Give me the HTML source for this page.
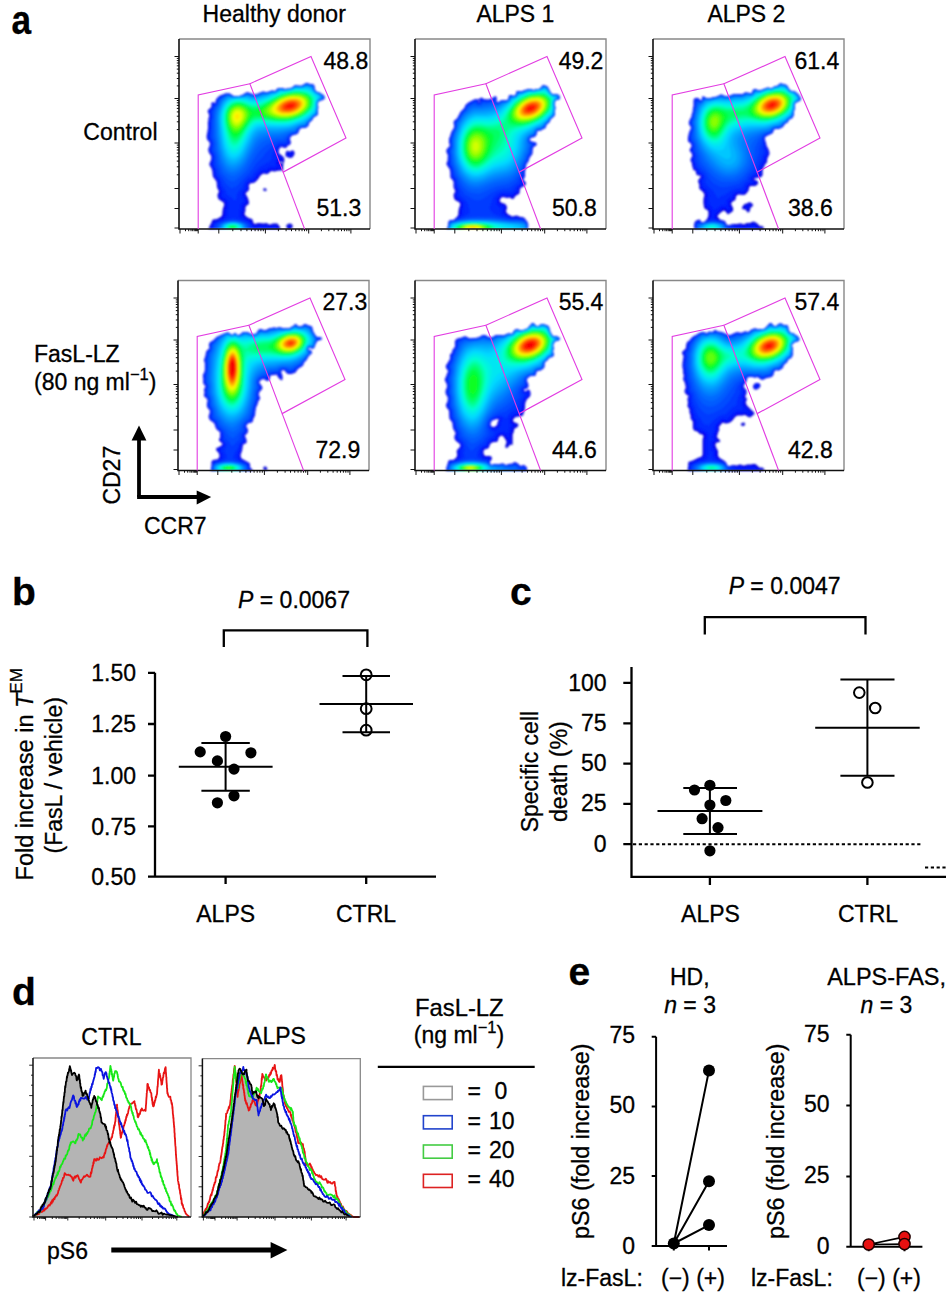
<!DOCTYPE html>
<html><head><meta charset="utf-8"><style>
html,body{margin:0;padding:0;background:#fff;width:946px;height:1292px;overflow:hidden}
svg{display:block}
text{font-family:"Liberation Sans", sans-serif;fill:#000;stroke:#000;stroke-width:0.3px}
</style></head><body>
<svg width="946" height="1292" viewBox="0 0 946 1292">
<rect width="946" height="1292" fill="#fff"/>
<text transform="translate(11.6 33.6) scale(0.86 1)" x="0" y="0" font-size="41" font-weight="bold">a</text>
<text x="274.2" y="22" font-size="23" text-anchor="middle">Healthy donor</text>
<text x="515.4" y="22" font-size="23" text-anchor="middle">ALPS 1</text>
<text x="746.4" y="22" font-size="23" text-anchor="middle">ALPS 2</text>
<text x="157.5" y="139.8" font-size="23" text-anchor="end">Control</text>
<text x="34" y="362.1" font-size="23">FasL-LZ</text>
<text x="34" y="390" font-size="23">(80 ng ml<tspan dy="-10" font-size="16.5">−1</tspan><tspan dy="10">)</tspan></text>
<path d="M139 497 V438" stroke="#000" stroke-width="3.8" fill="none"/>
<path d="M131.6 440.5 L139 425.6 L146.4 440.5 Z" fill="#000"/>
<path d="M137.1 497 H198" stroke="#000" stroke-width="4" fill="none"/>
<path d="M196.7 490.4 L211.2 497 L196.7 504.6 Z" fill="#000"/>
<text x="120" y="475.2" font-size="23" text-anchor="middle" transform="rotate(-90 120 475.2)">CD27</text>
<text x="144" y="533.5" font-size="23">CCR7</text>
<defs><filter id="sb" x="-5%" y="-5%" width="110%" height="110%"><feGaussianBlur stdDeviation="0.8"/></filter></defs>
<g filter="url(#sb)"><path d="M287.6 223.9 286.1 225.9 286.1 226.6 286.9 227.4 287.4 228.9 291.1 228.9 292.6 226.9 292.6 225.1 290.6 223.6ZM264.6 188.1 263.4 189.1 263.1 190.1 264.4 191.1 265.6 191.1 266.6 190.4 266.6 189.6 265.6 188.4ZM286.9 150.4 285.6 153.1 285.6 156.4 288.1 157.1 288.9 157.9 292.4 157.4 294.4 154.4 294.6 153.1 293.9 151.1 293.1 150.4 291.9 150.4 290.4 151.4 288.9 151.4ZM313.4 84.6 309.6 84.1 307.1 82.9 305.9 82.9 304.1 84.6 300.9 85.9 298.4 85.4 297.4 85.9 296.6 85.1 295.6 85.1 295.4 85.6 294.6 85.6 294.4 86.1 290.4 88.4 284.4 89.1 282.4 88.1 279.6 87.9 276.9 89.1 276.1 90.4 274.9 91.1 271.9 90.6 267.9 92.1 264.6 92.1 263.6 91.6 261.9 91.9 255.9 94.6 253.6 94.6 248.1 92.6 246.6 92.6 244.6 93.6 243.6 94.6 239.6 95.9 233.4 96.1 229.6 93.6 225.6 93.6 220.1 95.6 217.6 97.4 215.9 99.9 215.4 101.4 215.6 102.9 215.1 103.4 213.1 102.1 211.4 102.9 211.4 107.1 208.1 110.1 207.6 111.4 209.1 114.6 209.1 117.6 208.4 118.1 208.4 121.1 207.9 122.1 208.1 128.1 206.6 136.4 207.1 139.6 209.4 142.1 209.9 143.6 209.6 145.9 208.1 149.6 209.1 153.1 211.1 155.4 211.4 156.9 211.1 159.9 209.6 162.9 209.4 165.1 211.4 168.1 212.4 170.9 212.9 176.6 216.6 181.4 217.1 187.4 219.1 191.4 217.6 194.4 217.6 196.4 218.4 199.1 223.6 202.6 224.1 203.4 224.1 205.6 222.6 209.4 222.9 210.1 222.4 211.6 222.4 214.4 221.4 216.6 217.1 219.1 213.1 219.6 212.1 220.6 211.6 222.6 209.9 225.4 208.6 228.9 280.4 228.9 279.9 227.1 277.4 223.4 272.9 223.4 270.4 224.4 268.9 224.4 266.6 223.1 263.9 223.6 258.4 223.1 254.6 224.1 253.4 223.1 252.6 220.1 251.9 218.9 248.4 217.9 245.1 215.4 244.6 214.6 244.6 212.9 245.4 210.9 245.4 206.9 246.6 205.4 248.9 203.9 248.9 201.9 248.1 198.6 247.1 196.9 247.1 196.1 245.9 194.9 245.6 193.1 248.1 191.1 249.1 189.4 249.1 187.1 248.6 186.4 249.1 184.4 250.1 183.4 251.6 182.9 253.6 182.9 255.9 181.6 258.6 178.4 259.6 176.4 262.1 173.9 264.4 173.6 265.6 174.1 267.6 174.1 271.1 171.1 274.9 171.6 276.6 171.1 276.9 170.6 278.1 171.1 278.9 170.6 283.4 170.6 282.9 166.9 283.4 165.1 283.1 164.1 283.6 163.4 283.1 163.1 284.1 161.9 284.4 159.1 283.4 156.9 281.1 154.9 279.6 154.1 278.6 152.9 278.9 149.6 279.4 148.4 281.6 146.6 282.9 147.4 286.1 147.9 287.4 145.9 288.6 145.1 289.6 145.1 290.6 143.6 290.9 142.6 289.9 138.9 290.4 137.1 292.1 135.4 297.4 133.9 298.6 131.9 299.4 129.4 300.4 128.4 301.6 127.9 305.1 127.9 308.1 126.1 308.9 123.1 310.9 120.9 311.9 120.4 313.4 117.6 314.4 116.6 316.9 115.6 317.9 114.1 317.9 108.4 318.4 107.6 317.6 105.6 317.9 102.4 319.4 100.9 320.9 100.1 322.6 99.9 324.4 98.4 324.4 96.6 322.6 94.6 320.4 93.4 318.9 91.9 316.9 91.9 315.4 90.4 314.4 88.4 314.4 85.9ZM279.4 162.4 280.4 161.4 281.4 161.4 282.4 162.4 281.6 163.6 280.1 163.6Z" fill="rgb(0, 0, 215)" fill-rule="evenodd"/>
<path d="M288.6 225.1 287.9 226.1 288.6 227.4 288.9 228.9 289.6 228.9 289.6 228.1 291.1 225.9 290.1 225.1ZM293.1 151.9 292.1 151.4 290.6 152.4 288.6 152.4 287.4 151.6 286.4 155.4 289.4 156.6 291.6 156.4 293.4 153.9ZM313.4 84.6 309.6 84.1 307.1 82.9 305.9 82.9 304.1 84.6 300.9 85.9 298.4 85.4 297.4 85.9 296.6 85.1 295.6 85.1 295.4 85.6 294.6 85.6 294.4 86.1 290.4 88.4 284.4 89.1 282.4 88.1 279.6 87.9 276.9 89.1 276.1 90.4 274.9 91.1 271.9 90.6 267.9 92.1 264.6 92.1 263.6 91.6 261.9 91.9 255.9 94.6 253.6 94.6 248.1 92.6 246.6 92.6 244.6 93.6 243.6 94.6 239.6 95.9 233.4 96.1 229.6 93.6 225.6 93.6 223.6 94.4 222.9 95.1 220.1 95.9 217.9 97.6 216.1 100.1 215.9 103.1 215.4 103.6 214.4 103.6 213.6 102.9 211.9 103.1 211.9 107.4 208.6 110.6 208.4 111.4 209.6 114.4 209.6 117.9 208.9 118.4 208.9 121.4 208.4 122.4 208.6 128.4 207.4 136.6 207.9 139.4 209.1 140.6 210.4 143.4 210.1 146.1 209.1 148.6 209.4 152.1 211.6 155.1 211.9 159.9 210.1 164.6 212.1 167.6 213.1 170.4 213.4 175.1 213.9 176.6 217.4 180.9 218.1 186.9 220.1 190.9 219.6 193.4 218.9 194.4 218.9 196.1 219.6 198.6 223.4 200.6 225.4 202.9 225.4 206.4 224.4 208.4 223.9 214.4 222.6 217.4 220.4 219.1 217.6 220.4 213.9 220.9 210.9 226.1 210.1 228.9 278.9 228.9 276.4 224.9 273.4 224.9 270.9 225.9 268.4 225.9 266.1 224.6 264.1 225.1 260.9 225.1 258.4 224.6 256.4 225.4 254.4 225.4 252.4 223.6 250.6 219.9 247.6 219.1 243.9 216.1 243.1 214.9 243.1 212.9 243.9 210.9 243.9 206.9 244.6 205.4 247.6 203.1 246.9 199.1 245.9 197.4 245.9 196.6 244.6 195.1 244.4 193.4 244.6 192.6 247.6 189.9 248.1 188.9 247.6 185.9 248.4 183.6 249.9 182.4 251.1 181.9 253.1 181.9 255.4 180.6 259.4 174.9 261.4 172.9 262.6 172.4 267.1 172.9 270.6 169.9 274.6 170.1 276.1 169.4 281.6 169.4 281.4 167.9 281.9 164.9 279.1 164.6 278.1 163.4 278.1 161.9 280.1 160.1 281.6 160.1 282.9 160.9 283.1 159.4 282.4 157.4 278.1 154.1 277.6 152.9 278.1 149.4 278.9 147.9 281.4 146.1 285.4 147.1 287.1 145.4 289.4 144.4 290.4 142.6 289.6 139.9 290.1 137.1 292.1 135.1 297.6 133.6 299.4 129.4 300.4 128.4 301.6 127.9 305.1 127.9 307.6 126.6 308.6 125.1 308.9 123.1 310.9 120.9 311.9 120.4 313.4 117.6 314.4 116.6 316.1 116.1 317.4 115.1 317.9 114.1 317.9 108.4 318.4 107.6 317.6 105.6 317.9 102.4 319.4 100.9 323.6 99.4 324.4 98.4 324.4 96.6 322.6 94.6 320.4 93.4 318.9 91.9 316.9 91.9 315.4 90.4 314.4 88.4 314.4 85.9Z" fill="rgb(0, 12, 255)" fill-rule="evenodd"/>
<path d="M292.4 152.6 291.1 153.4 287.9 153.1 287.6 154.9 289.9 155.6 291.1 155.4 292.4 153.4ZM313.4 84.9 309.6 84.4 307.1 83.1 305.9 83.1 304.1 84.6 300.9 85.9 298.4 85.4 297.4 85.9 296.6 85.1 295.6 85.1 295.4 85.6 294.6 85.6 294.4 86.1 290.4 88.4 284.4 89.1 282.4 88.1 279.6 87.9 276.9 89.1 276.1 90.4 274.9 91.1 271.6 90.9 267.9 92.4 262.1 92.1 255.9 94.9 253.6 94.9 248.1 92.9 246.6 92.9 243.1 94.9 239.6 95.9 233.4 96.1 231.9 95.1 231.1 95.1 229.6 93.9 226.1 93.9 219.4 96.9 216.6 100.4 216.4 103.1 215.4 104.1 213.9 104.1 213.4 103.6 212.6 103.9 212.4 107.6 209.1 111.4 210.4 114.4 210.4 117.6 209.6 118.9 209.6 121.6 209.1 122.6 209.4 128.6 208.1 136.6 208.4 138.6 210.4 141.4 211.1 143.6 210.9 146.4 209.9 148.6 210.1 151.9 212.4 154.9 212.6 156.4 212.4 160.6 211.9 162.6 211.1 163.6 211.1 164.6 212.9 167.4 213.9 170.1 214.6 176.1 218.1 180.4 218.9 186.1 221.1 190.6 221.1 192.4 219.9 194.9 220.4 197.4 220.9 198.1 223.9 199.6 225.4 200.9 226.6 203.4 226.6 206.1 225.4 209.4 224.9 215.6 223.6 217.9 221.9 219.4 216.6 221.6 214.6 221.6 211.9 226.4 211.1 228.9 277.6 228.9 275.6 226.1 273.4 226.1 270.6 227.1 267.6 226.9 266.1 225.9 264.1 226.4 258.4 225.9 255.6 226.6 253.6 226.1 251.9 224.6 250.1 220.9 247.1 220.1 244.4 218.4 242.1 215.9 241.9 213.1 242.6 210.6 242.9 206.1 243.9 204.4 246.4 202.6 245.6 199.1 243.6 195.6 243.4 193.1 243.6 192.1 246.6 189.4 247.1 188.4 246.6 185.9 247.4 183.4 249.1 181.6 251.1 180.9 252.6 180.9 254.9 179.6 257.6 175.4 260.6 172.1 262.1 171.4 266.9 171.6 269.1 169.4 270.9 168.6 274.9 168.9 276.4 168.1 280.4 168.4 280.6 166.1 278.9 165.9 277.1 164.1 276.9 162.9 277.1 161.4 279.1 159.4 281.9 159.1 281.4 158.1 278.6 156.1 276.9 153.9 276.9 151.4 278.1 147.6 281.1 145.4 282.4 145.4 283.6 146.1 285.4 146.1 286.4 144.9 288.9 143.9 289.6 142.9 289.1 141.4 289.1 138.6 289.9 136.6 291.9 134.9 297.1 133.4 299.1 129.1 300.1 128.1 301.4 127.6 304.9 127.6 307.4 126.4 308.4 124.9 308.6 123.1 312.1 119.6 313.4 117.6 317.6 114.6 317.9 108.4 318.4 107.6 317.6 105.6 317.9 102.4 319.4 100.9 323.6 99.4 324.4 98.4 324.4 97.4 323.9 95.9 322.6 94.6 320.4 93.4 318.9 91.9 316.9 91.9 315.4 90.4 314.4 88.4 314.1 85.9Z" fill="rgb(0, 28, 255)" fill-rule="evenodd"/>
<path d="M313.1 85.1 309.6 84.6 306.9 83.4 305.9 83.4 304.4 84.9 301.1 86.1 297.1 86.1 295.9 85.4 295.6 85.9 294.9 85.9 291.1 88.4 286.1 89.4 284.4 89.4 282.1 88.4 279.9 88.1 277.1 89.4 276.4 90.6 275.1 91.4 271.1 91.1 267.4 92.6 262.1 92.4 256.1 95.1 253.4 95.1 247.9 93.1 246.9 93.1 241.9 95.6 239.6 96.1 233.1 96.4 230.4 94.6 228.1 93.9 225.1 94.6 219.6 97.4 217.1 100.6 216.6 103.6 215.1 104.9 213.4 104.6 213.4 106.6 212.9 108.1 210.1 111.1 210.1 112.1 210.9 113.6 210.9 118.4 210.4 119.1 210.4 121.1 209.9 122.4 210.1 128.4 208.9 136.9 209.1 138.4 211.1 141.1 211.6 142.9 211.6 146.1 210.6 148.9 210.6 150.9 212.9 154.4 213.4 156.6 213.1 160.9 211.9 164.4 213.9 167.6 214.9 170.6 215.4 175.4 218.1 178.6 219.1 180.6 219.9 186.1 221.4 188.4 222.6 191.4 222.6 193.1 221.9 195.9 222.6 196.9 225.9 198.6 228.4 201.4 229.1 204.1 229.1 207.1 228.1 210.6 228.1 214.4 227.1 217.4 225.1 219.1 223.1 220.1 215.1 222.9 212.9 226.4 212.6 228.9 255.1 228.9 252.6 226.9 248.9 221.9 242.9 219.6 239.4 216.9 238.9 212.9 239.6 210.6 240.1 206.1 240.9 204.1 243.4 201.4 243.4 200.1 241.6 196.1 241.6 193.6 242.1 191.9 245.4 188.6 245.4 186.4 246.6 182.9 248.6 180.9 253.1 179.1 254.4 177.9 257.1 173.6 260.4 170.4 263.1 169.4 266.1 169.4 268.1 167.4 269.6 166.6 272.6 166.1 274.1 166.4 275.4 165.9 274.9 165.1 274.9 161.9 275.4 160.4 277.9 158.1 275.9 155.1 275.9 151.4 277.4 147.1 280.4 144.9 282.6 144.6 283.9 145.4 285.1 145.4 286.1 144.1 288.6 143.1 288.9 142.6 288.4 138.9 289.4 136.6 291.4 134.6 296.9 133.1 298.9 128.9 300.1 127.9 301.4 127.4 304.4 127.4 307.1 126.1 308.1 124.9 308.4 122.9 312.1 119.4 313.1 117.4 314.1 116.4 315.9 115.9 317.1 114.9 317.6 113.9 317.6 108.4 318.1 107.6 317.6 106.1 317.9 102.4 319.4 100.6 323.4 99.1 324.1 98.1 324.1 96.9 322.4 94.9 320.1 93.6 318.6 92.1 316.9 92.1 315.1 90.4 314.1 88.6 314.1 86.4Z" fill="rgb(0, 44, 255)" fill-rule="evenodd"/>
<path d="M250.9 227.6 250.1 225.6 248.1 223.1 244.1 221.4 233.9 218.4 227.9 219.6 217.9 223.1 215.6 224.6 214.4 227.6 214.6 228.9 250.9 228.9ZM313.1 85.4 309.4 84.9 306.1 83.6 304.4 85.1 301.1 86.4 297.4 86.4 296.1 85.6 291.4 88.4 286.4 89.4 284.1 89.4 279.9 88.4 277.4 89.6 276.1 91.1 275.1 91.6 271.4 91.4 267.9 92.9 262.6 92.6 256.1 95.4 253.4 95.4 247.1 93.4 241.9 95.9 239.6 96.4 233.1 96.6 229.1 94.4 226.4 94.6 220.1 97.6 217.6 100.9 217.1 103.9 215.9 105.1 213.9 105.6 213.9 107.1 213.1 108.9 210.9 111.4 210.9 112.4 211.6 113.9 211.6 117.9 210.9 119.6 210.9 128.1 209.9 135.1 209.9 137.9 211.9 141.1 212.4 143.1 212.4 145.6 211.4 150.1 212.1 152.1 213.6 154.1 214.1 156.9 213.6 164.6 215.9 169.4 217.1 175.1 219.9 178.4 221.6 182.4 222.4 185.4 224.4 187.9 226.1 191.1 226.9 194.4 233.1 198.4 235.1 200.9 235.6 200.6 237.1 194.1 239.4 189.9 242.4 187.1 242.6 185.6 244.6 181.6 247.6 178.6 251.4 176.6 254.9 171.6 259.4 166.9 262.6 165.1 264.6 164.6 266.9 162.6 269.9 161.4 271.6 158.1 271.4 157.1 272.4 152.9 275.1 147.9 277.1 145.9 280.1 144.1 282.6 143.9 284.4 144.6 285.9 143.4 287.9 142.6 287.9 138.4 288.6 136.6 290.9 134.4 296.6 132.6 298.1 129.4 299.9 127.6 301.6 126.9 304.6 126.9 307.1 125.6 308.1 122.9 310.4 120.4 311.4 119.9 312.9 117.4 314.1 116.1 315.6 115.6 317.4 113.9 317.4 109.6 318.1 107.4 317.4 105.9 317.6 102.1 320.9 99.6 323.4 98.9 323.9 97.1 322.4 95.1 320.1 93.9 318.6 92.4 316.9 92.4 314.1 89.4 313.9 86.9Z" fill="rgb(0, 59, 255)" fill-rule="evenodd"/>
<path d="M216.1 226.6 216.1 228.1 216.6 228.9 248.6 228.9 249.1 227.9 248.9 226.1 247.1 223.9 241.1 221.4 234.4 220.1 229.6 220.4 221.1 222.6 217.4 224.6ZM312.9 85.6 309.1 85.1 306.4 83.9 304.6 85.4 302.1 86.4 297.4 86.6 296.1 85.9 291.4 88.6 286.4 89.6 284.1 89.6 282.4 88.9 280.1 88.6 277.4 89.9 276.4 91.1 274.9 91.9 271.4 91.6 267.9 93.1 262.4 93.1 256.4 95.6 253.1 95.6 247.9 93.9 246.6 93.9 244.1 95.4 241.6 96.1 233.4 96.9 229.4 94.9 227.4 94.9 221.1 97.6 219.4 99.1 217.9 101.6 217.6 104.1 215.9 105.9 214.6 106.4 213.9 109.1 212.4 111.9 212.6 115.6 211.9 121.4 211.6 137.4 212.9 140.4 213.4 142.9 213.1 150.1 214.6 153.4 215.4 156.9 215.9 164.4 219.6 174.4 222.1 177.4 226.1 184.1 229.6 186.9 232.1 188.1 232.9 188.1 237.6 185.4 241.6 180.4 249.9 172.6 256.4 163.1 263.1 156.4 265.4 153.1 271.9 146.6 274.9 144.4 279.4 142.4 284.6 142.1 285.9 141.6 288.9 135.4 291.1 133.6 296.4 132.1 298.1 128.6 299.9 127.1 301.1 126.6 304.1 126.6 306.9 125.4 307.9 122.6 310.1 120.1 311.6 119.1 312.6 117.1 313.9 115.9 316.6 114.6 317.1 113.6 317.4 108.1 317.9 107.4 317.1 105.9 317.4 102.4 319.1 100.4 323.1 98.6 323.4 96.9 322.1 95.4 318.6 92.6 316.4 92.4 313.9 89.4 313.4 86.4Z" fill="rgb(0, 75, 255)" fill-rule="evenodd"/>
<path d="M247.6 226.4 245.9 224.1 243.4 222.9 237.9 221.4 232.6 220.9 226.6 221.6 221.1 223.4 218.1 225.4 217.6 226.1 217.6 228.1 218.1 228.9 247.1 228.9 247.6 227.9ZM312.6 85.9 309.1 85.4 306.1 84.4 304.9 85.6 300.9 86.9 295.6 86.4 291.9 88.6 289.1 89.4 284.1 89.9 282.4 89.1 280.1 88.9 278.4 89.6 274.9 92.1 271.9 91.9 268.1 93.4 262.6 93.4 256.1 96.1 253.4 96.1 246.9 94.1 242.9 96.1 233.4 97.1 229.6 95.4 227.9 95.1 224.1 96.6 220.9 98.4 219.9 99.4 218.6 101.4 217.9 104.6 215.6 107.4 213.9 112.4 213.9 117.6 213.4 120.4 213.4 136.9 214.9 143.1 214.9 149.6 216.9 156.1 217.9 163.6 221.9 172.9 227.9 179.4 229.9 180.6 232.6 181.4 234.6 180.9 236.9 179.6 240.1 177.1 246.9 170.4 257.1 154.1 259.9 150.4 262.9 147.4 266.9 144.6 272.9 141.9 278.6 140.1 283.1 139.9 290.9 133.1 295.9 131.9 297.6 128.6 299.1 127.1 300.9 126.4 304.4 126.1 306.1 125.4 306.9 124.6 307.6 122.4 311.4 118.9 311.9 117.6 313.9 115.6 316.4 114.4 316.9 113.4 317.1 108.1 317.6 107.4 316.9 105.6 317.4 101.9 319.9 99.6 322.6 98.6 323.1 98.1 323.1 97.1 321.4 95.1 319.9 94.4 318.4 92.9 316.4 92.6 314.6 90.9 313.4 88.9 313.1 86.6Z" fill="rgb(0, 91, 255)" fill-rule="evenodd"/>
<path d="M218.6 226.9 219.4 228.9 245.6 228.9 246.6 227.1 246.1 225.6 244.4 224.1 240.9 222.6 235.9 221.6 229.9 221.6 224.9 222.6 220.4 224.6ZM322.1 96.1 320.4 95.1 318.4 93.1 316.4 92.9 313.9 90.4 312.4 86.1 309.6 85.9 306.4 84.6 305.4 85.6 303.1 86.6 300.9 87.1 295.9 86.6 291.6 88.9 285.9 90.1 284.1 90.1 280.4 89.1 278.1 90.1 276.6 91.6 274.9 92.4 271.1 92.4 269.9 93.1 266.9 93.9 262.6 93.9 256.6 96.4 252.9 96.4 247.4 94.4 243.9 96.1 241.9 96.6 233.9 97.4 231.6 96.9 229.1 95.6 227.6 95.6 225.9 96.1 222.9 97.9 220.9 99.9 219.6 101.9 218.9 104.6 216.9 107.9 215.9 110.6 215.1 114.9 214.6 123.9 215.1 136.6 216.4 143.1 216.6 149.4 217.6 152.1 220.1 163.4 224.4 171.4 227.4 174.1 231.4 176.1 234.1 176.1 236.6 175.1 239.9 172.9 245.4 167.1 256.4 148.1 261.4 142.6 264.9 140.6 267.9 139.6 273.4 138.4 281.4 137.4 289.9 132.9 295.1 131.6 296.1 130.6 296.9 128.9 298.9 126.9 301.1 125.9 304.9 125.6 306.1 124.9 307.1 122.4 310.9 118.9 312.1 116.9 313.6 115.4 315.6 114.6 316.4 113.9 317.1 107.6 316.9 102.6 318.6 100.1 322.9 97.9Z" fill="rgb(0, 107, 255)" fill-rule="evenodd"/>
<path d="M219.9 226.4 219.9 227.9 220.6 228.9 244.6 228.9 245.4 227.9 245.4 226.1 243.6 224.4 240.9 223.1 236.4 222.1 229.4 222.1 225.6 222.9 221.9 224.4ZM322.1 96.6 318.1 93.4 316.1 93.1 313.4 90.1 312.4 86.9 311.9 86.4 309.4 86.1 306.6 85.1 304.6 86.4 302.4 87.1 297.4 87.4 295.9 86.9 290.9 89.4 285.1 90.4 280.4 89.4 278.6 90.1 275.1 92.6 271.6 92.6 267.9 94.1 262.9 94.1 262.4 94.6 255.9 96.9 251.4 96.4 247.6 94.9 245.6 95.4 244.1 96.4 240.4 97.1 236.4 97.1 233.1 97.6 229.1 96.1 225.9 96.6 221.9 100.4 220.9 101.9 219.6 105.4 217.6 109.1 216.6 112.6 216.1 118.6 216.6 136.1 217.9 143.4 218.4 149.6 221.6 161.4 224.6 167.1 227.6 170.4 230.6 171.9 234.1 172.1 237.6 170.6 239.4 169.4 243.9 164.6 247.1 159.6 255.1 144.4 257.1 141.6 260.4 138.6 262.6 137.4 267.1 136.1 279.1 135.1 289.9 131.4 294.6 130.4 297.6 127.4 299.9 125.9 305.4 124.9 306.1 124.1 306.9 122.1 310.9 118.4 311.9 116.6 313.1 115.4 316.1 113.6 316.9 107.6 316.9 101.9 318.9 99.6 322.1 98.1 322.6 97.6Z" fill="rgb(0, 125, 255)" fill-rule="evenodd"/>
<path d="M220.9 226.4 220.9 227.9 221.9 228.9 243.4 228.9 244.6 227.4 244.1 225.6 242.9 224.6 240.1 223.4 234.9 222.4 230.6 222.4 225.4 223.4 222.1 224.9ZM321.9 96.9 317.9 93.6 316.6 93.6 315.1 92.6 312.9 89.9 311.9 86.9 306.4 85.6 304.9 86.6 300.9 87.6 297.4 87.6 295.9 87.1 292.4 89.1 284.4 90.6 281.9 89.9 279.9 89.9 278.4 90.6 276.9 92.1 275.1 92.9 271.9 92.9 268.1 94.4 262.9 94.6 256.6 97.1 252.9 97.1 247.6 95.4 243.4 96.9 240.4 97.4 232.6 97.9 228.6 96.4 226.9 97.1 222.6 101.1 220.9 104.4 218.4 110.4 217.4 116.9 217.9 134.1 219.6 147.9 222.4 157.9 225.6 164.4 228.4 167.1 231.6 168.6 235.1 168.4 239.6 165.6 242.6 162.4 245.6 157.9 254.6 140.4 256.1 138.4 259.9 135.1 262.9 133.9 265.4 133.4 277.6 132.9 283.4 131.9 288.1 130.4 293.4 129.4 299.6 125.6 303.6 124.9 305.4 124.1 306.6 121.9 310.9 117.9 310.9 117.4 313.4 114.9 315.6 113.6 316.6 107.6 316.6 101.9 319.1 99.1 322.1 97.6Z" fill="rgb(0, 143, 255)" fill-rule="evenodd"/>
<path d="M243.6 226.4 242.6 225.1 239.6 223.6 232.9 222.6 229.4 222.9 225.1 223.9 223.1 224.9 221.9 226.1 221.6 227.4 222.9 228.9 242.4 228.9 243.4 228.1ZM321.6 97.1 318.1 94.1 315.9 93.6 312.6 90.1 311.6 87.1 308.4 86.6 306.6 85.9 305.1 86.9 301.1 87.9 297.4 87.9 296.1 87.4 291.9 89.6 284.4 90.9 281.9 90.1 279.9 90.1 278.1 91.1 277.4 92.1 275.1 93.1 271.9 93.1 268.4 94.6 264.9 94.9 255.9 97.6 253.6 97.6 250.1 96.9 247.9 95.9 246.4 95.9 244.6 96.9 240.6 97.6 232.4 98.1 229.4 97.1 227.1 98.1 223.1 102.1 220.9 106.9 218.9 112.9 218.4 118.6 219.1 133.4 220.9 146.6 223.4 155.6 226.6 161.9 228.6 163.9 231.6 165.4 235.4 165.1 239.6 162.4 243.1 158.1 245.1 154.9 253.1 138.6 254.6 136.4 257.9 133.1 259.6 132.1 265.1 130.9 276.9 130.9 287.1 129.4 292.6 128.1 298.6 125.1 303.9 123.6 305.1 122.9 310.6 117.6 313.1 114.6 315.4 113.4 316.4 107.6 316.4 101.9 318.9 98.9 321.4 97.6Z" fill="rgb(0, 162, 255)" fill-rule="evenodd"/>
<path d="M222.4 226.9 222.9 228.1 223.9 228.9 241.6 228.9 242.9 227.4 242.6 226.1 241.4 224.9 239.1 223.9 235.6 223.1 230.1 223.1 226.4 223.9 223.6 225.1ZM321.1 97.1 317.9 94.4 315.4 93.6 312.6 90.6 311.4 87.9 306.1 86.6 303.9 87.6 301.1 88.1 295.6 87.9 292.4 89.6 286.6 90.9 282.6 90.9 281.6 90.4 280.1 90.4 277.1 92.6 275.4 93.4 271.4 93.6 267.1 95.4 256.1 98.6 251.9 98.4 247.6 96.9 245.1 96.9 242.6 97.6 236.9 97.9 235.1 98.4 232.1 98.4 230.1 97.9 227.4 99.1 223.6 103.1 221.9 106.9 219.9 112.9 219.4 118.6 220.4 133.6 222.4 147.1 223.9 152.4 226.1 157.4 228.6 160.6 231.6 162.4 234.9 162.4 238.1 160.6 240.9 157.9 243.4 154.4 252.9 135.4 256.1 131.6 259.1 129.9 264.1 128.9 277.4 129.1 286.4 128.1 291.4 127.1 298.4 124.1 303.9 122.4 309.4 118.4 312.6 114.6 315.1 113.4 316.1 107.6 315.9 102.9 316.4 101.4 318.4 98.9Z" fill="rgb(0, 180, 255)" fill-rule="evenodd"/>
<path d="M223.4 226.4 223.4 227.6 224.6 228.9 240.6 228.9 242.1 227.4 241.9 226.1 240.9 225.1 238.6 224.1 234.9 223.4 230.6 223.4 227.6 223.9 224.1 225.4ZM319.1 96.1 317.6 94.6 315.6 94.1 310.1 88.4 307.4 87.6 304.4 87.6 301.4 88.4 295.9 88.1 291.6 90.1 286.6 91.1 282.6 91.1 280.4 90.6 276.1 93.4 272.4 93.9 267.6 96.1 256.4 99.6 251.6 99.4 247.4 97.9 245.1 97.6 241.1 97.9 239.6 98.4 237.4 98.1 235.4 98.6 231.6 98.4 228.9 99.4 225.4 102.4 223.4 105.6 221.1 111.6 220.4 116.9 220.6 125.6 222.9 142.6 224.4 149.1 227.1 155.4 229.1 157.9 232.4 159.6 235.4 159.4 238.9 157.1 241.6 153.9 243.6 150.6 252.1 133.4 254.6 130.4 258.1 128.1 260.9 127.4 264.1 127.1 278.4 127.6 286.1 126.9 291.4 125.9 303.1 121.6 309.6 117.1 314.6 112.9 315.9 107.4 315.6 102.9 316.4 100.9 317.6 99.1 319.6 97.6Z" fill="rgb(0, 199, 255)" fill-rule="evenodd"/>
<path d="M224.1 226.4 224.1 227.6 225.6 228.9 239.6 228.9 241.4 227.1 241.1 226.1 240.4 225.4 237.4 224.1 234.4 223.6 231.1 223.6 227.1 224.4 225.4 225.1ZM317.6 95.9 309.4 89.1 305.9 88.4 295.9 88.4 292.4 90.1 286.4 91.4 280.6 91.1 275.6 93.9 271.9 94.9 268.6 96.6 258.1 100.4 252.6 100.6 246.9 98.9 241.6 98.1 239.6 98.6 232.9 98.9 228.6 100.6 226.1 102.9 223.9 106.6 222.1 111.4 221.4 115.4 221.4 123.1 223.4 138.4 225.1 146.6 227.6 152.6 230.4 155.9 232.6 156.9 234.6 156.9 237.6 155.4 240.1 152.9 242.4 149.6 249.6 134.6 251.6 131.4 254.6 128.1 257.1 126.6 262.4 125.6 270.1 126.1 282.6 126.1 288.6 125.4 301.9 121.1 308.9 116.6 312.9 113.1 314.9 110.6 315.6 107.4 315.4 102.9 316.1 100.6 318.1 98.4 318.1 96.6Z" fill="rgb(0, 217, 255)" fill-rule="evenodd"/>
<path d="M224.9 226.4 224.9 227.6 226.6 228.9 238.6 228.9 239.6 228.4 240.6 227.1 240.4 226.1 239.1 225.1 233.9 223.9 228.4 224.4 225.9 225.4ZM316.9 96.6 312.4 92.4 308.6 89.9 304.4 89.1 295.6 88.9 291.6 90.6 286.4 91.6 280.6 91.9 267.9 97.9 260.9 100.6 256.9 101.6 252.1 101.6 247.6 100.1 241.4 98.9 234.9 99.1 229.6 101.1 226.6 103.6 224.9 106.4 223.1 110.9 222.1 116.4 222.4 124.1 224.4 137.4 226.4 145.9 228.4 150.4 230.4 152.9 232.6 154.1 234.9 154.1 237.4 152.9 239.9 150.4 242.6 146.1 248.4 134.1 250.6 130.4 254.4 126.4 256.6 125.1 259.6 124.4 266.4 124.4 274.6 125.1 281.4 125.1 288.4 124.4 292.6 123.4 300.6 120.6 305.6 117.9 311.6 113.1 314.1 110.1 315.1 108.1 315.1 102.9 315.6 101.1 316.9 99.4Z" fill="rgb(0, 230, 242)" fill-rule="evenodd"/>
<path d="M225.6 226.4 225.9 227.9 227.6 228.9 237.6 228.9 239.1 228.1 239.9 227.1 239.4 225.9 238.1 225.1 232.9 224.1 228.6 224.6ZM315.6 96.9 311.9 93.1 308.1 90.6 304.1 89.9 295.1 89.6 291.6 90.9 280.6 92.6 267.1 99.1 257.4 102.6 251.6 102.6 245.6 100.6 240.6 99.6 236.4 99.6 230.9 101.4 227.1 104.4 224.9 108.4 223.4 113.1 222.9 118.4 223.4 125.1 225.1 135.4 226.6 141.9 229.1 148.1 231.4 150.6 232.9 151.4 234.9 151.4 237.4 150.1 239.4 148.1 241.6 144.9 247.6 132.9 250.1 128.9 253.6 125.1 255.1 124.1 258.4 123.1 265.6 123.1 276.6 124.1 287.1 123.6 292.9 122.4 299.6 120.1 303.6 118.1 308.4 114.9 313.1 110.1 314.9 106.1 314.9 102.9 315.9 100.1Z" fill="rgb(0, 242, 227)" fill-rule="evenodd"/>
<path d="M226.4 226.4 226.4 227.4 228.9 228.9 236.4 228.9 237.9 228.4 239.1 227.1 238.1 225.6 235.1 224.6 230.4 224.6 227.6 225.4ZM314.6 97.4 311.4 93.9 307.6 91.4 303.9 90.6 296.4 90.1 287.6 91.6 280.6 93.4 265.9 100.6 261.1 102.6 256.4 103.9 251.1 103.6 244.9 101.4 239.9 100.4 235.4 100.6 230.4 102.6 226.9 106.1 225.4 109.1 223.9 114.9 223.9 122.1 224.6 127.4 226.9 137.9 229.4 144.9 232.1 148.1 233.4 148.6 234.9 148.6 237.4 147.4 240.9 143.1 247.1 131.4 249.9 127.1 252.4 124.4 255.6 122.4 257.4 121.9 264.4 121.9 276.4 123.1 285.9 122.9 293.4 121.4 298.6 119.6 302.9 117.6 308.6 113.6 312.9 108.9 314.6 103.4Z" fill="rgb(0, 253, 212)" fill-rule="evenodd"/>
<path d="M227.1 226.6 227.1 227.4 227.6 227.9 230.4 228.9 234.9 228.9 237.4 228.1 238.1 227.4 238.1 226.4 237.6 225.9 234.6 224.9 229.6 225.1 228.1 225.6ZM313.4 97.4 310.6 94.4 307.1 92.1 302.1 91.1 295.6 90.9 288.1 92.1 281.1 93.9 260.6 103.9 255.9 105.1 251.6 104.9 243.4 101.9 239.1 101.1 235.6 101.4 231.1 103.1 227.4 106.9 225.6 110.6 224.6 115.1 224.6 121.6 225.6 127.9 228.1 137.6 230.4 142.9 232.4 145.1 233.4 145.6 235.4 145.6 237.9 144.1 241.6 139.1 246.1 130.9 249.4 125.9 252.1 122.9 254.9 121.1 260.4 120.4 275.4 122.1 284.9 122.1 288.9 121.6 294.9 120.1 299.1 118.6 303.1 116.6 308.9 112.4 311.9 108.9 313.1 106.1 313.9 102.6 313.9 99.4Z" fill="rgb(0, 255, 177)" fill-rule="evenodd"/>
<path d="M227.9 226.9 228.6 227.9 231.1 228.6 234.4 228.6 236.1 228.1 237.4 227.1 236.6 225.9 233.9 225.1 230.1 225.4 228.4 226.1ZM312.4 97.6 310.1 95.1 306.6 92.9 300.1 91.6 294.6 91.6 288.4 92.6 280.9 94.6 262.6 104.1 255.9 106.4 252.6 106.4 250.6 105.9 244.4 103.1 240.6 102.1 235.9 102.1 232.9 103.1 229.9 105.1 227.9 107.6 226.6 110.1 225.4 115.1 225.4 121.1 225.9 124.6 227.6 131.9 229.6 137.6 230.6 139.6 232.6 142.1 233.6 142.6 235.9 142.6 237.1 141.9 240.4 138.4 246.4 128.4 250.1 123.1 252.9 120.6 255.6 119.4 260.6 119.1 274.1 121.1 284.4 121.4 291.1 120.4 299.6 117.6 305.9 113.9 310.9 108.9 311.9 107.1 312.9 103.6 312.9 99.6Z" fill="rgb(0, 255, 139)" fill-rule="evenodd"/>
<path d="M228.9 226.6 228.9 227.1 229.9 227.9 232.6 228.4 234.6 228.1 236.4 227.1 235.9 226.1 234.6 225.6 230.9 225.6ZM311.6 98.6 309.9 96.1 306.1 93.6 300.9 92.4 295.9 92.1 287.6 93.4 281.4 95.1 272.9 99.4 261.4 105.9 255.6 107.9 251.9 107.6 244.4 104.1 241.1 103.1 236.4 102.9 234.4 103.4 231.1 105.1 228.6 107.9 227.1 110.9 226.1 115.1 226.1 120.9 227.9 129.1 230.9 136.6 232.9 139.1 234.6 139.9 237.1 139.1 241.1 134.9 249.9 121.6 252.1 119.4 254.9 117.9 259.4 117.6 275.4 120.4 284.4 120.6 290.1 119.9 298.4 117.4 305.4 113.4 309.4 109.6 311.1 106.6 311.9 104.1 312.1 101.1Z" fill="rgb(0, 255, 101)" fill-rule="evenodd"/>
<path d="M235.1 226.6 232.6 225.9 230.1 226.6 230.1 227.1 230.9 227.6 233.4 227.9 234.9 227.4ZM310.6 98.9 307.9 95.6 305.9 94.4 299.6 92.9 294.4 92.9 289.1 93.6 281.1 95.9 272.6 100.4 260.6 107.6 255.1 109.9 253.6 109.9 251.4 109.1 247.6 106.9 241.6 104.1 237.1 103.6 234.1 104.4 231.9 105.6 229.6 107.9 228.4 109.9 227.1 113.6 226.9 120.6 229.1 129.6 231.1 133.9 232.6 135.9 234.1 136.9 236.4 136.9 237.4 136.4 241.1 132.6 250.4 119.1 253.4 116.4 255.4 115.6 258.9 115.9 269.6 118.6 279.1 119.9 287.4 119.6 293.4 118.4 297.9 116.9 304.1 113.4 309.1 108.6 310.1 106.9 311.1 103.4 311.1 100.9Z" fill="rgb(0, 255, 63)" fill-rule="evenodd"/>
<path d="M239.6 104.6 235.4 104.9 231.6 106.9 229.1 110.1 227.9 113.9 227.6 120.1 228.9 125.9 230.1 129.1 231.9 132.1 234.6 134.4 236.4 134.4 237.6 133.9 241.1 130.6 246.4 123.1 251.9 114.1 251.9 112.4 248.4 108.9 243.6 105.9ZM309.9 99.6 309.1 98.1 307.1 96.1 304.9 94.9 301.6 93.9 295.6 93.4 290.9 93.9 285.4 95.1 281.6 96.4 276.1 99.1 260.9 109.1 258.6 111.6 258.6 112.6 260.4 114.4 263.6 115.9 274.9 118.6 279.4 119.1 285.6 119.1 291.9 118.1 296.6 116.6 301.4 114.4 304.6 112.1 308.1 108.6 309.4 106.4 310.1 103.9Z" fill="rgb(16, 255, 36)" fill-rule="evenodd"/>
<path d="M240.1 105.6 235.9 105.6 232.4 107.4 230.4 109.6 228.6 114.1 228.4 119.6 229.6 125.1 231.9 129.6 232.9 130.9 234.9 132.1 236.6 132.1 238.6 131.1 241.6 128.1 247.1 119.9 249.4 114.6 249.1 112.4 246.6 109.1 243.9 107.1ZM309.1 100.6 308.1 98.4 306.4 96.6 304.1 95.4 299.1 94.1 293.6 94.1 285.6 95.6 281.9 96.9 277.9 98.9 270.1 103.9 263.1 109.6 262.4 111.1 262.4 112.4 263.6 113.9 267.6 115.9 277.1 118.1 286.4 118.4 293.1 117.1 296.9 115.9 301.4 113.6 303.9 111.9 307.1 108.6 308.9 105.4 309.4 102.6Z" fill="rgb(56, 255, 25)" fill-rule="evenodd"/>
<path d="M238.6 106.4 235.1 106.9 231.6 109.4 230.1 111.9 229.1 116.1 229.4 120.6 230.6 124.9 232.1 127.6 234.1 129.6 235.6 130.1 238.4 129.4 241.6 126.4 245.9 119.9 247.6 114.9 246.9 111.6 244.1 108.6 241.6 107.1ZM308.1 100.6 307.1 98.6 305.6 97.1 302.6 95.6 299.6 94.9 294.9 94.6 286.9 95.9 281.6 97.6 272.9 102.9 269.4 105.6 265.9 109.1 265.1 110.6 265.1 111.9 265.9 113.1 269.1 115.1 277.4 117.4 287.4 117.6 292.6 116.6 299.6 113.9 303.4 111.4 306.4 108.4 308.1 104.9Z" fill="rgb(96, 255, 14)" fill-rule="evenodd"/>
<path d="M239.9 107.6 237.1 107.4 233.9 108.6 231.4 111.4 230.1 114.9 230.1 119.9 231.1 123.4 232.9 126.4 235.6 128.1 238.6 127.4 241.4 124.9 244.1 120.9 245.9 116.6 246.1 114.4 245.1 111.4 242.9 109.1ZM307.1 100.6 305.1 97.9 302.4 96.4 299.9 95.6 292.4 95.4 287.1 96.4 282.6 97.9 279.1 99.6 272.9 103.9 268.4 108.4 267.6 109.9 267.6 111.6 268.4 112.9 270.1 114.1 272.9 115.4 277.6 116.6 285.9 117.1 292.1 116.1 296.6 114.6 299.6 113.1 302.6 111.1 305.4 108.4 306.6 106.4 307.4 104.1Z" fill="rgb(137, 255, 4)" fill-rule="evenodd"/>
<path d="M239.1 108.6 236.4 108.6 233.9 109.9 232.4 111.6 231.1 114.6 230.9 118.1 231.6 121.6 232.9 124.1 235.4 126.1 237.4 126.1 239.6 124.9 242.4 121.6 244.4 117.4 244.6 113.9 243.6 111.6 241.9 109.9ZM306.4 101.6 305.6 99.9 304.4 98.4 300.9 96.6 297.1 95.9 293.4 95.9 287.4 96.9 280.4 99.6 273.9 104.1 270.1 108.4 269.6 111.1 270.1 112.1 271.9 113.6 276.9 115.6 281.4 116.4 287.1 116.4 291.6 115.6 297.4 113.6 302.1 110.6 304.6 108.1 306.1 105.4Z" fill="rgb(174, 255, 0)" fill-rule="evenodd"/>
<path d="M238.9 109.9 236.6 109.9 234.9 110.6 232.9 112.9 232.1 114.9 231.9 117.4 232.6 120.9 233.4 122.4 234.9 123.9 236.4 124.4 238.4 123.9 240.9 121.6 242.6 118.6 243.1 116.9 243.1 113.9 242.6 112.6 241.4 111.1ZM305.4 101.9 304.6 100.1 303.1 98.6 299.1 96.9 291.6 96.6 286.9 97.6 281.6 99.6 275.1 104.1 272.1 107.6 271.4 109.6 271.6 111.1 273.1 112.9 275.4 114.1 281.1 115.6 288.1 115.6 292.9 114.6 296.4 113.4 299.6 111.6 303.6 108.1 305.4 104.6Z" fill="rgb(209, 255, 0)" fill-rule="evenodd"/>
<path d="M238.6 111.4 236.6 111.4 234.9 112.4 233.4 115.1 233.1 117.4 234.1 120.6 235.9 122.1 237.6 122.1 238.6 121.6 240.4 119.9 241.4 117.9 241.4 113.9 240.1 112.1ZM304.4 101.9 303.6 100.4 302.4 99.1 298.1 97.4 292.4 97.1 287.1 98.1 281.1 100.6 276.6 103.9 274.1 106.6 273.1 108.9 273.1 110.1 273.6 111.4 274.6 112.4 277.4 113.9 279.9 114.6 286.9 115.1 292.4 114.1 298.4 111.6 302.6 108.1 304.4 104.9Z" fill="rgb(244, 255, 0)" fill-rule="evenodd"/>
<path d="M238.4 113.6 236.1 113.9 235.1 115.4 235.1 118.1 236.1 119.4 236.9 119.6 237.9 119.4 239.1 118.1 239.6 116.9 239.6 115.1ZM303.4 102.1 302.1 100.1 298.1 98.1 291.1 97.9 287.6 98.6 281.1 101.4 278.4 103.4 275.6 106.4 274.9 107.9 274.6 109.6 275.1 110.9 276.6 112.4 280.1 113.9 282.9 114.4 287.9 114.4 292.9 113.4 296.6 111.9 301.4 108.4 303.4 104.9Z" fill="rgb(255, 234, 0)" fill-rule="evenodd"/>
<path d="M302.1 101.9 300.6 100.1 296.9 98.6 292.4 98.4 287.1 99.4 282.9 101.1 279.9 103.1 276.9 106.4 276.1 109.4 277.6 111.6 281.6 113.4 288.6 113.6 293.1 112.6 297.9 110.4 301.1 107.4 302.4 104.9Z" fill="rgb(255, 203, 0)" fill-rule="evenodd"/>
<path d="M301.1 102.4 299.6 100.6 297.6 99.6 295.4 99.1 291.4 99.1 287.6 99.9 284.4 101.1 281.1 103.1 278.6 105.6 277.6 107.9 277.6 109.1 278.6 110.9 282.1 112.6 289.1 112.9 291.6 112.4 295.6 110.9 299.9 107.6 301.4 104.6Z" fill="rgb(255, 172, 0)" fill-rule="evenodd"/>
<path d="M300.1 103.1 298.1 100.9 295.1 99.9 290.9 99.9 286.1 101.1 282.1 103.4 279.6 106.1 279.1 108.9 280.6 110.9 282.9 111.9 289.4 112.1 293.9 110.9 297.4 108.9 299.9 105.9Z" fill="rgb(255, 141, 0)" fill-rule="evenodd"/>
<path d="M298.9 103.6 297.6 101.9 295.6 100.9 290.9 100.6 288.4 101.1 284.4 102.9 282.6 104.1 280.9 106.4 280.6 108.6 282.1 110.4 284.9 111.4 289.4 111.4 291.6 110.9 296.6 108.4 298.6 105.9Z" fill="rgb(255, 109, 0)" fill-rule="evenodd"/>
<path d="M297.4 103.9 296.1 102.4 294.4 101.6 291.9 101.4 288.9 101.9 286.1 102.9 283.9 104.4 282.6 105.9 282.1 107.9 283.4 109.6 285.1 110.4 288.4 110.6 291.1 110.1 295.4 108.1 297.4 105.6Z" fill="rgb(255, 77, 0)" fill-rule="evenodd"/>
<path d="M295.6 104.1 294.6 103.1 293.4 102.6 288.9 102.9 284.9 105.1 284.1 106.4 284.1 107.9 285.1 108.9 286.4 109.4 291.1 109.1 293.9 107.9 295.4 106.4Z" fill="rgb(255, 44, 0)" fill-rule="evenodd"/>
<path d="M293.4 104.9 291.4 103.9 289.4 104.1 286.9 105.6 286.6 107.1 288.6 108.1 290.6 107.9 292.9 106.6Z" fill="rgb(253, 17, 0)" fill-rule="evenodd"/></g>
<g filter="url(#sb)"><path d="M547.4 86.4 544.6 85.6 542.6 85.6 540.1 88.4 538.9 88.9 537.1 88.9 535.9 89.6 533.6 90.1 529.1 89.1 523.6 90.6 521.9 91.6 519.9 91.6 517.4 90.9 516.6 91.4 516.1 94.1 515.1 95.4 513.4 95.9 511.1 94.9 510.1 95.4 509.6 95.1 508.9 95.9 508.6 98.4 507.6 99.9 505.9 100.6 500.9 100.4 498.6 102.1 497.6 102.4 496.4 101.4 496.6 97.4 495.9 96.4 494.6 96.4 491.9 98.4 488.1 99.6 486.1 99.6 483.4 98.9 481.9 97.6 479.6 98.4 479.4 99.4 474.4 99.4 468.6 102.4 465.6 104.9 464.4 108.1 460.9 111.4 457.1 118.4 453.9 121.1 453.6 122.9 454.4 126.6 453.4 129.1 451.9 131.1 450.4 135.1 450.4 136.1 449.1 138.6 448.9 141.4 449.9 145.6 449.1 147.1 447.9 147.9 446.4 149.9 446.4 151.9 447.9 154.9 447.6 161.1 446.6 163.1 446.6 164.6 449.9 169.4 450.4 172.6 450.4 177.4 453.1 180.4 453.6 181.9 453.6 187.4 455.1 190.4 455.1 191.9 453.6 194.4 453.9 197.6 454.4 199.1 455.1 199.9 459.6 202.6 460.1 203.4 460.1 205.6 458.6 209.4 458.9 210.1 458.4 211.6 458.4 214.4 457.4 216.6 453.6 220.1 450.4 219.9 448.9 220.9 447.4 228.9 528.1 228.9 528.1 224.1 527.4 222.9 527.1 221.4 525.4 219.4 525.1 218.4 522.6 216.9 520.1 217.1 516.9 215.6 511.9 216.6 509.6 214.9 508.1 214.4 506.1 211.9 506.1 210.4 506.9 208.4 506.9 207.1 506.1 205.1 504.4 203.4 502.9 203.4 502.6 202.9 500.9 202.6 499.9 201.6 499.9 199.9 500.4 198.6 501.6 197.4 502.6 197.1 505.4 197.4 506.6 198.1 509.9 197.6 512.1 198.9 513.6 199.1 513.9 198.1 515.9 195.6 518.9 194.1 519.6 192.9 519.9 188.9 521.1 187.6 524.4 185.9 525.9 184.1 525.9 182.6 523.4 180.1 523.4 179.1 524.1 178.4 525.1 175.9 525.1 171.6 526.4 164.1 528.6 161.1 529.6 157.6 532.4 153.9 532.6 149.1 533.1 147.4 534.1 146.4 536.1 145.4 536.6 144.6 536.6 143.6 535.4 142.4 532.1 141.9 530.4 141.1 529.6 140.1 529.6 139.1 531.4 137.4 534.4 136.9 535.6 135.9 536.6 134.1 537.1 131.4 537.9 130.4 540.6 130.6 543.1 128.9 544.6 128.4 545.9 126.9 546.1 125.4 547.1 123.9 549.6 121.9 550.6 119.1 553.9 116.6 555.1 113.6 554.9 110.4 555.4 107.9 555.1 106.4 554.4 105.1 554.4 102.6 556.1 100.1 558.9 99.4 559.9 98.4 559.6 96.1 557.9 94.6 553.1 94.6 551.9 93.9 550.6 92.4ZM478.9 100.4 479.6 100.6 479.6 101.9 479.1 102.4 478.4 101.9 478.4 100.9Z" fill="rgb(0, 0, 215)" fill-rule="evenodd"/>
<path d="M547.4 86.4 544.6 85.6 542.6 85.6 540.1 88.4 538.9 88.9 537.1 88.9 535.9 89.6 533.6 90.1 529.1 89.1 523.6 90.6 521.9 91.6 519.9 91.6 517.4 90.9 516.6 91.4 516.1 94.1 515.1 95.4 513.4 95.9 511.1 94.9 510.1 95.4 509.6 95.1 508.9 95.9 508.6 98.4 507.6 99.9 505.9 100.6 500.9 100.4 498.6 102.1 497.6 102.4 496.4 101.4 496.4 97.4 495.9 96.6 494.9 96.6 492.4 98.4 488.4 99.9 484.9 99.6 483.1 99.1 482.1 98.1 479.9 98.6 479.6 99.6 474.6 99.6 468.9 102.6 465.9 105.1 464.1 108.9 460.6 112.1 457.4 118.4 454.4 120.9 453.9 122.9 454.6 126.4 453.9 128.6 451.4 132.9 450.6 136.1 449.4 138.9 449.1 141.1 450.1 145.6 449.4 147.4 447.6 148.6 446.9 150.1 446.9 151.6 448.1 154.4 448.1 161.4 447.4 162.6 447.1 164.4 450.1 168.4 450.9 172.4 450.9 176.9 453.6 180.1 454.1 181.6 454.4 187.1 455.9 190.1 455.9 192.4 454.6 194.9 455.4 198.6 459.4 200.9 461.1 202.9 461.4 205.6 460.4 207.9 459.9 213.4 458.9 216.1 457.9 217.4 454.6 219.4 453.9 220.4 450.6 220.1 449.1 220.9 448.4 222.4 448.4 224.9 447.4 228.9 528.1 228.9 527.9 227.6 528.4 225.4 527.4 221.9 524.6 218.9 522.9 217.9 519.9 217.9 517.1 216.9 511.4 217.4 510.1 216.9 509.1 215.9 507.4 215.4 505.9 214.1 504.6 211.9 504.6 210.4 505.4 208.4 505.4 206.9 503.9 204.6 502.4 204.6 501.9 204.1 500.4 203.9 498.9 202.4 498.6 201.1 499.4 198.1 500.9 196.6 502.4 196.1 505.9 196.4 506.6 196.9 510.4 196.6 512.9 197.6 515.4 194.6 518.1 193.1 518.6 192.4 518.6 189.6 519.1 188.4 520.6 186.9 523.1 185.6 524.9 184.1 524.9 182.4 522.9 180.6 522.9 178.9 523.6 178.1 524.6 175.6 525.1 169.4 526.1 164.1 528.4 161.1 529.1 158.1 532.1 153.6 532.4 149.1 532.9 147.4 536.4 144.4 536.4 143.6 535.4 142.6 530.4 141.1 529.6 140.1 529.6 139.1 531.4 137.4 534.4 136.9 535.6 135.9 536.6 134.1 537.1 131.4 537.9 130.4 540.6 130.6 543.1 128.9 544.6 128.4 545.9 126.9 546.1 125.4 547.1 123.9 549.6 121.9 550.6 119.1 553.9 116.6 554.9 114.6 554.9 110.4 555.4 107.4 554.4 105.1 554.4 102.6 556.1 100.1 558.9 99.4 559.9 98.4 559.9 96.6 557.9 94.6 553.1 94.6 551.9 93.9 550.6 92.4ZM478.6 100.1 479.9 100.4 479.9 101.9 479.1 102.6 478.1 101.9 478.1 100.6Z" fill="rgb(0, 12, 255)" fill-rule="evenodd"/>
<path d="M547.4 86.4 544.6 85.6 542.6 85.6 540.1 88.4 538.9 88.9 537.1 88.9 535.9 89.6 533.6 90.1 529.1 89.1 523.6 90.6 521.9 91.6 519.1 91.6 517.4 91.1 516.9 91.4 516.9 92.6 515.1 95.4 513.4 95.9 511.1 95.1 509.1 95.9 508.6 98.9 506.6 100.6 501.1 100.6 498.9 102.4 497.9 102.6 496.9 102.4 495.9 101.4 495.6 97.1 493.9 97.6 492.1 99.1 488.4 100.4 485.9 100.4 482.9 99.6 481.9 98.6 480.6 98.9 480.1 99.9 480.4 101.9 479.6 102.9 478.4 102.9 477.9 102.4 477.9 100.1 474.9 100.1 468.9 103.1 466.4 105.1 464.9 108.6 461.4 111.9 457.6 118.6 454.6 121.4 454.4 123.6 454.9 126.9 451.6 133.4 451.1 136.1 449.9 138.9 449.6 141.1 450.6 144.6 450.4 146.4 447.4 150.4 447.6 152.1 448.4 152.9 448.9 154.6 448.6 161.6 447.9 164.1 450.9 168.9 451.1 171.6 451.6 172.6 451.6 176.9 454.1 179.6 454.9 181.4 455.1 186.6 456.9 190.4 456.9 192.4 455.6 194.6 456.1 197.6 461.4 201.4 462.1 202.6 462.4 205.9 461.4 208.4 460.9 211.6 461.1 212.9 460.1 215.9 458.4 217.9 455.1 219.6 454.1 220.6 450.6 220.6 449.4 221.4 448.6 222.6 448.6 224.4 448.1 225.1 447.4 228.9 527.9 228.9 527.9 224.1 526.6 221.6 523.9 219.1 522.6 218.6 518.9 218.4 517.1 217.6 511.4 218.1 506.1 215.6 503.6 212.6 503.6 209.6 504.1 208.4 503.9 206.4 503.4 205.9 500.4 205.1 498.4 203.6 497.6 202.1 497.6 199.9 498.9 197.1 500.6 195.6 502.4 195.1 505.9 195.4 506.9 195.9 510.9 195.6 512.4 196.4 514.9 193.6 517.4 192.4 518.1 188.1 520.1 186.1 524.1 183.6 524.1 183.1 522.1 180.9 522.1 178.6 523.1 177.6 524.1 175.4 524.1 171.6 524.6 170.9 525.6 164.1 528.1 160.6 528.6 158.1 531.6 153.6 531.9 149.1 532.6 146.9 535.9 144.4 535.9 143.9 534.9 142.9 531.9 142.1 531.4 142.4 529.4 140.4 529.4 138.9 531.1 137.1 534.1 136.6 535.4 135.6 536.4 133.9 536.9 131.4 537.9 130.1 540.4 130.4 542.9 128.6 544.4 128.1 545.6 126.6 545.9 125.4 546.9 123.9 549.4 121.9 550.6 119.1 553.9 116.6 554.9 114.6 554.9 110.4 555.4 107.4 554.4 105.1 554.4 102.6 556.1 100.1 558.9 99.4 559.9 98.4 559.9 96.6 557.9 94.6 553.1 94.6 551.9 93.9 550.6 92.4Z" fill="rgb(0, 28, 255)" fill-rule="evenodd"/>
<path d="M547.1 86.6 545.9 86.1 542.9 85.9 540.1 88.6 538.9 89.1 537.1 89.1 535.6 89.9 532.1 90.1 530.4 89.4 529.1 89.4 523.9 90.9 522.1 91.9 519.6 91.9 517.6 91.4 517.1 91.6 516.4 94.4 515.4 95.6 513.9 96.1 510.6 95.6 509.4 96.1 509.1 98.1 507.9 100.1 505.6 101.1 501.4 100.9 499.1 102.6 497.6 103.1 496.4 102.6 495.4 101.4 495.1 97.6 492.4 99.6 488.6 100.9 485.6 100.9 481.1 99.4 480.9 102.1 479.6 103.4 478.1 103.4 477.4 102.6 476.9 100.9 477.1 100.6 475.4 100.6 471.4 102.4 470.4 103.4 468.1 104.4 466.6 105.9 464.9 109.4 461.9 111.9 457.9 119.1 454.9 122.1 455.4 126.6 454.1 129.9 452.1 133.4 451.6 136.1 450.4 139.1 450.1 140.9 450.9 143.9 450.9 146.4 450.1 148.1 448.6 149.4 448.1 151.6 449.4 154.4 449.4 161.6 448.6 164.1 451.1 167.6 451.6 169.1 452.4 176.6 454.9 179.4 455.6 181.6 455.9 186.4 457.6 190.1 457.6 193.1 456.9 194.6 456.9 196.1 457.9 197.6 460.6 199.1 462.9 201.4 463.9 203.9 464.1 206.6 463.4 209.4 463.4 212.9 462.1 215.4 458.9 218.4 454.1 221.1 450.1 221.1 448.9 222.9 447.6 228.9 527.6 228.9 528.1 225.9 527.4 223.6 526.9 223.4 526.6 222.4 523.6 219.6 522.4 219.1 519.4 219.1 516.1 218.1 513.9 218.6 510.9 218.6 508.4 217.4 505.6 216.6 501.9 214.4 500.6 211.1 501.1 208.4 498.4 207.1 496.4 204.9 495.9 203.9 495.9 200.6 497.4 197.1 500.4 194.6 502.6 194.1 507.1 194.6 509.4 194.1 512.1 194.4 513.4 193.1 516.4 191.4 517.4 187.6 519.6 185.4 522.9 183.4 521.4 181.4 521.4 178.6 523.4 175.1 523.6 171.4 525.1 164.1 526.1 162.1 527.6 160.4 528.6 156.9 531.1 153.4 531.4 149.1 532.1 146.9 533.4 145.4 535.4 144.1 534.1 143.1 530.9 142.6 529.1 140.6 529.1 138.9 531.1 136.9 533.4 136.1 533.6 136.4 535.1 135.4 536.4 133.1 536.6 131.1 537.4 130.1 540.4 130.1 542.9 128.4 544.4 127.9 546.6 123.9 549.4 121.6 550.4 118.9 553.6 116.4 554.6 114.4 555.1 106.4 554.4 105.1 554.4 102.6 556.1 100.1 559.1 98.9 559.6 98.1 559.6 96.9 557.6 94.9 554.4 94.9 551.9 93.9 549.6 91.1Z" fill="rgb(0, 44, 255)" fill-rule="evenodd"/>
<path d="M547.1 86.9 545.9 86.4 542.9 86.1 540.4 88.6 539.1 89.1 537.4 89.1 535.1 90.1 533.1 90.4 530.9 89.6 529.1 89.6 523.9 91.1 522.1 92.1 519.4 92.1 517.6 91.6 516.4 94.9 515.4 95.9 513.9 96.4 510.6 95.9 509.6 96.4 509.4 98.4 507.6 100.6 505.9 101.4 501.4 101.4 499.1 103.1 496.9 103.4 495.1 102.1 494.6 98.6 492.6 100.1 488.9 101.4 484.9 101.4 482.6 100.9 481.6 100.1 481.4 102.6 480.4 103.6 479.1 104.1 477.9 103.9 476.6 102.6 476.4 101.4 475.1 101.4 473.1 102.1 470.6 103.9 469.6 104.1 467.1 106.1 465.4 109.6 462.4 112.1 457.9 119.9 455.4 122.1 455.9 125.6 455.6 127.1 452.6 133.6 450.9 139.4 451.4 146.4 450.4 148.6 448.6 150.6 449.9 153.9 449.9 162.4 449.4 163.9 451.9 167.9 452.9 172.4 453.1 176.4 455.4 178.9 456.1 180.6 456.9 185.4 459.6 191.1 460.1 195.6 462.9 197.4 466.6 201.4 468.6 205.4 469.9 211.1 469.4 213.4 466.6 215.6 457.6 219.4 454.4 221.4 450.1 221.6 449.1 223.4 447.9 228.9 527.4 228.9 527.4 224.6 526.1 222.4 523.4 220.1 522.1 219.6 519.1 219.6 517.1 218.9 510.6 219.1 498.1 215.9 491.6 212.6 490.4 211.4 489.6 206.9 492.1 199.4 493.9 196.6 496.4 194.1 499.4 192.4 502.6 191.6 510.9 191.4 513.1 190.1 515.1 187.1 517.4 184.9 520.1 183.1 520.6 178.6 522.6 175.1 522.9 171.6 524.9 163.4 527.1 160.1 528.1 156.6 530.6 153.1 530.9 148.9 531.9 146.1 533.1 144.9 534.6 144.1 530.9 143.1 528.6 140.6 528.6 139.1 529.1 138.1 530.9 136.6 534.6 135.4 535.6 133.9 536.6 130.6 537.6 129.6 540.1 129.9 542.6 128.1 544.1 127.6 545.1 126.4 545.6 124.6 549.1 121.4 550.1 118.9 553.4 116.4 554.4 114.4 555.1 107.6 554.1 105.1 554.1 102.6 555.9 99.9 558.9 98.9 559.4 98.1 559.4 96.9 558.4 95.6 556.4 94.6 552.4 94.6 550.4 92.6Z" fill="rgb(0, 59, 255)" fill-rule="evenodd"/>
<path d="M448.1 228.9 527.1 228.9 526.9 227.4 527.4 225.9 525.9 222.9 522.6 220.4 517.6 219.9 510.9 219.9 492.4 217.1 477.6 216.6 467.1 217.6 458.4 219.6 454.6 221.6 450.6 221.9 449.4 223.6ZM558.4 95.9 556.4 94.9 552.6 94.9 549.9 92.1 546.9 87.1 543.1 86.4 540.4 88.9 539.1 89.4 537.4 89.4 535.1 90.4 533.1 90.6 529.6 89.6 527.1 90.6 525.1 90.9 522.1 92.4 517.6 92.1 516.6 94.9 515.4 96.1 513.9 96.6 511.4 96.1 510.1 96.4 509.6 98.4 508.1 100.6 506.1 101.6 501.6 101.6 498.1 103.9 496.9 103.9 495.1 102.9 494.4 101.9 493.9 99.9 492.9 100.6 488.1 102.1 485.6 102.1 482.4 101.4 481.9 102.9 480.6 104.1 479.4 104.6 476.9 103.9 475.6 101.9 469.9 104.6 467.6 106.4 465.6 110.1 462.9 112.4 458.9 119.4 455.9 122.4 456.1 127.1 455.1 129.9 453.6 132.1 452.4 137.1 451.4 139.4 451.9 146.6 450.9 148.9 449.4 150.6 450.6 154.9 450.6 163.9 452.4 167.1 454.4 175.6 456.6 178.6 458.9 184.9 464.4 194.1 473.1 199.4 475.9 200.1 479.9 200.1 485.9 197.1 490.6 193.4 496.9 189.9 502.9 188.4 507.9 188.1 509.9 187.6 517.1 181.9 518.9 178.1 521.6 174.4 524.4 163.1 526.6 159.9 527.6 156.4 530.1 152.9 530.9 146.9 531.4 145.9 533.1 144.4 530.6 143.6 528.9 141.9 528.4 140.9 528.4 138.6 530.9 136.1 534.4 135.1 535.6 132.9 536.4 130.4 537.4 129.4 540.4 129.4 544.1 127.1 545.4 124.4 548.9 121.1 549.6 119.1 553.1 116.1 554.4 113.4 554.4 110.1 554.9 107.6 554.1 105.4 554.1 102.4 555.9 99.6 558.4 98.9 559.1 98.1 559.1 96.9Z" fill="rgb(0, 75, 255)" fill-rule="evenodd"/>
<path d="M448.6 228.9 526.6 228.9 526.6 227.1 527.1 226.1 525.4 222.9 522.4 221.1 517.4 220.6 511.1 220.6 499.9 219.1 489.1 218.4 470.9 218.4 457.9 220.4 454.1 222.1 450.9 222.1 449.9 223.4 448.6 227.1ZM557.9 95.9 556.4 95.1 553.9 95.4 552.4 94.9 550.1 92.9 546.9 87.4 543.1 86.6 540.9 88.9 539.1 89.6 537.1 89.6 535.9 90.4 531.9 90.6 529.6 89.9 525.1 91.1 521.9 92.6 517.9 92.4 516.9 95.1 515.9 96.1 514.1 96.9 512.1 96.9 511.1 96.4 510.6 96.6 509.4 99.6 507.9 101.1 504.9 102.1 501.6 102.1 499.4 103.9 497.9 104.4 496.6 104.4 495.1 103.6 493.1 101.1 488.6 102.9 483.1 102.9 480.6 104.9 479.6 105.1 477.4 104.9 474.6 103.6 468.9 106.4 467.6 107.6 466.1 110.4 463.1 112.9 459.1 119.9 456.4 122.6 456.6 126.9 455.6 129.9 453.4 134.4 451.9 139.6 452.4 146.4 450.9 150.4 452.1 163.6 453.6 166.6 455.9 174.6 458.9 179.4 461.6 184.9 463.9 187.6 467.4 190.9 470.6 192.6 475.9 193.6 479.4 193.4 483.1 192.1 495.6 186.4 507.4 184.1 513.1 181.1 519.4 174.4 522.9 166.9 523.9 162.9 526.1 159.6 527.1 156.1 529.4 152.6 530.1 147.4 531.9 144.6 530.4 144.1 528.6 142.4 527.9 140.9 527.9 138.9 528.6 137.4 530.9 135.6 533.9 134.9 535.4 132.4 535.6 130.9 537.1 129.1 540.4 128.9 542.4 127.4 543.9 126.9 545.4 123.9 548.4 121.4 549.6 118.6 552.9 116.1 554.4 112.1 554.1 110.1 554.6 106.9 553.9 105.4 553.9 102.4 555.6 99.6 558.1 98.6 558.9 97.9 558.9 97.1Z" fill="rgb(0, 91, 255)" fill-rule="evenodd"/>
<path d="M448.9 227.4 448.9 228.9 526.1 228.9 526.6 225.9 524.9 222.9 524.1 222.4 520.4 221.6 511.9 221.4 494.6 219.6 472.9 219.1 462.4 220.1 456.9 221.1 454.4 222.4 451.1 222.4 450.1 223.6ZM558.1 96.4 556.4 95.4 554.1 95.6 552.4 95.1 549.9 92.9 546.6 87.6 543.1 87.1 540.9 89.1 538.9 89.9 537.1 89.9 534.1 90.9 532.1 90.9 529.6 90.1 524.6 91.6 522.1 92.9 518.1 92.6 517.1 95.1 515.9 96.4 514.1 97.1 510.9 96.9 509.9 99.4 508.4 101.1 505.6 102.4 501.4 102.6 499.9 104.1 497.1 104.9 494.1 103.9 491.6 103.6 488.6 104.6 484.1 104.9 480.1 106.4 476.6 106.4 473.9 105.9 469.6 107.9 463.4 113.9 457.4 122.9 456.9 127.6 456.1 129.9 454.6 132.4 452.9 139.6 452.9 148.1 452.1 151.9 453.6 163.4 457.6 174.4 463.9 183.6 466.6 186.1 470.6 188.4 473.4 189.1 478.6 189.1 483.6 187.6 494.4 183.1 504.4 181.1 508.4 179.9 512.1 177.9 517.4 173.1 519.4 170.1 525.1 158.4 526.6 154.1 527.9 152.1 528.4 148.9 529.6 145.6 529.4 143.9 528.1 142.6 527.4 140.9 527.4 139.1 528.1 137.4 530.4 135.4 533.4 134.6 534.6 133.1 535.6 130.1 536.9 128.9 540.1 128.6 542.1 127.1 543.1 126.9 544.1 125.9 544.6 124.4 545.6 123.1 548.1 121.1 549.6 118.1 552.6 115.9 553.9 113.1 553.9 110.1 554.4 106.9 553.6 105.4 553.6 102.6 555.6 99.4 558.6 97.9Z" fill="rgb(0, 107, 255)" fill-rule="evenodd"/>
<path d="M449.1 227.4 449.1 228.9 525.9 228.9 526.1 225.6 524.6 223.4 520.9 222.4 509.6 221.9 489.9 220.1 470.4 219.9 459.4 221.1 455.9 221.9 454.4 222.6 451.1 222.9ZM558.1 96.9 556.1 95.6 552.6 95.6 551.1 94.6 549.6 92.9 546.4 87.9 543.4 87.4 540.4 89.6 537.6 89.9 535.4 90.9 532.9 91.1 528.9 90.6 524.6 91.9 522.1 93.1 518.4 93.1 516.6 96.1 515.1 97.1 513.4 97.6 510.9 97.4 510.4 99.1 509.4 100.6 506.1 102.6 503.1 103.1 501.9 102.9 499.9 104.6 495.6 105.9 490.9 105.9 488.9 106.6 484.9 106.9 481.9 107.9 479.6 108.1 474.1 107.9 471.4 108.9 465.9 113.4 462.6 117.1 458.4 123.9 458.1 125.9 455.4 133.4 454.1 138.9 453.9 148.9 453.4 151.4 455.1 163.4 459.6 174.4 463.6 179.9 467.4 183.4 470.1 184.9 473.9 185.9 477.9 185.9 484.1 184.1 494.6 179.9 506.9 177.1 510.6 175.4 513.6 173.4 516.6 170.4 519.4 166.4 523.6 157.9 524.6 154.6 526.4 151.1 526.9 148.1 527.6 146.4 527.4 141.9 526.9 140.4 527.6 137.4 530.1 135.1 533.4 134.1 535.4 129.9 536.6 128.6 540.1 128.1 543.1 126.4 545.4 122.9 547.9 120.9 549.1 118.4 552.6 115.4 553.6 113.1 553.6 110.1 554.1 108.6 554.1 106.9 553.4 105.1 553.6 102.1 555.6 99.1 558.4 97.6Z" fill="rgb(0, 125, 255)" fill-rule="evenodd"/>
<path d="M449.4 228.6 525.4 228.9 525.9 226.1 525.4 224.9 524.1 224.1 518.4 222.9 511.1 222.6 487.6 220.6 470.9 220.4 464.4 220.9 457.9 221.9 454.6 222.9 451.1 223.4 449.9 225.9ZM557.9 97.1 556.6 96.1 554.4 96.1 551.9 95.4 549.4 92.9 546.1 88.1 543.6 87.6 541.1 89.6 537.9 90.1 535.4 91.1 532.9 91.4 528.9 90.9 525.4 91.9 522.1 93.4 518.6 93.4 517.6 95.4 516.1 96.9 513.6 97.9 511.1 97.6 510.4 99.9 507.6 102.4 505.4 103.1 502.6 103.4 497.6 106.9 493.1 108.1 489.6 108.4 483.4 109.6 473.6 110.1 471.1 111.4 466.6 114.6 464.6 116.6 459.6 123.9 458.4 128.6 456.4 133.6 454.9 140.9 455.1 144.6 454.6 152.6 456.1 161.9 458.9 169.4 460.6 172.9 463.4 176.6 466.9 180.1 470.9 182.4 473.9 183.1 477.9 183.1 483.4 181.6 490.6 178.4 495.1 176.9 506.9 174.1 510.1 172.6 513.4 170.4 517.4 165.9 522.1 156.9 525.4 147.6 525.6 141.4 526.9 137.6 529.6 134.9 532.6 133.4 534.1 131.9 534.6 130.4 536.4 128.4 537.6 127.9 539.9 127.9 541.9 126.4 542.9 126.1 545.4 122.4 547.6 120.6 548.9 118.1 552.1 115.6 553.1 113.9 553.4 110.1 553.9 108.9 553.9 106.9 553.4 105.9 553.4 102.1 554.9 99.4 557.9 97.6Z" fill="rgb(0, 143, 255)" fill-rule="evenodd"/>
<path d="M449.9 228.9 523.6 228.9 524.9 227.6 525.1 226.4 524.4 225.4 521.4 224.1 515.9 223.4 508.9 223.1 486.9 221.1 469.9 220.9 460.4 221.9 451.9 223.6 451.1 224.1 450.1 226.1ZM557.6 97.4 556.4 96.4 552.9 96.1 551.1 95.1 545.9 88.4 543.6 87.9 541.1 89.9 539.6 90.4 537.9 90.4 533.9 91.6 528.9 91.1 522.1 93.6 518.9 93.9 516.6 96.9 513.9 98.1 511.4 98.1 510.9 99.6 508.6 102.1 506.6 103.1 504.9 103.4 498.6 107.9 495.6 109.4 492.4 110.4 483.9 111.6 474.9 111.9 472.1 112.9 467.1 116.1 463.6 120.1 460.6 124.9 457.1 134.9 456.1 139.9 455.9 153.6 457.6 162.6 461.4 171.1 463.9 174.6 466.9 177.6 470.6 179.9 475.4 180.9 478.6 180.6 482.9 179.4 491.1 175.6 495.6 174.1 506.1 171.6 509.9 169.9 512.4 168.1 515.9 164.4 520.4 156.4 523.4 147.4 523.6 142.9 524.4 139.6 525.9 136.6 528.9 133.9 531.9 132.4 536.1 128.1 539.9 127.1 542.4 125.6 543.9 123.6 546.6 120.9 547.4 120.6 548.6 118.1 551.9 115.4 553.1 112.9 553.1 110.1 553.6 108.9 553.6 106.9 553.1 105.9 553.1 102.1 554.6 99.4Z" fill="rgb(0, 162, 255)" fill-rule="evenodd"/>
<path d="M450.1 228.9 520.6 228.9 522.4 227.9 522.9 226.4 520.4 224.9 502.1 222.9 483.1 221.4 467.9 221.4 458.4 222.6 452.1 224.1 451.1 224.9 450.4 226.4ZM556.9 97.1 556.1 96.6 552.9 96.4 551.1 95.4 549.1 93.4 545.9 88.6 543.6 88.4 541.6 89.9 539.6 90.6 537.9 90.6 533.6 91.9 529.1 91.4 524.9 92.6 522.4 93.9 518.9 94.1 518.4 95.4 516.4 97.4 513.9 98.4 511.6 98.6 510.4 100.9 508.9 102.4 506.6 103.4 498.6 109.6 495.4 111.4 491.6 112.6 486.4 113.4 474.6 113.9 470.6 115.6 467.4 117.9 463.4 122.6 461.9 124.9 457.9 136.1 456.9 143.1 456.9 152.9 458.4 160.9 462.1 169.6 464.6 173.1 467.9 176.1 471.1 177.9 473.9 178.6 477.6 178.6 482.4 177.4 493.4 172.4 506.4 168.9 511.1 166.1 514.9 162.1 518.9 154.9 520.9 149.1 522.4 140.1 524.4 136.1 526.9 133.6 531.4 131.1 534.9 128.1 542.1 124.6 546.4 120.6 547.1 120.4 548.4 117.9 551.9 114.9 552.9 112.6 552.9 110.1 553.4 108.9 552.9 102.4 554.6 98.9Z" fill="rgb(0, 180, 255)" fill-rule="evenodd"/>
<path d="M450.4 228.6 516.1 228.9 519.4 227.6 519.9 226.9 518.9 225.9 515.6 225.1 498.4 223.1 480.1 221.6 469.9 221.6 462.1 222.4 453.1 224.4 450.9 225.9ZM556.4 97.1 552.9 96.6 550.6 95.4 545.6 88.9 543.9 88.6 541.4 90.4 539.9 90.9 537.6 90.9 533.4 92.1 529.1 91.6 524.9 92.9 522.4 94.1 519.1 94.6 517.1 97.1 512.1 99.4 508.9 102.9 503.4 107.1 499.4 110.9 494.1 113.9 490.6 114.9 486.4 115.4 475.1 115.6 469.1 118.4 465.1 122.4 462.1 127.1 459.4 134.4 457.9 142.4 457.9 152.6 458.9 158.4 460.9 164.4 464.6 170.9 467.4 173.6 471.6 176.1 473.6 176.6 478.1 176.6 484.1 174.6 493.1 170.1 505.4 166.6 510.1 163.9 513.6 160.1 516.9 154.4 518.9 148.1 520.1 140.9 521.1 138.1 522.6 135.6 527.4 131.6 530.6 130.1 535.6 126.6 541.1 124.1 545.9 120.4 548.4 117.4 551.6 114.6 552.4 113.4 552.4 111.4 553.1 108.6 552.6 105.9 552.9 101.6 554.1 99.1Z" fill="rgb(0, 199, 255)" fill-rule="evenodd"/>
<path d="M451.1 228.1 451.6 228.9 508.9 228.9 514.1 227.6 514.6 226.9 513.1 226.1 497.4 223.6 482.4 222.1 472.1 221.9 461.1 222.9 454.9 224.4 452.4 225.4 451.1 226.9ZM555.6 97.4 552.6 96.9 550.9 95.9 546.6 90.6 545.1 89.6 542.9 89.6 541.4 90.6 534.6 92.1 529.1 91.9 519.4 95.4 516.6 97.9 512.9 99.9 499.6 112.6 494.6 115.6 488.1 117.1 476.6 117.1 472.9 118.1 468.6 120.6 465.1 124.4 462.6 128.6 460.1 135.4 458.9 141.9 458.9 152.4 459.6 156.9 462.1 164.4 465.4 169.6 467.6 171.9 471.4 174.1 473.9 174.9 477.6 174.9 482.6 173.4 493.6 167.6 504.9 164.1 509.4 161.4 512.1 158.4 515.1 152.9 516.6 148.1 518.1 140.1 520.1 135.9 522.4 133.4 524.4 131.9 535.6 125.6 540.6 123.4 545.9 119.4 551.4 113.9 552.1 112.6 552.9 108.6 552.4 105.6 552.6 101.6 554.1 98.6Z" fill="rgb(0, 217, 255)" fill-rule="evenodd"/>
<path d="M452.1 228.1 452.9 228.9 502.6 228.9 506.6 227.9 507.6 226.9 503.6 225.4 489.1 223.1 480.9 222.4 468.1 222.4 460.4 223.4 454.1 225.1 452.4 226.4ZM554.4 97.6 550.9 96.1 548.4 93.6 546.9 91.4 544.9 90.4 542.4 90.4 540.6 91.1 537.9 91.4 534.4 92.4 529.1 92.1 519.9 95.9 513.1 100.6 499.4 114.9 494.6 117.6 489.4 118.9 476.4 118.9 472.1 120.1 469.4 121.9 465.9 125.4 463.1 130.1 461.1 135.4 459.9 141.4 459.6 149.1 460.6 156.9 462.1 161.6 465.9 168.1 468.4 170.6 471.9 172.6 473.9 173.1 477.9 173.1 481.9 171.9 494.6 164.9 504.1 161.6 507.4 159.6 510.9 155.9 512.9 152.1 514.4 147.4 515.9 139.6 517.1 136.6 518.9 134.1 523.1 130.9 539.9 122.9 545.6 118.6 550.6 113.6 552.1 110.9 552.6 108.6 552.1 105.4 552.4 101.6Z" fill="rgb(0, 230, 242)" fill-rule="evenodd"/>
<path d="M453.1 228.1 453.9 228.9 498.6 228.9 501.9 227.6 502.4 226.9 501.4 226.1 496.9 224.9 487.6 223.4 479.6 222.6 468.9 222.6 462.1 223.4 455.6 225.1 453.1 226.9ZM553.4 97.9 550.1 95.9 547.1 92.4 544.4 91.1 541.1 91.1 534.4 92.6 529.4 92.6 520.4 96.4 513.4 101.4 506.4 108.9 502.6 113.9 497.9 118.1 492.9 120.1 490.1 120.6 475.9 120.6 473.1 121.4 469.6 123.4 465.9 127.4 463.1 132.6 461.4 138.1 460.6 143.1 460.6 150.6 461.4 155.6 462.9 160.6 465.9 166.1 467.9 168.4 471.1 170.6 474.9 171.6 478.4 171.4 483.9 169.1 493.6 162.9 501.1 159.9 505.6 157.4 508.4 154.6 510.9 150.1 513.9 137.9 515.4 134.9 517.1 132.9 521.4 130.1 527.4 127.9 539.1 122.4 544.4 118.6 549.6 113.6 552.4 108.6 551.9 105.4 552.1 101.6 553.4 99.1Z" fill="rgb(0, 242, 227)" fill-rule="evenodd"/>
<path d="M454.1 226.9 454.1 227.9 454.9 228.9 495.6 228.9 498.4 227.4 498.4 226.6 497.6 226.1 493.6 224.9 486.4 223.6 478.6 222.9 469.4 222.9 462.6 223.6 456.9 225.1ZM552.4 98.1 548.6 94.4 544.1 91.9 538.4 91.9 534.1 92.9 529.9 93.1 520.9 96.9 514.9 101.1 507.9 108.6 502.4 116.6 500.1 118.9 497.9 120.4 493.9 121.9 488.4 122.6 476.4 122.1 472.9 123.1 469.9 124.9 467.1 127.6 464.1 132.9 462.6 137.1 461.6 142.1 461.4 147.4 462.1 154.6 463.9 160.4 466.9 165.4 469.4 167.9 472.1 169.4 473.9 169.9 478.9 169.6 484.6 166.9 493.9 160.1 501.6 156.1 504.1 154.4 506.6 151.6 508.1 148.9 511.6 136.1 513.1 133.6 515.1 131.6 519.4 129.4 527.1 126.9 538.9 121.6 543.9 118.1 549.6 112.4 551.9 107.9 551.6 105.1 551.9 101.4 552.6 99.9Z" fill="rgb(0, 253, 212)" fill-rule="evenodd"/>
<path d="M455.1 227.9 455.9 228.9 493.1 228.9 494.9 228.1 495.6 226.9 491.9 225.1 485.6 223.9 477.9 223.1 469.9 223.1 459.6 224.6 455.4 226.6ZM548.4 95.1 543.9 92.6 537.1 92.6 531.9 93.4 527.1 94.6 520.9 97.6 515.4 101.6 508.9 108.9 502.6 119.4 499.4 122.1 496.4 123.4 491.4 124.4 485.9 124.4 480.6 123.6 475.4 123.9 473.1 124.6 470.1 126.4 467.1 129.6 464.9 133.6 463.1 138.9 462.4 143.9 462.4 149.9 462.9 153.6 464.4 158.9 467.4 164.1 470.4 166.9 474.1 168.4 477.4 168.4 479.4 167.9 482.1 166.6 485.9 164.1 493.6 157.4 500.9 152.1 503.1 149.9 505.9 144.9 508.9 134.9 510.4 132.4 511.9 130.9 515.1 129.1 524.6 126.6 535.1 122.6 542.4 118.4 547.6 113.6 549.4 111.4 551.4 106.6 551.9 100.1 551.6 98.6Z" fill="rgb(0, 255, 177)" fill-rule="evenodd"/>
<path d="M456.1 227.9 456.9 228.9 491.1 228.9 492.4 228.4 493.4 227.1 491.9 225.9 484.6 224.1 477.1 223.4 470.1 223.4 464.9 223.9 460.1 224.9 456.9 226.4ZM550.4 98.4 547.4 95.4 543.6 93.4 535.9 93.4 530.9 94.1 526.9 95.4 520.1 98.9 514.6 103.1 512.6 105.4 508.1 111.9 504.1 121.9 501.4 124.6 498.6 125.6 494.4 126.4 486.9 126.4 481.6 125.4 475.9 125.4 473.9 125.9 470.4 127.9 467.6 130.9 465.1 135.6 463.4 142.6 463.4 150.9 463.9 153.9 465.6 159.1 468.1 163.1 470.6 165.4 474.4 166.9 477.1 166.9 479.1 166.4 484.4 163.4 490.6 157.4 500.4 146.1 503.1 141.1 506.1 131.9 508.6 128.9 510.9 127.9 522.4 126.1 530.1 123.9 538.1 120.4 544.6 115.6 548.4 111.6 550.1 108.4 551.1 103.4 550.9 99.4Z" fill="rgb(0, 255, 139)" fill-rule="evenodd"/>
<path d="M457.1 227.6 458.1 228.9 489.6 228.9 491.4 227.6 491.4 226.9 489.9 225.9 484.1 224.4 476.6 223.6 470.4 223.6 465.1 224.1 460.6 225.1 457.6 226.6ZM498.9 130.4 496.9 129.6 490.6 129.1 481.9 127.1 476.4 126.9 474.1 127.4 471.6 128.6 469.1 130.9 467.4 133.4 465.1 138.6 464.1 144.6 464.1 149.1 464.9 153.9 466.1 157.6 468.1 161.1 469.9 163.1 472.1 164.6 474.6 165.4 478.9 164.9 482.9 162.6 487.1 158.6 492.1 151.6 499.4 138.4 500.4 134.9 500.4 132.6 499.9 131.4ZM549.9 99.1 547.1 96.1 543.4 94.1 536.6 93.9 531.4 94.6 527.1 95.9 522.4 98.1 515.4 103.4 510.4 109.9 508.4 114.1 507.6 116.9 507.4 121.4 508.1 123.4 509.6 124.6 512.4 125.4 520.1 125.4 527.6 123.9 537.6 119.9 543.6 115.6 546.9 112.4 548.9 109.4 549.9 106.6 550.4 103.4Z" fill="rgb(0, 255, 101)" fill-rule="evenodd"/>
<path d="M458.4 227.1 458.4 228.1 459.1 228.9 487.9 228.9 489.6 227.6 489.6 226.9 489.1 226.4 486.6 225.4 483.4 224.6 476.1 223.9 470.6 223.9 464.1 224.6 460.4 225.6ZM480.4 128.6 475.4 128.6 471.6 130.4 468.4 133.9 466.6 137.4 465.4 141.9 465.1 149.6 466.6 156.1 468.1 159.1 471.1 162.4 475.1 163.9 477.6 163.6 480.6 162.4 485.9 157.6 488.4 153.9 490.4 149.9 493.6 139.6 493.6 135.4 492.1 133.4 486.9 130.6ZM548.6 98.9 545.4 95.9 543.4 94.9 539.6 94.4 530.6 95.4 523.1 98.4 516.4 103.4 512.1 108.6 510.6 111.4 509.4 115.4 509.4 119.4 509.9 120.9 511.1 122.4 513.6 123.6 515.9 124.1 522.4 124.1 528.4 122.9 537.6 119.1 542.4 115.9 547.6 110.1 549.4 105.4 549.4 100.6Z" fill="rgb(0, 255, 63)" fill-rule="evenodd"/>
<path d="M459.4 227.1 459.4 228.1 460.1 228.9 486.6 228.9 488.1 227.6 487.9 226.6 484.9 225.4 475.6 224.1 470.9 224.1 464.4 224.9 461.6 225.6ZM478.6 130.1 476.4 130.1 473.6 130.9 469.9 133.9 467.4 138.4 466.1 143.6 466.1 149.9 467.6 155.6 469.1 158.4 470.9 160.4 474.4 162.1 477.1 162.1 478.6 161.6 481.9 159.6 483.9 157.6 487.4 151.9 488.9 147.6 489.6 143.9 489.6 137.9 487.9 134.6 483.1 131.4ZM548.1 99.6 545.1 96.6 543.1 95.6 540.6 95.1 535.6 95.1 530.9 95.9 523.9 98.6 517.6 103.1 515.4 105.4 512.6 109.4 511.4 112.1 510.6 115.4 510.9 118.1 511.6 119.9 512.6 121.1 515.6 122.6 517.9 123.1 523.1 123.1 528.4 122.1 534.1 120.1 537.6 118.4 543.4 114.1 547.1 109.6 548.6 105.4 548.6 101.1Z" fill="rgb(16, 255, 36)" fill-rule="evenodd"/>
<path d="M460.4 227.1 460.4 228.1 461.4 228.9 485.1 228.9 486.6 227.9 486.4 226.6 484.1 225.6 475.4 224.4 466.1 224.9 462.1 225.9ZM478.1 131.9 476.1 131.9 473.6 132.6 470.4 135.4 468.4 138.9 467.1 143.9 467.1 149.6 468.1 153.9 470.4 157.9 471.6 159.1 474.1 160.4 478.1 160.1 480.6 158.6 482.9 156.4 485.6 151.6 487.1 146.1 487.4 141.6 486.9 138.9 485.9 136.6 482.9 133.6ZM547.4 100.1 545.1 97.6 543.6 96.6 538.9 95.6 531.4 96.4 524.1 99.1 519.1 102.6 515.9 105.9 514.1 108.4 512.9 110.9 511.9 115.1 512.9 118.9 514.6 120.6 516.6 121.6 518.6 122.1 524.6 122.1 529.4 121.1 536.4 118.4 541.9 114.6 546.1 109.9 547.9 105.4 547.9 101.9Z" fill="rgb(56, 255, 25)" fill-rule="evenodd"/>
<path d="M461.4 227.1 461.4 228.1 462.4 228.9 483.6 228.9 485.4 227.6 484.9 226.6 483.4 225.9 480.1 225.1 474.6 224.6 466.4 225.1 463.4 225.9ZM478.4 133.9 475.4 133.9 472.1 135.6 470.1 138.1 468.4 142.9 468.1 148.6 469.1 153.1 470.6 155.9 472.6 157.9 474.4 158.6 477.6 158.4 479.9 157.1 481.6 155.4 483.6 152.1 485.1 146.9 485.1 141.4 484.1 138.4 481.9 135.6ZM546.4 100.1 543.4 97.4 539.9 96.4 534.9 96.4 531.6 96.9 524.4 99.6 518.4 104.1 514.9 108.6 513.9 110.6 513.1 113.6 513.1 115.6 513.9 117.9 514.9 119.1 517.4 120.6 520.6 121.4 524.4 121.4 529.6 120.4 536.9 117.4 540.6 114.9 545.6 109.4 547.1 105.1 547.1 102.4Z" fill="rgb(96, 255, 14)" fill-rule="evenodd"/>
<path d="M462.4 227.1 462.4 227.9 463.6 228.9 482.4 228.9 484.1 227.6 483.9 226.9 481.6 225.9 473.4 224.9 465.6 225.6ZM475.6 135.9 473.4 136.9 471.6 138.6 470.1 141.4 469.4 144.6 469.4 148.9 470.1 151.9 471.6 154.6 473.9 156.4 476.9 156.6 478.9 155.6 481.1 153.1 483.1 148.1 483.4 143.6 482.9 141.1 481.6 138.6 479.9 136.9 478.4 136.1ZM545.6 100.6 544.1 98.9 542.6 97.9 538.4 96.9 530.9 97.6 525.1 99.9 520.4 103.1 517.6 105.9 515.9 108.4 514.4 112.1 514.4 115.6 515.1 117.4 516.9 119.1 518.4 119.9 523.9 120.6 529.9 119.6 536.1 117.1 541.1 113.6 545.1 108.9 546.4 104.9 546.4 103.1Z" fill="rgb(137, 255, 4)" fill-rule="evenodd"/>
<path d="M463.4 227.4 463.4 227.9 464.9 228.9 480.9 228.9 482.6 227.9 482.6 227.1 480.9 226.1 476.9 225.4 467.4 225.6 464.6 226.4ZM477.1 138.4 475.4 138.4 473.9 139.1 472.4 140.6 470.9 144.6 470.9 148.6 471.4 150.6 472.6 152.9 475.1 154.4 477.9 153.6 479.6 151.9 480.6 149.9 481.4 146.9 480.9 142.1 480.1 140.6 478.4 138.9ZM544.9 101.1 542.4 98.6 539.1 97.6 532.4 97.9 529.4 98.6 525.4 100.4 521.6 102.9 516.9 108.1 515.4 111.9 515.4 114.9 516.1 116.6 517.9 118.4 520.1 119.4 526.6 119.6 532.4 118.1 536.6 116.1 539.9 113.9 543.9 109.6 545.4 106.1 545.4 102.4Z" fill="rgb(174, 255, 0)" fill-rule="evenodd"/>
<path d="M464.6 227.4 464.6 227.9 466.1 228.9 479.4 228.9 481.4 227.6 479.9 226.4 476.1 225.6 468.1 225.9 466.1 226.4ZM476.9 141.9 474.6 142.1 473.4 143.6 472.9 145.1 473.1 148.9 473.6 149.9 475.4 151.1 476.6 150.9 478.1 149.4 478.9 147.1 478.4 143.4ZM544.1 101.6 542.4 99.6 540.1 98.6 537.6 98.1 531.6 98.6 525.6 100.9 521.4 103.9 517.9 107.9 516.4 111.6 516.4 114.1 516.9 115.6 519.1 117.9 522.1 118.9 528.4 118.6 532.6 117.4 535.9 115.9 540.1 112.9 543.6 108.6 544.6 105.6 544.6 103.1Z" fill="rgb(209, 255, 0)" fill-rule="evenodd"/>
<path d="M465.9 227.4 466.1 228.1 467.9 228.9 477.6 228.9 479.1 228.4 479.9 227.6 478.9 226.6 474.6 225.9 468.9 226.1ZM542.9 101.4 541.6 100.1 538.1 98.9 532.1 99.1 526.9 100.9 522.6 103.6 518.6 108.1 517.4 111.4 517.4 113.6 517.9 115.1 519.1 116.6 521.6 117.9 527.4 118.1 532.9 116.6 536.4 114.9 538.9 113.1 541.6 110.4 543.4 107.4 543.9 104.1Z" fill="rgb(244, 255, 0)" fill-rule="evenodd"/>
<path d="M467.4 227.4 468.4 228.4 470.6 228.9 474.9 228.9 478.1 227.9 477.9 227.1 475.4 226.4 470.4 226.4ZM542.1 101.9 541.1 100.9 539.1 99.9 535.1 99.4 530.4 100.1 525.4 102.4 522.1 104.9 519.4 108.4 518.4 111.1 518.4 113.1 519.1 114.9 520.6 116.4 522.4 117.1 527.6 117.4 533.1 115.9 535.6 114.6 538.1 112.9 541.6 109.1 542.9 106.1 542.9 103.6Z" fill="rgb(255, 234, 0)" fill-rule="evenodd"/>
<path d="M469.4 227.6 471.1 228.4 474.1 228.4 475.9 227.9 475.9 227.4 474.4 226.9 471.1 226.9ZM541.4 102.6 539.4 100.9 536.6 100.1 530.9 100.6 526.1 102.6 523.4 104.6 520.6 107.9 519.4 110.9 519.4 112.6 520.1 114.4 521.1 115.4 523.1 116.4 527.9 116.6 532.6 115.4 535.6 113.9 538.6 111.6 540.9 108.9 541.9 106.6 541.9 103.6Z" fill="rgb(255, 203, 0)" fill-rule="evenodd"/>
<path d="M540.4 102.9 537.4 101.1 533.1 100.9 529.1 101.9 526.1 103.4 524.1 104.9 521.4 108.1 520.4 111.1 520.9 113.4 522.6 115.1 525.1 115.9 529.4 115.6 535.1 113.4 537.9 111.4 540.1 108.6 540.9 106.9 540.9 103.9Z" fill="rgb(255, 172, 0)" fill-rule="evenodd"/>
<path d="M539.6 103.9 538.1 102.4 535.9 101.6 531.4 101.9 526.6 103.9 523.6 106.4 522.1 108.6 521.6 110.1 521.6 111.9 522.1 113.1 524.1 114.6 527.4 115.1 531.4 114.4 536.1 111.9 539.1 108.6 539.9 106.9Z" fill="rgb(255, 141, 0)" fill-rule="evenodd"/>
<path d="M538.4 104.1 536.1 102.6 534.6 102.4 531.4 102.6 527.6 104.1 526.1 105.1 523.6 107.9 522.9 109.6 522.9 111.6 523.4 112.6 524.6 113.6 526.1 114.1 529.1 114.1 533.6 112.6 535.9 111.1 538.1 108.6 538.9 106.6 538.9 105.1Z" fill="rgb(255, 109, 0)" fill-rule="evenodd"/>
<path d="M537.1 104.6 534.6 103.4 532.1 103.4 528.4 104.6 526.9 105.6 524.6 108.1 524.1 109.4 524.4 111.6 525.4 112.6 526.6 113.1 529.6 113.1 533.6 111.6 535.1 110.6 536.9 108.6 537.6 107.1 537.6 105.6Z" fill="rgb(255, 77, 0)" fill-rule="evenodd"/>
<path d="M535.9 105.6 535.1 104.9 533.4 104.4 530.9 104.6 528.6 105.6 526.4 107.6 525.6 109.1 525.9 110.9 526.6 111.6 528.4 112.1 532.6 111.1 535.4 108.9 536.1 107.4Z" fill="rgb(255, 44, 0)" fill-rule="evenodd"/>
<path d="M533.4 106.1 531.6 105.9 529.1 106.9 527.9 108.4 527.9 109.9 528.6 110.4 530.9 110.4 532.1 109.9 533.6 108.6 534.1 107.4Z" fill="rgb(253, 17, 0)" fill-rule="evenodd"/></g>
<g filter="url(#sb)"><path d="M749.4 202.1 746.9 203.6 744.6 204.1 742.9 206.1 741.9 208.1 742.4 209.1 745.1 209.6 746.4 210.4 747.6 212.6 749.4 212.1 750.6 207.6 752.9 205.9 752.9 204.4 752.1 203.4ZM786.4 84.9 780.4 83.4 777.1 86.1 774.4 86.4 771.6 88.4 770.1 88.4 768.1 87.6 759.9 90.4 758.4 90.4 755.6 89.1 754.1 89.1 752.4 91.1 752.4 92.9 751.6 93.6 749.6 92.9 745.9 92.6 744.1 93.1 742.6 94.4 741.6 94.6 740.4 94.1 734.1 93.9 729.1 95.9 724.6 95.9 722.6 94.9 720.9 94.6 717.4 96.4 710.4 98.1 706.1 97.9 703.6 96.6 701.9 96.9 702.1 99.4 700.4 100.6 698.9 98.6 697.4 97.9 695.4 98.1 693.6 99.6 693.6 106.4 692.9 108.4 692.6 112.6 691.4 115.6 691.9 116.6 690.4 118.4 688.9 122.1 688.9 124.1 690.9 127.1 690.9 128.4 688.9 132.9 687.9 138.6 688.1 141.4 690.4 143.1 691.6 145.1 691.4 146.9 689.9 149.1 689.6 150.6 691.9 153.6 692.4 156.1 690.9 158.4 690.4 160.1 691.4 162.4 691.9 162.6 692.1 165.4 693.6 170.4 694.6 170.1 695.9 171.4 696.1 173.6 696.9 174.9 698.1 175.4 699.9 175.4 700.9 176.6 698.1 180.4 698.1 181.6 699.4 185.1 699.1 187.4 699.6 188.9 703.1 191.9 704.4 194.4 704.4 196.1 703.6 198.1 703.4 202.6 704.1 207.6 705.1 208.9 707.4 210.1 708.4 211.6 708.4 215.9 706.6 219.9 705.9 220.1 705.1 221.4 702.9 222.4 701.9 222.4 700.6 221.6 700.4 220.1 699.1 219.4 696.4 220.4 695.1 221.6 694.1 224.1 694.4 228.9 763.9 228.9 763.4 227.1 762.9 226.6 762.6 226.9 761.9 225.6 760.4 226.4 759.4 226.1 758.9 224.9 755.9 222.4 753.1 221.4 750.1 222.9 746.9 223.1 743.6 224.4 741.4 223.4 739.1 223.4 737.4 224.1 732.6 223.9 729.6 225.1 727.4 225.1 726.4 224.1 724.9 221.1 719.6 219.4 719.4 218.6 717.6 217.1 717.4 216.1 720.1 212.9 723.6 210.4 725.1 210.9 727.9 214.4 732.4 211.4 733.1 210.4 733.1 208.1 731.4 205.1 731.1 203.1 732.6 201.4 735.4 200.1 736.1 196.1 738.1 194.6 744.1 195.1 745.9 194.1 748.6 190.6 749.4 186.6 750.6 186.1 755.4 185.9 757.9 183.9 758.1 181.9 756.6 180.4 754.1 179.6 753.6 178.9 754.1 178.4 756.9 178.1 757.4 177.6 760.4 177.4 762.1 175.9 762.6 174.9 762.6 170.6 763.1 168.1 764.4 166.4 764.6 165.1 767.1 162.1 767.1 158.9 769.6 153.6 768.6 149.4 766.4 145.6 766.4 144.4 764.6 138.6 765.1 137.1 768.4 134.9 771.9 133.6 772.9 132.4 773.6 129.9 774.6 128.9 778.6 128.9 782.9 127.1 783.9 124.9 785.9 123.1 787.1 122.9 789.6 119.1 792.1 118.1 793.9 114.4 793.9 111.4 794.9 107.6 794.4 104.1 795.4 102.9 796.4 102.6 796.9 101.9 799.4 101.1 800.6 99.9 800.6 98.1 798.9 95.1 795.6 92.1 793.9 91.1 791.6 91.1 790.4 90.6 788.4 88.4 787.9 86.6Z" fill="rgb(0, 0, 215)" fill-rule="evenodd"/>
<path d="M750.1 203.9 748.9 203.9 747.1 205.1 745.1 205.6 743.6 207.9 745.4 208.1 747.9 209.9 748.1 210.9 748.4 209.1 749.4 206.9 751.4 205.1ZM786.4 84.9 780.4 83.4 777.1 86.1 774.4 86.4 771.6 88.4 770.1 88.4 768.1 87.6 759.9 90.4 758.4 90.4 755.6 89.1 754.1 89.1 752.4 91.1 752.4 92.9 751.6 93.6 749.6 92.9 745.9 92.6 744.1 93.1 742.6 94.4 741.6 94.6 740.4 94.1 734.1 93.9 729.1 95.9 724.6 95.9 722.6 94.9 720.9 94.6 717.4 96.4 710.4 98.1 706.1 97.9 703.6 96.6 701.9 96.9 702.1 99.4 700.4 100.6 698.1 98.4 697.1 98.1 695.1 98.6 693.9 99.9 693.9 106.4 693.1 108.4 692.9 112.6 691.6 115.6 692.1 116.6 690.9 118.1 689.1 122.4 689.6 124.9 690.6 125.9 691.1 127.1 691.1 128.4 689.1 133.1 688.4 139.4 688.6 141.1 690.6 142.9 691.9 144.9 691.9 146.9 690.1 150.4 692.4 153.4 692.9 155.1 692.9 156.4 691.1 159.9 692.6 162.4 692.9 165.1 694.1 169.1 695.1 169.4 696.4 170.6 697.4 174.1 700.1 174.6 701.6 176.4 701.4 177.9 699.4 180.1 699.4 181.9 700.4 184.6 700.4 187.4 700.9 188.4 704.1 191.1 705.6 193.9 705.6 196.6 704.9 198.9 705.1 205.4 705.9 207.6 708.1 208.9 709.9 211.4 709.9 216.1 707.9 219.6 705.9 221.4 703.1 222.6 700.4 222.1 699.4 220.6 696.6 221.4 695.1 222.9 694.4 224.9 694.6 228.9 762.1 228.9 761.1 227.6 759.9 227.9 758.4 227.4 757.6 226.1 754.9 223.6 753.4 223.1 750.6 224.4 747.1 224.6 743.6 225.9 740.6 224.6 737.4 225.4 734.6 225.1 733.6 224.6 730.6 225.4 727.4 225.4 725.9 223.9 725.1 222.4 723.9 221.4 718.9 220.1 716.4 217.9 715.9 215.9 716.6 214.4 722.6 209.1 724.1 208.9 725.9 209.6 728.4 212.4 731.6 209.9 731.6 208.9 730.1 205.9 729.6 203.1 730.1 201.9 731.9 200.1 733.6 199.6 734.4 198.9 734.4 196.9 735.1 195.4 736.4 194.1 738.1 193.4 740.4 193.4 741.6 193.9 743.6 193.9 745.6 192.6 747.6 189.6 748.1 186.4 748.9 185.6 750.1 185.1 755.1 184.6 756.9 183.1 756.9 182.4 756.1 181.4 753.6 180.6 752.9 179.9 752.6 178.9 754.1 177.4 759.6 176.4 761.1 175.1 762.1 167.6 763.4 165.9 763.6 164.6 766.1 161.6 766.1 158.4 768.6 153.4 767.6 149.1 765.9 146.1 765.9 144.6 765.4 143.9 765.1 141.1 764.4 138.9 764.9 137.1 766.1 135.9 771.9 133.6 772.9 132.4 773.6 129.9 774.6 128.9 778.6 128.9 782.9 127.1 783.9 124.9 785.9 123.1 787.1 122.9 788.9 119.9 789.6 119.1 791.9 118.4 792.9 117.1 793.9 114.4 793.9 111.4 794.9 107.6 794.4 104.1 796.9 101.9 799.4 101.1 800.6 99.9 800.6 98.1 798.9 95.1 795.6 92.1 793.9 91.1 791.6 91.1 790.4 90.6 788.4 88.4 787.9 86.6Z" fill="rgb(0, 12, 255)" fill-rule="evenodd"/>
<path d="M748.6 205.6 748.1 206.1 746.1 206.6 745.9 207.1 747.6 207.9ZM786.4 84.9 783.4 84.4 781.9 83.6 779.9 83.6 777.1 86.1 774.4 86.4 771.6 88.4 770.1 88.4 768.1 87.6 759.9 90.4 754.1 89.4 752.6 91.1 752.9 91.9 751.6 93.6 745.9 92.9 741.6 94.9 737.4 94.1 734.4 94.1 729.1 96.1 724.6 96.1 721.1 94.9 717.4 96.6 710.1 98.4 705.9 98.1 703.9 97.1 702.4 97.1 702.4 99.6 700.6 100.9 699.6 100.6 698.4 99.1 697.1 98.6 695.9 98.9 694.6 99.9 694.4 106.4 693.4 109.6 693.1 113.1 692.1 114.9 692.4 117.1 691.1 118.6 689.6 122.6 690.1 124.9 691.1 125.9 691.6 128.4 690.1 131.9 688.9 139.1 689.4 141.1 691.1 142.4 692.6 145.1 692.4 147.4 691.1 149.6 691.1 150.6 692.9 152.9 693.6 155.1 693.6 156.6 692.1 159.4 692.1 160.1 693.4 162.1 693.6 164.6 694.9 168.4 695.9 168.9 697.4 170.6 697.9 173.1 698.4 173.6 700.6 173.9 702.4 175.9 702.6 176.6 702.1 178.4 700.4 180.4 700.4 181.6 701.6 185.1 701.4 186.9 701.6 187.6 702.4 187.9 705.1 190.6 706.6 193.4 706.9 196.4 706.1 198.6 706.6 206.4 710.4 209.4 711.1 211.6 711.1 215.9 709.6 218.9 707.4 221.1 703.4 222.9 701.9 223.1 700.1 222.6 698.9 221.4 696.9 222.1 695.6 223.4 694.9 225.1 695.1 228.9 759.9 228.9 757.4 228.1 756.6 226.9 753.6 224.4 751.4 225.4 748.4 225.6 744.9 226.9 742.6 226.9 740.6 225.9 738.1 226.4 735.1 226.1 733.9 225.6 731.6 225.6 730.1 226.1 727.6 225.9 726.6 225.4 723.9 222.1 718.9 220.9 715.9 218.9 714.9 217.4 714.6 216.1 715.4 213.9 721.6 208.1 723.6 207.6 725.9 208.1 728.6 210.6 730.1 209.6 730.4 209.1 728.6 205.4 728.6 202.4 731.4 199.1 733.1 198.6 733.4 196.4 734.1 194.9 735.6 193.4 737.9 192.4 740.6 192.4 742.1 192.9 744.1 192.4 744.9 191.9 746.9 188.9 747.1 186.1 747.9 185.1 749.9 184.1 753.9 183.9 755.6 182.9 755.1 182.1 753.4 181.6 751.9 180.1 751.9 178.4 753.6 176.6 759.9 175.1 760.4 174.4 761.1 167.6 763.6 162.6 765.1 161.1 765.1 158.1 767.6 153.4 767.4 151.4 765.1 146.4 764.6 143.6 764.9 143.1 763.9 138.9 764.6 136.6 768.1 134.4 771.6 133.1 772.9 131.4 773.4 129.6 774.4 128.6 778.4 128.6 782.6 126.9 783.6 124.9 785.9 122.9 787.1 122.6 788.6 119.9 789.6 118.9 791.9 118.1 793.4 115.9 793.9 114.4 793.9 111.4 794.9 107.6 794.4 104.1 796.9 101.9 799.4 101.1 800.6 99.9 800.6 98.1 798.9 95.1 795.6 92.1 793.9 91.1 791.6 91.1 790.4 90.6 788.4 88.4 787.9 86.6Z" fill="rgb(0, 28, 255)" fill-rule="evenodd"/>
<path d="M753.9 228.9 753.1 228.1 750.6 228.9 748.9 228.9ZM695.4 227.1 695.9 228.9 740.4 228.9 737.4 228.4 733.4 226.4 728.9 226.6 726.9 226.1 723.4 222.4 718.6 221.4 716.6 220.1 714.1 219.4 712.9 218.4 709.4 220.1 708.4 221.1 703.1 223.4 699.9 223.1 698.1 222.1 696.1 223.6 695.6 224.6ZM786.1 85.1 783.1 84.6 780.6 83.6 777.1 86.4 774.4 86.6 771.6 88.4 769.6 88.4 768.1 87.9 759.9 90.6 758.1 90.6 756.6 89.9 754.4 89.6 752.9 91.1 753.1 91.4 752.6 93.1 751.9 93.9 746.1 93.1 744.4 93.6 742.9 94.9 741.9 95.1 734.9 94.4 729.4 96.4 724.4 96.4 721.1 95.1 717.4 96.9 708.9 98.6 705.9 98.4 702.9 97.4 702.6 99.9 700.6 101.4 699.9 101.4 697.6 99.4 696.4 99.4 694.9 100.6 694.9 106.4 693.9 109.1 693.6 113.1 692.6 114.9 692.9 117.1 691.4 119.1 690.4 121.9 690.4 123.6 691.9 126.4 691.9 129.1 690.4 133.1 689.6 139.1 689.9 140.6 691.9 142.4 693.1 144.6 692.9 147.9 691.9 150.4 693.9 153.4 694.4 156.6 692.9 159.9 694.1 161.6 695.6 167.9 698.1 170.1 698.6 172.6 701.1 173.1 703.1 175.4 703.4 177.9 701.6 180.9 701.6 181.6 703.1 184.9 703.1 186.4 707.1 190.1 708.6 192.6 709.4 195.9 708.9 198.9 709.4 204.6 711.6 206.1 713.1 207.9 713.9 210.6 720.6 205.4 722.6 204.9 725.6 205.1 725.6 202.9 726.4 200.6 729.4 197.6 731.1 196.9 731.9 194.6 733.9 192.6 735.4 191.6 737.9 190.9 743.1 190.9 745.1 188.6 745.9 186.1 747.1 184.4 749.4 183.1 752.1 182.6 750.9 180.1 751.1 177.9 752.9 175.9 755.4 175.4 759.1 173.6 759.4 170.1 760.4 166.4 763.6 160.6 764.4 156.6 766.6 153.1 766.1 150.6 764.1 145.6 764.4 145.4 763.4 140.6 763.4 137.9 763.9 136.9 765.6 135.1 771.4 132.9 772.9 129.9 774.4 128.4 779.1 128.1 782.4 126.6 783.4 124.6 784.9 123.1 786.9 122.4 789.4 118.9 791.1 118.4 792.6 116.9 793.6 114.1 793.6 111.4 794.9 106.4 794.4 104.1 795.4 102.9 796.4 102.6 796.9 101.6 799.4 100.9 800.4 99.6 800.4 98.4 798.4 94.9 795.6 92.4 793.9 91.4 792.1 91.4 790.4 90.6 788.1 88.4 787.6 86.6Z" fill="rgb(0, 44, 255)" fill-rule="evenodd"/>
<path d="M695.9 227.1 696.4 228.9 731.6 228.9 731.4 227.6 726.9 226.6 723.1 222.9 713.9 220.4 709.6 220.9 706.4 222.6 703.4 223.6 700.1 223.6 697.9 222.9 696.6 223.9 696.1 224.9ZM786.1 85.4 783.1 84.9 781.6 84.1 780.1 84.1 777.4 86.4 774.6 86.6 771.9 88.6 769.9 88.6 768.4 87.9 759.9 90.9 758.1 90.9 757.4 90.4 754.4 89.9 753.4 91.1 752.9 93.1 751.9 94.1 746.4 93.4 744.6 93.9 743.1 95.1 742.1 95.4 734.6 94.9 729.6 96.6 724.1 96.6 722.1 95.6 720.6 95.6 717.4 97.1 709.4 98.9 705.6 98.6 703.4 97.9 703.1 99.9 700.4 101.9 699.4 101.6 697.1 99.9 695.6 100.6 695.4 106.4 694.4 109.1 694.1 113.1 693.1 115.1 693.4 117.1 691.9 119.4 690.9 122.1 691.1 124.1 692.4 126.4 692.4 129.1 690.9 133.9 690.4 137.4 690.6 140.4 692.1 141.6 693.6 144.1 693.6 147.9 692.6 150.1 694.6 153.4 695.1 155.4 694.4 159.9 695.1 160.9 696.9 166.4 699.1 168.9 700.1 171.1 701.9 171.9 703.9 173.9 704.9 175.6 705.6 178.6 705.4 182.1 706.6 184.6 712.9 190.6 716.1 195.4 717.4 198.1 718.6 198.1 721.4 196.1 726.9 193.6 728.6 191.9 734.1 188.9 738.1 187.9 741.6 187.6 743.9 184.1 745.4 182.6 748.4 180.9 748.6 179.1 750.4 175.9 751.9 174.4 756.6 171.6 757.9 165.9 760.9 159.6 762.1 154.9 763.6 152.9 762.9 147.6 763.4 145.4 762.6 138.4 763.4 136.6 765.1 134.9 768.6 133.1 770.9 132.6 771.9 131.4 772.4 129.9 774.1 128.1 776.4 127.6 778.4 127.9 782.1 126.4 783.6 123.9 785.6 122.4 787.1 121.9 787.4 120.9 789.1 118.6 791.4 117.9 792.4 116.6 793.4 114.1 793.4 111.9 794.4 108.6 794.1 104.1 796.6 101.6 798.9 100.9 800.1 99.6 800.1 98.4 798.4 95.4 795.4 92.4 793.6 91.4 791.4 91.4 790.1 90.9 788.1 88.6 787.4 86.6Z" fill="rgb(0, 59, 255)" fill-rule="evenodd"/>
<path d="M696.4 226.6 696.9 228.9 728.6 228.6 728.6 227.9 726.4 226.9 722.9 223.1 713.4 221.1 709.4 221.6 706.6 222.9 702.1 224.1 697.9 223.6 696.9 224.4ZM795.4 92.6 793.6 91.6 791.4 91.6 789.4 90.4 786.1 85.6 780.4 84.4 777.9 86.4 774.6 86.9 771.6 88.9 769.9 88.9 768.4 88.1 759.6 91.1 758.1 91.1 754.6 90.1 753.6 91.4 753.1 93.4 751.9 94.4 745.9 93.9 741.4 95.9 734.9 95.1 729.1 97.1 723.9 96.9 721.1 95.9 717.6 97.4 712.1 98.4 710.1 99.1 705.6 99.1 703.6 98.6 703.4 100.1 700.9 102.1 699.1 102.1 697.1 100.6 696.1 101.1 695.9 106.4 694.9 109.4 694.6 112.9 693.6 115.4 693.9 116.9 692.1 120.1 691.4 122.6 692.9 126.1 692.9 129.4 691.9 132.1 691.1 136.1 691.4 139.6 694.1 143.9 694.4 150.4 695.4 151.9 696.6 155.4 697.1 160.1 698.6 164.1 702.1 169.1 704.1 170.6 706.4 173.1 709.6 179.1 712.9 183.1 720.4 186.9 726.1 186.9 738.6 184.1 745.4 179.1 749.1 173.6 753.9 169.1 759.1 152.6 759.4 148.4 761.9 140.4 761.9 138.6 762.9 136.4 764.6 134.6 767.4 133.1 770.4 132.4 771.6 130.9 772.4 129.1 774.9 127.4 778.9 127.4 781.4 126.4 783.1 123.9 785.4 122.1 786.9 121.6 787.4 120.4 789.1 118.4 791.1 117.6 791.9 116.9 793.1 114.1 793.1 112.4 793.9 110.1 794.4 106.4 794.1 103.9 796.6 101.4 798.9 100.6 799.9 99.6 799.9 98.4 798.9 96.4Z" fill="rgb(0, 75, 255)" fill-rule="evenodd"/>
<path d="M696.9 226.1 697.1 228.4 697.6 228.9 726.4 228.9 726.9 228.1 722.9 223.6 714.4 221.9 708.1 222.4 706.9 223.1 702.6 224.4 699.1 224.1 697.6 224.6ZM798.1 95.6 793.6 91.9 791.9 91.9 789.9 91.1 785.9 85.9 780.4 84.6 777.6 86.9 774.6 87.1 772.1 88.9 769.4 88.9 768.4 88.4 759.4 91.4 754.4 90.6 753.4 93.4 752.1 94.6 746.4 94.1 741.9 96.1 734.6 95.6 729.6 97.4 724.4 97.4 721.9 96.4 720.6 96.4 717.9 97.6 710.4 99.4 705.1 99.4 703.9 98.9 703.6 100.4 701.4 102.4 698.9 102.6 697.6 101.9 697.1 102.1 695.4 109.4 695.4 111.6 694.1 115.4 694.1 117.9 692.6 120.4 692.1 123.4 693.4 126.1 693.4 129.6 692.6 131.9 692.6 137.4 692.9 138.9 695.6 144.9 696.4 150.1 698.6 154.9 700.1 160.4 702.1 164.1 710.1 173.4 714.9 178.1 717.1 179.6 721.1 181.4 726.4 182.1 732.6 181.6 736.1 180.9 742.4 177.4 747.6 171.4 751.1 166.6 753.9 156.4 755.1 147.6 757.1 142.9 759.6 138.9 764.4 134.1 768.6 132.1 770.1 131.9 772.1 128.9 773.9 127.4 779.1 126.9 781.1 126.1 782.9 123.6 785.1 121.9 786.6 121.4 787.1 120.1 788.9 118.1 790.9 117.4 791.6 116.6 792.9 113.9 793.1 110.9 794.1 107.6 793.9 103.9 796.6 101.1 798.9 100.4 799.6 99.4 799.6 98.6Z" fill="rgb(0, 91, 255)" fill-rule="evenodd"/>
<path d="M697.6 226.1 697.6 227.6 698.6 228.9 724.9 228.9 725.6 227.6 723.9 225.1 722.6 224.1 714.4 222.4 707.6 222.9 702.9 224.6 698.9 224.9ZM797.9 95.9 793.9 92.4 789.9 91.4 787.4 88.6 786.1 86.4 780.6 84.9 777.6 87.1 774.9 87.4 772.1 89.1 769.6 89.1 768.4 88.6 759.4 91.6 754.6 90.9 753.6 93.6 752.1 94.9 750.9 95.1 746.9 94.4 742.4 96.4 734.1 96.1 730.1 97.6 723.9 97.6 721.1 96.6 718.1 97.9 710.9 99.6 704.4 99.6 704.1 100.4 701.4 102.9 699.1 103.1 697.9 103.9 696.1 109.4 694.9 114.6 694.6 117.9 693.4 121.9 694.1 126.6 694.1 137.1 696.6 143.1 698.4 149.6 704.1 161.6 709.1 167.6 714.6 173.1 720.6 176.9 724.9 178.1 729.9 178.4 734.6 177.6 739.9 175.1 745.1 169.9 748.6 163.9 749.9 158.1 750.6 146.1 752.6 141.9 755.4 138.9 760.4 135.1 764.4 133.1 769.6 131.6 770.9 130.4 771.4 129.1 773.6 127.1 775.1 126.6 778.6 126.6 781.1 125.6 782.6 123.4 784.9 121.6 786.4 121.1 787.9 118.6 791.4 116.4 792.6 113.9 792.9 110.9 793.9 107.9 793.6 103.9 796.6 100.9 798.6 100.1 799.4 99.1Z" fill="rgb(0, 107, 255)" fill-rule="evenodd"/>
<path d="M698.6 226.1 698.6 227.6 699.9 228.9 723.4 228.9 724.4 227.9 724.1 226.1 722.4 224.6 714.9 222.9 708.4 223.1 703.9 224.6 700.4 225.1ZM797.6 95.9 793.4 92.4 789.9 91.6 787.4 89.1 785.6 86.4 780.6 85.4 777.6 87.4 774.9 87.6 771.9 89.4 769.6 89.4 768.4 88.9 759.4 91.9 754.9 91.4 753.9 93.6 752.4 95.1 751.4 95.4 746.4 94.9 741.9 96.9 734.9 96.4 729.6 98.1 724.4 98.1 720.9 97.1 717.6 98.4 711.1 99.9 704.6 100.1 703.6 101.6 698.6 105.4 695.9 114.9 695.6 117.9 694.6 121.6 694.6 123.6 695.1 125.9 695.6 137.1 700.1 148.9 706.9 160.4 711.1 165.4 716.4 170.4 722.4 173.9 725.9 174.9 730.1 175.1 735.6 173.9 738.6 172.1 743.1 167.6 745.1 164.1 745.9 161.9 746.6 157.6 746.1 144.6 746.6 142.4 747.9 140.1 750.6 137.6 758.1 133.9 770.1 130.1 772.9 127.1 773.9 126.6 778.9 126.1 781.1 125.1 782.1 123.4 784.6 121.4 786.1 120.9 786.6 119.6 788.6 117.6 790.6 116.9 792.1 114.4 792.6 110.9 793.6 108.4 793.6 103.6 794.6 102.1 796.6 100.6 798.1 100.1 799.1 99.1Z" fill="rgb(0, 125, 255)" fill-rule="evenodd"/>
<path d="M723.4 226.6 721.6 224.9 719.4 224.1 712.1 223.1 706.6 223.9 701.4 225.4 699.6 226.6 699.6 227.4 701.1 228.9 722.1 228.9 723.1 228.1ZM797.4 96.1 793.4 92.6 791.1 92.4 789.6 91.6 787.1 89.1 785.4 86.6 780.6 85.6 777.6 87.6 774.9 87.9 771.6 89.6 769.6 89.6 768.4 89.1 759.6 92.1 755.1 91.6 754.1 93.9 752.9 95.1 751.6 95.6 746.1 95.4 742.4 97.1 735.4 96.9 730.4 98.4 723.9 98.4 721.9 97.9 721.4 97.4 718.4 98.6 710.4 100.4 704.9 100.6 699.4 106.6 697.4 112.9 695.6 122.4 697.1 137.1 702.1 148.6 709.9 159.6 716.4 166.4 720.4 169.4 723.4 170.9 727.1 171.9 731.1 171.9 736.1 170.1 737.6 169.1 740.9 165.6 743.1 160.1 743.4 154.1 741.6 144.9 741.6 141.9 743.1 138.4 745.6 136.1 749.9 134.1 759.4 131.4 767.9 129.6 771.9 127.6 773.4 126.4 775.1 125.9 778.1 125.9 780.6 124.9 781.4 123.6 783.6 121.6 785.9 120.6 788.4 117.4 790.9 116.1 792.1 113.4 792.1 111.9 793.4 108.1 793.4 103.6 794.6 101.9 798.6 99.1Z" fill="rgb(0, 143, 255)" fill-rule="evenodd"/>
<path d="M700.9 226.9 701.1 227.9 702.6 228.9 720.9 228.9 722.4 227.4 722.1 226.1 720.9 225.1 714.6 223.6 710.4 223.6 707.1 224.1 702.9 225.4ZM797.1 96.4 793.6 93.1 789.6 91.9 786.6 88.9 785.4 86.9 780.9 85.9 777.6 87.9 774.9 88.1 771.6 89.9 769.6 89.9 768.4 89.4 759.6 92.4 755.1 92.1 754.4 94.1 751.9 95.9 747.4 95.6 742.4 97.6 734.1 98.1 731.4 98.9 724.1 98.9 721.1 98.1 710.6 100.6 706.4 101.1 705.1 101.9 700.1 107.6 697.6 116.4 696.9 121.1 696.9 124.9 697.9 134.4 699.1 138.6 702.4 145.4 705.6 150.4 711.9 157.6 718.1 163.9 722.4 166.9 726.1 168.4 730.6 168.6 733.9 167.6 735.9 166.4 738.1 163.9 739.1 162.1 740.1 158.1 739.9 153.4 737.1 143.1 737.4 139.6 738.9 136.6 741.9 134.1 745.9 132.4 751.9 130.9 767.4 128.4 772.4 126.1 779.4 124.4 783.4 121.4 785.6 120.4 785.6 119.9 787.9 117.4 790.6 115.9 791.6 113.9 791.9 111.6 793.1 108.1 793.1 103.6 794.6 101.6 798.4 98.9Z" fill="rgb(0, 162, 255)" fill-rule="evenodd"/>
<path d="M721.4 226.6 720.9 225.9 717.9 224.6 711.9 223.9 704.9 225.1 702.4 226.6 702.4 227.6 704.1 228.9 719.4 228.9 721.4 227.4ZM797.1 96.9 793.6 93.4 791.1 92.9 789.1 91.9 786.6 89.4 785.1 87.1 780.6 86.4 778.4 87.9 775.1 88.4 772.4 89.9 769.9 90.1 768.1 89.6 766.9 90.4 763.6 91.1 759.9 92.6 755.9 92.4 755.4 92.6 754.9 93.9 752.1 96.1 748.4 96.4 742.6 98.6 735.1 99.1 729.1 100.1 723.9 99.9 722.1 99.4 717.6 99.4 709.9 100.9 705.9 102.6 701.1 108.1 698.6 116.1 697.9 121.4 697.9 124.9 698.4 130.1 699.9 137.1 702.4 142.4 706.9 148.9 721.4 162.1 724.9 164.1 727.6 164.9 731.6 164.4 734.6 162.1 735.9 159.9 736.4 157.9 736.1 153.6 733.1 143.9 733.4 139.6 735.1 135.6 738.9 132.4 743.9 130.4 751.4 128.9 766.1 127.4 773.1 124.9 778.6 123.6 785.1 119.9 787.4 117.4 790.4 115.6 791.4 113.6 791.9 110.6 792.9 108.1 792.9 103.6 795.9 100.1 798.1 98.9Z" fill="rgb(0, 180, 255)" fill-rule="evenodd"/>
<path d="M703.6 226.6 703.6 227.6 705.9 228.9 717.9 228.9 719.6 228.1 720.4 227.1 720.1 226.4 718.6 225.4 714.4 224.4 710.1 224.4 705.6 225.4ZM797.4 97.9 794.1 94.1 789.4 92.4 784.9 87.4 780.9 86.6 778.4 88.1 775.1 88.6 772.4 90.1 770.1 90.4 768.1 89.9 766.9 90.6 763.6 91.4 759.9 92.9 756.1 93.1 752.9 96.1 741.9 99.9 736.6 100.1 730.1 101.1 717.9 100.4 713.4 100.9 708.6 102.4 706.4 103.6 703.1 107.1 701.4 110.1 699.9 114.9 698.9 121.1 698.9 125.4 699.6 131.4 701.1 136.9 704.9 143.6 709.4 148.6 712.6 151.1 722.9 157.6 726.4 159.1 728.4 159.1 730.4 157.6 730.9 156.4 730.9 153.4 729.4 146.4 729.9 140.6 731.6 135.9 734.4 132.4 738.4 129.9 745.1 127.9 750.4 127.1 764.6 126.4 777.1 123.1 784.4 119.4 790.6 114.4 792.6 107.9 792.9 103.1 795.6 99.9 797.6 98.9Z" fill="rgb(0, 199, 255)" fill-rule="evenodd"/>
<path d="M704.9 226.6 704.9 227.4 705.6 228.1 707.9 228.9 716.1 228.9 719.1 227.4 719.1 226.6 717.1 225.4 713.4 224.6 708.1 225.1 706.4 225.6ZM796.4 97.1 793.4 93.9 789.9 92.9 788.1 91.6 784.9 87.9 780.1 87.4 778.4 88.4 774.4 89.1 772.1 90.4 768.1 90.1 760.9 92.9 757.9 93.4 756.1 94.1 753.1 96.6 750.6 97.9 742.6 100.9 731.6 102.1 714.9 101.6 710.1 102.9 706.9 104.6 703.1 108.9 700.6 115.6 699.9 120.6 699.9 126.1 700.9 132.4 702.4 136.9 705.1 141.6 710.4 146.9 716.4 149.9 718.9 150.4 721.9 150.1 724.1 148.4 725.9 144.6 728.1 137.9 730.9 132.9 735.1 129.1 739.4 127.4 746.1 125.9 752.6 125.4 763.1 125.4 767.9 124.6 777.4 122.1 784.6 118.1 788.4 115.4 790.9 112.6 792.4 107.9 792.6 103.1 793.4 101.9 795.9 99.4 796.6 99.1Z" fill="rgb(0, 217, 255)" fill-rule="evenodd"/>
<path d="M706.1 226.9 706.4 227.6 707.4 228.1 711.9 228.9 715.9 228.4 717.9 227.1 717.1 226.1 713.9 225.1 709.1 225.4 707.4 225.9ZM795.6 97.9 794.6 95.9 793.1 94.1 789.4 92.9 785.4 89.1 783.9 88.4 779.6 88.1 778.6 88.6 774.9 89.1 772.1 90.6 768.4 90.4 762.9 92.1 756.9 94.6 750.6 98.9 742.4 102.1 730.6 103.4 725.9 103.4 721.6 102.6 715.1 102.6 710.4 103.9 706.6 106.1 705.1 107.9 702.9 111.6 701.6 115.4 700.9 119.4 700.6 124.1 701.4 130.1 702.9 135.1 705.9 140.4 709.6 144.1 712.6 145.9 714.9 146.6 719.4 146.4 720.9 145.6 722.9 143.6 728.1 133.6 729.9 131.1 732.4 128.6 735.4 126.9 739.9 125.4 746.9 124.1 766.6 123.9 776.9 121.4 782.9 118.4 788.4 114.4 791.1 110.9 792.1 107.9 792.4 103.1 793.4 101.4 795.4 99.4Z" fill="rgb(0, 230, 242)" fill-rule="evenodd"/>
<path d="M707.6 226.9 708.6 227.9 711.4 228.4 714.6 228.1 716.4 227.1 715.9 226.4 713.9 225.6 710.6 225.6 708.6 226.1ZM794.4 97.4 793.6 95.9 791.6 93.9 788.9 92.9 786.6 90.6 784.9 89.6 782.6 88.9 775.6 89.1 772.9 90.6 768.1 90.6 763.4 92.4 757.1 95.4 751.1 99.6 745.6 102.4 742.4 103.4 730.4 104.6 715.9 103.6 710.6 104.9 707.4 106.9 704.9 109.9 703.4 112.9 702.1 117.1 701.6 120.6 701.6 125.6 702.4 130.1 703.6 134.1 705.6 137.9 709.6 142.1 713.9 144.1 717.1 144.1 719.6 143.1 721.6 141.4 728.9 129.6 732.1 126.6 735.6 124.9 741.1 123.4 745.9 122.6 765.1 123.1 776.6 120.6 782.6 117.6 788.1 113.6 791.6 108.6 791.9 104.1 792.4 102.6 794.4 99.9Z" fill="rgb(0, 242, 227)" fill-rule="evenodd"/>
<path d="M709.9 226.9 710.1 227.4 713.4 227.6 714.4 227.1 713.6 226.4 710.6 226.4ZM793.4 97.4 792.1 95.4 790.6 94.1 784.1 90.1 782.6 89.6 774.9 89.9 771.6 91.1 768.6 91.1 763.6 92.9 757.6 95.9 748.6 102.1 742.9 104.6 731.1 105.9 726.4 105.9 720.4 104.9 714.4 104.9 711.6 105.6 708.1 107.6 706.9 108.9 705.1 111.4 703.6 114.9 702.9 117.9 702.4 123.6 702.9 127.9 704.1 132.6 706.4 136.9 709.1 139.9 712.1 141.6 715.9 142.1 718.6 141.1 721.6 138.4 727.9 128.4 730.6 125.6 734.1 123.6 739.1 122.1 744.9 121.1 751.4 121.1 758.4 122.1 766.1 122.1 776.4 119.9 782.9 116.6 788.6 111.9 791.6 106.9 791.9 103.1 793.4 100.4Z" fill="rgb(0, 253, 212)" fill-rule="evenodd"/>
<path d="M792.4 97.4 789.4 94.1 784.6 91.1 782.6 90.4 775.4 90.4 768.1 91.9 763.4 93.6 758.1 96.4 751.4 101.6 747.1 104.4 742.9 106.1 728.1 107.4 720.6 106.1 715.4 105.9 710.9 107.1 708.6 108.6 706.6 110.9 705.4 112.9 703.9 117.4 703.4 120.6 703.4 125.1 703.9 128.4 705.1 132.4 707.1 135.9 709.9 138.6 712.4 139.9 715.9 140.1 718.6 138.9 721.4 136.1 727.4 126.6 730.1 123.9 734.4 121.6 740.1 120.1 745.4 119.4 750.4 119.6 758.6 121.1 764.9 121.4 770.6 120.6 776.4 119.1 780.6 117.1 786.1 113.4 788.9 110.4 791.4 105.4 791.6 103.1 792.4 101.4Z" fill="rgb(0, 255, 177)" fill-rule="evenodd"/>
<path d="M791.4 97.4 788.1 94.1 783.9 91.6 781.6 90.9 776.1 90.9 768.4 92.4 760.4 95.9 756.9 98.1 747.6 105.6 743.1 107.9 733.6 108.9 727.1 108.9 718.6 107.1 714.9 107.1 712.6 107.6 710.1 108.9 707.9 110.9 706.6 112.6 705.1 116.1 704.4 119.6 704.4 125.9 705.6 130.9 707.9 134.9 709.9 136.9 712.4 138.1 715.1 138.4 717.4 137.6 719.6 135.9 722.6 131.9 726.1 125.9 730.1 121.6 732.9 120.1 735.9 119.1 742.9 117.6 747.4 117.6 760.1 120.4 767.4 120.4 775.6 118.6 782.6 115.1 785.6 112.9 788.4 109.9 790.1 106.9 791.6 100.9Z" fill="rgb(0, 255, 139)" fill-rule="evenodd"/>
<path d="M790.6 98.1 787.9 94.9 783.9 92.4 781.9 91.6 775.1 91.6 767.1 93.4 759.9 96.9 754.1 101.4 746.1 108.9 742.6 110.9 728.9 111.1 718.4 108.4 714.6 108.4 712.6 108.9 710.6 109.9 708.6 111.6 707.4 113.4 705.9 116.9 705.1 120.9 705.1 124.4 706.4 129.9 708.1 133.1 710.6 135.6 713.1 136.6 715.9 136.4 718.1 135.1 720.1 133.1 725.9 123.6 729.6 119.4 732.4 117.6 740.9 114.9 745.4 114.9 754.4 118.1 761.4 119.6 767.6 119.6 776.4 117.6 782.9 114.1 784.9 112.6 787.9 109.4 789.4 106.9 790.4 103.6Z" fill="rgb(0, 255, 101)" fill-rule="evenodd"/>
<path d="M719.9 110.1 714.9 109.6 711.4 110.9 708.6 113.4 706.6 117.9 706.1 120.4 706.1 124.9 706.6 127.4 708.9 132.1 712.1 134.6 714.9 134.9 716.4 134.4 719.4 131.9 722.6 126.9 728.1 116.4 728.1 115.1 727.1 113.6 723.9 111.6ZM789.6 98.1 786.4 94.6 781.9 92.4 775.6 92.1 767.4 93.9 762.4 96.1 756.4 100.4 749.9 107.4 748.4 109.9 748.1 112.1 748.6 113.1 751.4 115.4 755.6 117.4 760.4 118.6 767.9 118.9 775.9 117.1 782.1 113.9 784.1 112.4 787.4 108.9 788.9 106.1 789.6 103.6Z" fill="rgb(0, 255, 63)" fill-rule="evenodd"/>
<path d="M717.6 111.1 714.1 111.1 711.4 112.4 708.9 115.1 707.4 119.1 707.1 124.6 708.4 128.9 710.9 132.1 713.1 133.1 716.1 132.6 719.4 129.6 722.6 123.9 724.4 119.4 724.6 116.4 723.9 114.6 721.6 112.6ZM788.9 98.6 788.1 97.4 785.1 94.6 780.9 92.9 776.4 92.6 771.4 93.4 766.9 94.6 759.9 98.4 755.1 102.6 752.9 105.4 750.9 108.9 750.9 112.1 752.1 113.9 754.1 115.4 756.6 116.6 761.1 117.9 768.6 118.1 775.4 116.6 782.1 113.1 786.4 109.1 788.1 106.1 788.9 103.6Z" fill="rgb(16, 255, 36)" fill-rule="evenodd"/>
<path d="M716.9 112.6 714.4 112.6 711.6 113.9 709.9 115.9 708.4 119.6 708.1 123.4 708.9 126.9 710.1 129.1 711.4 130.4 712.9 131.1 715.6 130.9 718.1 128.9 721.1 123.6 722.1 120.6 722.4 117.9 721.6 115.6 719.1 113.4ZM788.1 99.1 786.9 97.1 784.9 95.4 782.6 94.1 779.9 93.4 774.9 93.4 767.1 95.1 762.1 97.6 757.1 101.6 754.6 104.6 752.9 107.6 752.4 109.9 752.6 111.4 753.4 112.9 755.6 114.9 761.4 117.1 769.4 117.4 775.6 115.9 781.4 112.9 783.4 111.4 785.9 108.6 787.4 106.1 788.1 103.6Z" fill="rgb(56, 255, 25)" fill-rule="evenodd"/>
<path d="M715.9 114.4 713.9 114.6 712.4 115.4 710.9 116.9 709.6 120.1 709.4 122.6 710.4 126.6 712.1 128.6 713.4 129.1 716.1 128.4 717.6 126.9 719.1 124.4 720.1 121.4 720.1 118.1 719.4 116.4 717.6 114.9ZM787.1 98.9 784.6 96.1 782.6 94.9 780.4 94.1 775.4 93.9 767.4 95.6 762.9 97.9 757.9 101.9 755.9 104.4 754.4 107.1 753.9 109.1 754.1 111.1 755.4 113.1 756.9 114.4 759.4 115.6 762.9 116.6 770.1 116.6 775.9 115.1 781.4 112.1 785.6 107.9 787.4 103.6Z" fill="rgb(96, 255, 14)" fill-rule="evenodd"/>
<path d="M715.6 116.9 713.1 117.4 712.1 118.4 711.1 121.1 711.4 124.1 711.9 125.1 713.4 126.4 715.6 125.9 716.9 124.4 717.9 122.1 717.9 119.1 717.4 118.1ZM786.1 98.9 783.4 96.1 779.4 94.6 772.1 94.9 766.4 96.6 760.1 100.6 756.9 104.4 755.4 107.6 755.6 111.1 756.4 112.4 758.4 114.1 761.1 115.4 764.6 116.1 770.9 115.9 776.1 114.4 781.4 111.4 785.1 107.4 786.6 103.6 786.6 100.4Z" fill="rgb(137, 255, 4)" fill-rule="evenodd"/>
<path d="M785.6 99.9 783.1 96.9 781.4 95.9 778.6 95.1 774.4 95.1 767.9 96.6 762.4 99.6 759.1 102.6 756.6 107.1 756.6 110.4 757.6 112.1 759.4 113.6 763.1 115.1 770.1 115.4 775.1 114.1 779.6 111.9 781.6 110.4 784.1 107.6 785.9 103.4Z" fill="rgb(174, 255, 0)" fill-rule="evenodd"/>
<path d="M784.9 100.4 782.9 97.6 778.9 95.9 772.9 95.9 768.1 97.1 763.1 99.9 759.9 102.9 757.9 106.4 757.9 110.4 758.6 111.6 760.4 113.1 764.4 114.6 770.9 114.6 775.4 113.4 779.6 111.1 783.1 107.9 784.9 104.4Z" fill="rgb(209, 255, 0)" fill-rule="evenodd"/>
<path d="M783.4 99.4 781.1 97.4 777.9 96.4 773.4 96.4 768.4 97.6 763.1 100.6 760.6 103.1 758.9 106.4 758.6 108.9 759.1 110.4 761.4 112.6 763.6 113.6 766.1 114.1 771.6 113.9 775.6 112.6 779.9 110.1 783.4 106.1 784.1 104.1 784.1 100.9Z" fill="rgb(244, 255, 0)" fill-rule="evenodd"/>
<path d="M782.6 99.9 779.9 97.6 776.1 96.9 772.4 97.1 768.1 98.4 763.9 100.9 761.4 103.4 759.9 106.4 760.1 109.9 761.9 111.9 765.9 113.4 770.6 113.4 776.4 111.6 780.1 109.1 782.4 106.4 783.4 103.6 783.4 101.6Z" fill="rgb(255, 234, 0)" fill-rule="evenodd"/>
<path d="M781.9 100.4 779.6 98.4 776.9 97.6 773.1 97.6 767.9 99.1 764.6 101.1 761.9 104.1 760.9 106.4 761.1 109.4 762.9 111.4 766.1 112.6 771.4 112.6 775.4 111.4 779.4 108.9 781.6 106.1 782.4 104.1 782.4 101.6Z" fill="rgb(255, 203, 0)" fill-rule="evenodd"/>
<path d="M780.9 100.6 779.6 99.4 776.9 98.4 772.6 98.4 768.9 99.4 766.1 100.9 763.4 103.4 761.9 106.4 762.1 108.9 763.9 110.9 766.4 111.9 769.9 112.1 774.9 110.9 778.9 108.4 780.9 105.9 781.6 103.4Z" fill="rgb(255, 172, 0)" fill-rule="evenodd"/>
<path d="M780.1 101.4 778.6 99.9 776.6 99.1 772.1 99.1 768.9 100.1 766.4 101.6 763.9 104.1 763.1 105.6 763.1 108.1 764.6 110.1 766.9 111.1 770.1 111.4 773.6 110.6 777.4 108.6 779.4 106.6 780.6 103.6Z" fill="rgb(255, 141, 0)" fill-rule="evenodd"/>
<path d="M779.4 102.4 777.9 100.6 775.9 99.9 772.1 99.9 769.6 100.6 766.6 102.4 765.4 103.6 764.1 106.4 764.4 107.9 765.1 109.1 767.6 110.4 771.6 110.4 774.1 109.6 778.1 106.9 779.4 104.6Z" fill="rgb(255, 109, 0)" fill-rule="evenodd"/>
<path d="M777.9 102.4 776.9 101.4 774.6 100.6 772.9 100.6 769.4 101.6 766.1 104.4 765.6 105.4 765.6 107.4 766.9 108.9 769.1 109.6 770.9 109.6 774.4 108.6 777.6 105.9 778.1 104.9Z" fill="rgb(255, 77, 0)" fill-rule="evenodd"/>
<path d="M776.4 102.9 774.9 101.9 773.6 101.6 770.1 102.4 767.6 104.4 767.1 105.4 767.1 106.9 767.6 107.6 769.1 108.4 772.1 108.4 774.9 107.1 776.6 105.1Z" fill="rgb(255, 44, 0)" fill-rule="evenodd"/>
<path d="M774.6 104.1 773.9 103.4 771.4 103.4 769.4 104.9 769.4 106.4 770.1 106.9 772.9 106.6 774.4 105.4Z" fill="rgb(253, 17, 0)" fill-rule="evenodd"/></g>
<g filter="url(#sb)"><path d="M264.4 466.4 263.1 467.9 263.4 468.9 264.4 470.4 266.1 470.4 267.4 469.4 267.1 467.9 265.6 466.4ZM311.9 326.4 308.4 325.6 305.1 324.1 304.1 324.4 301.4 326.4 298.9 326.6 297.1 325.6 295.9 324.1 295.1 324.1 293.6 325.9 292.9 325.9 289.4 328.6 283.1 328.6 280.9 327.6 278.6 327.4 276.1 327.9 273.6 327.6 272.4 328.1 270.4 327.9 266.1 330.1 264.9 330.4 260.4 329.1 258.4 330.1 257.1 332.4 254.9 334.4 250.9 333.9 246.9 332.1 242.4 332.4 241.6 333.6 238.9 335.1 237.4 334.9 235.9 333.4 234.6 332.9 232.6 334.9 231.6 334.9 230.6 333.9 227.6 332.6 225.6 332.9 216.9 336.9 212.6 341.1 211.1 341.6 209.4 343.1 208.9 345.4 209.6 347.9 209.1 348.9 207.4 350.1 205.9 352.4 205.6 355.6 204.1 359.9 204.9 362.9 204.9 370.1 204.4 372.4 202.9 375.1 202.9 376.6 203.4 378.4 203.4 383.6 205.4 385.9 205.6 386.9 204.1 388.9 204.6 392.9 203.9 395.6 204.4 396.6 207.4 399.1 207.6 401.4 206.9 403.4 206.9 406.1 207.4 407.4 209.9 410.4 209.6 414.1 208.6 416.1 208.9 418.1 209.6 419.6 211.1 421.1 212.9 421.9 214.4 423.4 215.9 428.1 216.9 429.6 219.9 431.9 220.4 433.1 219.9 435.6 220.4 436.6 219.9 438.1 219.1 438.9 218.9 440.4 220.4 441.4 220.4 442.1 222.4 443.6 222.4 444.4 220.9 446.1 215.9 448.6 216.4 450.6 218.4 452.6 219.4 454.6 219.4 456.9 218.1 458.9 216.4 459.6 213.1 460.1 211.9 461.1 211.4 462.6 211.6 466.1 210.6 470.4 253.4 470.4 250.6 468.1 250.1 467.1 249.9 463.9 249.4 463.1 241.4 458.4 240.6 456.6 240.6 454.4 242.1 450.6 242.9 444.9 243.6 444.1 245.6 443.6 246.6 442.6 246.6 440.4 245.9 437.9 244.9 436.4 244.9 435.4 247.4 432.9 247.9 431.6 247.9 429.4 245.9 426.1 248.4 423.1 251.4 422.6 252.6 421.6 253.4 418.4 255.1 415.1 255.4 410.6 256.1 407.1 257.4 404.6 257.9 401.9 260.1 398.6 259.9 396.9 258.9 395.9 258.6 393.9 259.6 391.6 262.1 388.9 262.4 387.4 261.4 385.4 259.6 383.4 259.1 381.9 260.6 380.1 262.9 378.9 264.6 379.4 266.9 381.1 268.1 381.1 269.6 379.4 269.9 376.6 270.6 375.6 272.4 374.9 275.1 374.9 275.9 374.4 276.6 374.4 277.1 374.9 277.4 376.1 278.4 377.6 281.4 380.6 282.1 379.6 282.6 379.6 282.4 375.4 281.1 372.4 281.4 370.9 282.9 369.9 284.6 370.4 286.1 372.6 287.9 374.1 291.4 373.9 295.6 372.4 296.6 370.4 298.4 368.4 303.1 365.6 303.6 363.1 306.4 360.1 308.6 356.1 311.4 353.6 311.9 352.4 311.1 350.6 309.4 350.4 308.4 349.6 308.1 348.1 308.9 347.4 310.1 347.4 311.9 348.6 313.4 348.4 314.6 347.1 315.6 343.6 317.6 340.4 320.4 340.1 321.9 338.9 321.1 337.4 320.1 336.9 317.1 337.1 315.4 335.6 312.9 330.9Z" fill="rgb(0, 0, 215)" fill-rule="evenodd"/>
<path d="M264.9 467.9 264.6 468.1 265.4 468.9 265.6 468.4ZM311.9 326.4 308.4 325.6 305.1 324.1 304.1 324.4 301.4 326.4 298.9 326.6 297.1 325.6 295.9 324.1 295.1 324.1 293.6 325.9 292.9 325.9 289.4 328.6 283.1 328.6 280.9 327.6 278.6 327.4 276.1 327.9 273.6 327.6 272.4 328.1 270.4 327.9 266.1 330.1 264.9 330.4 260.4 329.1 258.4 330.1 257.1 332.4 254.9 334.4 250.9 333.9 246.9 332.1 242.4 332.4 241.6 333.6 238.9 335.1 237.4 334.9 235.9 333.4 234.6 332.9 232.6 334.9 231.6 334.9 230.6 333.9 227.6 332.6 225.6 332.9 216.9 336.9 212.6 341.1 212.1 341.1 209.6 343.1 209.1 345.4 209.9 347.9 209.4 348.9 207.1 350.9 206.1 352.6 205.9 355.9 204.6 359.1 204.6 361.6 205.1 362.6 205.1 370.4 204.6 372.6 203.4 374.6 203.1 376.4 203.6 378.1 203.6 383.4 205.6 385.6 205.9 387.1 204.6 388.9 204.9 393.1 204.4 395.9 207.6 398.9 207.9 401.6 207.4 402.9 207.1 405.9 207.6 407.1 210.1 410.1 210.1 413.1 209.1 416.1 209.4 418.1 211.1 420.6 213.1 421.6 214.6 423.1 216.1 427.9 217.1 429.4 220.1 431.6 220.9 434.1 220.4 435.6 220.9 436.9 220.4 438.4 219.6 439.1 219.6 440.1 222.9 443.1 223.1 444.4 222.4 445.6 219.9 447.9 216.9 448.9 217.1 449.9 219.1 451.9 220.4 454.4 220.4 457.4 218.9 459.6 212.6 461.6 211.9 464.1 211.9 465.9 211.1 467.1 210.9 470.4 252.1 470.4 250.1 468.4 249.4 464.6 248.6 463.4 244.1 460.9 241.9 460.1 240.4 458.9 239.6 456.9 239.6 454.4 241.4 450.1 241.9 445.6 242.4 444.4 243.1 443.6 245.9 442.4 245.9 439.9 245.4 438.1 244.4 436.6 244.4 435.1 246.9 432.6 247.6 429.6 245.6 425.9 248.1 422.9 251.1 422.4 252.4 421.4 253.1 418.1 254.9 414.9 255.1 410.4 255.9 406.9 257.1 404.4 257.6 401.6 259.9 398.1 259.6 397.1 258.6 396.1 258.4 393.6 259.4 391.4 261.9 388.6 262.1 387.6 259.4 383.4 258.9 381.9 260.6 379.9 262.9 378.6 264.9 379.1 266.6 380.6 267.9 380.6 269.1 379.4 269.6 376.4 270.4 375.4 272.1 374.6 274.9 374.6 275.6 374.1 276.9 374.1 278.9 377.4 281.4 379.4 282.1 378.6 282.1 377.1 280.9 371.6 281.9 370.1 282.9 369.6 284.6 370.1 287.6 373.6 291.4 373.4 295.1 372.1 297.9 368.4 302.9 365.6 303.6 363.1 306.4 360.1 308.6 356.1 311.4 353.6 311.9 352.4 311.1 350.6 309.4 350.4 308.4 349.6 308.1 348.1 308.9 347.4 310.1 347.4 311.9 348.6 313.4 348.4 314.6 347.1 315.6 343.6 317.6 340.4 320.4 340.1 321.9 338.9 321.1 337.4 320.1 336.9 317.1 337.1 315.4 335.6 312.9 330.9Z" fill="rgb(0, 12, 255)" fill-rule="evenodd"/>
<path d="M311.6 326.6 307.4 325.6 305.9 324.6 304.4 324.6 303.4 325.6 301.4 326.6 298.9 326.9 295.4 324.4 293.6 326.1 292.9 326.1 289.4 328.6 282.1 328.6 280.9 327.9 275.1 327.9 272.6 328.4 270.6 328.1 266.4 330.4 264.9 330.6 260.6 329.4 258.6 330.4 257.4 332.4 254.9 334.4 252.9 334.4 248.1 332.6 243.9 332.1 242.4 332.4 241.6 333.6 238.9 335.1 237.4 334.9 235.9 333.4 234.6 332.9 233.4 334.4 231.6 334.9 229.1 333.1 227.6 332.6 225.6 332.9 217.1 337.1 213.9 340.1 212.9 341.6 211.4 342.1 209.9 343.6 209.6 345.6 210.1 348.1 206.6 352.6 206.4 355.9 205.1 359.4 205.1 361.4 205.6 362.6 205.6 370.4 204.9 373.4 203.9 374.9 204.4 383.6 206.1 385.6 206.4 387.1 205.1 389.1 205.4 394.1 204.9 395.4 205.4 396.4 206.1 396.6 208.1 398.9 208.4 401.6 207.6 405.1 208.1 406.9 210.6 410.1 210.6 414.1 209.6 416.6 210.6 419.1 215.1 422.9 216.1 426.6 217.6 428.9 220.6 431.4 221.4 432.9 221.4 437.4 221.1 438.6 220.4 439.6 221.9 440.9 223.9 443.6 223.6 445.4 222.4 447.1 220.4 448.6 218.1 449.6 220.1 451.6 221.1 453.6 221.4 457.6 219.4 460.4 216.6 461.4 214.1 461.6 213.1 462.4 211.6 467.1 211.4 470.4 250.6 470.4 249.4 468.1 248.1 463.9 241.1 460.6 239.6 459.4 238.6 457.1 238.6 454.4 239.1 452.4 240.4 450.1 241.1 445.1 241.6 444.1 242.9 442.9 245.1 441.9 244.6 438.4 243.6 436.1 243.9 434.9 246.4 432.4 246.9 431.1 246.9 429.9 245.1 425.9 248.1 422.4 249.9 422.1 251.9 420.9 252.4 418.4 254.4 413.9 255.4 406.6 256.6 404.1 257.1 401.4 259.1 398.4 258.9 397.1 258.1 396.4 257.9 393.6 258.9 391.1 261.1 388.6 261.4 387.4 258.9 383.4 258.6 381.6 260.9 379.1 262.9 378.1 264.6 378.4 267.6 380.1 268.6 378.9 269.1 376.1 270.1 374.9 272.1 374.1 274.6 374.1 275.4 373.6 277.1 373.6 279.4 376.9 281.1 378.4 281.4 375.9 280.4 372.9 280.4 371.6 281.6 369.9 283.9 369.4 285.1 369.9 287.6 372.9 290.9 372.9 294.9 371.6 295.6 370.9 295.9 369.9 298.1 367.6 302.6 365.1 303.1 362.9 306.1 359.9 308.4 355.9 311.1 353.4 311.6 352.4 310.6 350.4 309.4 350.4 308.4 349.6 308.1 348.1 308.9 347.4 310.1 347.4 311.9 348.6 313.4 348.1 314.9 346.1 315.4 343.6 316.9 340.9 317.6 340.1 320.1 339.9 321.4 338.9 320.9 337.6 319.9 337.1 317.1 337.4 315.1 335.6 312.6 330.9Z" fill="rgb(0, 28, 255)" fill-rule="evenodd"/>
<path d="M311.1 326.9 308.4 326.4 305.1 324.9 301.4 326.9 298.6 326.9 296.9 326.1 295.4 324.6 294.4 325.9 292.9 326.4 289.4 328.9 282.9 328.9 280.6 328.1 276.6 328.1 270.4 328.6 265.1 330.9 260.1 329.9 258.9 330.6 255.1 334.6 252.6 334.6 250.6 334.1 246.6 332.4 242.6 332.6 241.9 333.9 238.9 335.4 237.4 335.1 235.9 333.6 234.6 333.1 232.6 335.1 231.6 335.1 229.1 333.4 225.9 333.1 217.4 337.4 213.1 341.9 210.4 343.6 210.1 345.6 210.6 348.4 207.1 352.9 206.9 356.1 205.6 359.6 206.1 362.4 206.1 370.6 205.4 373.6 204.4 375.4 204.9 378.1 204.9 383.1 206.6 385.4 206.9 387.4 205.9 388.6 206.1 393.1 205.6 395.4 208.6 398.9 208.9 401.9 208.4 403.4 208.4 405.9 211.1 409.9 211.4 412.9 211.1 414.9 210.4 416.4 211.1 418.6 212.4 419.9 213.9 420.6 215.6 422.6 216.6 425.9 217.9 428.1 221.4 431.1 222.1 433.4 222.1 437.6 221.6 439.6 224.6 443.1 224.6 445.4 223.6 447.1 220.9 449.6 219.9 449.9 222.4 453.6 222.9 455.9 222.6 458.1 219.9 460.9 218.1 461.6 214.9 462.1 213.6 462.9 211.9 467.6 211.9 470.4 249.6 470.4 247.9 464.6 243.9 462.4 239.6 460.6 237.9 458.6 237.4 456.1 238.1 452.4 239.4 450.1 240.4 444.6 242.4 442.1 244.4 441.4 242.9 436.4 243.1 434.6 246.1 431.1 246.1 429.6 244.6 426.9 244.6 425.6 247.4 422.1 251.1 420.9 251.9 417.9 253.6 414.4 253.9 410.6 254.9 406.4 255.6 405.1 256.6 401.1 258.4 398.4 258.4 397.6 257.6 396.6 257.4 393.4 258.4 390.9 260.6 388.1 260.1 386.1 258.4 383.4 258.4 380.9 260.1 379.1 262.6 377.6 265.6 378.1 267.4 379.4 267.9 378.9 268.1 376.9 268.9 375.4 269.9 374.4 271.6 373.6 277.4 373.1 278.6 374.1 278.9 375.1 280.4 376.6 279.9 371.4 281.4 369.4 282.6 368.9 284.6 369.1 288.6 372.6 291.6 372.1 294.4 371.1 297.6 367.4 302.1 365.1 302.9 362.6 305.6 359.9 308.1 355.9 311.1 352.9 311.1 351.4 310.4 350.6 308.6 350.4 307.9 349.1 307.9 348.1 308.9 347.1 310.4 347.1 312.1 348.4 313.4 347.9 314.6 346.1 315.1 343.6 316.6 340.6 317.4 339.9 320.9 338.9 320.9 338.1 318.6 337.4 316.9 337.6 314.9 335.9 312.4 331.1 312.1 329.1Z" fill="rgb(0, 44, 255)" fill-rule="evenodd"/>
<path d="M310.9 327.1 307.9 326.6 305.6 325.4 304.6 325.4 302.9 326.6 300.6 327.4 298.4 327.1 295.1 325.1 294.1 326.4 292.1 327.1 289.4 329.1 282.6 329.1 280.6 328.4 277.1 328.4 276.1 328.9 270.9 328.9 265.4 331.1 260.6 330.1 259.1 330.9 257.6 332.9 255.1 334.9 252.6 334.9 250.6 334.4 246.4 332.6 242.6 332.9 241.9 334.1 239.6 335.4 237.1 335.1 235.9 333.9 234.6 333.4 232.9 335.1 231.4 335.1 230.4 334.1 228.1 333.4 226.1 333.4 217.9 337.6 214.4 340.9 213.4 342.4 210.9 343.9 210.6 345.4 211.1 348.1 210.4 349.9 207.6 353.1 207.4 356.4 206.4 359.1 206.6 370.9 206.1 373.4 205.1 375.1 205.4 382.6 206.9 384.6 207.4 386.1 207.4 387.6 206.4 388.9 206.4 395.4 207.4 396.1 209.1 398.6 209.4 402.4 208.9 405.4 211.6 409.6 211.9 413.9 211.1 417.1 212.4 419.1 213.9 419.9 216.1 422.1 218.1 427.4 221.9 430.9 222.6 432.4 222.6 435.6 223.1 436.6 222.6 439.4 225.6 442.4 226.4 444.6 226.1 447.9 224.6 451.1 226.9 456.1 226.9 457.6 226.4 458.6 224.9 459.9 220.1 461.6 214.4 462.9 212.4 467.1 212.4 470.4 248.6 470.4 248.1 467.1 246.9 464.6 243.6 462.9 238.4 461.4 235.6 460.1 233.9 458.6 233.4 457.6 233.4 456.1 235.6 450.9 237.1 449.1 239.4 443.4 241.6 441.1 242.9 440.6 242.9 439.1 242.1 436.9 242.4 434.6 245.4 430.9 245.4 429.9 244.1 427.4 244.1 425.4 247.4 421.4 250.6 420.4 251.4 417.4 253.1 413.9 253.4 410.1 254.1 406.9 255.4 404.1 256.4 400.1 257.9 398.1 256.9 396.1 256.9 393.1 257.9 390.6 260.1 387.9 258.1 384.4 257.6 381.6 258.4 380.1 259.9 378.6 262.4 377.1 265.6 377.4 267.1 378.4 268.1 375.4 270.6 373.4 276.9 372.4 277.9 372.6 279.1 373.9 279.1 371.9 279.9 370.1 280.9 369.1 283.9 368.4 285.4 368.9 288.6 371.9 290.9 371.6 293.9 370.6 297.4 366.9 301.9 364.4 302.6 362.1 305.4 359.6 307.9 355.6 310.9 352.6 310.9 351.6 310.1 350.9 309.1 350.9 308.1 350.1 307.9 347.9 308.6 347.1 310.4 346.9 311.6 347.9 312.9 347.9 314.4 345.9 314.9 343.4 316.4 340.4 317.6 339.4 319.9 339.1 320.6 338.6 319.6 337.9 317.4 338.1 315.9 337.4 314.1 335.1 313.4 333.1 312.1 331.4Z" fill="rgb(0, 59, 255)" fill-rule="evenodd"/>
<path d="M212.6 467.6 212.9 470.4 247.1 470.4 247.9 469.1 247.4 466.4 246.1 464.9 241.1 462.9 230.6 460.4 226.1 460.9 215.1 463.4 214.1 464.1ZM310.6 327.6 306.9 326.6 305.6 325.9 304.6 325.9 301.9 327.4 299.4 327.6 296.6 326.6 295.4 325.4 294.4 326.6 293.1 326.9 289.9 329.1 282.1 329.4 280.4 328.6 278.6 328.6 276.4 329.1 270.4 329.4 266.9 331.1 264.9 331.6 260.1 330.6 255.1 335.1 252.6 335.1 248.9 334.1 246.9 333.1 242.9 333.1 241.9 334.4 239.4 335.6 237.1 335.4 234.6 333.6 232.9 335.4 231.4 335.4 229.1 333.9 226.1 333.6 218.1 337.9 213.4 342.9 211.4 344.1 211.1 345.1 211.6 348.1 210.6 350.4 208.1 353.4 208.1 355.6 206.9 359.4 206.9 361.4 207.4 362.9 207.1 371.1 206.6 373.6 205.6 375.6 206.1 382.6 207.9 385.9 207.9 387.9 206.9 389.4 206.9 394.9 209.6 398.4 209.6 405.6 211.6 408.4 212.4 410.4 212.1 417.1 213.1 418.6 214.4 419.4 216.9 422.1 218.6 426.9 222.9 431.1 224.1 433.6 225.6 438.6 228.4 441.1 232.1 446.6 234.4 444.6 236.4 441.9 239.4 439.4 239.9 436.6 241.4 433.4 244.1 430.6 243.4 425.6 244.4 423.6 247.1 420.9 249.6 420.1 250.4 419.4 250.9 416.9 252.4 414.1 252.9 409.6 253.6 406.4 254.9 403.6 255.1 401.6 257.1 398.1 256.4 396.9 256.4 392.9 257.6 389.9 259.1 387.9 257.1 382.6 257.9 379.9 259.6 378.1 262.9 376.4 264.4 376.4 266.6 377.1 267.6 374.9 268.9 373.6 271.9 372.4 274.4 372.4 275.4 371.9 277.6 371.9 278.4 372.4 279.4 369.9 281.9 368.1 283.6 367.9 285.6 368.4 288.6 371.1 290.1 371.1 293.6 370.1 296.1 367.1 299.1 365.1 301.1 364.4 301.9 362.4 305.1 359.1 307.4 355.6 310.6 352.4 310.1 351.4 308.9 351.1 307.9 350.1 307.6 347.9 308.6 346.9 309.9 346.6 312.6 347.6 314.1 345.6 314.6 343.1 316.1 340.1 317.1 339.1 319.6 338.6 316.9 338.4 315.9 337.9 314.4 336.1 311.6 330.9Z" fill="rgb(0, 75, 255)" fill-rule="evenodd"/>
<path d="M213.1 467.4 213.4 470.4 245.9 470.4 246.9 468.6 246.4 466.4 245.4 465.4 242.9 464.1 232.4 461.6 226.9 461.6 216.4 463.6 214.4 464.6ZM310.4 327.9 307.6 327.4 305.1 326.1 302.1 327.6 298.9 327.9 295.4 326.1 289.9 329.4 281.9 329.6 280.9 329.1 277.1 329.1 272.6 329.9 271.1 329.6 265.4 331.9 262.6 331.6 260.6 330.9 255.1 335.4 251.4 335.1 246.6 333.4 243.1 333.6 242.1 334.6 239.4 335.9 237.1 335.6 235.4 334.1 234.6 334.1 232.9 335.6 231.4 335.6 229.1 334.1 226.9 333.9 224.4 334.6 221.1 336.9 219.6 337.4 213.6 343.4 211.9 344.6 211.9 349.1 208.9 353.4 208.6 356.6 207.6 360.6 207.9 367.1 206.9 378.1 207.1 382.4 208.4 385.6 208.4 388.4 207.9 389.6 208.4 394.6 210.1 398.1 210.6 401.1 210.6 405.1 212.9 409.4 214.1 416.9 217.4 420.6 220.4 426.1 224.4 429.6 228.1 435.1 230.1 437.1 233.4 438.1 236.4 435.6 238.9 432.4 241.1 430.4 241.9 426.6 243.4 423.6 249.1 417.9 251.4 412.4 252.9 405.6 255.4 398.4 255.4 394.6 256.1 391.4 257.9 387.6 256.6 382.6 256.9 380.6 257.9 379.1 260.9 376.6 263.4 375.4 265.6 375.1 267.6 373.1 269.6 372.1 275.9 370.9 277.9 370.9 279.9 368.6 281.9 367.6 284.9 367.6 289.4 369.6 292.6 368.9 297.6 365.4 300.9 363.9 301.6 361.9 304.6 359.1 307.1 355.4 309.9 352.9 310.1 351.9 308.6 351.4 307.6 350.4 307.4 347.9 308.6 346.6 310.6 346.4 312.4 347.4 313.9 345.4 314.4 342.9 315.9 339.9 317.1 338.9 315.9 338.4 313.6 335.6 311.4 331.4Z" fill="rgb(0, 91, 255)" fill-rule="evenodd"/>
<path d="M213.4 467.6 213.4 469.4 214.1 470.4 244.4 470.4 245.9 468.4 245.4 466.4 241.9 464.4 236.4 462.9 230.9 462.1 225.1 462.4 217.4 463.9 214.6 465.1ZM310.1 328.4 305.4 326.6 301.4 328.1 298.6 328.1 295.4 326.6 289.9 329.6 281.4 329.9 280.6 329.4 278.1 329.4 276.4 329.9 270.6 330.1 267.1 331.9 263.4 332.1 260.6 331.4 259.6 331.9 256.4 335.1 255.1 335.6 252.4 335.6 246.1 333.6 243.1 333.9 242.4 334.9 239.4 336.1 236.9 335.9 235.4 334.4 234.6 334.4 233.4 335.6 231.4 335.9 230.1 334.9 227.6 334.1 224.6 334.9 222.4 336.6 218.6 338.6 212.9 345.1 212.6 348.9 210.1 354.6 210.1 356.4 209.4 359.1 209.1 370.4 208.4 375.4 208.6 382.1 209.6 385.9 209.4 390.6 209.9 394.4 211.1 397.1 211.9 400.6 212.1 404.6 214.1 408.6 215.9 415.9 219.6 420.6 221.4 423.9 229.4 430.6 232.9 432.1 236.6 430.1 238.1 428.6 242.4 422.1 247.4 417.1 249.4 412.9 253.9 397.9 254.4 392.4 256.1 387.4 256.1 380.9 257.9 377.6 260.6 374.9 263.4 373.4 264.9 373.1 268.1 370.9 270.6 370.1 276.6 369.4 279.4 367.9 281.9 367.1 286.9 367.1 290.1 367.9 291.4 367.6 299.9 363.4 304.9 358.1 306.6 355.4 309.9 352.1 308.6 351.9 307.4 350.6 307.4 347.4 308.1 346.6 309.6 346.1 310.9 346.1 312.4 346.9 313.6 345.1 314.1 342.6 316.1 338.9 313.4 335.9 311.1 331.6Z" fill="rgb(0, 107, 255)" fill-rule="evenodd"/>
<path d="M213.9 467.4 213.9 469.1 215.1 470.4 243.1 470.4 244.4 469.4 244.9 468.4 244.6 466.9 241.6 464.9 237.6 463.6 231.1 462.6 224.9 462.9 217.4 464.4 214.9 465.6ZM309.6 328.6 307.4 328.1 305.4 327.1 301.6 328.4 298.4 328.4 295.4 327.1 293.6 327.6 289.9 329.9 281.1 330.1 279.6 329.6 272.6 330.6 271.4 330.4 268.1 331.9 265.1 332.6 260.4 331.9 258.1 334.1 255.4 335.9 252.1 335.9 246.6 334.1 243.6 334.1 242.6 335.1 239.6 336.4 236.9 336.1 235.1 334.6 232.6 336.1 231.4 336.1 228.4 334.6 226.4 334.6 220.1 338.1 218.1 339.9 214.4 345.9 213.9 349.6 211.6 355.4 210.9 359.9 209.9 379.1 210.9 385.1 211.1 393.1 212.4 396.4 213.6 404.1 215.4 407.6 217.6 414.9 224.6 423.6 230.4 426.9 232.4 427.4 233.6 427.1 236.9 425.1 245.9 415.6 247.6 412.4 252.4 397.4 253.1 391.1 254.4 387.6 254.4 382.6 254.9 380.1 256.6 376.6 260.1 372.9 266.4 369.6 269.4 368.6 275.6 367.9 278.6 366.6 281.9 365.9 291.1 365.9 298.9 362.4 303.9 358.6 306.1 355.4 309.1 352.6 307.1 350.9 307.1 347.4 308.4 346.1 311.1 345.9 312.4 346.4 313.1 345.4 313.6 342.9 315.4 339.4 311.6 333.4Z" fill="rgb(0, 125, 255)" fill-rule="evenodd"/>
<path d="M214.4 467.4 214.6 469.1 216.1 470.4 241.9 470.4 243.9 468.4 243.6 466.9 240.9 465.1 236.9 463.9 232.1 463.1 226.1 463.1 219.9 464.1 216.6 465.1ZM308.9 329.1 305.1 327.6 302.4 328.6 298.1 328.6 295.6 327.4 293.9 327.9 289.9 330.1 283.1 330.6 277.6 330.1 276.1 330.6 270.4 331.1 267.9 332.4 265.6 332.9 263.6 332.9 260.9 332.1 255.6 336.1 250.6 335.9 246.1 334.4 244.1 334.4 242.9 335.4 239.9 336.6 236.9 336.4 235.1 334.9 232.6 336.4 230.6 336.1 229.1 335.1 226.9 334.9 224.4 335.9 220.4 338.9 215.9 346.6 215.1 350.6 213.1 356.1 212.4 360.6 211.4 379.1 212.4 386.4 212.6 392.9 213.9 396.9 215.4 404.4 219.6 414.4 222.4 417.9 225.9 421.4 231.1 423.6 234.1 423.1 239.1 419.9 242.6 416.4 245.1 413.1 247.4 408.1 250.6 397.9 251.1 393.9 252.6 387.9 253.1 381.4 254.1 377.9 255.9 374.6 259.4 370.9 264.1 368.4 267.9 367.1 274.6 366.4 281.6 364.6 291.1 364.1 297.4 361.6 304.1 357.1 308.1 352.9 306.6 350.4 306.6 347.9 308.4 345.9 312.6 345.6 313.6 341.9 314.9 339.4 310.4 331.9 309.9 330.1Z" fill="rgb(0, 143, 255)" fill-rule="evenodd"/>
<path d="M215.1 467.4 215.1 468.6 217.1 470.4 240.6 470.4 242.9 468.6 242.6 466.9 240.4 465.4 237.4 464.4 230.9 463.4 224.6 463.6 219.4 464.6 216.4 465.9ZM308.4 330.1 304.9 328.6 300.4 329.1 298.1 328.9 295.1 327.9 289.9 330.4 283.4 330.9 278.6 330.4 266.9 333.1 260.4 333.1 255.9 336.4 250.1 336.1 245.9 334.6 243.9 334.9 243.1 335.6 240.1 336.9 237.4 336.9 235.1 335.4 232.6 336.6 231.1 336.6 228.6 335.4 226.4 335.4 224.4 336.4 222.4 338.4 219.9 341.9 217.9 345.9 214.6 356.9 213.4 367.9 212.9 380.1 213.6 385.6 213.9 391.9 216.4 402.6 219.1 409.4 221.4 413.6 224.9 417.4 228.6 419.9 230.1 420.4 233.1 420.4 238.1 417.9 241.6 414.6 243.4 412.4 246.6 405.6 249.4 396.9 251.1 387.6 251.6 381.6 252.6 377.4 254.9 372.6 258.4 368.9 261.6 367.1 267.1 365.4 273.1 364.9 280.9 363.4 290.9 362.6 298.4 359.6 302.1 357.4 307.4 352.9 306.4 350.9 306.4 347.9 306.9 346.9 307.9 345.9 309.1 345.4 312.4 345.4 313.9 340.6 313.9 338.6 310.9 333.1Z" fill="rgb(0, 162, 255)" fill-rule="evenodd"/>
<path d="M215.9 467.4 215.9 468.6 218.1 470.4 239.6 470.4 241.4 469.4 242.1 468.1 241.4 466.6 239.1 465.4 232.6 463.9 225.4 463.9 220.9 464.6 216.9 466.1ZM307.6 330.9 304.9 329.6 301.9 329.1 297.9 329.1 295.4 328.1 289.9 330.6 286.4 330.6 283.6 331.1 279.9 330.9 268.1 333.9 260.6 334.1 258.9 334.6 256.6 336.4 254.1 336.9 249.6 336.4 247.1 335.4 243.9 335.4 240.6 337.1 239.1 337.4 236.6 336.9 235.1 335.6 232.9 336.9 230.9 336.9 228.4 335.6 226.6 335.6 225.6 336.4 221.6 341.4 218.4 348.6 215.6 360.1 214.4 373.6 214.9 388.6 216.1 396.1 218.6 404.6 220.9 409.4 223.4 413.1 226.4 415.9 229.1 417.4 233.4 417.6 237.6 415.6 241.9 411.4 244.9 405.9 247.4 398.9 249.6 388.1 250.6 379.1 252.1 373.9 254.6 369.4 257.6 366.6 262.4 364.6 266.9 363.6 291.4 361.1 297.9 358.6 301.4 356.6 304.6 354.1 306.4 352.1 305.9 349.9 306.6 346.9 308.9 345.1 311.4 344.9 311.9 344.4 312.9 339.9 311.4 335.6Z" fill="rgb(0, 180, 255)" fill-rule="evenodd"/>
<path d="M216.6 467.4 216.9 468.9 219.1 470.4 238.4 470.4 240.4 469.4 241.1 468.4 240.9 467.1 238.6 465.6 232.1 464.1 225.6 464.1 222.4 464.6 218.9 465.6 217.1 466.6ZM308.6 333.4 306.6 331.4 304.1 330.4 296.1 328.9 294.1 328.9 289.6 330.9 281.1 331.4 268.1 334.9 260.9 335.1 254.9 337.1 244.9 336.4 241.6 336.9 239.9 337.6 238.1 337.6 236.4 337.1 235.1 336.1 232.9 337.1 230.6 337.1 228.9 336.1 227.9 336.1 226.6 336.9 222.4 342.4 219.6 348.9 216.9 360.9 215.6 374.4 215.6 382.1 216.9 393.9 219.9 404.1 223.6 410.6 227.1 413.9 229.9 415.1 232.6 415.4 236.6 413.9 238.6 412.4 240.9 409.9 243.9 404.6 246.6 396.6 248.4 387.6 249.4 378.1 250.6 372.9 252.4 368.9 254.9 365.9 258.4 363.9 265.1 362.1 290.4 360.1 295.9 358.4 301.1 355.6 304.4 353.1 305.6 351.4 305.9 347.9 307.1 345.9 308.6 344.9 310.1 344.6 311.1 343.4 311.6 339.1 310.4 335.9Z" fill="rgb(0, 199, 255)" fill-rule="evenodd"/>
<path d="M217.4 467.4 217.9 469.1 220.4 470.4 237.1 470.4 239.4 469.4 240.4 468.1 239.1 466.4 237.6 465.6 231.6 464.4 226.1 464.4 222.6 464.9 219.9 465.6ZM307.4 333.4 305.6 331.9 302.9 330.9 296.6 329.6 293.4 329.6 290.6 330.9 284.1 331.4 269.4 335.6 261.1 336.1 254.9 337.6 245.4 337.6 243.4 338.1 236.9 337.6 235.1 336.6 233.1 337.4 230.4 337.4 229.1 336.9 227.4 337.6 225.6 339.4 223.6 342.4 220.4 350.4 218.1 360.6 216.9 373.1 216.9 384.1 217.4 390.1 218.4 395.4 220.6 402.6 222.9 406.9 225.4 410.1 227.1 411.6 229.6 412.9 232.9 413.1 234.6 412.6 237.6 410.9 241.4 406.4 243.9 401.1 245.9 394.4 247.4 385.9 248.1 377.4 249.4 371.1 251.4 366.4 253.1 364.4 257.1 362.1 262.4 360.9 269.4 360.1 288.4 359.4 295.1 357.6 299.4 355.6 302.4 353.6 304.4 351.6 305.4 350.1 305.9 347.1 307.6 345.1 309.4 344.1 310.4 342.4 310.4 338.4 309.1 335.6Z" fill="rgb(0, 217, 255)" fill-rule="evenodd"/>
<path d="M218.1 467.4 218.1 468.4 219.1 469.4 221.6 470.4 235.9 470.4 238.4 469.4 239.4 468.4 239.1 467.1 237.1 465.9 231.4 464.6 226.4 464.6 222.9 465.1 220.4 465.9ZM306.9 334.1 305.1 332.6 301.1 331.1 294.1 330.1 289.4 331.4 284.4 331.9 270.6 336.4 265.4 337.1 261.4 337.1 254.4 338.6 241.1 339.4 235.1 337.1 233.4 337.6 230.4 337.6 227.9 338.6 225.4 341.4 223.6 344.4 221.1 351.4 219.1 361.1 217.9 374.4 217.9 383.4 219.1 393.6 221.9 402.4 224.6 406.9 228.6 410.4 231.1 411.1 232.6 411.1 235.1 410.4 237.4 408.9 240.6 404.9 243.1 399.6 245.1 392.6 246.1 386.9 247.1 375.4 248.4 368.4 249.6 365.1 251.6 362.6 256.1 360.4 263.1 359.1 269.9 358.6 286.1 358.6 290.1 358.1 295.9 356.4 299.9 354.4 304.1 350.6 305.4 348.6 305.9 346.6 308.1 344.4 309.6 341.1 309.4 338.4 308.4 336.1Z" fill="rgb(0, 230, 242)" fill-rule="evenodd"/>
<path d="M218.9 467.6 219.6 469.1 222.9 470.4 234.6 470.4 237.9 469.1 238.6 468.1 238.6 467.6 237.6 466.6 236.1 465.9 231.1 464.9 226.6 464.9 223.1 465.4 220.1 466.4ZM305.1 333.6 300.4 331.6 296.9 330.9 292.6 330.9 285.6 332.1 279.1 334.1 273.1 336.6 268.1 337.9 261.9 338.1 254.6 339.6 245.1 340.9 241.9 340.9 234.9 338.1 230.4 338.6 227.4 340.4 224.1 345.4 221.9 351.9 220.1 360.4 218.9 373.4 218.9 383.6 220.1 393.4 222.6 401.1 225.9 406.1 227.9 407.9 229.9 408.9 233.9 408.9 236.4 407.6 238.6 405.4 240.9 401.9 243.4 395.4 244.6 389.6 247.1 366.9 248.6 362.6 250.6 360.4 254.1 358.9 262.6 357.6 287.1 357.6 290.6 357.1 296.1 355.4 301.4 352.4 304.1 349.4 307.1 344.6 308.4 341.9 308.6 339.1 307.6 336.6Z" fill="rgb(0, 242, 227)" fill-rule="evenodd"/>
<path d="M219.6 467.6 220.1 468.9 222.1 469.9 224.4 470.4 232.9 470.4 235.9 469.6 237.6 468.4 237.6 467.4 235.6 466.1 230.9 465.1 226.9 465.1 223.6 465.6 221.1 466.4ZM306.1 335.9 304.4 334.1 301.4 332.6 296.4 331.4 293.1 331.4 284.9 332.9 280.4 334.4 272.4 337.9 268.9 338.9 261.4 339.4 245.4 342.6 241.9 342.4 234.6 339.1 231.4 339.4 228.4 340.9 225.9 343.9 222.9 351.1 221.1 359.1 219.9 370.9 219.6 379.9 220.6 391.1 222.9 398.9 225.4 403.4 228.1 406.1 230.1 407.1 232.4 407.4 234.4 406.9 236.4 405.6 239.6 401.6 241.6 397.4 243.6 389.9 246.4 363.1 247.6 360.1 248.9 358.6 250.6 357.6 253.6 356.9 262.4 356.1 272.4 355.9 278.6 356.6 285.9 356.9 290.4 356.4 294.1 355.4 298.6 353.4 301.1 351.6 303.9 348.6 305.6 345.9 307.6 341.4 307.6 338.9Z" fill="rgb(0, 253, 212)" fill-rule="evenodd"/>
<path d="M220.4 467.9 221.9 469.4 226.6 470.4 230.6 470.4 233.9 469.9 235.9 469.1 236.9 468.1 236.1 466.9 234.6 466.1 230.6 465.4 223.9 465.9 221.6 466.6ZM305.1 335.9 303.4 334.4 300.9 333.1 297.4 332.1 293.4 331.9 288.1 332.6 281.4 334.6 273.1 338.6 269.6 339.9 263.1 340.4 255.6 341.6 245.1 344.9 243.1 344.6 237.1 341.1 234.6 340.1 231.4 340.4 228.9 341.6 226.6 344.1 223.6 351.1 221.9 358.9 220.6 370.9 220.6 383.6 221.4 390.1 223.6 397.9 224.9 400.4 227.1 403.4 230.4 405.4 232.1 405.6 234.1 405.1 237.6 402.4 240.4 397.6 242.1 392.4 243.4 385.9 245.4 360.6 246.4 357.6 248.1 355.6 250.4 354.9 269.9 354.4 280.6 355.9 288.6 355.9 294.1 354.6 298.1 352.9 300.6 351.1 302.9 348.9 304.9 345.9 306.6 341.9 306.6 338.6Z" fill="rgb(0, 255, 177)" fill-rule="evenodd"/>
<path d="M221.4 467.6 221.4 468.1 223.1 469.4 227.1 470.1 232.4 469.9 234.9 469.1 235.9 468.4 235.9 467.4 234.1 466.4 230.1 465.6 224.1 466.1 222.1 466.9ZM304.1 335.9 301.6 334.1 297.1 332.6 293.6 332.4 288.1 333.1 281.1 335.4 269.6 341.1 260.9 342.1 254.4 343.6 250.4 345.6 246.9 348.9 245.1 348.6 238.4 343.1 235.4 341.4 232.1 341.1 229.4 342.4 226.6 345.6 224.4 350.9 222.4 359.9 221.4 369.6 221.4 383.1 222.1 389.4 224.1 396.4 226.9 401.1 228.1 402.4 230.4 403.6 232.4 403.9 234.1 403.4 237.4 400.6 240.1 395.6 241.9 389.6 242.9 383.1 244.4 357.9 245.6 352.6 246.9 350.9 247.6 350.6 250.9 351.9 255.9 352.9 269.9 352.9 281.6 355.1 289.1 355.1 292.6 354.4 296.1 353.1 299.6 351.1 303.9 346.4 305.9 341.6 305.9 339.1Z" fill="rgb(0, 255, 139)" fill-rule="evenodd"/>
<path d="M222.4 467.6 222.4 468.1 223.6 469.1 227.9 469.9 232.9 469.4 234.6 468.6 235.1 467.9 234.6 467.1 231.6 466.1 225.9 466.1 223.9 466.6ZM234.4 342.1 232.1 342.1 229.9 343.1 227.9 345.1 225.9 348.6 223.9 355.1 222.1 367.4 221.9 379.4 222.4 385.6 223.6 392.1 224.9 395.6 226.9 399.1 228.9 401.1 231.1 402.1 232.9 402.1 235.4 400.9 237.4 398.6 239.4 394.9 241.6 386.6 242.9 374.6 243.4 356.9 242.9 350.9 241.6 348.1 239.9 345.9 237.4 343.6ZM305.1 339.6 304.1 337.1 302.4 335.4 300.1 334.1 295.1 332.9 289.4 333.4 286.1 334.1 280.9 336.1 271.9 341.6 269.1 342.9 257.4 344.9 254.6 346.6 254.1 348.4 255.6 349.9 257.9 350.6 269.6 351.1 278.1 353.6 282.1 354.4 287.1 354.6 291.1 354.1 296.9 352.1 299.9 350.1 301.9 348.1 304.4 344.1 305.1 341.6Z" fill="rgb(0, 255, 101)" fill-rule="evenodd"/>
<path d="M223.4 467.6 223.9 468.6 226.1 469.4 231.1 469.4 232.4 469.1 234.1 467.9 233.4 467.1 231.1 466.4 226.6 466.4 223.9 467.1ZM234.1 343.1 232.1 343.1 229.6 344.4 227.9 346.4 226.1 349.6 223.6 359.1 222.6 368.4 222.6 380.9 223.6 388.6 224.9 393.1 226.4 396.4 229.1 399.6 230.6 400.4 233.1 400.4 234.4 399.9 236.1 398.4 238.4 394.9 240.6 387.9 242.1 376.1 242.4 357.6 241.6 351.6 240.1 348.1 238.6 346.1 236.4 344.1ZM304.4 339.9 303.4 337.4 301.9 335.9 299.1 334.4 294.6 333.4 289.1 333.9 284.6 335.1 279.4 337.6 268.4 345.9 267.9 347.4 271.1 349.6 278.9 352.9 284.1 353.9 288.6 353.9 291.6 353.4 297.4 351.1 300.9 348.4 302.6 346.1 303.9 343.6Z" fill="rgb(0, 255, 63)" fill-rule="evenodd"/>
<path d="M224.6 467.6 224.9 468.4 227.4 469.1 230.1 469.1 232.9 468.1 232.1 467.1 230.1 466.6 226.1 466.9ZM234.1 344.1 232.1 344.1 230.4 344.9 228.4 346.9 226.4 350.6 224.1 359.1 223.1 368.6 223.4 382.1 224.9 390.4 227.1 395.6 229.1 397.9 231.1 398.9 232.9 398.9 235.1 397.6 237.1 395.1 238.4 392.6 240.6 384.1 241.6 374.4 241.6 358.6 240.9 352.9 239.9 349.9 238.4 347.4 236.1 345.1ZM303.6 339.9 302.9 337.9 301.1 336.1 298.9 334.9 294.4 333.9 287.9 334.6 284.1 335.9 277.6 339.6 273.4 343.9 272.4 345.9 272.4 347.1 272.9 348.1 275.1 350.1 280.1 352.4 283.6 353.1 291.1 352.9 294.6 351.9 297.1 350.6 301.4 346.9 303.4 343.1Z" fill="rgb(16, 255, 36)" fill-rule="evenodd"/>
<path d="M226.1 468.1 227.4 468.6 230.1 468.6 231.4 467.9 229.9 467.1 226.6 467.4ZM233.9 345.1 232.1 345.1 230.1 346.1 228.9 347.4 226.9 350.9 224.6 359.1 223.6 368.6 223.9 380.9 225.4 389.4 226.4 392.1 228.1 395.1 230.1 396.9 231.6 397.4 233.4 397.1 234.6 396.4 236.9 393.6 238.1 390.9 239.9 384.6 241.1 373.4 241.1 361.1 240.1 353.4 238.9 349.9 237.6 347.9 235.6 345.9ZM302.9 339.9 302.1 338.1 300.4 336.4 296.4 334.6 292.9 334.4 286.9 335.4 282.6 337.1 277.6 340.6 274.9 344.1 274.6 347.1 276.6 349.6 278.6 350.9 282.1 352.1 284.9 352.6 289.1 352.6 292.9 351.9 296.9 350.1 300.9 346.6 302.6 343.4Z" fill="rgb(56, 255, 25)" fill-rule="evenodd"/>
<path d="M233.9 346.1 232.1 346.1 230.1 347.1 227.4 351.1 226.1 354.6 224.9 360.4 224.1 367.9 224.1 376.9 225.4 386.4 227.1 391.6 228.4 393.6 230.9 395.6 233.1 395.6 234.1 395.1 235.6 393.6 237.4 390.6 239.4 383.9 240.6 372.9 240.6 362.6 239.6 354.4 238.9 351.9 237.1 348.6 235.4 346.9ZM302.1 339.9 300.6 337.4 298.4 335.9 296.1 335.1 292.4 334.9 286.9 335.9 282.4 337.9 277.6 341.9 276.1 344.6 276.1 346.9 278.4 349.6 282.1 351.4 286.1 352.1 288.6 352.1 292.6 351.4 296.6 349.6 300.1 346.6 301.9 343.6Z" fill="rgb(96, 255, 14)" fill-rule="evenodd"/>
<path d="M233.9 347.1 232.1 347.1 230.9 347.6 229.1 349.4 227.4 352.6 225.4 360.1 224.6 366.9 224.6 376.6 225.9 385.6 228.1 391.4 230.1 393.6 231.1 394.1 232.9 394.1 233.9 393.6 235.6 391.9 237.1 389.1 239.1 381.9 240.1 372.9 240.1 363.1 239.1 355.1 236.9 349.6ZM301.4 339.9 299.6 337.4 296.9 335.9 291.9 335.4 287.6 336.1 282.6 338.4 280.9 339.6 277.9 343.1 277.4 344.4 277.4 346.4 278.1 347.9 279.6 349.4 282.1 350.6 285.1 351.4 291.6 351.1 295.6 349.6 299.6 346.4 301.4 342.9Z" fill="rgb(137, 255, 4)" fill-rule="evenodd"/>
<path d="M233.6 348.1 230.9 348.6 229.4 350.1 227.6 353.4 226.1 358.6 225.1 365.9 225.1 376.6 226.4 384.9 228.6 390.4 229.9 391.9 231.4 392.6 232.9 392.6 234.1 391.9 235.6 390.1 236.9 387.6 238.6 381.4 239.6 373.1 239.6 362.9 238.9 356.9 238.1 353.9 236.6 350.6 235.1 348.9ZM300.6 339.9 298.6 337.4 296.6 336.4 291.4 335.9 287.6 336.6 282.9 338.9 279.9 341.6 278.6 343.9 278.6 346.4 280.1 348.6 284.4 350.6 289.9 350.9 292.4 350.4 295.9 348.9 298.9 346.4 300.6 343.4Z" fill="rgb(174, 255, 0)" fill-rule="evenodd"/>
<path d="M233.6 349.1 231.4 349.4 229.1 351.6 227.1 356.4 225.6 364.9 225.4 371.9 226.4 382.1 228.6 388.6 230.4 390.6 231.4 391.1 233.6 390.6 235.1 389.1 236.6 386.4 238.1 381.1 239.1 373.6 239.1 362.6 238.4 357.1 236.4 351.6 234.6 349.6ZM299.9 339.9 297.9 337.6 295.4 336.6 291.1 336.4 287.6 337.1 283.9 338.9 280.6 341.9 279.6 343.9 279.6 346.1 281.6 348.6 284.1 349.9 286.6 350.4 292.1 349.9 295.6 348.4 298.4 346.1 300.1 342.6Z" fill="rgb(209, 255, 0)" fill-rule="evenodd"/>
<path d="M233.4 350.1 231.4 350.4 229.6 352.1 228.4 354.4 226.6 360.6 225.9 367.4 226.1 376.9 227.1 382.6 229.1 387.6 231.6 389.6 233.6 389.1 234.9 387.9 236.6 384.4 238.1 378.1 238.9 369.4 238.6 362.4 237.6 356.4 235.6 351.9ZM298.6 339.1 296.6 337.6 293.6 336.9 291.1 336.9 287.6 337.6 284.1 339.4 282.1 341.1 280.6 343.6 280.6 345.9 282.6 348.4 285.9 349.6 288.9 349.9 293.4 348.9 296.1 347.4 298.4 345.1 299.4 342.9 299.4 340.6Z" fill="rgb(244, 255, 0)" fill-rule="evenodd"/>
<path d="M233.1 351.1 231.1 351.6 229.9 352.9 228.6 355.1 227.1 360.1 226.4 365.9 226.4 374.4 227.4 381.1 229.1 385.9 230.6 387.6 231.6 388.1 233.6 387.6 235.4 385.4 237.4 379.4 238.4 371.1 238.1 361.9 237.1 356.6 235.6 353.1ZM298.4 340.1 296.6 338.4 293.4 337.4 291.1 337.4 287.1 338.4 284.1 340.1 282.1 342.4 281.6 343.4 281.9 346.4 283.4 347.9 286.6 349.1 290.6 349.1 293.1 348.4 295.9 346.9 297.6 345.1 298.6 342.9Z" fill="rgb(255, 234, 0)" fill-rule="evenodd"/>
<path d="M232.9 352.1 230.9 352.9 228.9 355.9 227.6 359.9 226.9 364.9 226.9 374.9 227.6 379.6 229.6 384.9 231.6 386.6 233.1 386.4 235.4 383.6 237.1 377.9 237.9 372.1 237.9 364.1 237.1 358.9 235.4 354.1 234.4 352.9ZM297.6 340.4 296.9 339.4 294.4 338.1 291.4 337.9 287.4 338.9 285.1 340.1 283.4 341.9 282.6 343.4 282.6 345.6 284.9 347.9 287.4 348.6 290.1 348.6 292.9 347.9 295.9 346.1 297.1 344.6 297.9 343.1Z" fill="rgb(255, 203, 0)" fill-rule="evenodd"/>
<path d="M233.4 353.4 231.4 353.6 229.4 356.1 227.9 360.9 227.1 367.1 227.4 374.9 228.4 380.1 230.1 383.9 231.9 385.1 233.1 384.9 234.4 383.6 235.6 381.1 237.4 372.6 237.4 363.4 236.6 358.9 235.1 355.1ZM296.9 340.6 295.6 339.4 293.6 338.6 290.1 338.6 287.6 339.4 285.9 340.4 284.1 342.1 283.4 344.1 283.6 345.4 284.9 346.9 287.1 347.9 290.9 347.9 292.6 347.4 294.9 346.1 296.4 344.6 297.1 342.9Z" fill="rgb(255, 172, 0)" fill-rule="evenodd"/>
<path d="M232.9 354.4 230.9 355.1 229.4 357.6 228.4 360.9 227.6 365.9 227.6 372.6 228.6 378.6 229.9 381.9 230.6 382.9 232.1 383.6 233.9 382.6 235.4 379.9 236.6 374.9 237.1 369.4 236.9 363.1 236.1 359.1 234.4 355.4ZM296.1 341.1 293.9 339.4 290.6 339.1 288.6 339.6 286.4 340.9 285.1 342.1 284.6 343.1 284.6 345.1 285.6 346.4 287.4 347.1 289.9 347.4 292.1 346.9 294.1 345.9 295.6 344.4 296.1 343.4Z" fill="rgb(255, 141, 0)" fill-rule="evenodd"/>
<path d="M231.9 355.6 230.4 357.1 228.6 361.9 228.1 365.1 228.1 372.9 229.1 378.1 230.4 380.9 231.6 381.9 232.9 381.9 234.1 380.6 235.9 375.9 236.6 370.4 236.6 365.6 236.1 361.6 235.1 358.1 233.9 356.1 233.1 355.6ZM295.1 341.4 292.6 339.9 289.4 340.1 287.4 341.1 286.1 342.4 285.6 344.4 287.1 346.1 288.9 346.6 291.4 346.4 293.1 345.6 294.6 344.4 295.4 342.6Z" fill="rgb(255, 109, 0)" fill-rule="evenodd"/>
<path d="M231.9 356.9 230.6 358.1 229.1 361.9 228.6 364.9 228.6 372.9 230.1 378.6 231.4 380.1 232.6 380.4 234.1 378.9 235.6 374.4 236.1 370.6 236.1 365.4 235.4 360.6 234.6 358.6 233.4 357.1ZM294.1 342.4 292.6 340.9 289.9 340.9 287.9 341.9 286.9 343.9 288.1 345.4 290.9 345.6 292.6 344.9 293.9 343.6Z" fill="rgb(255, 77, 0)" fill-rule="evenodd"/>
<path d="M232.6 358.1 231.6 358.4 230.6 359.6 229.1 364.9 229.4 373.9 230.4 377.1 231.6 378.6 233.1 378.4 234.4 376.4 235.6 370.4 235.6 365.4 235.1 362.1 234.4 359.9ZM288.9 343.6 290.4 344.4 292.1 343.4 292.1 342.6 291.6 342.1 290.1 342.1 289.1 342.9Z" fill="rgb(255, 44, 0)" fill-rule="evenodd"/>
<path d="M232.4 359.6 231.1 360.6 230.4 362.1 229.6 365.4 229.9 372.9 230.9 375.9 232.1 376.9 233.4 376.1 234.1 374.6 235.1 369.4 234.6 362.9 233.4 360.1Z" fill="rgb(253, 17, 0)" fill-rule="evenodd"/>
<path d="M231.9 361.6 230.6 363.9 230.1 369.4 231.1 373.9 231.9 374.6 232.6 374.6 234.1 371.6 234.4 365.6 233.6 362.6 232.9 361.6Z" fill="rgb(244, 5, 0)" fill-rule="evenodd"/></g>
<g filter="url(#sb)"><path d="M548.4 326.1 542.9 323.9 541.6 323.9 538.6 325.9 536.6 325.9 535.6 325.4 533.6 322.9 532.6 322.9 531.6 323.6 530.4 325.6 529.9 325.6 527.4 328.4 525.6 329.4 521.6 330.4 520.1 330.4 518.4 329.6 515.6 329.6 513.4 331.4 512.6 333.4 511.1 333.9 509.6 333.6 506.4 334.1 504.1 335.6 502.6 335.6 501.9 335.1 497.1 335.1 495.1 335.6 492.1 337.6 490.4 337.6 488.4 337.1 484.9 335.1 482.9 334.9 478.6 337.4 472.1 338.6 468.9 338.4 466.1 336.6 464.4 336.4 460.4 338.1 457.9 338.4 455.9 339.6 454.9 341.6 455.1 345.9 454.6 347.4 452.4 350.1 452.4 352.6 450.1 354.4 449.9 359.4 448.4 361.4 448.4 362.1 445.9 365.4 445.9 367.6 448.1 370.9 447.1 374.4 446.6 374.6 446.4 376.1 444.9 378.9 444.9 380.6 446.6 383.4 447.1 387.1 445.6 390.6 445.6 393.4 447.9 397.4 447.6 401.4 445.9 405.1 446.6 407.4 449.1 410.4 449.4 418.6 452.4 422.4 452.9 428.1 455.6 432.9 455.4 434.4 454.4 435.9 454.4 438.1 454.9 439.6 456.1 441.1 459.9 443.9 460.4 445.4 459.6 447.4 457.1 449.9 456.6 451.6 457.1 453.4 457.1 455.9 456.4 457.4 453.4 459.9 449.6 460.1 448.4 461.1 445.9 470.4 527.4 470.4 526.6 467.1 524.9 465.9 524.4 464.9 520.4 466.1 517.9 463.6 514.9 462.1 514.4 462.1 512.6 463.6 508.6 464.1 506.6 464.9 505.4 464.9 503.6 463.6 501.1 463.6 499.4 464.4 493.6 464.1 492.1 464.9 491.1 464.9 490.1 463.6 490.1 461.1 491.9 459.4 491.4 459.1 491.9 458.6 491.9 457.4 490.4 456.1 484.9 456.1 483.6 454.1 483.4 450.9 484.4 449.4 487.9 448.6 488.9 447.4 490.1 444.1 491.9 442.4 493.9 441.9 496.4 442.1 497.4 441.6 498.4 439.6 498.1 439.4 498.6 437.4 500.1 435.9 501.4 435.6 503.1 436.1 506.1 440.4 506.6 442.4 505.4 445.6 505.4 447.4 505.9 448.1 507.9 447.6 509.6 445.1 510.6 444.6 512.1 444.9 512.6 444.4 512.6 434.6 513.9 431.4 514.1 428.9 515.4 427.9 516.9 427.4 518.4 425.6 518.4 424.6 517.4 423.4 513.6 422.1 512.9 420.1 513.4 419.1 515.6 417.1 522.1 416.1 523.1 415.1 524.9 409.1 525.1 404.1 525.9 401.1 526.6 400.4 526.6 399.4 529.9 396.4 530.6 394.6 530.4 392.1 529.4 390.1 528.6 389.6 527.4 390.1 527.1 389.9 527.1 387.9 528.4 386.9 528.4 384.6 526.9 381.1 526.9 379.1 528.1 377.6 530.4 376.1 534.6 376.1 535.6 374.9 536.6 371.4 537.6 370.4 540.1 370.4 541.9 369.6 543.9 367.9 544.4 366.6 544.4 363.1 544.9 362.1 547.6 359.9 549.1 357.6 551.9 357.1 553.4 355.9 553.6 354.1 553.1 352.4 553.1 349.9 553.6 349.1 553.6 347.6 553.1 346.4 553.1 344.6 554.1 342.4 555.6 341.1 558.4 340.6 559.6 339.6 559.6 338.1 558.4 336.9 556.9 336.4 554.1 336.6 552.9 336.1 551.9 335.1 549.9 331.1 549.4 328.4ZM498.6 419.1 498.6 420.6 497.4 422.6 497.4 424.6 496.1 426.1 494.1 427.1 492.6 427.1 490.4 425.4 490.6 422.6 492.1 420.6 496.6 418.9ZM524.1 389.4 524.9 388.6 527.1 388.9 526.9 390.4 525.6 391.4 524.1 390.6Z" fill="rgb(0, 0, 215)" fill-rule="evenodd"/>
<path d="M548.4 326.1 542.9 323.9 541.6 323.9 538.6 325.9 536.6 325.9 535.6 325.4 533.6 322.9 532.6 322.9 531.6 323.6 530.4 325.6 529.9 325.6 527.4 328.4 525.6 329.4 521.6 330.4 520.1 330.4 518.4 329.6 515.6 329.6 513.4 331.4 512.6 333.4 511.1 333.9 509.6 333.6 506.4 334.1 504.1 335.6 502.6 335.6 501.9 335.1 497.1 335.1 495.1 335.6 492.1 337.6 490.4 337.6 488.4 337.1 484.9 335.1 482.9 334.9 478.6 337.4 476.1 338.1 469.9 338.6 466.1 336.9 464.4 336.6 460.6 338.4 458.1 338.6 456.4 339.6 455.4 341.6 455.4 346.1 454.9 347.6 452.6 350.4 452.6 352.9 450.6 354.4 450.1 359.6 448.9 361.4 448.1 363.4 446.4 365.6 446.4 367.4 447.9 369.4 448.4 371.6 447.6 372.9 446.9 376.1 445.4 379.1 445.4 380.4 447.1 383.4 447.4 386.9 447.1 388.6 446.1 390.9 446.1 393.1 448.1 397.1 448.1 401.4 447.6 403.1 446.6 404.6 446.6 406.1 449.6 410.4 449.9 418.4 452.9 422.4 453.4 427.9 456.1 432.6 455.9 434.6 455.1 435.9 455.1 437.9 455.6 439.4 456.4 440.4 460.4 443.4 461.1 445.6 460.4 447.9 458.9 449.1 457.9 451.1 458.1 456.4 457.4 457.9 454.4 460.4 450.1 460.9 448.9 461.6 446.6 467.1 446.1 470.4 527.1 470.4 526.4 467.4 524.6 466.1 524.1 465.1 520.4 466.4 517.6 463.9 514.6 462.6 512.9 463.9 505.4 464.9 503.6 463.9 500.6 463.9 499.4 464.4 493.6 464.1 492.1 464.9 491.1 464.9 490.1 463.6 489.6 461.1 490.9 457.9 489.9 457.1 484.4 457.1 482.9 455.4 482.4 451.4 482.9 449.6 483.9 448.6 486.4 448.1 487.6 447.4 489.4 443.6 491.1 441.6 493.4 440.9 496.1 440.9 496.9 439.9 497.9 436.4 500.1 434.6 501.6 434.4 504.1 435.1 506.6 438.1 508.1 442.4 507.1 444.6 507.1 446.4 507.6 445.1 508.9 443.9 510.4 443.1 511.1 443.4 511.1 434.6 512.9 429.6 512.9 428.1 516.9 425.4 516.4 424.6 513.4 423.6 512.1 422.4 511.6 421.1 511.9 419.4 512.4 418.4 514.9 416.1 520.6 415.1 522.1 414.1 524.1 406.6 524.1 403.6 524.9 400.9 525.6 400.1 525.9 398.9 529.1 395.9 529.9 394.4 529.6 391.9 528.9 390.4 528.4 390.1 525.9 391.9 524.4 391.6 523.6 390.6 523.9 389.1 524.6 388.4 526.1 388.4 528.1 386.6 528.1 384.9 526.6 381.1 526.9 379.1 528.1 377.6 530.4 376.1 534.6 376.1 535.6 374.9 536.6 371.4 537.6 370.4 540.1 370.4 541.9 369.6 543.9 367.9 544.4 366.6 544.4 363.1 544.9 362.1 547.6 359.9 549.1 357.6 551.9 357.1 553.4 355.9 553.6 354.1 553.1 352.4 553.1 349.9 553.6 349.1 553.6 347.6 553.1 346.4 553.1 344.6 554.1 342.4 555.6 341.1 558.4 340.6 559.6 339.6 559.6 338.1 558.4 336.9 556.9 336.4 554.1 336.6 552.9 336.1 551.9 335.1 549.9 331.1 549.4 328.4ZM499.1 418.6 499.6 419.9 498.1 422.9 497.9 425.6 495.1 427.6 494.1 427.9 491.6 427.4 490.1 425.6 490.4 422.4 491.9 420.4 496.4 418.4Z" fill="rgb(0, 12, 255)" fill-rule="evenodd"/>
<path d="M548.4 326.1 542.9 323.9 541.6 323.9 538.6 325.9 536.6 325.9 535.6 325.4 533.6 322.9 532.6 322.9 531.6 323.6 530.4 325.6 529.9 325.6 527.4 328.4 525.6 329.4 521.6 330.4 520.1 330.4 518.4 329.6 515.6 329.6 513.4 331.4 512.6 333.4 511.1 333.9 509.6 333.6 506.4 334.1 504.1 335.6 502.6 335.9 501.9 335.4 497.4 335.4 495.4 335.9 492.4 337.9 490.1 337.9 488.1 337.4 484.9 335.6 483.1 335.4 478.1 337.9 472.4 338.9 468.9 338.9 464.9 336.9 456.9 340.1 455.9 342.1 456.1 344.9 455.4 347.9 453.4 350.1 453.1 353.1 451.1 354.9 450.9 359.4 449.4 361.9 449.4 362.6 447.1 365.6 447.1 367.4 448.4 368.9 448.9 371.9 447.4 376.6 446.1 379.1 446.1 380.4 447.6 383.1 448.1 387.1 446.6 391.1 446.9 393.6 447.6 394.4 447.6 395.1 448.9 397.4 448.6 401.9 447.4 404.9 447.4 405.9 450.1 409.9 450.6 418.4 453.4 421.9 454.1 427.9 456.9 432.9 456.6 434.9 455.9 436.1 455.9 437.6 456.6 439.4 461.1 443.1 461.9 446.1 461.1 448.4 458.9 451.4 459.4 454.9 458.9 457.4 455.9 460.4 453.4 461.4 449.9 461.6 449.1 462.4 447.6 465.1 446.6 470.4 526.4 470.4 526.4 468.6 525.9 467.4 523.9 465.9 521.6 466.6 520.1 466.6 517.4 464.4 515.1 463.4 514.1 463.4 512.9 464.4 508.9 464.6 506.6 465.4 504.9 465.1 503.4 464.1 501.4 464.1 500.4 464.6 493.9 464.4 491.1 465.1 489.9 463.9 488.9 460.6 489.6 458.1 485.4 458.4 483.9 457.9 482.4 456.4 481.6 454.6 481.6 450.4 482.1 449.1 483.4 447.9 486.9 446.9 488.4 443.4 490.6 440.9 493.4 439.9 495.6 439.9 496.9 435.9 498.6 434.1 499.9 433.6 502.4 433.4 504.4 433.9 507.9 437.9 508.9 440.1 509.1 442.1 510.1 442.1 510.1 433.9 511.4 430.6 511.6 428.4 513.4 426.1 514.9 425.4 513.1 424.9 511.4 423.4 510.6 421.6 510.9 419.1 511.4 418.1 514.6 415.1 521.1 413.6 522.6 408.6 523.1 403.6 523.9 400.9 524.9 399.4 524.9 398.6 528.9 394.6 528.9 392.4 528.4 391.4 526.4 392.6 524.6 392.6 523.1 391.4 523.4 388.6 524.9 387.6 526.1 387.6 527.6 385.6 526.4 381.4 526.4 379.1 527.9 377.4 530.1 375.9 534.1 375.9 535.4 374.6 535.9 372.1 537.1 370.4 539.9 370.1 541.6 369.4 543.6 367.6 544.1 366.6 544.1 363.9 544.9 362.1 547.6 359.9 549.1 357.6 551.9 357.1 553.4 355.9 553.6 354.1 553.1 352.4 553.1 349.9 553.6 349.1 553.6 347.6 553.1 346.4 553.1 344.6 554.1 342.4 555.6 341.1 558.4 340.6 559.6 339.6 559.6 338.1 558.4 336.9 556.9 336.4 554.1 336.6 552.9 336.1 551.9 335.1 549.9 331.1 549.4 328.4ZM499.4 417.9 500.4 418.9 500.4 420.6 499.1 423.1 498.9 425.9 495.9 428.4 492.9 428.6 491.1 427.9 489.4 425.4 489.9 422.1 490.6 420.9 493.4 418.9 496.6 417.6Z" fill="rgb(0, 28, 255)" fill-rule="evenodd"/>
<path d="M548.4 326.4 542.9 324.1 541.6 324.1 538.6 326.1 536.6 326.1 535.6 325.6 533.4 323.1 532.9 323.1 530.9 324.9 530.4 325.9 529.9 325.9 527.4 328.4 525.6 329.4 521.6 330.4 515.9 329.9 514.1 330.9 512.6 333.6 511.1 334.1 509.6 333.9 506.6 334.4 504.4 335.9 497.4 335.6 494.6 336.6 492.6 338.1 490.4 338.4 488.1 337.9 483.4 335.6 478.9 338.1 476.1 338.9 469.6 339.4 465.6 337.6 464.4 337.6 461.1 339.4 458.6 339.9 457.4 340.6 456.6 341.9 456.6 345.9 455.9 348.1 454.1 350.1 453.6 353.4 451.6 355.4 451.6 358.9 451.1 360.4 447.9 365.9 447.9 367.4 448.9 368.6 449.6 371.4 448.6 375.1 446.6 379.9 448.1 382.6 448.6 386.6 448.4 388.9 447.4 391.1 447.4 392.9 449.4 396.9 449.1 402.1 448.1 405.9 450.6 409.6 451.1 412.1 451.1 417.6 453.9 421.6 454.4 423.1 454.6 427.4 457.4 432.1 457.4 435.4 456.6 436.4 456.6 437.4 457.1 438.6 460.1 440.9 461.9 442.9 462.6 444.6 462.6 446.9 462.1 448.6 460.6 450.1 460.1 451.9 460.9 455.1 460.4 457.4 458.1 459.6 455.1 461.4 450.4 462.1 448.1 465.4 447.1 468.6 447.1 470.4 525.9 470.4 525.6 468.1 523.6 466.4 521.9 467.1 519.9 467.1 516.9 464.6 515.1 463.9 512.4 464.9 508.4 465.1 506.9 465.6 505.1 465.6 503.1 464.4 501.6 464.4 499.4 465.1 493.9 464.6 492.4 465.4 491.1 465.4 489.4 463.6 487.9 459.9 488.1 459.1 485.1 459.1 483.4 458.6 480.9 456.4 480.6 450.6 481.4 448.6 482.9 447.1 486.4 445.9 487.6 442.9 490.4 439.9 494.9 438.1 495.6 435.4 498.6 432.4 501.4 431.4 505.4 431.6 507.6 433.4 509.6 426.6 510.4 425.9 508.9 422.9 508.9 420.1 509.6 418.1 510.6 416.6 513.4 414.1 516.4 412.9 519.1 412.4 519.6 411.9 523.4 399.6 524.1 398.1 527.9 394.6 527.9 392.9 526.6 393.6 524.9 393.6 523.6 393.1 522.4 391.6 522.6 388.6 524.1 387.1 525.6 387.1 526.9 385.9 525.9 381.6 526.1 378.6 530.1 375.4 534.1 375.4 534.9 374.6 535.6 371.9 537.4 369.9 539.9 369.9 542.4 368.6 543.6 367.1 544.1 362.9 544.6 361.9 547.4 359.6 548.9 357.4 551.6 356.9 553.1 355.6 553.4 354.4 552.9 352.4 552.9 349.9 553.6 348.1 553.1 346.4 553.4 343.9 554.1 342.4 556.1 340.6 558.9 340.1 559.4 338.4 558.4 337.1 555.4 336.4 554.1 336.6 552.9 336.1 551.9 335.1 549.9 331.1 549.6 329.4ZM500.4 417.4 501.4 418.6 501.6 420.1 501.1 422.1 500.1 423.6 500.4 425.1 499.9 426.9 497.9 428.6 495.4 429.6 493.1 429.6 491.1 428.9 488.9 426.1 488.9 423.9 490.1 420.6 492.9 418.4 496.6 416.9 499.1 416.9Z" fill="rgb(0, 44, 255)" fill-rule="evenodd"/>
<path d="M548.4 326.6 542.9 324.4 541.6 324.4 538.9 326.1 536.4 326.1 535.4 325.6 533.4 323.4 532.9 323.4 528.1 328.1 525.6 329.6 521.6 330.6 519.9 330.6 518.1 329.9 515.6 330.1 514.4 330.9 512.9 333.6 510.4 334.4 509.6 334.1 506.6 334.6 504.4 336.1 497.1 336.1 494.1 337.4 492.4 338.6 488.6 338.4 483.4 336.1 478.4 338.6 470.6 339.9 468.4 339.6 466.6 338.6 464.6 338.1 457.6 341.4 457.1 342.4 457.1 346.4 456.4 348.4 454.6 350.6 454.6 352.1 453.9 354.1 452.1 355.6 452.4 356.9 451.9 360.1 450.4 362.6 450.4 363.4 448.4 366.4 450.1 370.1 450.1 371.9 449.4 374.6 447.4 379.6 448.6 382.4 449.1 388.4 448.1 391.1 448.1 392.9 449.9 396.6 449.9 401.9 448.9 405.9 451.1 409.1 451.6 411.1 451.9 417.6 454.4 421.1 455.4 427.4 458.1 432.4 458.1 438.1 462.1 441.6 464.1 445.4 464.6 449.9 463.9 453.1 464.6 456.1 464.1 457.4 462.9 458.6 460.6 459.9 454.6 462.1 450.6 462.6 448.4 465.9 447.6 468.4 447.6 470.4 525.1 470.4 524.9 468.1 523.1 467.1 521.1 467.9 519.6 467.6 518.1 466.1 514.9 464.4 512.6 465.4 509.1 465.4 507.9 465.9 504.9 465.9 503.1 464.9 499.9 465.4 493.4 465.1 491.1 465.6 489.1 463.9 488.4 462.1 486.6 460.1 482.9 459.9 478.6 458.1 477.1 456.4 477.1 453.9 477.9 450.9 480.4 446.9 482.1 445.4 484.4 444.4 487.6 439.6 489.6 437.6 492.6 435.9 493.9 433.4 489.6 428.6 488.4 426.6 488.4 423.4 489.6 420.4 492.1 418.1 495.9 416.4 498.4 415.9 501.9 415.9 503.6 416.6 505.9 418.6 507.1 416.1 509.9 413.1 512.4 411.1 516.9 408.9 520.6 399.9 522.4 397.1 523.9 395.6 521.6 391.9 521.6 389.6 522.1 388.1 523.4 386.9 525.4 386.4 526.1 385.6 525.4 382.1 525.4 379.6 526.1 377.9 529.9 375.1 533.6 375.1 534.6 374.1 535.4 371.6 537.1 369.6 540.1 369.4 542.1 368.4 543.4 366.9 543.6 364.1 544.4 361.9 547.1 359.6 548.9 357.1 551.6 356.6 552.9 355.6 553.1 354.4 552.6 352.4 552.9 349.6 553.4 348.9 552.9 346.6 553.1 343.9 553.9 342.4 555.4 340.9 558.4 340.1 559.1 339.4 559.1 338.4 557.4 336.9 554.1 336.9 552.9 336.4 551.6 335.1 549.6 331.1Z" fill="rgb(0, 59, 255)" fill-rule="evenodd"/>
<path d="M448.1 467.9 448.1 470.4 524.1 470.4 524.4 469.9 523.9 468.1 519.4 468.1 517.6 466.4 515.1 465.1 512.4 465.9 508.9 465.9 507.4 466.4 505.1 466.4 502.6 465.1 500.6 465.6 493.4 465.4 492.6 465.9 491.1 465.9 488.9 464.1 487.1 461.6 485.9 461.1 482.6 460.9 471.4 458.6 468.6 458.9 454.6 462.6 450.9 463.1 449.4 464.9ZM547.9 326.6 542.9 324.6 541.6 324.6 538.9 326.4 536.4 326.4 534.4 325.1 533.4 323.6 532.9 323.6 530.6 326.1 530.1 326.1 528.9 327.6 525.9 329.6 522.9 330.1 521.1 330.9 519.9 330.9 518.1 330.1 515.6 330.4 513.9 331.9 512.9 333.9 509.9 334.6 507.6 334.6 503.6 336.6 497.6 336.4 495.9 336.9 492.1 339.1 487.6 338.6 484.1 336.9 483.1 336.9 478.6 339.1 472.6 340.1 468.4 340.1 464.9 338.6 458.4 341.6 457.9 342.9 457.9 345.4 457.4 347.4 455.1 350.9 455.1 352.6 454.4 354.4 452.9 356.1 452.9 358.6 452.4 360.6 449.6 366.1 449.9 368.1 450.6 369.6 450.6 372.1 448.4 379.6 449.6 384.9 449.6 388.6 448.9 390.6 448.9 392.6 450.4 396.1 450.1 405.9 452.1 410.6 452.9 417.4 455.1 421.4 456.6 427.6 459.4 432.4 460.1 436.6 465.1 441.9 469.4 448.9 471.4 450.6 472.9 449.9 479.1 444.1 482.6 441.9 484.9 438.6 488.6 434.6 487.6 427.9 487.6 424.4 488.4 421.4 489.9 419.1 494.9 415.4 498.6 413.4 505.9 411.6 513.6 405.1 517.1 399.4 519.1 396.9 519.4 393.1 521.1 388.4 523.4 386.1 525.4 385.4 524.9 383.1 524.9 379.4 526.1 377.1 529.9 374.6 533.4 374.6 534.1 374.1 534.9 371.6 536.9 369.4 539.6 369.1 542.4 367.6 543.4 365.9 543.4 363.4 543.9 362.1 546.9 359.6 548.6 357.1 549.4 356.6 551.4 356.4 552.6 355.4 553.1 343.6 553.9 342.1 555.4 340.6 558.4 339.9 558.9 339.4 558.9 338.4 557.9 337.4 556.6 336.9 554.1 337.1 551.6 335.4 549.1 330.4 548.9 328.6Z" fill="rgb(0, 75, 255)" fill-rule="evenodd"/>
<path d="M448.6 467.9 448.6 470.4 518.9 470.4 519.6 469.9 519.6 468.9 515.1 465.6 513.9 466.1 508.9 466.4 506.9 466.9 504.6 466.6 502.9 465.6 499.9 466.1 497.6 466.1 495.9 465.6 490.9 466.1 489.6 465.4 487.4 462.6 486.4 462.1 474.4 460.4 468.1 460.4 464.4 460.9 451.9 463.6 450.1 464.6ZM547.9 326.9 542.9 324.9 541.6 324.9 538.6 326.6 536.6 326.6 534.6 325.6 533.1 323.9 528.6 328.1 525.9 329.9 521.9 330.9 516.4 330.4 514.6 331.4 512.9 334.1 506.9 335.1 504.1 336.9 497.4 336.9 494.9 337.9 492.9 339.4 490.4 339.6 487.6 339.1 483.9 337.4 478.4 339.6 472.4 340.6 468.4 340.6 464.6 339.4 459.6 342.9 458.1 347.9 456.1 351.4 455.9 353.1 454.1 356.4 453.1 361.4 451.1 366.4 451.6 369.1 451.4 372.6 449.9 379.6 450.6 385.1 450.6 389.1 450.1 392.1 451.4 396.9 451.6 405.6 452.9 408.4 454.4 416.9 456.4 420.6 457.9 426.1 461.6 432.9 462.6 435.9 469.4 441.9 472.9 443.4 477.1 441.4 481.6 437.9 484.4 434.6 485.4 431.1 486.1 425.4 487.6 421.1 489.9 417.6 496.1 411.9 505.6 406.1 511.4 400.9 513.9 397.9 519.4 387.6 521.9 385.1 523.4 384.4 524.1 382.4 524.6 378.4 526.9 375.9 530.1 374.1 533.4 374.1 534.4 371.6 536.9 368.9 539.6 368.6 541.6 367.6 542.6 366.6 543.1 363.1 543.9 361.6 546.4 359.6 548.6 356.9 549.4 356.4 551.4 356.1 552.4 355.4 552.9 343.6 553.6 342.1 555.1 340.6 558.4 339.6 558.6 338.6 557.9 337.6 556.6 337.1 553.1 336.9 551.4 335.4 549.4 331.4Z" fill="rgb(0, 91, 255)" fill-rule="evenodd"/>
<path d="M449.1 467.9 449.1 469.9 449.6 470.4 514.6 470.4 516.4 468.9 516.4 468.1 515.1 466.9 504.6 467.1 502.9 466.1 496.6 466.4 494.4 465.9 493.1 466.4 490.9 466.4 489.9 465.9 487.1 463.1 485.6 462.6 474.4 461.1 468.1 461.1 463.6 461.6 452.4 464.1 449.9 465.6ZM547.4 326.9 542.9 325.1 541.6 325.1 539.1 326.6 536.1 326.6 534.9 326.1 532.9 324.4 528.6 328.4 525.6 330.1 521.9 331.1 516.6 330.6 515.4 331.1 514.4 332.1 513.4 334.1 511.6 334.9 507.9 335.1 504.4 337.1 498.1 337.1 496.4 337.6 492.6 339.9 488.9 339.9 483.6 337.9 479.9 339.6 476.1 340.6 472.1 341.1 464.9 341.1 461.1 344.1 455.4 357.1 454.9 360.1 452.9 365.9 452.9 370.6 451.4 379.1 451.9 385.1 451.6 392.4 452.6 396.9 453.1 405.4 454.1 407.9 455.9 416.4 457.9 420.4 460.1 426.6 465.1 434.4 466.9 435.9 469.4 437.4 471.6 438.1 474.6 438.1 476.9 437.1 479.6 435.1 481.4 432.9 482.6 430.4 486.4 420.4 491.1 413.6 496.4 408.1 504.6 401.9 509.4 397.4 517.1 386.9 521.1 383.4 524.9 377.1 526.4 375.6 529.4 373.9 532.9 373.9 534.6 370.4 535.9 369.1 537.4 368.4 539.4 368.4 541.4 367.4 542.4 366.1 542.9 362.9 543.6 361.4 545.9 359.6 548.4 356.6 551.9 355.4 552.1 349.9 552.9 348.4 552.4 346.6 552.4 344.6 552.9 343.1 555.1 340.4 558.1 339.4 558.4 338.6 556.4 337.4 553.1 337.1 551.4 335.6 549.1 331.4 548.6 329.1Z" fill="rgb(0, 107, 255)" fill-rule="evenodd"/>
<path d="M449.6 467.6 449.9 469.1 451.1 470.4 504.6 470.4 509.1 469.1 509.6 468.6 507.9 467.9 504.9 467.6 502.6 466.4 500.1 466.9 495.9 466.4 490.6 466.6 487.4 463.9 485.4 463.1 473.1 461.6 463.6 462.1 456.4 463.6 451.4 465.4ZM547.4 327.1 543.9 326.1 542.9 325.4 541.9 325.4 539.1 326.9 536.1 326.9 532.9 324.9 528.6 328.6 526.1 330.1 524.1 330.4 521.6 331.4 517.9 330.9 515.9 331.1 515.1 331.6 513.4 334.4 511.6 335.1 507.4 335.6 504.6 337.4 497.9 337.6 492.4 340.4 487.6 340.4 482.9 339.6 477.4 340.9 473.6 341.1 465.4 343.1 462.4 345.6 458.9 352.4 458.4 354.4 456.9 357.4 454.4 365.9 454.1 370.9 452.9 378.1 452.9 391.9 453.9 397.1 454.4 404.4 457.4 415.9 461.6 425.4 466.9 431.9 468.6 433.1 471.4 434.1 474.1 434.1 477.4 432.4 481.1 427.9 485.6 418.6 488.1 414.6 496.1 404.4 503.9 397.9 509.6 392.1 515.4 385.1 518.9 382.1 523.6 376.6 529.4 373.4 532.6 372.9 534.4 370.1 535.9 368.6 536.9 368.1 539.4 367.9 541.9 366.4 542.4 363.4 543.1 361.6 546.1 359.1 548.4 356.4 551.6 355.1 551.9 349.9 552.6 348.6 552.1 346.6 552.6 343.4 553.4 341.9 555.1 340.1 558.1 338.9 556.4 337.6 553.9 337.6 552.4 336.9 551.1 335.6Z" fill="rgb(0, 125, 255)" fill-rule="evenodd"/>
<path d="M450.6 467.6 451.1 469.4 452.4 470.4 497.1 470.4 501.9 469.4 502.6 468.6 502.1 467.6 499.1 467.1 496.6 467.1 495.1 466.6 493.1 467.1 490.4 466.9 487.4 464.4 483.1 463.1 474.1 462.1 468.1 462.1 459.1 463.4 453.1 465.1 451.9 465.9ZM547.1 327.4 542.6 325.6 540.9 326.1 539.4 327.1 536.1 327.1 534.4 326.4 532.9 325.1 531.6 326.6 526.1 330.4 523.1 330.9 521.4 331.6 516.9 331.1 515.6 331.6 514.1 333.9 512.4 335.1 508.4 335.6 504.1 337.9 498.6 338.1 492.4 341.6 490.1 342.1 482.6 341.6 474.1 342.6 468.1 344.1 464.1 346.4 460.6 352.4 458.1 358.1 455.6 366.6 455.4 370.9 454.1 378.6 454.4 393.1 455.6 403.6 458.6 414.9 463.4 424.4 467.4 428.6 469.4 429.9 472.4 430.6 474.6 430.1 477.1 428.6 480.4 424.9 485.9 415.1 492.6 404.6 495.1 401.4 499.4 397.1 503.1 394.1 514.1 382.9 521.4 376.1 527.1 372.9 532.1 371.4 536.4 367.9 538.9 367.6 541.4 366.4 542.1 362.9 543.1 361.1 545.6 359.1 548.1 356.1 551.4 354.9 551.6 349.9 552.4 348.4 551.9 346.4 552.4 343.4 553.1 341.6 554.9 339.9 557.6 338.6 556.1 337.9 553.9 337.9 552.4 337.1 550.9 335.6Z" fill="rgb(0, 143, 255)" fill-rule="evenodd"/>
<path d="M451.6 467.9 451.9 468.9 453.6 470.4 491.6 470.4 495.4 469.4 496.4 468.6 496.1 467.9 494.4 467.1 490.1 467.1 487.9 465.1 483.4 463.6 475.6 462.6 466.4 462.6 459.9 463.6 453.1 465.9 452.4 466.4ZM547.1 327.6 543.6 326.6 542.6 325.9 540.9 326.4 539.4 327.4 535.9 327.4 532.9 325.6 531.4 327.1 530.9 327.1 526.6 330.4 520.9 331.9 517.9 331.4 516.1 331.6 513.9 334.6 511.6 335.6 507.9 336.1 504.4 338.1 501.4 338.4 497.6 340.1 494.4 342.6 490.1 344.1 480.1 343.9 474.1 344.4 468.9 345.9 464.9 348.6 462.1 352.9 460.1 357.1 457.1 366.1 455.4 378.6 455.4 391.4 457.1 404.4 460.1 414.4 463.6 421.1 467.1 425.1 470.1 426.9 473.4 427.1 477.4 424.9 481.4 419.9 491.6 402.1 494.6 397.9 497.4 394.9 505.1 388.1 514.1 379.4 519.1 375.4 524.6 372.4 528.4 370.9 530.9 370.4 534.1 368.1 540.4 365.6 541.4 364.6 541.9 362.6 542.9 360.9 544.9 359.4 547.6 356.1 551.1 354.6 551.4 349.9 552.1 348.4 552.1 343.4 552.9 341.6 554.9 339.6 556.9 338.6 556.1 338.1 553.9 338.1 552.4 337.4 550.9 335.9 548.1 330.6Z" fill="rgb(0, 162, 255)" fill-rule="evenodd"/>
<path d="M452.6 467.6 453.1 469.1 454.9 470.4 488.9 470.4 491.6 469.1 492.1 468.4 491.4 467.6 489.9 467.4 487.9 465.6 485.4 464.6 481.1 463.6 474.4 462.9 467.6 462.9 460.4 463.9 455.4 465.4 453.9 466.1ZM546.9 327.9 542.4 326.1 539.4 327.6 536.1 327.6 534.1 326.9 532.9 325.9 531.9 327.1 526.4 330.6 520.4 332.1 517.6 331.6 516.1 331.9 513.6 335.1 510.9 336.1 508.1 336.4 506.4 337.6 504.1 338.4 499.1 341.1 496.1 343.6 491.6 346.1 489.4 346.6 485.1 346.6 481.9 346.1 473.6 346.4 467.9 348.6 465.9 350.4 463.1 354.4 461.1 358.4 458.1 367.6 456.6 378.1 456.6 391.9 458.4 404.1 461.1 412.9 464.4 418.9 467.9 422.6 470.1 423.9 472.9 424.1 476.6 422.4 479.1 419.9 483.6 413.1 490.1 400.6 494.1 394.4 499.9 388.4 510.9 378.6 518.9 373.1 526.1 370.1 529.4 369.4 535.6 366.1 539.4 364.9 541.6 362.6 542.1 361.4 547.9 355.6 550.9 354.4 551.1 349.9 551.9 348.4 551.9 343.4 552.6 341.6 555.1 339.1 556.4 338.6 554.6 338.6 552.6 337.9 550.6 335.9 548.4 331.9Z" fill="rgb(0, 180, 255)" fill-rule="evenodd"/>
<path d="M453.6 467.6 454.1 469.1 456.1 470.4 486.9 470.4 488.6 469.6 489.9 468.4 489.4 467.4 487.6 466.1 483.9 464.6 473.1 463.1 465.4 463.4 459.6 464.4 454.6 466.4ZM546.4 327.9 543.4 327.1 542.4 326.4 539.4 327.9 536.1 327.9 532.9 326.4 528.4 329.9 526.4 330.9 520.1 332.4 517.4 331.9 516.4 332.1 513.6 335.4 511.1 336.4 507.9 336.9 499.1 343.1 495.1 346.9 491.1 349.1 487.4 349.6 479.9 348.4 474.4 348.4 469.4 350.1 466.4 352.6 464.4 355.4 462.1 359.6 459.4 367.9 457.6 379.9 457.6 389.9 458.9 400.1 461.6 410.1 463.9 414.9 465.6 417.4 468.1 419.9 471.6 421.4 473.6 421.1 476.4 419.6 478.9 417.1 483.1 410.9 491.1 394.6 493.9 390.4 498.9 384.9 508.1 377.1 512.9 373.9 517.4 371.6 529.4 367.9 538.6 363.9 545.1 358.4 547.4 355.6 550.6 354.1 550.6 351.4 551.4 348.6 551.4 344.4 552.6 341.1 555.1 338.9 552.6 338.1 550.9 336.6Z" fill="rgb(0, 199, 255)" fill-rule="evenodd"/>
<path d="M454.6 467.4 454.9 468.9 457.1 470.4 485.1 470.4 488.1 468.6 488.1 467.6 485.4 465.6 479.9 464.1 472.4 463.4 465.6 463.6 461.1 464.4 457.6 465.4 455.6 466.4ZM546.1 328.1 542.6 326.9 539.1 328.1 536.1 328.1 532.9 326.9 526.4 331.1 524.4 331.4 521.9 332.4 516.4 332.4 514.1 335.4 511.1 336.6 510.1 336.6 507.4 338.4 501.6 343.1 494.1 350.9 491.1 352.6 487.1 352.9 479.9 350.9 474.4 350.6 469.6 352.4 466.6 355.1 463.1 360.9 460.9 367.1 458.9 378.4 458.6 386.1 459.1 394.1 460.9 403.6 462.9 409.4 464.6 412.9 467.6 416.6 470.6 418.4 473.6 418.4 475.6 417.4 478.6 414.6 482.6 408.6 489.1 394.1 493.1 386.6 496.1 382.6 500.6 378.4 507.1 373.9 512.1 371.4 518.1 369.4 527.6 367.1 537.6 363.1 544.4 358.1 550.1 353.1 551.1 348.6 551.1 344.4 552.4 341.1 554.1 339.1 551.9 337.9 550.4 336.4Z" fill="rgb(0, 217, 255)" fill-rule="evenodd"/>
<path d="M455.4 467.9 456.4 469.4 458.4 470.4 483.6 470.4 485.6 469.6 486.9 468.6 486.4 466.9 481.9 464.9 471.6 463.6 465.9 463.9 460.4 464.9 456.6 466.4ZM546.1 328.6 542.4 327.4 541.4 327.4 540.4 328.1 536.4 328.4 532.6 327.4 526.9 331.1 521.6 332.6 516.6 332.9 513.9 335.9 512.1 336.4 508.9 338.4 503.4 343.4 500.1 347.1 494.9 354.9 491.9 357.1 488.4 357.1 481.6 354.1 478.1 353.1 473.6 353.1 470.4 354.4 466.9 357.6 463.4 363.9 461.1 371.4 459.9 379.9 459.9 390.6 461.1 399.4 462.9 405.6 465.4 410.9 468.6 414.6 471.4 415.9 474.4 415.4 476.4 414.1 479.9 410.1 484.1 402.1 489.6 388.1 493.4 380.1 495.9 376.4 498.1 374.1 500.9 372.4 507.1 370.1 527.4 365.9 536.4 362.6 544.1 357.4 549.4 352.6 550.4 350.9 550.9 348.6 551.1 343.6 552.4 340.6 553.6 339.1 552.4 338.6 550.1 336.4Z" fill="rgb(0, 230, 242)" fill-rule="evenodd"/>
<path d="M456.4 467.6 456.4 468.4 457.4 469.4 459.6 470.4 482.4 470.4 484.4 469.6 485.9 468.1 484.9 466.6 481.4 465.1 471.4 463.9 466.1 464.1 461.6 464.9 457.6 466.4ZM475.9 355.4 472.4 355.9 470.4 356.9 468.4 358.6 466.1 361.6 462.9 369.4 461.6 374.9 460.9 381.4 461.1 392.1 462.9 401.4 464.4 405.6 466.4 409.4 468.6 411.9 471.1 413.1 473.4 413.1 476.1 411.6 478.1 409.6 480.6 405.9 485.9 393.6 489.9 381.1 491.9 372.4 491.6 366.9 489.4 363.4 485.9 360.1 482.4 357.6 479.9 356.4ZM553.4 339.4 551.6 338.4 549.9 336.4 546.9 330.4 544.9 328.9 542.1 328.1 536.4 328.6 533.1 327.9 531.4 328.4 528.9 330.4 526.9 331.4 521.6 332.9 518.6 332.9 517.1 333.4 514.6 335.6 509.6 338.9 504.6 343.9 501.4 348.4 499.4 352.6 498.1 356.6 497.6 359.9 497.9 362.6 499.6 365.1 502.4 366.4 504.9 366.9 512.6 366.9 526.9 364.9 535.1 362.1 542.4 357.6 548.6 352.1 550.6 348.6 550.6 344.6 552.1 340.6Z" fill="rgb(0, 242, 227)" fill-rule="evenodd"/>
<path d="M457.4 467.4 457.6 468.9 460.6 470.4 480.9 470.4 483.6 469.4 484.6 468.4 484.6 467.4 484.1 466.9 480.9 465.4 477.4 464.6 471.4 464.1 462.9 464.9 460.1 465.6ZM476.6 358.1 473.4 358.1 471.9 358.6 469.6 360.1 467.6 362.4 465.4 366.4 464.1 369.6 462.1 379.6 462.1 390.9 463.6 399.4 464.9 403.1 467.4 407.6 469.4 409.6 471.6 410.6 473.6 410.4 475.9 409.1 477.6 407.4 480.4 403.1 484.9 391.6 486.9 384.1 487.9 378.1 487.9 371.4 486.9 367.6 485.6 365.1 481.4 360.4 478.4 358.6ZM552.4 339.4 550.1 337.1 547.1 331.6 545.1 329.9 543.1 329.1 532.9 328.6 530.4 329.4 527.4 331.4 521.4 333.1 519.1 333.4 517.4 334.1 510.1 339.6 507.4 342.4 504.4 346.4 502.9 349.1 501.6 352.9 501.4 357.4 501.9 359.4 502.6 360.9 504.6 362.9 508.1 364.4 511.1 364.9 522.1 364.6 527.6 363.6 533.9 361.6 536.6 360.4 542.1 356.9 547.6 352.1 550.1 347.9 550.6 343.6Z" fill="rgb(0, 253, 212)" fill-rule="evenodd"/>
<path d="M458.1 467.6 458.9 469.1 461.9 470.4 479.6 470.4 481.4 469.9 483.6 468.4 483.6 467.4 481.9 466.1 477.1 464.9 471.9 464.4 463.1 465.1 459.9 466.1ZM475.4 360.6 472.9 360.9 470.9 361.9 467.4 365.9 464.6 372.6 463.1 381.6 463.4 391.6 464.9 398.9 467.6 404.9 469.9 407.1 471.6 407.9 472.9 407.9 475.1 406.9 477.6 404.4 480.4 399.6 484.1 388.4 485.6 378.4 485.1 371.9 482.9 366.1 481.6 364.4 479.1 362.1 477.4 361.1ZM550.6 337.9 549.6 336.9 547.9 333.4 544.4 330.4 541.4 329.6 532.6 329.4 529.9 330.1 527.4 331.6 523.1 332.6 518.4 334.4 511.4 339.6 508.6 342.4 506.1 345.9 504.6 348.9 503.6 352.6 503.6 355.4 504.4 358.1 505.1 359.4 508.1 361.9 511.6 363.1 515.1 363.6 521.1 363.6 525.4 363.1 534.1 360.6 541.9 356.1 547.4 351.1 549.1 348.4 551.1 341.9 551.4 339.4Z" fill="rgb(0, 255, 177)" fill-rule="evenodd"/>
<path d="M458.9 467.9 460.1 469.4 463.1 470.4 478.1 470.4 481.4 469.4 482.6 468.4 482.6 467.4 480.1 465.9 472.1 464.6 464.4 465.1 459.9 466.6ZM475.9 363.6 473.1 363.6 471.9 364.1 469.9 365.6 467.9 368.4 465.6 374.1 464.4 381.1 464.4 389.4 465.6 396.4 466.6 399.4 468.6 402.9 469.9 404.1 471.4 404.9 473.4 404.9 474.6 404.4 476.1 403.1 478.1 400.4 481.4 392.6 483.4 382.9 483.4 375.4 482.1 370.4 479.6 366.1 478.6 365.1ZM549.4 336.9 547.4 333.9 545.1 331.9 542.9 330.6 539.4 330.1 532.1 330.1 524.1 332.6 519.4 334.6 513.1 339.1 509.4 342.9 507.4 345.9 506.1 348.6 505.4 351.9 505.9 356.1 507.1 358.4 509.9 360.6 513.1 361.9 515.9 362.4 523.9 362.4 528.1 361.6 533.9 359.9 540.6 356.1 546.6 350.9 548.6 347.6 550.4 341.6 550.4 339.4Z" fill="rgb(0, 255, 139)" fill-rule="evenodd"/>
<path d="M459.9 467.4 459.9 468.4 460.6 469.1 464.4 470.4 476.9 470.4 479.6 469.6 481.6 468.4 481.6 467.4 479.6 466.1 472.4 464.9 464.6 465.4 461.9 466.1ZM475.1 366.6 473.4 366.6 471.6 367.4 468.9 370.4 466.9 375.1 465.6 381.9 465.6 388.4 466.6 394.4 468.4 398.9 470.6 401.4 471.6 401.9 473.4 401.9 475.4 400.6 478.1 396.6 480.4 390.4 481.6 382.9 481.6 378.1 480.4 372.4 478.6 369.1 477.1 367.6ZM548.4 336.6 547.4 335.1 544.1 332.1 541.6 331.1 537.6 330.6 532.6 330.6 524.4 333.1 518.4 335.9 515.1 338.4 511.4 341.9 509.6 344.1 507.9 347.4 507.1 349.9 506.9 352.9 507.4 355.1 508.6 357.4 511.4 359.6 517.1 361.4 524.9 361.4 533.6 359.1 538.1 356.9 541.9 354.4 545.9 350.6 547.1 348.9 548.6 345.6 549.6 341.4 549.6 339.6Z" fill="rgb(0, 255, 101)" fill-rule="evenodd"/>
<path d="M460.6 468.4 462.6 469.6 465.9 470.4 475.1 470.4 479.1 469.4 480.9 467.9 480.1 466.9 477.6 465.9 472.6 465.1 468.6 465.1 462.1 466.4 460.6 467.6ZM474.6 370.1 473.1 370.1 471.6 370.9 469.9 372.9 467.9 377.6 467.1 381.9 467.1 388.4 468.1 393.4 469.9 396.9 471.9 398.4 473.1 398.4 474.6 397.6 476.6 395.1 478.4 390.9 479.6 384.6 479.6 378.9 478.6 374.6 477.1 371.9ZM547.1 336.1 545.1 333.9 543.4 332.6 538.9 331.4 532.1 331.4 523.4 334.1 517.4 337.4 513.9 340.4 510.9 343.9 509.1 347.1 508.4 349.9 508.4 353.1 509.9 356.4 511.6 358.1 514.6 359.6 517.6 360.4 525.9 360.4 530.6 359.4 534.1 358.1 541.4 353.9 545.4 350.1 546.9 347.9 548.4 343.9 548.9 340.6Z" fill="rgb(0, 255, 63)" fill-rule="evenodd"/>
<path d="M461.4 467.6 461.4 468.1 463.1 469.4 468.4 470.4 476.4 469.9 478.1 469.4 479.9 468.1 479.9 467.6 478.6 466.6 472.6 465.4 466.1 465.6 463.1 466.4ZM474.4 374.6 472.9 374.6 470.9 376.4 469.6 379.1 468.9 383.1 468.9 386.6 469.9 391.4 470.9 393.1 472.6 394.1 473.6 393.9 475.1 392.4 476.4 389.9 477.4 385.6 477.4 380.1 476.9 377.9 475.9 375.9ZM546.4 336.4 545.1 334.9 542.4 332.9 537.6 331.9 532.6 331.9 523.6 334.6 518.4 337.4 514.6 340.6 511.9 343.9 510.4 346.6 509.6 349.4 509.6 352.4 510.1 354.1 510.9 355.4 513.6 357.9 516.6 359.1 519.1 359.6 525.9 359.6 530.6 358.6 534.1 357.4 540.6 353.6 544.6 349.9 545.9 348.1 547.9 342.6 547.9 339.6Z" fill="rgb(16, 255, 36)" fill-rule="evenodd"/>
<path d="M462.4 467.6 462.4 468.4 464.1 469.4 468.4 470.1 474.6 469.9 477.6 469.1 478.9 468.1 478.1 466.9 472.6 465.6 466.4 465.9 463.6 466.6ZM545.9 337.1 543.6 334.6 542.1 333.6 536.1 332.4 531.9 332.6 524.4 334.9 519.1 337.6 513.4 343.1 511.6 346.1 510.9 348.4 511.1 353.1 512.1 354.9 513.9 356.6 516.1 357.9 518.6 358.6 525.9 358.9 533.6 356.9 539.9 353.4 544.9 348.4 546.4 345.4 547.1 342.4 547.1 340.1Z" fill="rgb(56, 255, 25)" fill-rule="evenodd"/>
<path d="M463.1 467.9 464.6 469.1 468.6 469.9 474.4 469.6 476.4 469.1 477.9 468.1 477.9 467.6 476.4 466.6 472.4 465.9 466.6 466.1 464.6 466.6ZM545.4 337.9 544.1 336.1 541.9 334.4 537.4 333.1 532.4 333.1 524.6 335.4 519.1 338.4 514.4 343.1 512.1 347.4 512.1 352.4 514.1 355.4 516.4 356.9 519.4 357.9 526.1 358.1 533.1 356.4 540.1 352.4 544.4 347.9 545.4 345.9 546.4 342.1 546.4 340.6Z" fill="rgb(96, 255, 14)" fill-rule="evenodd"/>
<path d="M464.1 467.6 464.1 468.1 465.1 468.9 469.1 469.6 473.9 469.4 475.6 468.9 476.9 467.9 475.6 466.9 471.9 466.1 467.1 466.4ZM544.6 338.1 541.6 335.1 539.1 334.1 536.1 333.6 531.6 333.9 524.9 335.9 519.1 339.1 515.1 343.4 513.6 345.9 512.9 348.6 513.4 352.4 513.9 353.4 516.6 355.9 521.4 357.4 528.1 357.1 533.9 355.4 539.1 352.4 542.6 349.1 543.9 347.4 545.4 343.6 545.4 339.9Z" fill="rgb(137, 255, 4)" fill-rule="evenodd"/>
<path d="M465.4 467.6 465.9 468.6 467.6 469.1 473.1 469.1 475.6 468.1 475.4 467.4 473.1 466.6 467.6 466.6ZM543.6 338.1 541.4 335.9 537.1 334.4 531.9 334.4 525.6 336.1 520.9 338.6 516.4 342.9 514.1 347.1 513.9 350.1 514.4 351.9 516.9 354.9 518.9 355.9 521.9 356.6 526.9 356.6 532.9 355.1 538.4 352.1 542.9 347.6 544.6 343.4 544.6 340.4Z" fill="rgb(174, 255, 0)" fill-rule="evenodd"/>
<path d="M466.6 467.6 466.9 468.4 468.6 468.9 472.1 468.9 474.4 467.9 472.1 466.9 468.9 466.9ZM543.1 338.9 540.4 336.1 536.1 334.9 531.1 335.1 525.9 336.6 520.9 339.4 516.9 343.4 515.1 346.9 515.1 350.9 516.6 353.4 517.9 354.4 522.1 355.9 527.6 355.9 533.6 354.1 538.4 351.4 542.4 347.1 543.9 343.1 543.9 340.9Z" fill="rgb(209, 255, 0)" fill-rule="evenodd"/>
<path d="M468.4 467.9 469.4 468.4 471.4 468.4 472.4 467.9 471.4 467.4 469.4 467.4ZM542.1 338.9 539.1 336.4 534.6 335.4 530.4 335.9 526.1 337.1 520.9 340.1 518.1 342.9 516.1 346.6 516.1 350.6 518.1 353.4 522.4 355.1 528.1 355.1 534.4 353.1 538.9 350.1 541.4 347.4 542.6 344.9 543.1 342.6 542.9 340.4Z" fill="rgb(244, 255, 0)" fill-rule="evenodd"/>
<path d="M541.4 339.4 539.4 337.4 535.6 336.1 532.1 336.1 526.4 337.6 522.6 339.6 518.9 343.1 517.4 345.6 516.9 347.4 517.1 350.4 519.1 352.9 522.6 354.4 526.9 354.6 532.9 353.1 537.9 350.1 541.1 346.4 542.1 343.9 542.1 341.1Z" fill="rgb(255, 234, 0)" fill-rule="evenodd"/>
<path d="M540.6 339.9 538.6 337.9 535.9 336.9 531.4 336.9 526.1 338.4 522.6 340.4 519.4 343.6 517.9 347.1 518.1 349.9 520.1 352.4 522.9 353.6 527.4 353.9 532.4 352.6 536.9 350.1 540.1 346.6 541.4 343.4 541.4 341.9Z" fill="rgb(255, 203, 0)" fill-rule="evenodd"/>
<path d="M539.9 340.4 538.6 338.9 536.6 337.9 534.4 337.4 530.6 337.6 527.1 338.6 523.4 340.6 520.1 343.9 518.9 346.9 519.1 349.6 519.9 350.9 521.9 352.4 524.6 353.1 529.4 352.9 533.1 351.6 536.1 349.9 539.4 346.4 540.4 343.9 540.4 341.6Z" fill="rgb(255, 172, 0)" fill-rule="evenodd"/>
<path d="M538.9 340.6 537.4 339.1 534.4 338.1 530.1 338.4 526.4 339.6 522.9 341.9 520.6 344.6 519.9 346.9 520.1 349.1 521.4 350.9 524.9 352.4 528.1 352.4 532.6 351.1 535.6 349.4 538.6 346.1 539.4 344.4 539.4 341.6Z" fill="rgb(255, 141, 0)" fill-rule="evenodd"/>
<path d="M537.9 340.9 536.4 339.6 534.1 338.9 529.9 339.1 526.9 340.1 524.4 341.6 522.1 343.9 521.1 345.9 521.1 348.6 522.1 350.1 525.6 351.6 528.1 351.6 531.4 350.9 535.4 348.6 537.6 346.1 538.4 344.4 538.4 341.9Z" fill="rgb(255, 109, 0)" fill-rule="evenodd"/>
<path d="M537.1 341.9 535.6 340.4 533.1 339.6 529.9 339.9 527.6 340.6 524.4 342.6 522.9 344.4 522.1 346.1 522.4 348.4 523.6 349.9 525.4 350.6 529.4 350.6 531.9 349.9 534.1 348.6 536.9 345.6 537.4 344.4Z" fill="rgb(255, 77, 0)" fill-rule="evenodd"/>
<path d="M535.6 341.9 533.1 340.6 530.4 340.6 526.9 341.9 524.1 344.4 523.6 345.4 523.4 347.1 523.9 348.4 525.1 349.4 526.9 349.9 529.9 349.6 532.9 348.4 535.4 346.1 536.1 344.6 536.1 342.9Z" fill="rgb(255, 44, 0)" fill-rule="evenodd"/>
<path d="M534.4 342.9 533.6 342.1 532.1 341.6 528.6 342.1 525.4 344.6 524.9 345.9 525.1 347.4 526.9 348.6 530.6 348.4 532.6 347.4 534.1 345.9 534.6 344.9Z" fill="rgb(253, 17, 0)" fill-rule="evenodd"/>
<path d="M532.6 344.1 531.1 343.1 528.6 343.6 527.1 345.1 527.1 346.4 528.1 347.1 530.6 346.9 532.4 345.4Z" fill="rgb(244, 5, 0)" fill-rule="evenodd"/></g>
<g filter="url(#sb)"><path d="M745.1 423.4 743.9 422.6 741.9 423.1 740.9 424.1 740.9 425.1 742.4 425.9 743.6 425.9 744.9 424.9ZM755.6 382.9 753.4 385.1 753.1 387.6 754.4 389.4 757.1 389.6 759.6 387.6 760.6 385.4 759.4 383.6 757.9 382.9ZM787.9 325.6 783.6 325.1 781.1 323.6 779.9 323.4 777.9 324.4 776.4 325.9 774.4 325.9 772.6 324.9 771.4 322.9 770.1 322.9 764.9 328.4 763.9 328.9 757.6 329.4 755.9 328.6 754.4 328.6 750.6 330.1 749.4 331.6 748.4 332.1 744.6 331.6 743.4 332.6 740.6 333.1 738.1 332.4 736.1 332.4 730.6 334.9 728.4 334.9 721.4 331.9 717.1 331.4 715.6 330.1 714.4 330.1 714.1 331.6 710.9 331.9 709.1 331.4 708.9 331.9 707.6 332.4 707.1 333.6 706.4 333.6 705.1 332.4 704.6 332.6 702.4 331.9 699.1 332.9 696.4 334.9 693.9 335.9 691.4 337.9 689.1 340.9 688.1 341.6 687.4 341.6 687.1 342.6 686.6 342.9 686.9 343.6 686.4 343.6 686.6 344.4 686.1 344.6 686.1 348.1 684.4 350.1 682.9 351.1 682.1 352.4 682.1 353.6 683.6 356.1 682.4 364.1 682.4 367.1 683.1 369.6 683.1 372.9 683.9 375.4 683.1 379.4 684.6 381.9 685.9 387.4 684.6 390.4 684.6 391.9 685.1 393.1 686.9 394.9 688.4 395.6 688.4 397.1 687.4 398.6 687.9 402.1 687.9 404.4 687.4 405.4 687.6 406.4 689.4 408.9 689.6 412.9 690.6 415.1 690.6 418.6 692.9 421.4 692.9 428.6 693.9 430.1 694.9 430.9 695.9 430.9 697.4 431.6 700.4 434.6 701.1 434.1 702.4 434.4 703.6 436.1 702.6 439.6 702.6 454.9 701.1 456.9 698.9 457.4 692.9 460.6 688.4 462.1 688.1 467.1 687.4 470.4 764.4 470.4 764.4 469.6 763.1 467.9 762.4 467.9 761.9 467.1 760.4 467.9 759.4 467.6 755.4 464.1 752.6 463.9 751.6 464.6 747.4 464.6 744.6 465.6 742.9 465.6 740.6 464.4 739.6 464.4 737.1 465.4 732.6 465.1 729.9 466.1 727.9 465.9 727.1 465.1 726.4 462.9 724.6 460.9 719.6 457.9 718.4 456.6 717.9 455.1 718.1 451.6 717.4 449.4 716.1 448.1 716.4 447.9 715.4 445.4 715.4 443.9 716.6 442.6 719.6 442.1 720.1 441.4 720.1 440.4 717.1 437.6 716.9 436.4 718.4 431.6 719.4 429.9 718.9 427.9 719.1 426.6 722.6 422.4 725.6 423.4 728.9 423.1 731.4 421.6 732.1 420.6 732.6 420.6 733.9 418.4 735.6 416.6 737.6 415.6 742.6 415.6 743.9 414.9 745.4 414.9 747.4 416.6 750.1 417.4 754.4 413.9 754.4 413.1 752.9 411.6 752.9 410.9 751.9 410.6 746.9 405.6 745.9 403.4 745.9 401.6 747.1 399.1 745.6 397.6 745.1 396.4 746.6 392.9 746.4 389.9 744.1 388.1 743.6 385.4 746.4 381.4 747.1 378.1 748.4 377.1 752.9 377.1 754.6 377.6 757.9 377.1 761.1 379.6 763.4 379.6 766.4 377.9 771.6 376.9 773.4 375.1 773.6 372.6 774.9 370.6 776.1 370.1 778.6 370.4 782.1 368.6 782.9 367.6 783.6 364.9 787.1 361.9 788.1 359.4 790.9 358.1 791.9 357.1 792.6 354.9 792.4 350.9 792.9 349.1 791.9 345.9 792.1 344.4 793.9 342.6 798.4 341.1 799.4 339.9 799.4 338.9 798.6 337.4 797.4 336.1 794.4 334.4 793.6 333.1 790.9 332.9 789.4 331.6 788.4 329.4Z" fill="rgb(0, 0, 215)" fill-rule="evenodd"/>
<path d="M755.9 383.1 753.9 385.4 753.6 387.1 754.6 388.6 756.9 388.9 759.1 387.1 759.9 385.4 759.6 384.6 757.6 383.1ZM787.9 325.6 783.6 325.1 781.1 323.6 779.9 323.4 777.9 324.4 776.4 325.9 774.4 325.9 772.6 324.9 771.4 322.9 770.1 322.9 764.9 328.4 763.9 328.9 757.6 329.4 755.9 328.6 754.4 328.6 750.6 330.1 749.4 331.6 748.4 332.1 744.6 331.6 743.4 332.6 740.6 333.1 739.4 332.6 736.1 332.6 730.6 335.1 728.9 335.1 726.6 334.4 721.4 331.9 717.1 331.4 715.6 330.1 714.4 330.1 714.1 331.6 710.9 331.9 709.1 331.4 708.9 331.9 707.6 332.4 707.1 333.6 706.4 333.6 705.1 332.4 704.6 332.6 702.4 331.9 698.6 333.4 696.4 335.1 692.6 337.1 689.9 340.6 687.6 342.4 686.9 344.9 686.6 348.4 682.9 352.6 682.9 353.4 684.1 355.6 683.6 362.6 683.1 364.1 683.1 366.9 683.9 369.6 683.9 372.9 684.6 375.4 683.9 379.1 685.4 381.6 686.6 387.1 685.4 391.4 685.9 392.6 689.1 395.4 689.1 397.6 688.4 398.6 688.9 402.1 688.6 405.9 690.4 408.4 690.6 412.4 691.9 415.1 691.9 418.4 694.1 421.1 694.1 427.9 694.6 428.9 695.6 429.6 696.6 429.6 698.1 430.4 700.6 432.9 703.1 433.1 704.6 434.6 705.1 436.4 704.1 439.6 704.1 455.1 701.9 458.1 699.6 458.6 691.4 462.6 689.6 462.9 689.1 463.9 688.4 470.4 762.9 470.4 761.6 469.1 759.9 469.4 758.4 468.9 754.6 465.6 752.9 465.6 752.1 466.1 747.6 466.1 744.9 467.1 742.9 467.1 740.1 465.6 737.9 466.4 734.9 466.4 734.1 465.9 731.9 465.9 731.1 466.4 727.9 466.1 725.1 462.4 718.9 459.1 717.1 457.4 716.4 455.4 716.6 451.9 715.9 449.9 714.6 448.4 713.9 445.6 713.9 443.6 715.9 441.4 718.4 440.9 715.9 438.4 715.4 436.4 717.9 429.9 717.9 426.4 718.6 424.9 721.9 421.4 724.1 421.4 726.1 422.1 728.4 421.9 730.4 420.6 734.6 415.6 736.9 414.4 742.6 414.1 743.9 413.4 745.4 413.4 748.1 415.4 749.6 415.9 752.6 413.4 745.6 406.4 744.6 403.9 744.6 401.4 745.6 399.4 744.1 397.4 744.1 395.9 745.9 392.4 745.9 390.9 743.4 388.1 743.1 385.1 745.9 381.6 746.9 378.1 748.4 376.9 752.9 376.9 754.6 377.4 757.9 376.9 761.1 379.4 763.1 379.4 767.1 377.4 770.4 377.1 771.6 376.6 773.1 375.1 773.9 371.9 774.9 370.6 776.1 370.1 778.6 370.4 782.1 368.6 782.9 367.6 783.6 364.9 787.1 361.9 788.1 359.4 790.9 358.1 791.9 357.1 792.6 354.9 792.4 350.9 792.9 349.1 791.9 345.9 792.1 344.4 793.9 342.6 798.4 341.1 799.4 339.9 799.4 338.9 798.6 337.4 797.4 336.1 794.4 334.4 793.6 333.1 790.9 332.9 789.4 331.6 788.4 329.4Z" fill="rgb(0, 12, 255)" fill-rule="evenodd"/>
<path d="M758.6 384.6 757.4 383.9 755.6 384.1 754.6 385.6 754.4 386.9 754.9 387.9 756.6 388.1 757.6 387.6 759.1 385.6ZM787.9 325.9 785.4 325.1 783.6 325.1 780.1 323.6 777.9 324.4 776.4 325.9 774.4 325.9 772.6 324.9 771.4 323.1 770.1 323.1 764.9 328.4 763.9 328.9 759.9 329.4 754.4 328.9 750.9 330.4 748.4 332.4 745.9 331.9 740.6 333.6 736.6 332.9 735.6 333.6 730.9 335.4 728.1 335.4 721.9 332.6 716.9 331.6 715.6 330.6 714.6 330.6 714.4 331.9 710.6 332.1 709.4 331.6 709.1 332.1 708.1 332.4 707.1 333.9 706.4 333.9 705.1 332.9 702.4 332.4 698.9 333.6 696.4 335.6 694.1 336.6 692.6 337.9 690.1 341.4 688.1 342.9 686.9 349.4 683.9 352.6 684.1 354.4 684.9 355.4 684.9 358.1 683.9 364.1 684.6 372.6 685.4 375.4 684.9 379.4 686.1 381.6 687.4 386.9 687.4 388.4 686.4 391.4 686.6 392.1 689.9 394.9 689.9 398.1 689.4 398.9 689.4 401.1 689.9 402.9 689.6 405.4 691.4 408.4 691.6 411.6 692.9 414.9 692.9 417.9 695.1 420.6 695.6 423.4 695.1 426.6 695.4 427.9 698.6 429.4 701.1 431.6 703.6 432.1 705.6 434.1 706.1 435.4 706.1 437.6 705.1 440.6 705.6 442.6 705.6 453.1 705.1 456.1 702.9 458.9 700.1 459.6 693.9 462.6 690.4 463.6 689.1 470.4 759.9 470.4 758.1 470.1 756.9 469.4 754.1 466.9 751.9 467.4 747.6 467.4 744.6 468.4 742.1 468.1 739.9 466.9 738.6 467.4 735.6 467.4 733.9 466.6 727.9 466.6 726.6 465.6 724.4 462.6 718.1 459.9 715.9 457.9 715.1 455.4 715.4 451.9 713.6 449.4 712.6 443.9 712.9 442.6 715.1 440.4 715.9 440.1 714.6 438.6 714.4 435.6 716.9 429.1 716.4 427.9 716.9 425.9 717.6 424.4 721.1 420.6 723.1 420.1 725.9 420.9 727.9 420.9 731.1 418.4 731.6 417.1 734.4 414.4 737.1 413.1 741.6 413.1 742.9 412.4 746.4 412.4 749.1 414.4 750.6 413.1 744.6 406.9 743.9 405.6 743.4 403.4 744.1 399.4 743.1 397.9 743.1 395.9 744.9 392.4 744.9 390.9 743.1 389.4 742.6 388.4 742.4 385.4 743.6 383.1 745.4 381.4 746.4 378.1 748.1 376.6 753.1 376.6 754.9 377.1 758.1 376.6 759.6 377.4 760.6 378.6 763.1 378.9 767.1 376.9 770.4 376.6 771.6 376.1 772.9 374.9 773.4 371.9 774.6 370.4 775.9 369.9 777.9 370.1 782.1 368.1 783.4 364.6 786.9 361.9 787.9 359.4 791.6 357.1 792.4 354.9 792.4 350.9 792.9 349.1 791.9 345.9 792.1 344.4 793.9 342.6 798.4 341.1 799.1 339.9 799.1 338.9 798.6 337.4 797.4 336.1 794.4 334.4 793.6 333.1 790.9 332.9 789.4 331.6 788.4 329.4 788.4 327.4Z" fill="rgb(0, 28, 255)" fill-rule="evenodd"/>
<path d="M757.4 384.9 756.4 384.9 755.4 386.1 755.4 386.9 755.9 387.4 756.4 387.4 758.1 385.9ZM787.6 325.9 783.4 325.4 781.9 324.4 779.9 323.9 778.1 324.6 776.6 326.1 774.1 326.1 772.4 325.1 771.1 323.4 770.4 323.4 768.4 325.4 767.9 325.4 765.9 327.9 763.9 329.1 760.1 329.6 754.6 329.1 751.4 330.4 748.6 332.6 745.6 332.4 743.6 333.4 741.1 333.9 736.6 333.4 735.6 334.1 730.9 335.9 728.4 335.9 720.9 332.6 716.9 332.1 715.1 330.9 715.1 331.6 714.6 332.1 710.4 332.4 709.6 331.9 709.4 332.4 708.1 332.6 707.4 334.1 706.1 334.1 704.9 333.1 702.1 332.9 699.4 333.9 696.9 335.9 694.4 337.1 688.6 343.6 687.6 349.1 684.6 352.9 685.6 355.6 684.6 364.1 684.6 367.1 686.1 375.4 685.6 379.4 686.6 380.6 688.1 386.9 687.4 391.6 690.6 394.6 690.9 397.6 690.4 398.9 690.9 405.4 692.6 408.6 693.1 411.9 694.6 415.6 694.6 417.1 696.9 419.9 697.6 422.6 697.6 426.4 699.6 427.1 702.4 429.4 704.6 429.9 706.1 430.9 708.1 433.1 709.1 436.1 708.4 440.1 708.9 453.1 707.9 457.6 706.6 458.9 703.9 460.4 700.6 460.9 690.9 464.4 690.1 468.1 690.1 470.4 740.6 470.4 739.9 469.6 737.4 469.4 733.9 467.6 729.6 467.6 727.9 467.1 724.1 463.1 720.1 461.4 715.6 460.1 713.1 458.6 712.1 456.6 711.9 452.4 710.6 450.9 709.6 446.4 709.6 443.4 710.1 441.4 711.9 439.4 711.4 437.4 711.9 434.4 714.4 428.9 714.1 427.9 715.1 424.9 715.9 423.6 720.1 419.4 722.4 418.4 726.9 418.9 729.1 417.1 732.4 413.1 734.9 411.4 737.1 410.6 741.1 410.4 743.1 409.6 741.6 406.9 741.4 402.1 742.1 400.1 741.6 398.6 741.6 396.6 743.9 391.6 741.9 389.1 741.6 385.4 742.6 383.4 744.9 380.9 745.9 377.9 747.1 376.6 748.1 376.1 753.1 376.1 754.9 376.6 758.1 376.1 759.1 376.4 761.4 378.4 762.9 378.4 767.1 376.4 770.9 375.9 772.4 374.6 772.9 372.1 774.4 370.1 776.1 369.4 778.4 369.6 781.9 367.9 783.1 364.6 786.6 361.6 787.6 359.4 791.6 356.6 792.4 354.6 792.1 350.9 792.6 349.1 791.9 345.9 792.1 344.4 793.9 342.4 798.1 340.9 798.9 340.1 799.1 339.1 798.4 337.6 794.4 334.6 793.4 333.4 790.9 333.1 789.1 331.6 788.1 329.4Z" fill="rgb(0, 44, 255)" fill-rule="evenodd"/>
<path d="M691.1 467.4 691.1 469.1 691.6 470.4 732.4 470.1 732.1 468.6 727.9 467.6 723.1 463.1 718.9 461.9 710.9 460.4 709.1 460.4 703.1 461.9 701.6 461.9 695.6 463.6 692.4 465.1ZM787.4 326.1 783.4 325.6 779.9 324.1 778.1 324.9 776.6 326.4 774.1 326.4 772.4 325.4 771.1 323.6 770.6 323.6 764.9 328.9 760.1 329.9 754.6 329.4 751.6 330.6 748.9 332.9 745.1 332.9 743.4 333.9 741.1 334.4 736.4 334.1 730.9 336.4 728.4 336.4 723.6 334.6 721.6 333.4 717.1 332.6 715.4 331.6 714.6 332.6 709.1 332.6 707.4 334.4 705.9 334.4 703.9 333.4 701.9 333.4 699.4 334.4 697.4 336.1 694.9 337.4 692.6 339.6 690.9 342.4 689.4 343.6 688.4 349.1 685.6 352.9 686.4 356.6 685.4 363.6 685.4 366.9 685.9 368.6 685.9 371.6 686.6 374.4 686.6 378.9 687.4 380.1 689.1 386.9 689.1 391.1 690.9 392.9 692.1 395.6 692.4 400.6 693.4 404.6 694.9 406.9 696.1 410.9 698.4 415.6 700.4 417.9 703.1 423.4 705.4 424.6 706.4 424.6 708.6 425.6 712.6 420.9 717.6 416.9 720.9 415.1 725.9 414.1 731.4 408.1 735.9 405.6 737.9 396.9 740.4 392.6 739.9 389.6 741.1 384.4 744.1 380.9 745.4 377.6 746.9 376.1 748.1 375.6 752.9 375.6 754.9 376.1 758.1 375.6 759.6 376.1 761.1 377.6 762.6 377.9 765.4 376.4 770.6 375.4 771.9 374.4 772.9 371.1 774.4 369.6 775.6 369.1 778.1 369.1 781.4 367.6 782.9 364.4 786.4 361.4 787.6 358.9 791.1 356.9 791.9 354.9 791.9 350.9 792.6 348.9 791.6 346.1 791.9 344.1 793.6 342.4 797.6 340.9 798.6 339.9 798.6 338.9 797.1 336.6 794.4 334.9 792.6 333.1 790.6 333.1 789.1 331.9 787.9 329.1Z" fill="rgb(0, 59, 255)" fill-rule="evenodd"/>
<path d="M692.6 467.1 692.6 469.1 693.6 470.4 728.9 470.4 729.4 469.6 729.4 468.9 727.6 468.1 723.1 463.6 712.1 461.6 706.6 461.9 699.1 463.4 694.1 465.4ZM797.9 337.9 796.4 336.4 793.9 334.9 793.1 333.6 790.6 333.4 788.9 331.9 787.6 328.9 787.1 326.4 783.1 325.9 780.9 324.6 779.1 324.6 776.4 326.6 774.4 326.6 772.1 325.6 770.9 323.9 767.1 326.9 765.4 328.9 764.1 329.4 762.6 329.4 760.1 330.1 756.9 330.1 754.9 329.6 751.9 330.9 750.6 332.1 748.4 333.4 745.9 333.1 743.4 334.4 740.9 334.9 736.6 334.6 736.1 335.1 730.9 336.9 728.4 336.9 723.6 335.1 720.9 333.6 716.4 332.9 715.6 332.4 714.9 332.9 712.1 333.1 709.6 332.9 708.6 333.4 707.6 334.6 705.6 334.6 704.4 333.9 702.4 333.6 699.9 334.6 696.4 337.4 695.1 337.9 693.1 339.9 689.9 344.4 688.9 349.6 687.1 353.4 687.4 357.9 686.9 361.4 686.9 366.9 688.4 375.4 688.4 378.4 690.6 385.1 691.4 390.1 693.4 392.9 696.4 402.6 699.6 407.9 704.4 412.9 707.6 414.4 709.9 414.1 713.6 412.9 722.9 407.9 729.6 400.9 732.1 396.4 733.9 394.1 737.9 385.6 740.9 382.1 743.6 380.4 744.6 377.6 745.6 376.4 748.1 375.1 752.9 375.1 754.9 375.6 757.9 375.1 759.9 375.6 762.1 377.4 766.9 375.4 770.6 374.9 771.4 374.1 771.9 372.1 773.4 369.9 775.9 368.6 777.9 368.9 780.6 367.6 781.4 366.9 782.4 364.4 784.4 362.4 786.1 361.4 787.1 359.1 788.4 357.9 790.9 356.6 791.6 354.9 791.6 350.9 792.4 348.9 791.4 345.9 791.6 344.4 793.6 342.1 795.4 341.6 798.4 339.9Z" fill="rgb(0, 75, 255)" fill-rule="evenodd"/>
<path d="M693.9 467.6 694.1 469.1 695.4 470.4 726.9 470.4 727.6 469.4 727.6 468.6 723.4 464.4 718.9 463.1 713.1 462.4 708.1 462.4 699.9 463.9 695.6 465.6 694.1 466.9ZM797.6 338.1 792.9 333.9 790.6 333.6 788.9 332.1 787.6 329.9 786.9 326.6 783.1 326.1 780.6 324.9 779.4 324.9 777.1 326.6 774.4 326.9 771.9 325.9 770.6 324.4 769.9 325.4 768.1 326.4 765.4 329.1 764.4 329.6 762.4 329.6 760.1 330.4 754.6 330.1 752.1 331.1 748.9 333.6 745.6 333.6 743.1 334.9 740.9 335.4 736.9 335.1 736.4 335.6 731.1 337.4 727.4 337.1 720.9 334.1 715.9 332.9 714.9 333.4 709.4 333.4 708.4 334.6 707.4 335.1 705.6 335.1 703.4 334.1 699.9 335.1 694.4 339.4 691.1 344.9 689.9 350.6 688.6 353.9 688.4 366.6 690.1 377.6 693.6 389.1 695.6 392.1 699.1 399.6 702.9 403.9 706.6 406.1 708.4 406.6 711.4 406.6 714.1 405.9 717.9 404.1 720.6 402.1 726.6 395.6 734.9 384.1 737.6 381.4 741.6 379.1 745.6 375.6 747.9 374.6 752.9 374.6 754.9 375.1 757.9 374.6 759.9 375.1 762.1 376.6 766.6 374.9 770.4 374.4 771.9 370.9 773.6 369.1 776.6 368.1 777.9 368.4 780.6 367.1 782.1 364.1 785.9 360.9 786.9 358.9 787.9 357.9 790.6 356.4 791.4 354.6 791.4 350.9 791.9 350.1 791.9 347.9 791.4 346.9 791.6 344.1 792.1 343.1 793.6 341.9 797.6 340.1 798.1 339.4Z" fill="rgb(0, 91, 255)" fill-rule="evenodd"/>
<path d="M695.1 467.9 695.4 468.9 696.9 470.4 725.1 470.4 726.4 469.1 726.4 468.1 725.4 466.9 722.6 464.6 718.9 463.6 712.9 462.9 708.6 462.9 701.1 464.1 696.9 465.9 695.6 466.9ZM797.4 338.4 792.4 333.9 790.9 333.9 788.6 332.1 787.6 330.6 786.6 326.9 783.6 326.6 780.4 325.1 779.1 325.4 776.4 327.1 773.1 326.9 770.6 325.1 764.4 329.9 762.4 329.9 761.4 330.4 757.6 330.9 754.9 330.4 752.4 331.4 749.1 333.9 745.4 334.1 744.4 334.9 740.9 335.9 738.1 335.9 732.6 337.9 727.4 337.6 720.9 334.6 715.9 333.4 714.4 333.9 709.9 333.6 707.9 335.4 705.4 335.4 703.9 334.6 702.4 334.6 700.4 335.4 695.6 339.6 692.1 345.9 691.1 350.9 690.1 353.6 689.9 366.6 691.9 377.1 696.1 388.6 700.6 395.4 704.1 398.9 707.6 400.6 711.9 400.9 715.1 399.9 719.1 397.4 723.9 392.6 729.9 384.6 734.1 380.1 742.4 375.4 748.1 373.9 753.9 374.4 759.1 374.1 762.9 374.9 765.9 373.9 769.4 373.4 770.9 372.1 771.4 370.9 773.6 368.6 775.6 367.9 777.6 367.9 780.1 366.9 781.9 363.9 785.6 360.6 786.6 358.6 790.6 355.9 791.1 350.9 791.6 350.1 791.6 347.6 791.1 346.4 791.4 344.1 791.9 343.1 793.6 341.6 797.1 340.1 797.6 339.6Z" fill="rgb(0, 107, 255)" fill-rule="evenodd"/>
<path d="M696.6 467.4 696.9 469.1 698.6 470.4 723.9 470.4 725.4 468.9 724.9 466.9 721.9 464.9 713.9 463.4 708.1 463.4 702.1 464.4 697.9 466.1ZM796.9 338.1 792.1 334.1 789.9 333.6 787.9 331.6 786.4 327.1 783.4 326.9 780.1 325.4 776.4 327.4 773.1 327.1 770.4 325.6 765.9 329.4 764.4 330.1 757.9 331.1 754.6 330.9 752.6 331.6 750.4 333.6 748.9 334.4 745.9 334.4 740.9 336.9 732.9 339.4 729.1 339.4 727.1 338.9 719.9 335.1 716.1 333.9 711.9 334.4 709.6 334.1 708.6 335.4 707.1 335.9 702.6 335.1 699.6 337.1 695.4 342.1 693.4 346.1 691.4 354.1 691.4 367.1 693.6 377.1 695.9 382.9 699.4 389.1 702.9 393.1 704.9 394.6 708.4 396.1 712.4 396.1 715.4 395.1 719.4 392.4 723.9 387.6 728.9 381.1 732.4 377.6 738.4 374.4 744.9 372.6 763.4 373.1 768.4 372.1 774.1 367.9 777.9 367.4 780.1 366.4 781.1 364.1 785.1 360.6 786.4 358.4 790.4 355.6 790.9 350.9 791.4 349.9 791.4 347.9 790.9 346.4 791.1 344.1 793.1 341.6 797.4 339.4Z" fill="rgb(0, 125, 255)" fill-rule="evenodd"/>
<path d="M697.9 467.4 697.9 468.6 700.1 470.4 722.4 470.4 723.4 469.9 724.4 468.6 724.1 467.1 722.4 465.6 718.4 464.4 715.1 463.9 707.4 463.9 703.1 464.6 699.6 465.9ZM796.6 338.4 793.4 335.9 792.1 334.4 790.1 334.1 788.1 332.4 786.9 330.1 786.1 327.4 783.1 327.1 780.4 325.9 779.6 325.9 776.4 327.6 772.9 327.4 770.4 326.1 766.6 329.1 764.4 330.4 762.6 330.4 758.4 331.4 754.9 331.1 752.6 332.1 750.6 333.9 748.4 334.9 746.4 335.1 740.4 338.6 733.4 340.9 729.4 340.9 725.9 339.9 721.1 337.1 715.9 334.9 709.9 334.6 708.9 335.6 707.6 336.1 703.1 336.1 701.4 337.1 696.4 342.6 694.4 346.9 692.6 353.9 692.4 364.6 693.6 371.6 695.6 377.9 699.4 385.1 703.6 389.9 705.9 391.4 708.9 392.4 712.1 392.4 713.9 391.9 716.9 390.4 719.1 388.6 730.6 375.6 735.1 372.9 738.1 371.9 744.1 370.9 748.6 370.9 755.1 371.6 763.1 371.6 767.1 370.9 773.1 367.6 779.1 365.6 784.9 360.4 786.6 357.6 789.9 355.6 790.6 350.9 791.1 349.9 791.1 347.9 790.6 346.4 791.1 343.6 793.4 341.1 796.9 339.4Z" fill="rgb(0, 143, 255)" fill-rule="evenodd"/>
<path d="M698.9 467.9 700.1 469.6 701.6 470.4 721.1 470.4 722.9 469.4 723.4 468.6 723.4 467.4 722.1 466.1 720.6 465.4 713.9 464.1 708.6 464.1 703.9 464.9 700.1 466.4ZM796.6 339.1 791.9 334.6 789.6 334.1 787.9 332.4 786.4 329.6 785.9 327.6 782.9 327.4 780.1 326.1 776.6 327.9 772.6 327.6 770.6 326.4 768.1 327.9 766.4 329.6 764.4 330.6 762.6 330.6 758.6 331.6 755.1 331.4 752.9 332.4 750.9 334.1 746.4 336.4 742.4 339.1 739.4 340.6 733.9 342.4 729.4 342.4 724.9 340.9 718.6 337.1 713.6 335.6 709.9 335.6 708.1 336.4 703.1 337.4 701.9 338.1 697.4 343.1 694.9 348.9 693.6 354.6 693.6 365.1 694.9 371.1 696.4 375.6 699.1 381.1 703.4 386.4 707.9 388.9 712.1 389.1 713.9 388.6 718.1 386.1 722.4 381.9 726.6 376.4 729.4 373.6 733.9 370.9 737.1 369.9 742.6 369.1 749.1 369.4 754.6 370.1 763.4 370.1 766.9 369.4 773.4 366.4 778.4 364.9 784.1 360.6 787.1 356.9 789.6 355.4 790.4 350.6 790.9 349.6 790.4 346.4 790.9 343.6 792.9 341.1Z" fill="rgb(0, 162, 255)" fill-rule="evenodd"/>
<path d="M700.1 467.6 700.6 469.1 703.1 470.4 719.6 470.4 722.1 469.1 722.6 468.1 722.1 466.9 720.6 465.9 716.9 464.9 712.4 464.4 707.4 464.6 703.6 465.4 700.9 466.6ZM796.1 338.9 791.6 334.9 789.6 334.4 787.1 331.9 785.6 327.9 785.1 328.1 782.6 327.6 780.6 326.6 779.6 326.6 776.6 328.1 773.9 328.1 770.4 326.9 766.1 330.1 764.4 330.9 755.1 332.1 740.4 341.9 734.4 343.9 729.6 343.9 726.1 342.9 719.4 338.9 715.4 337.1 710.6 336.6 705.4 337.9 702.4 339.1 699.9 341.6 697.6 344.9 695.9 349.1 694.6 355.1 694.6 363.9 695.9 370.1 697.4 374.4 699.4 378.4 701.6 381.6 703.9 383.9 705.6 385.1 708.1 386.1 712.9 386.1 715.4 385.1 717.6 383.6 722.1 379.1 725.4 374.9 728.6 371.6 732.9 369.1 737.1 367.9 741.4 367.4 747.4 367.6 753.6 368.6 764.4 368.6 777.9 363.9 783.6 359.9 786.9 356.6 789.4 354.9 790.6 349.4 790.1 346.1 790.6 343.6 793.1 340.6Z" fill="rgb(0, 180, 255)" fill-rule="evenodd"/>
<path d="M701.1 467.6 701.1 468.4 702.1 469.4 704.6 470.4 718.1 470.4 720.6 469.4 721.6 468.4 721.4 467.1 718.6 465.6 714.6 464.9 708.1 464.9 702.9 466.1ZM794.9 338.6 794.4 337.6 791.9 335.4 789.4 334.6 787.4 332.6 785.6 329.4 785.6 328.6 780.1 327.1 776.9 328.4 773.9 328.4 771.6 327.6 769.1 327.9 765.6 330.6 756.1 332.6 753.6 333.9 741.9 342.6 739.1 344.1 734.9 345.4 729.6 345.4 726.1 344.4 719.1 340.1 716.1 338.6 713.4 337.9 709.9 337.9 706.6 338.6 703.1 340.1 700.9 342.1 698.9 344.9 696.9 349.4 695.6 355.1 695.6 363.1 696.9 369.4 699.9 376.4 703.4 380.9 707.9 383.6 711.9 383.9 714.9 382.9 716.9 381.6 720.6 378.1 724.4 373.4 727.9 369.9 732.9 367.1 740.9 365.6 746.1 365.9 754.6 367.4 759.1 367.6 764.1 367.4 768.1 366.4 777.1 363.1 782.9 359.4 788.6 354.4 789.6 352.6 790.4 349.1 789.9 345.9 790.4 343.6 791.1 342.1 792.9 340.4 794.6 339.4Z" fill="rgb(0, 199, 255)" fill-rule="evenodd"/>
<path d="M702.1 467.9 702.4 468.6 703.4 469.4 706.6 470.4 716.4 470.4 718.4 469.9 720.6 468.4 720.4 467.1 718.6 466.1 713.6 465.1 708.9 465.1 705.9 465.6 703.1 466.6ZM793.6 338.4 791.6 335.6 789.4 334.9 786.9 332.4 785.6 329.9 784.6 329.1 780.9 328.1 778.1 328.1 776.9 328.6 770.1 328.4 768.1 329.1 765.1 331.1 759.6 332.1 756.4 333.4 753.6 334.9 740.6 345.1 735.6 346.9 729.9 346.9 726.9 346.1 723.6 344.6 718.1 340.9 714.6 339.4 712.4 338.9 707.9 339.4 705.6 340.1 702.6 341.9 699.6 345.6 697.9 349.4 696.9 353.6 696.4 358.4 696.6 362.9 697.6 367.9 699.9 373.6 702.4 377.4 704.6 379.6 707.9 381.4 711.9 381.6 713.6 381.1 717.1 379.1 727.4 368.1 731.4 365.9 733.6 365.1 741.1 363.9 744.9 364.1 753.1 365.9 757.6 366.4 763.1 366.4 768.6 365.1 777.4 361.9 782.1 358.9 787.9 353.9 789.6 350.9 790.1 349.1 789.6 345.9 790.1 343.4 793.4 339.6Z" fill="rgb(0, 217, 255)" fill-rule="evenodd"/>
<path d="M703.4 467.4 703.4 468.4 704.1 469.1 709.1 470.4 715.9 470.1 718.4 469.4 719.6 468.4 719.4 467.1 716.4 465.9 712.6 465.4 706.6 465.9ZM792.4 338.1 791.6 336.6 790.6 335.6 788.9 334.9 787.1 333.1 786.1 331.4 784.1 329.9 780.6 328.9 769.9 329.1 765.1 331.4 761.4 332.1 754.6 335.1 747.1 341.1 742.1 345.9 739.1 347.6 736.6 348.4 731.6 348.6 726.9 347.6 722.9 345.6 717.9 342.1 713.9 340.4 709.6 340.1 707.4 340.6 704.1 342.1 702.1 343.9 700.6 345.9 698.4 351.1 697.4 356.9 697.4 360.6 698.6 367.6 701.4 373.6 705.1 377.9 708.1 379.4 711.9 379.6 713.6 379.1 716.6 377.4 720.6 373.4 723.4 369.9 727.4 366.1 730.6 364.4 734.4 363.1 741.9 362.1 745.6 362.6 754.4 364.9 759.6 365.4 764.4 365.1 769.6 363.9 774.9 362.1 782.1 357.9 787.4 353.1 789.9 348.9 789.6 344.6 790.9 341.6 792.1 340.4Z" fill="rgb(0, 230, 242)" fill-rule="evenodd"/>
<path d="M704.4 467.6 704.4 468.1 706.1 469.4 710.4 470.1 716.1 469.6 717.6 469.1 718.6 468.1 717.9 466.9 714.1 465.9 708.6 465.9 706.4 466.4ZM791.4 338.1 790.6 336.9 785.9 332.1 783.4 330.4 780.6 329.6 769.9 329.9 761.1 332.9 754.9 335.9 749.4 340.4 742.4 347.6 739.1 349.6 736.1 350.4 732.1 350.4 726.6 349.1 723.6 347.6 716.9 342.9 713.1 341.4 707.9 341.6 703.4 344.1 701.4 346.6 699.9 349.6 698.4 356.1 698.4 361.4 699.1 365.6 700.1 368.6 703.1 373.9 706.6 376.9 710.4 377.9 713.1 377.4 715.9 375.9 719.9 372.1 722.4 368.9 726.1 365.1 730.9 362.4 738.1 360.4 743.1 360.4 753.9 363.6 760.1 364.4 764.4 364.1 769.1 363.1 775.1 361.1 782.1 356.9 786.4 353.1 789.1 348.6 789.4 344.6 789.9 342.9 791.1 341.1Z" fill="rgb(0, 242, 227)" fill-rule="evenodd"/>
<path d="M705.6 467.6 706.1 468.6 709.1 469.6 713.9 469.6 716.1 469.1 717.4 468.4 717.4 467.6 716.9 467.1 712.9 466.1 708.4 466.4ZM790.4 338.4 788.9 336.1 786.1 333.4 782.4 330.9 780.4 330.4 769.6 330.6 760.4 333.9 755.1 336.6 748.9 342.1 743.6 348.6 740.9 351.4 737.6 352.9 732.9 352.6 727.9 351.4 723.9 349.4 715.4 343.4 711.4 342.4 708.6 342.6 704.9 344.4 702.6 346.6 700.9 349.6 699.4 355.4 699.4 361.6 700.1 365.4 702.4 370.6 705.4 374.1 708.9 375.9 712.1 375.9 714.6 374.9 716.4 373.6 719.6 370.4 723.9 365.1 727.4 362.1 731.1 360.1 738.4 357.6 742.1 357.9 750.4 361.4 757.1 363.1 763.1 363.4 770.6 361.9 774.9 360.4 778.6 358.4 783.4 354.9 786.4 351.9 788.4 348.4 789.1 346.1 789.1 344.6 790.4 340.4Z" fill="rgb(0, 253, 212)" fill-rule="evenodd"/>
<path d="M707.1 467.6 707.6 468.6 709.1 469.1 713.9 469.1 716.1 468.1 715.4 467.1 713.4 466.6 709.4 466.6ZM709.6 343.6 707.6 344.1 705.4 345.4 702.4 348.9 700.6 353.6 700.1 359.6 700.6 363.4 701.6 366.6 703.9 370.6 707.4 373.6 708.9 374.1 712.1 374.1 715.6 372.4 719.4 368.6 724.4 362.4 729.9 357.1 730.1 355.9 729.1 354.6 725.1 352.1 716.1 345.1 713.1 343.9ZM789.4 338.4 786.4 334.6 783.9 332.6 781.4 331.4 777.4 330.9 772.4 330.9 764.6 332.9 755.6 337.1 749.6 342.6 744.9 349.4 743.4 352.9 743.4 354.6 744.9 356.6 748.1 358.9 751.1 360.4 755.6 361.9 758.6 362.4 764.6 362.4 772.1 360.6 778.9 357.4 783.1 354.1 785.6 351.6 787.1 349.4 788.4 346.1 789.4 341.6Z" fill="rgb(0, 255, 177)" fill-rule="evenodd"/>
<path d="M708.9 467.6 708.9 468.1 709.9 468.6 713.1 468.6 714.1 468.1 714.1 467.6 712.6 467.1 710.4 467.1ZM709.6 344.9 705.6 346.6 703.1 349.6 701.4 354.6 701.1 360.4 702.4 365.6 705.1 370.1 707.9 372.1 711.1 372.6 714.1 371.6 718.1 368.1 724.4 359.6 725.1 358.1 725.4 356.4 724.9 354.9 722.6 352.1 717.4 347.4 713.1 345.1ZM788.4 338.6 787.1 336.6 784.6 334.1 781.9 332.4 780.1 331.9 770.9 331.6 762.9 334.1 756.1 337.6 750.1 343.4 746.6 349.1 745.9 351.4 746.1 354.4 747.4 356.4 749.9 358.4 753.4 360.1 756.6 361.1 759.6 361.6 764.1 361.6 772.1 359.9 778.4 356.9 782.4 353.9 784.9 351.4 786.1 349.6 787.6 346.1 788.6 340.6Z" fill="rgb(0, 255, 139)" fill-rule="evenodd"/>
<path d="M709.9 346.1 706.6 347.4 703.6 350.9 702.1 356.1 702.1 360.4 702.9 363.9 705.1 368.1 707.9 370.4 709.4 370.9 711.6 370.9 715.1 369.1 719.4 364.4 722.1 359.6 722.6 356.1 720.9 352.6 716.6 348.4 713.6 346.6ZM787.1 338.1 783.6 334.4 781.6 333.1 778.9 332.4 770.4 332.4 762.6 334.9 755.6 338.9 750.6 344.1 748.4 348.1 747.6 350.4 747.6 353.1 748.1 354.6 750.6 357.4 754.1 359.4 758.6 360.6 766.1 360.6 774.1 358.4 780.4 354.6 784.4 350.9 786.6 346.9 787.6 342.9 787.6 339.4Z" fill="rgb(0, 255, 101)" fill-rule="evenodd"/>
<path d="M709.4 347.6 707.1 348.6 704.4 351.9 703.1 356.4 703.1 359.9 704.1 363.9 705.9 366.9 708.6 368.9 711.6 369.1 714.4 367.9 717.9 364.1 719.9 360.6 720.6 356.6 719.1 352.9 716.1 349.6 713.1 347.9ZM786.1 338.1 783.4 335.1 781.9 334.1 777.4 332.9 771.1 332.9 762.9 335.4 756.4 339.1 751.1 344.9 749.1 349.4 748.9 351.6 749.6 354.4 751.9 356.9 756.1 359.1 759.1 359.9 766.4 359.9 773.6 357.9 777.9 355.6 780.6 353.6 784.9 348.9 786.4 345.1 786.9 342.6 786.9 340.1Z" fill="rgb(0, 255, 63)" fill-rule="evenodd"/>
<path d="M709.4 349.1 707.1 350.4 705.1 353.1 704.4 355.6 704.4 360.6 705.6 364.1 707.9 366.6 709.6 367.4 711.6 367.4 714.1 366.1 717.1 362.6 718.6 359.1 718.6 355.9 717.9 353.9 715.1 350.6 712.1 349.1ZM785.1 338.1 781.6 334.9 780.1 334.1 776.1 333.4 771.6 333.4 763.1 335.9 757.1 339.4 752.6 344.1 750.4 348.9 750.1 351.4 750.6 353.4 751.9 355.4 753.6 356.9 756.6 358.4 759.4 359.1 766.6 359.1 773.1 357.4 776.6 355.6 779.9 353.4 782.4 351.1 783.9 349.1 785.1 346.6 786.1 342.4 785.9 339.6Z" fill="rgb(16, 255, 36)" fill-rule="evenodd"/>
<path d="M709.4 350.9 706.9 352.9 705.9 354.9 705.6 360.1 706.6 362.9 708.1 364.6 709.6 365.4 711.6 365.4 713.9 364.1 715.9 361.6 716.9 358.9 716.9 356.4 715.9 353.9 714.1 351.9 712.1 350.9ZM784.6 338.9 781.4 335.6 776.9 334.1 770.9 334.1 763.4 336.4 757.9 339.6 755.1 342.1 753.4 344.4 752.1 346.6 751.4 349.1 751.6 352.6 753.1 355.1 754.6 356.4 759.6 358.4 765.4 358.6 769.6 357.9 773.9 356.4 777.1 354.6 780.1 352.4 783.4 348.6 785.1 344.1 785.1 340.1Z" fill="rgb(56, 255, 25)" fill-rule="evenodd"/>
<path d="M710.1 352.9 709.1 353.4 707.6 355.1 707.1 356.6 707.1 359.1 708.1 361.6 709.1 362.6 710.9 363.1 712.4 362.6 713.9 361.1 714.9 358.9 714.9 356.6 713.4 353.9 711.4 352.9ZM783.6 338.9 780.4 335.9 775.9 334.6 769.9 334.9 763.1 337.1 757.6 340.6 754.1 344.6 752.4 349.1 752.9 352.9 753.9 354.4 756.4 356.4 761.1 357.9 767.9 357.6 772.9 356.1 777.9 353.4 781.9 349.6 782.9 348.1 784.4 344.1 784.4 340.9Z" fill="rgb(96, 255, 14)" fill-rule="evenodd"/>
<path d="M782.6 338.9 780.9 337.1 779.1 336.1 774.1 335.1 769.1 335.6 763.4 337.6 758.6 340.6 755.4 344.1 753.6 347.6 753.6 351.9 754.4 353.4 756.1 355.1 758.4 356.4 761.1 357.1 766.9 357.1 773.1 355.4 776.4 353.6 779.6 351.1 782.4 347.6 783.6 343.9 783.6 341.4Z" fill="rgb(137, 255, 4)" fill-rule="evenodd"/>
<path d="M782.4 340.1 779.9 337.4 775.4 335.9 770.9 335.9 765.4 337.4 760.6 339.9 756.6 343.6 754.6 347.4 754.6 351.6 756.6 354.4 761.1 356.4 765.6 356.6 772.1 355.1 777.1 352.4 780.4 349.4 782.6 344.9 782.9 341.9Z" fill="rgb(174, 255, 0)" fill-rule="evenodd"/>
<path d="M781.4 340.1 779.1 337.9 775.9 336.6 771.9 336.4 765.6 337.9 760.6 340.6 757.1 344.1 755.4 347.9 755.6 351.4 756.1 352.4 758.6 354.6 762.6 355.9 768.4 355.6 772.4 354.4 777.1 351.6 780.9 347.4 781.9 344.9 781.9 341.4Z" fill="rgb(209, 255, 0)" fill-rule="evenodd"/>
<path d="M780.4 340.1 778.9 338.6 774.9 337.1 770.6 337.1 765.4 338.6 761.4 340.9 758.4 343.6 756.4 347.6 756.6 351.1 758.4 353.4 760.6 354.6 762.6 355.1 767.4 355.1 772.6 353.6 777.6 350.4 779.9 347.6 781.1 344.6 781.1 342.1Z" fill="rgb(244, 255, 0)" fill-rule="evenodd"/>
<path d="M779.6 340.6 778.1 339.1 776.6 338.4 773.4 337.6 769.9 337.9 765.6 339.1 761.4 341.6 758.4 344.9 757.4 347.1 757.4 350.4 758.9 352.6 762.6 354.4 766.1 354.6 771.6 353.4 776.6 350.4 778.9 347.9 780.4 343.9Z" fill="rgb(255, 234, 0)" fill-rule="evenodd"/>
<path d="M778.6 340.9 777.4 339.6 773.9 338.4 769.4 338.6 764.9 340.1 762.1 341.9 758.9 345.6 758.1 348.1 758.4 350.1 758.9 351.1 760.9 352.9 764.4 353.9 768.6 353.6 772.9 352.1 775.9 350.1 778.6 346.9 779.4 344.6 779.4 342.6Z" fill="rgb(255, 203, 0)" fill-rule="evenodd"/>
<path d="M778.1 341.9 776.9 340.4 773.6 339.1 770.1 339.1 765.9 340.4 762.9 342.1 760.6 344.4 759.4 346.9 759.4 349.6 761.4 352.1 764.6 353.1 768.9 352.9 771.9 351.9 775.1 349.9 777.4 347.4 778.4 345.1Z" fill="rgb(255, 172, 0)" fill-rule="evenodd"/>
<path d="M776.9 341.9 775.9 340.9 773.4 339.9 769.9 339.9 766.4 340.9 763.1 342.9 761.1 345.1 760.4 346.9 760.6 349.9 762.1 351.4 765.1 352.4 767.4 352.4 770.6 351.6 774.9 349.1 776.9 346.6 777.4 345.4 777.4 342.9Z" fill="rgb(255, 141, 0)" fill-rule="evenodd"/>
<path d="M775.9 342.4 775.1 341.6 772.6 340.6 770.1 340.6 767.1 341.4 764.4 342.9 762.4 344.9 761.4 347.1 761.6 349.1 762.9 350.6 764.6 351.4 766.6 351.6 771.1 350.6 773.6 349.1 775.4 347.4 776.4 345.1Z" fill="rgb(255, 109, 0)" fill-rule="evenodd"/>
<path d="M774.9 343.1 772.6 341.6 769.1 341.6 766.9 342.4 764.9 343.6 763.1 345.6 762.6 347.1 762.9 348.6 763.6 349.6 765.9 350.6 770.1 350.1 772.9 348.6 774.1 347.4 775.1 345.4Z" fill="rgb(255, 77, 0)" fill-rule="evenodd"/>
<path d="M773.4 343.6 771.4 342.6 767.6 343.1 765.6 344.4 764.6 345.6 764.1 346.9 764.4 348.1 766.1 349.4 769.9 349.1 772.1 347.9 773.4 346.4Z" fill="rgb(255, 44, 0)" fill-rule="evenodd"/>
<path d="M771.4 344.6 770.4 344.1 768.4 344.4 766.6 345.6 766.4 347.1 767.4 347.9 769.9 347.6 771.4 346.4Z" fill="rgb(253, 17, 0)" fill-rule="evenodd"/></g>
<path d="M179 39 H370 V229" stroke="#888" stroke-width="1.4" fill="none"/>
<path d="M179 39 V229 H370" stroke="#111" stroke-width="1.6" fill="none"/>
<path d="M174.5 56.5 H179 M174.5 98.5 H179 M174.5 143.0 H179 M174.5 188.5 H179 M174.5 208.5 H179 M174.5 228.0 H179 M176.8 85.9 H179 M176.8 78.5 H179 M176.8 73.2 H179 M176.8 69.1 H179 M176.8 65.8 H179 M176.8 63.0 H179 M176.8 60.6 H179 M176.8 58.4 H179 M176.8 129.6 H179 M176.8 121.8 H179 M176.8 116.2 H179 M176.8 111.9 H179 M176.8 108.4 H179 M176.8 105.4 H179 M176.8 102.8 H179 M176.8 100.5 H179 M176.8 174.8 H179 M176.8 166.8 H179 M176.8 161.1 H179 M176.8 156.7 H179 M176.8 153.1 H179 M176.8 150.0 H179 M176.8 147.4 H179 M176.8 145.1 H179 " stroke="#111" stroke-width="1"/>
<path d="M180.0 229 V233.5 M198.2 229 V233.5 M218.8 229 V233.5 M265.4 229 V233.5 M308.7 229 V233.5 M350.9 229 V233.5 M232.8 229 V231.2 M241.0 229 V231.2 M246.9 229 V231.2 M251.4 229 V231.2 M255.1 229 V231.2 M258.2 229 V231.2 M260.9 229 V231.2 M263.3 229 V231.2 M278.4 229 V231.2 M286.1 229 V231.2 M291.5 229 V231.2 M295.7 229 V231.2 M299.1 229 V231.2 M302.0 229 V231.2 M304.5 229 V231.2 M306.7 229 V231.2 M321.4 229 V231.2 M328.8 229 V231.2 M334.1 229 V231.2 M338.2 229 V231.2 M341.5 229 V231.2 M344.4 229 V231.2 M346.8 229 V231.2 M349.0 229 V231.2 M185.5 229 V231.2 M188.7 229 V231.2 M191.0 229 V231.2 M192.7 229 V231.2 M194.2 229 V231.2 M195.4 229 V231.2 M196.4 229 V231.2 M197.4 229 V231.2 " stroke="#111" stroke-width="1"/>
<path d="M198.2 229 V95 L249.9 83.7" stroke="#e23de2" stroke-width="1.1" fill="none"/>
<polygon points="249.9,83.7 311.0,56.6 346.0,138.1 283.2,172.1" stroke="#e23de2" stroke-width="1.1" fill="none"/>
<path d="M283.2 172.1 L304.6 229" stroke="#e23de2" stroke-width="1.1" fill="none"/>
<text x="368.2" y="68.8" font-size="23" text-anchor="end">48.8</text>
<text x="361.3" y="216" font-size="23" text-anchor="end">51.3</text>
<path d="M415 39 H606 V229" stroke="#888" stroke-width="1.4" fill="none"/>
<path d="M415 39 V229 H606" stroke="#111" stroke-width="1.6" fill="none"/>
<path d="M410.5 56.5 H415 M410.5 98.5 H415 M410.5 143.0 H415 M410.5 188.5 H415 M410.5 208.5 H415 M410.5 228.0 H415 M412.8 85.9 H415 M412.8 78.5 H415 M412.8 73.2 H415 M412.8 69.1 H415 M412.8 65.8 H415 M412.8 63.0 H415 M412.8 60.6 H415 M412.8 58.4 H415 M412.8 129.6 H415 M412.8 121.8 H415 M412.8 116.2 H415 M412.8 111.9 H415 M412.8 108.4 H415 M412.8 105.4 H415 M412.8 102.8 H415 M412.8 100.5 H415 M412.8 174.8 H415 M412.8 166.8 H415 M412.8 161.1 H415 M412.8 156.7 H415 M412.8 153.1 H415 M412.8 150.0 H415 M412.8 147.4 H415 M412.8 145.1 H415 " stroke="#111" stroke-width="1"/>
<path d="M416.0 229 V233.5 M434.2 229 V233.5 M454.8 229 V233.5 M501.4 229 V233.5 M544.7 229 V233.5 M586.9 229 V233.5 M468.8 229 V231.2 M477.0 229 V231.2 M482.9 229 V231.2 M487.4 229 V231.2 M491.1 229 V231.2 M494.2 229 V231.2 M496.9 229 V231.2 M499.3 229 V231.2 M514.4 229 V231.2 M522.1 229 V231.2 M527.5 229 V231.2 M531.7 229 V231.2 M535.1 229 V231.2 M538.0 229 V231.2 M540.5 229 V231.2 M542.7 229 V231.2 M557.4 229 V231.2 M564.8 229 V231.2 M570.1 229 V231.2 M574.2 229 V231.2 M577.5 229 V231.2 M580.4 229 V231.2 M582.8 229 V231.2 M585.0 229 V231.2 M421.5 229 V231.2 M424.7 229 V231.2 M427.0 229 V231.2 M428.7 229 V231.2 M430.2 229 V231.2 M431.4 229 V231.2 M432.4 229 V231.2 M433.4 229 V231.2 " stroke="#111" stroke-width="1"/>
<path d="M434.2 229 V95 L485.9 83.7" stroke="#e23de2" stroke-width="1.1" fill="none"/>
<polygon points="485.9,83.7 547.0,56.6 582.0,138.1 519.2,172.1" stroke="#e23de2" stroke-width="1.1" fill="none"/>
<path d="M519.2 172.1 L540.6 229" stroke="#e23de2" stroke-width="1.1" fill="none"/>
<text x="603.4000000000001" y="68.8" font-size="23" text-anchor="end">49.2</text>
<text x="596.8" y="216" font-size="23" text-anchor="end">50.8</text>
<path d="M653 39 H844 V229" stroke="#888" stroke-width="1.4" fill="none"/>
<path d="M653 39 V229 H844" stroke="#111" stroke-width="1.6" fill="none"/>
<path d="M648.5 56.5 H653 M648.5 98.5 H653 M648.5 143.0 H653 M648.5 188.5 H653 M648.5 208.5 H653 M648.5 228.0 H653 M650.8 85.9 H653 M650.8 78.5 H653 M650.8 73.2 H653 M650.8 69.1 H653 M650.8 65.8 H653 M650.8 63.0 H653 M650.8 60.6 H653 M650.8 58.4 H653 M650.8 129.6 H653 M650.8 121.8 H653 M650.8 116.2 H653 M650.8 111.9 H653 M650.8 108.4 H653 M650.8 105.4 H653 M650.8 102.8 H653 M650.8 100.5 H653 M650.8 174.8 H653 M650.8 166.8 H653 M650.8 161.1 H653 M650.8 156.7 H653 M650.8 153.1 H653 M650.8 150.0 H653 M650.8 147.4 H653 M650.8 145.1 H653 " stroke="#111" stroke-width="1"/>
<path d="M654.0 229 V233.5 M672.2 229 V233.5 M692.8 229 V233.5 M739.4 229 V233.5 M782.7 229 V233.5 M824.9 229 V233.5 M706.8 229 V231.2 M715.0 229 V231.2 M720.9 229 V231.2 M725.4 229 V231.2 M729.1 229 V231.2 M732.2 229 V231.2 M734.9 229 V231.2 M737.3 229 V231.2 M752.4 229 V231.2 M760.1 229 V231.2 M765.5 229 V231.2 M769.7 229 V231.2 M773.1 229 V231.2 M776.0 229 V231.2 M778.5 229 V231.2 M780.7 229 V231.2 M795.4 229 V231.2 M802.8 229 V231.2 M808.1 229 V231.2 M812.2 229 V231.2 M815.5 229 V231.2 M818.4 229 V231.2 M820.8 229 V231.2 M823.0 229 V231.2 M659.5 229 V231.2 M662.7 229 V231.2 M665.0 229 V231.2 M666.7 229 V231.2 M668.2 229 V231.2 M669.4 229 V231.2 M670.4 229 V231.2 M671.4 229 V231.2 " stroke="#111" stroke-width="1"/>
<path d="M672.2 229 V95 L723.9 83.7" stroke="#e23de2" stroke-width="1.1" fill="none"/>
<polygon points="723.9,83.7 785.0,56.6 820.0,138.1 757.2,172.1" stroke="#e23de2" stroke-width="1.1" fill="none"/>
<path d="M757.2 172.1 L778.6 229" stroke="#e23de2" stroke-width="1.1" fill="none"/>
<text x="839.2" y="68.8" font-size="23" text-anchor="end">61.4</text>
<text x="832.8" y="216" font-size="23" text-anchor="end">38.6</text>
<path d="M178 280.5 H369 V470.5" stroke="#888" stroke-width="1.4" fill="none"/>
<path d="M178 280.5 V470.5 H369" stroke="#111" stroke-width="1.6" fill="none"/>
<path d="M173.5 298.0 H178 M173.5 340.0 H178 M173.5 384.5 H178 M173.5 430.0 H178 M173.5 450.0 H178 M173.5 469.5 H178 M175.8 327.4 H178 M175.8 320.0 H178 M175.8 314.7 H178 M175.8 310.6 H178 M175.8 307.3 H178 M175.8 304.5 H178 M175.8 302.1 H178 M175.8 299.9 H178 M175.8 371.1 H178 M175.8 363.3 H178 M175.8 357.7 H178 M175.8 353.4 H178 M175.8 349.9 H178 M175.8 346.9 H178 M175.8 344.3 H178 M175.8 342.0 H178 M175.8 416.3 H178 M175.8 408.3 H178 M175.8 402.6 H178 M175.8 398.2 H178 M175.8 394.6 H178 M175.8 391.5 H178 M175.8 388.9 H178 M175.8 386.6 H178 " stroke="#111" stroke-width="1"/>
<path d="M179.0 470.5 V475.0 M197.2 470.5 V475.0 M217.8 470.5 V475.0 M264.4 470.5 V475.0 M307.7 470.5 V475.0 M349.9 470.5 V475.0 M231.8 470.5 V472.7 M240.0 470.5 V472.7 M245.9 470.5 V472.7 M250.4 470.5 V472.7 M254.1 470.5 V472.7 M257.2 470.5 V472.7 M259.9 470.5 V472.7 M262.3 470.5 V472.7 M277.4 470.5 V472.7 M285.1 470.5 V472.7 M290.5 470.5 V472.7 M294.7 470.5 V472.7 M298.1 470.5 V472.7 M301.0 470.5 V472.7 M303.5 470.5 V472.7 M305.7 470.5 V472.7 M320.4 470.5 V472.7 M327.8 470.5 V472.7 M333.1 470.5 V472.7 M337.2 470.5 V472.7 M340.5 470.5 V472.7 M343.4 470.5 V472.7 M345.8 470.5 V472.7 M348.0 470.5 V472.7 M184.5 470.5 V472.7 M187.7 470.5 V472.7 M190.0 470.5 V472.7 M191.7 470.5 V472.7 M193.2 470.5 V472.7 M194.4 470.5 V472.7 M195.4 470.5 V472.7 M196.4 470.5 V472.7 " stroke="#111" stroke-width="1"/>
<path d="M197.2 470.5 V336.5 L248.9 325.2" stroke="#e23de2" stroke-width="1.1" fill="none"/>
<polygon points="248.9,325.2 310.0,298.1 345.0,379.6 282.2,413.6" stroke="#e23de2" stroke-width="1.1" fill="none"/>
<path d="M282.2 413.6 L303.6 470.5" stroke="#e23de2" stroke-width="1.1" fill="none"/>
<text x="367.2" y="309.5" font-size="23" text-anchor="end">27.3</text>
<text x="360.3" y="457.5" font-size="23" text-anchor="end">72.9</text>
<path d="M415 280.5 H606 V470.5" stroke="#888" stroke-width="1.4" fill="none"/>
<path d="M415 280.5 V470.5 H606" stroke="#111" stroke-width="1.6" fill="none"/>
<path d="M410.5 298.0 H415 M410.5 340.0 H415 M410.5 384.5 H415 M410.5 430.0 H415 M410.5 450.0 H415 M410.5 469.5 H415 M412.8 327.4 H415 M412.8 320.0 H415 M412.8 314.7 H415 M412.8 310.6 H415 M412.8 307.3 H415 M412.8 304.5 H415 M412.8 302.1 H415 M412.8 299.9 H415 M412.8 371.1 H415 M412.8 363.3 H415 M412.8 357.7 H415 M412.8 353.4 H415 M412.8 349.9 H415 M412.8 346.9 H415 M412.8 344.3 H415 M412.8 342.0 H415 M412.8 416.3 H415 M412.8 408.3 H415 M412.8 402.6 H415 M412.8 398.2 H415 M412.8 394.6 H415 M412.8 391.5 H415 M412.8 388.9 H415 M412.8 386.6 H415 " stroke="#111" stroke-width="1"/>
<path d="M416.0 470.5 V475.0 M434.2 470.5 V475.0 M454.8 470.5 V475.0 M501.4 470.5 V475.0 M544.7 470.5 V475.0 M586.9 470.5 V475.0 M468.8 470.5 V472.7 M477.0 470.5 V472.7 M482.9 470.5 V472.7 M487.4 470.5 V472.7 M491.1 470.5 V472.7 M494.2 470.5 V472.7 M496.9 470.5 V472.7 M499.3 470.5 V472.7 M514.4 470.5 V472.7 M522.1 470.5 V472.7 M527.5 470.5 V472.7 M531.7 470.5 V472.7 M535.1 470.5 V472.7 M538.0 470.5 V472.7 M540.5 470.5 V472.7 M542.7 470.5 V472.7 M557.4 470.5 V472.7 M564.8 470.5 V472.7 M570.1 470.5 V472.7 M574.2 470.5 V472.7 M577.5 470.5 V472.7 M580.4 470.5 V472.7 M582.8 470.5 V472.7 M585.0 470.5 V472.7 M421.5 470.5 V472.7 M424.7 470.5 V472.7 M427.0 470.5 V472.7 M428.7 470.5 V472.7 M430.2 470.5 V472.7 M431.4 470.5 V472.7 M432.4 470.5 V472.7 M433.4 470.5 V472.7 " stroke="#111" stroke-width="1"/>
<path d="M434.2 470.5 V336.5 L485.9 325.2" stroke="#e23de2" stroke-width="1.1" fill="none"/>
<polygon points="485.9,325.2 547.0,298.1 582.0,379.6 519.2,413.6" stroke="#e23de2" stroke-width="1.1" fill="none"/>
<path d="M519.2 413.6 L540.6 470.5" stroke="#e23de2" stroke-width="1.1" fill="none"/>
<text x="603.4000000000001" y="309.5" font-size="23" text-anchor="end">55.4</text>
<text x="596.8" y="457.5" font-size="23" text-anchor="end">44.6</text>
<path d="M653 280.5 H844 V470.5" stroke="#888" stroke-width="1.4" fill="none"/>
<path d="M653 280.5 V470.5 H844" stroke="#111" stroke-width="1.6" fill="none"/>
<path d="M648.5 298.0 H653 M648.5 340.0 H653 M648.5 384.5 H653 M648.5 430.0 H653 M648.5 450.0 H653 M648.5 469.5 H653 M650.8 327.4 H653 M650.8 320.0 H653 M650.8 314.7 H653 M650.8 310.6 H653 M650.8 307.3 H653 M650.8 304.5 H653 M650.8 302.1 H653 M650.8 299.9 H653 M650.8 371.1 H653 M650.8 363.3 H653 M650.8 357.7 H653 M650.8 353.4 H653 M650.8 349.9 H653 M650.8 346.9 H653 M650.8 344.3 H653 M650.8 342.0 H653 M650.8 416.3 H653 M650.8 408.3 H653 M650.8 402.6 H653 M650.8 398.2 H653 M650.8 394.6 H653 M650.8 391.5 H653 M650.8 388.9 H653 M650.8 386.6 H653 " stroke="#111" stroke-width="1"/>
<path d="M654.0 470.5 V475.0 M672.2 470.5 V475.0 M692.8 470.5 V475.0 M739.4 470.5 V475.0 M782.7 470.5 V475.0 M824.9 470.5 V475.0 M706.8 470.5 V472.7 M715.0 470.5 V472.7 M720.9 470.5 V472.7 M725.4 470.5 V472.7 M729.1 470.5 V472.7 M732.2 470.5 V472.7 M734.9 470.5 V472.7 M737.3 470.5 V472.7 M752.4 470.5 V472.7 M760.1 470.5 V472.7 M765.5 470.5 V472.7 M769.7 470.5 V472.7 M773.1 470.5 V472.7 M776.0 470.5 V472.7 M778.5 470.5 V472.7 M780.7 470.5 V472.7 M795.4 470.5 V472.7 M802.8 470.5 V472.7 M808.1 470.5 V472.7 M812.2 470.5 V472.7 M815.5 470.5 V472.7 M818.4 470.5 V472.7 M820.8 470.5 V472.7 M823.0 470.5 V472.7 M659.5 470.5 V472.7 M662.7 470.5 V472.7 M665.0 470.5 V472.7 M666.7 470.5 V472.7 M668.2 470.5 V472.7 M669.4 470.5 V472.7 M670.4 470.5 V472.7 M671.4 470.5 V472.7 " stroke="#111" stroke-width="1"/>
<path d="M672.2 470.5 V336.5 L723.9 325.2" stroke="#e23de2" stroke-width="1.1" fill="none"/>
<polygon points="723.9,325.2 785.0,298.1 820.0,379.6 757.2,413.6" stroke="#e23de2" stroke-width="1.1" fill="none"/>
<path d="M757.2 413.6 L778.6 470.5" stroke="#e23de2" stroke-width="1.1" fill="none"/>
<text x="839.2" y="309.5" font-size="23" text-anchor="end">57.4</text>
<text x="832.8" y="457.5" font-size="23" text-anchor="end">42.8</text>
<text x="12" y="604.9" font-size="39" font-weight="bold">b</text>
<text x="294" y="607.6" font-size="23" text-anchor="middle"><tspan font-style="italic">P</tspan> = 0.0067</text>
<path d="M223.8 647 V630.4 H367.4 V647" stroke="#000" stroke-width="2.3" fill="none"/>
<path d="M155 672.8 V876.7 H436 M148 672.8 H155 M148 724 H155 M148 775.6 H155 M148 826.3 H155 M148 876.7 H155 M225.6 876.7 V884 M366.2 876.7 V884" stroke="#000" stroke-width="2.3" fill="none"/>
<text x="136" y="681" font-size="23" text-anchor="end">1.50</text>
<text x="136" y="732.2" font-size="23" text-anchor="end">1.25</text>
<text x="136" y="783.8" font-size="23" text-anchor="end">1.00</text>
<text x="136" y="834.5" font-size="23" text-anchor="end">0.75</text>
<text x="136" y="885" font-size="23" text-anchor="end">0.50</text>
<text x="33" y="774.3" font-size="23.5" text-anchor="middle" transform="rotate(-90 33 774.3)">Fold increase in <tspan font-style="italic">T</tspan><tspan dy="-10.5" font-size="17">EM</tspan></text>
<text x="61.8" y="775.3" font-size="23" text-anchor="middle" transform="rotate(-90 61.8 775.3)">(FasL / vehicle)</text>
<path d="M178.8 766.7 H272.6 M201.4 743 H249.8 M201.4 790.7 H249.8 M225.6 743 V790.7" stroke="#000" stroke-width="2" fill="none"/>
<circle cx="225.6" cy="736.5" r="5.6" fill="#000"/>
<circle cx="200.2" cy="751.9" r="5.6" fill="#000"/>
<circle cx="250.9" cy="752.8" r="5.6" fill="#000"/>
<circle cx="217.4" cy="760.9" r="5.6" fill="#000"/>
<circle cx="234" cy="769.1" r="5.6" fill="#000"/>
<circle cx="234" cy="795.8" r="5.6" fill="#000"/>
<circle cx="217.4" cy="802.8" r="5.6" fill="#000"/>
<path d="M319.5 704.1 H413 M342.5 676 H390 M342.5 732.2 H390 M366.2 676 V732.2" stroke="#000" stroke-width="2" fill="none"/>
<circle cx="366.2" cy="674.8" r="5.4" fill="none" stroke="#000" stroke-width="2"/>
<circle cx="366.2" cy="708.7" r="5.4" fill="none" stroke="#000" stroke-width="2"/>
<circle cx="366.2" cy="730.2" r="5.4" fill="none" stroke="#000" stroke-width="2"/>
<text x="225.7" y="922.2" font-size="23" text-anchor="middle">ALPS</text>
<text x="366" y="922.2" font-size="23" text-anchor="middle">CTRL</text>
<text x="510" y="605.3" font-size="39" font-weight="bold">c</text>
<text x="784.6" y="593.8" font-size="23" text-anchor="middle"><tspan font-style="italic">P</tspan> = 0.0047</text>
<path d="M704.8 634.4 V617.1 H865.5 V634.4" stroke="#000" stroke-width="2.3" fill="none"/>
<path d="M631.5 667 V876.8 H946 M623.3 682.8 H631.5 M623.3 723.4 H631.5 M623.3 763.7 H631.5 M623.3 803.9 H631.5 M623.3 844.1 H631.5 M709.9 876.8 V885 M867.4 876.8 V885" stroke="#000" stroke-width="2.3" fill="none"/>
<text x="606.5" y="690.7" font-size="23" text-anchor="end">100</text>
<text x="606.5" y="730.7" font-size="23" text-anchor="end">75</text>
<text x="606.5" y="770.7" font-size="23" text-anchor="end">50</text>
<text x="606.5" y="811.3" font-size="23" text-anchor="end">25</text>
<text x="606.5" y="851.7" font-size="23" text-anchor="end">0</text>
<text x="538" y="771.6" font-size="23" text-anchor="middle" transform="rotate(-90 538 771.6)">Specific cell</text>
<text x="566.6" y="771.6" font-size="23.3" text-anchor="middle" transform="rotate(-90 566.6 771.6)">death (%)</text>
<path d="M633 844.2 H922" stroke="#000" stroke-width="2" stroke-dasharray="3.2 2.6" fill="none"/>
<path d="M925 867.6 H946" stroke="#000" stroke-width="2" stroke-dasharray="3.2 2.6" fill="none"/>
<path d="M657.5 811.1 H762.4 M683.3 788 H737 M683.3 834.1 H737 M709.9 788 V834.1" stroke="#000" stroke-width="2" fill="none"/>
<circle cx="694.5" cy="790" r="5.6" fill="#000"/>
<circle cx="709.9" cy="785.3" r="5.6" fill="#000"/>
<circle cx="725.8" cy="800.5" r="5.6" fill="#000"/>
<circle cx="709.9" cy="805" r="5.6" fill="#000"/>
<circle cx="702.1" cy="818.7" r="5.6" fill="#000"/>
<circle cx="718" cy="827.6" r="5.6" fill="#000"/>
<circle cx="709.9" cy="850.8" r="5.6" fill="#000"/>
<path d="M815.2 727.8 H919.7 M840.4 679.6 H894.5 M840.4 775.7 H894.5 M867.4 679.6 V775.7" stroke="#000" stroke-width="2" fill="none"/>
<circle cx="859.3" cy="692.6" r="5.3" fill="#fff" stroke="#000" stroke-width="2"/>
<circle cx="875.2" cy="708" r="5.3" fill="#fff" stroke="#000" stroke-width="2"/>
<circle cx="867.4" cy="782.5" r="5.3" fill="#fff" stroke="#000" stroke-width="2"/>
<text x="710.5" y="922" font-size="23" text-anchor="middle">ALPS</text>
<text x="868" y="922" font-size="23" text-anchor="middle">CTRL</text>
<text x="12" y="1004.9" font-size="39" font-weight="bold">d</text>
<text x="111.4" y="1044.5" font-size="23" text-anchor="middle">CTRL</text>
<text x="276.5" y="1044.3" font-size="23" text-anchor="middle">ALPS</text>
<path d="M32.9 1216.5 33.8 1215.8 34.7 1215.1 35.5 1214.4 36.4 1213.9 37.3 1213.7 38.2 1211.8 39.0 1211.8 39.5 1212.0 40.1 1211.1 40.6 1208.1 41.1 1207.4 41.6 1206.1 42.1 1206.4 42.7 1204.3 43.2 1204.7 43.7 1204.4 44.2 1202.5 44.7 1202.7 45.1 1201.5 45.4 1199.0 45.8 1199.5 46.2 1197.7 46.5 1197.2 46.9 1195.9 47.2 1196.1 47.6 1194.4 47.9 1192.7 48.3 1192.8 48.7 1192.5 49.0 1190.2 49.4 1189.1 49.7 1188.6 50.1 1189.2 50.4 1188.3 50.6 1186.5 50.9 1186.1 51.1 1185.0 51.3 1182.7 51.5 1180.9 51.7 1181.5 51.9 1180.2 52.1 1178.7 52.3 1177.3 52.5 1176.8 52.7 1176.0 52.9 1174.4 53.1 1173.5 53.3 1173.0 53.5 1173.1 53.8 1171.3 54.0 1169.5 54.2 1168.5 54.4 1168.0 54.6 1166.3 54.8 1165.3 55.0 1165.2 55.2 1163.0 55.3 1163.1 55.4 1161.8 55.6 1161.8 55.7 1160.9 55.8 1159.7 55.9 1158.7 56.1 1156.9 56.2 1156.7 56.3 1154.8 56.4 1154.4 56.6 1152.7 56.7 1152.1 56.8 1150.0 56.9 1149.5 57.1 1150.6 57.2 1147.5 57.3 1147.8 57.4 1146.7 57.6 1145.9 57.7 1144.2 57.8 1143.6 57.9 1141.1 58.1 1140.1 58.2 1139.5 58.4 1138.3 58.5 1137.2 58.7 1136.3 58.8 1136.5 59.0 1134.4 59.1 1135.6 59.3 1133.8 59.4 1132.4 59.6 1131.9 59.7 1129.6 59.9 1130.5 60.0 1129.3 60.2 1127.9 60.3 1126.2 60.5 1126.3 60.6 1125.0 60.8 1123.7 60.9 1123.5 61.0 1121.7 61.2 1119.9 61.3 1119.4 61.4 1117.4 61.5 1116.4 61.7 1116.8 61.8 1116.0 61.9 1115.5 62.0 1114.1 62.2 1112.3 62.3 1110.0 62.4 1110.1 62.6 1110.3 62.7 1108.9 62.8 1107.0 62.9 1106.0 63.1 1104.3 63.2 1103.2 63.3 1101.9 63.4 1103.2 63.6 1101.5 63.7 1099.1 63.8 1098.9 63.9 1096.9 64.0 1096.3 64.2 1096.8 64.3 1095.6 64.4 1094.1 64.5 1092.5 64.7 1092.6 64.8 1092.5 64.9 1090.0 65.0 1088.0 65.2 1087.0 65.3 1086.1 65.4 1087.5 65.5 1085.4 65.7 1085.2 65.9 1082.3 66.1 1081.5 66.3 1081.6 66.5 1081.1 66.7 1078.5 66.9 1076.7 67.1 1077.9 67.4 1075.2 67.6 1075.4 67.9 1072.7 68.2 1073.1 68.5 1072.4 68.9 1071.0 69.2 1068.9 69.5 1068.8 69.8 1066.1 70.2 1067.6 70.5 1068.8 70.8 1071.0 71.1 1070.0 71.4 1072.9 71.7 1073.7 72.0 1075.1 72.3 1074.4 73.3 1073.3 74.2 1072.7 75.2 1073.7 75.4 1075.2 75.7 1075.6 76.0 1076.0 76.3 1076.6 76.5 1079.2 76.8 1080.4 77.1 1079.3 77.4 1078.7 77.7 1079.5 78.0 1078.6 78.3 1076.1 78.7 1075.1 79.0 1074.5 79.1 1075.9 79.3 1075.7 79.4 1078.8 79.6 1078.9 79.7 1080.6 79.9 1080.1 80.0 1083.2 80.2 1083.6 80.3 1083.5 80.4 1086.2 80.6 1086.6 80.7 1088.0 80.9 1086.8 81.2 1087.9 81.4 1090.9 81.7 1090.8 82.0 1092.4 82.2 1092.5 82.5 1095.9 82.8 1095.7 83.5 1095.6 84.2 1092.6 84.9 1092.7 85.6 1090.6 86.0 1093.9 86.4 1093.6 86.7 1093.5 87.1 1094.5 87.4 1096.7 87.8 1096.4 88.1 1097.6 88.5 1099.3 88.8 1100.4 89.2 1101.6 89.6 1102.7 89.9 1102.9 90.3 1104.6 90.6 1104.2 91.0 1105.5 91.3 1107.9 91.6 1105.1 91.9 1104.2 92.1 1103.2 92.4 1102.9 92.6 1100.5 92.9 1099.5 93.2 1099.7 93.4 1097.8 93.7 1098.2 93.9 1097.5 94.2 1095.9 94.5 1097.2 94.8 1097.3 95.2 1097.2 95.5 1099.3 95.8 1100.1 96.1 1101.6 96.5 1101.3 96.8 1102.5 97.2 1105.1 97.5 1104.5 97.9 1105.9 98.2 1108.3 98.6 1107.4 99.0 1108.0 99.2 1110.6 99.4 1111.2 99.6 1112.4 99.8 1111.8 100.1 1113.9 100.3 1113.7 100.5 1115.4 100.7 1117.8 100.9 1117.0 101.2 1118.7 101.4 1121.6 101.6 1122.6 101.8 1122.2 102.8 1123.6 103.7 1123.9 104.7 1124.1 105.0 1126.2 105.4 1125.2 105.7 1128.0 106.1 1126.7 106.4 1130.0 106.8 1130.4 107.2 1130.7 107.5 1132.3 107.7 1132.8 107.9 1134.7 108.2 1133.9 108.4 1136.1 108.6 1138.1 108.8 1139.4 109.0 1138.4 109.2 1139.6 109.4 1142.5 109.8 1141.8 110.2 1142.0 110.6 1144.8 110.9 1144.9 111.3 1146.7 111.7 1147.0 112.1 1148.0 112.5 1148.7 112.8 1149.3 113.2 1152.0 113.5 1152.3 113.7 1153.7 113.9 1155.0 114.1 1154.2 114.3 1157.0 114.6 1157.9 114.8 1157.9 115.0 1159.1 115.2 1158.8 115.5 1161.6 115.7 1161.0 115.9 1163.0 116.1 1162.9 116.4 1163.7 116.6 1166.3 116.8 1166.9 117.0 1168.4 117.3 1169.7 117.7 1171.2 118.0 1169.6 118.3 1172.1 118.6 1172.9 118.9 1174.1 119.3 1174.7 119.6 1175.7 119.9 1177.6 120.2 1177.3 120.5 1178.5 120.8 1179.9 121.3 1179.2 121.8 1181.1 122.3 1181.1 122.7 1182.2 123.2 1182.7 123.7 1184.3 124.2 1185.2 124.6 1187.0 125.1 1188.1 125.6 1189.8 126.1 1189.8 126.5 1191.9 127.0 1191.4 127.5 1193.4 128.0 1193.8 128.4 1194.9 129.1 1194.9 129.7 1197.7 130.4 1198.2 131.0 1197.4 131.6 1199.5 132.3 1201.7 133.2 1199.7 134.2 1201.0 135.1 1202.9 136.1 1201.6 137.0 1204.2 138.0 1204.3 138.9 1205.2 139.9 1205.2 140.8 1206.8 141.8 1205.6 142.7 1206.7 143.7 1205.7 144.6 1207.6 145.6 1207.7 146.5 1209.6 147.5 1209.9 148.4 1208.0 149.4 1208.1 150.3 1208.6 151.3 1209.2 152.2 1211.0 153.2 1210.9 154.2 1211.2 155.3 1211.3 156.4 1210.3 157.4 1211.7 158.5 1213.8 159.5 1213.6 160.6 1213.2 161.6 1212.5 162.7 1214.8 163.8 1213.6 164.8 1214.0 165.9 1214.3 166.9 1214.5 168.0 1214.7 169.0 1214.9 170.1 1215.1 171.2 1215.3 172.2 1215.5 173.3 1215.8 174.5 1216.1 175.6 1216.3 176.8 1216.6 177.9 1216.9 L177.9 1217 L32.9 1217 Z" fill="#b4b4b4" stroke="none"/>
<path d="M32.9 1216.5 33.9 1216.0 34.9 1215.5 35.9 1215.0 36.9 1214.6 37.9 1214.1 38.9 1214.0 39.9 1212.3 40.9 1212.2 41.8 1211.8 42.8 1211.4 43.6 1209.6 44.4 1210.6 45.1 1208.5 45.9 1209.0 46.6 1208.2 47.4 1207.7 48.2 1205.8 48.9 1205.0 49.7 1205.6 50.4 1203.8 51.0 1202.3 51.6 1203.5 52.2 1200.1 52.8 1201.7 53.4 1199.1 54.0 1198.5 54.5 1199.3 55.1 1196.9 55.7 1196.8 56.3 1195.1 56.9 1195.6 57.5 1194.2 58.1 1192.6 58.4 1190.6 58.7 1190.4 59.0 1189.8 59.3 1188.3 59.6 1188.0 60.0 1186.2 60.3 1186.0 60.6 1185.2 60.9 1184.6 61.2 1183.9 61.5 1182.9 61.9 1181.1 62.2 1180.2 62.6 1180.4 62.9 1178.0 63.3 1178.1 63.6 1177.9 64.0 1176.8 64.4 1174.8 64.7 1173.1 65.7 1174.4 66.6 1174.9 67.6 1174.9 68.5 1174.7 69.5 1175.4 70.2 1175.2 71.0 1176.5 71.8 1176.9 72.5 1179.1 73.3 1180.7 74.0 1177.7 74.8 1176.5 75.6 1177.8 76.3 1175.9 77.1 1175.6 77.7 1175.3 78.3 1176.6 79.0 1179.0 79.6 1179.7 80.2 1181.3 80.9 1182.6 81.5 1179.9 82.2 1179.7 82.8 1178.3 83.4 1177.5 84.1 1176.2 84.7 1176.9 85.8 1175.9 87.0 1174.6 88.1 1176.1 89.3 1176.9 90.4 1176.7 90.6 1174.7 90.9 1172.2 91.2 1173.4 91.4 1172.7 91.7 1171.2 91.9 1169.3 92.2 1168.1 92.4 1168.1 92.7 1165.3 92.9 1166.2 93.2 1164.4 93.4 1162.2 93.7 1163.3 93.9 1161.1 94.2 1159.2 95.2 1159.1 96.1 1160.7 97.1 1158.5 98.0 1159.9 99.0 1159.6 99.9 1157.3 100.9 1157.8 101.8 1158.3 102.8 1157.0 103.7 1157.6 104.0 1155.3 104.3 1155.0 104.7 1152.9 105.0 1153.7 105.3 1152.7 105.6 1151.0 105.9 1149.4 106.3 1148.5 106.6 1148.2 106.9 1146.0 107.2 1146.1 107.5 1144.6 108.2 1143.7 108.8 1142.7 109.4 1143.2 110.1 1140.4 110.7 1139.6 111.3 1138.5 111.5 1137.1 111.8 1137.2 112.0 1137.4 112.2 1136.5 112.4 1134.3 112.7 1133.2 112.9 1133.4 113.1 1131.4 113.3 1130.5 113.6 1129.8 113.8 1127.2 114.0 1128.3 114.2 1125.2 114.5 1125.4 114.7 1125.5 114.9 1123.4 115.1 1121.9 115.2 1121.9 115.4 1121.4 115.5 1119.6 115.6 1117.0 115.7 1118.3 115.8 1114.9 115.9 1115.7 116.0 1115.4 116.1 1112.3 116.2 1112.3 116.4 1111.8 116.5 1109.3 116.6 1108.5 116.7 1107.0 116.8 1106.2 116.9 1105.1 117.0 1104.6 117.1 1106.9 117.3 1107.7 117.4 1108.9 117.5 1109.7 117.6 1111.0 117.7 1110.2 117.8 1112.4 117.9 1111.9 118.0 1114.2 118.2 1116.2 118.3 1116.2 118.4 1116.7 118.5 1117.6 118.6 1119.0 118.7 1121.4 118.8 1122.6 118.9 1123.0 119.1 1124.7 119.2 1125.1 119.3 1124.7 119.4 1126.2 119.6 1128.0 119.7 1129.0 119.8 1129.9 119.9 1130.4 120.1 1130.4 120.2 1133.7 120.3 1132.7 120.5 1135.8 120.6 1134.4 120.7 1137.8 120.8 1137.2 121.1 1137.3 121.4 1134.0 121.7 1134.1 121.9 1132.5 122.2 1132.6 122.5 1131.5 122.7 1129.8 123.0 1129.5 123.3 1129.2 123.6 1125.7 123.9 1126.0 124.2 1125.3 124.5 1124.1 124.8 1122.1 125.1 1122.8 125.4 1120.0 125.7 1120.6 126.0 1118.6 126.3 1116.6 126.5 1117.5 126.9 1114.5 127.2 1115.5 127.5 1114.0 127.8 1113.8 128.1 1112.7 128.4 1110.6 128.8 1108.9 129.1 1108.3 129.4 1106.6 129.7 1107.5 130.0 1105.0 130.4 1104.3 131.1 1103.7 131.9 1103.4 132.6 1103.4 133.4 1102.0 134.2 1101.4 134.4 1101.2 134.7 1102.9 134.9 1103.6 135.2 1106.1 135.4 1105.1 135.7 1107.8 135.9 1109.0 136.2 1109.5 136.4 1109.2 136.7 1110.8 136.9 1111.8 137.2 1112.9 137.5 1113.9 137.7 1116.9 138.0 1117.4 138.4 1116.7 138.9 1115.3 139.4 1113.3 139.9 1114.0 140.3 1111.8 140.8 1110.0 141.3 1110.6 141.8 1108.3 142.7 1110.4 143.7 1110.6 144.6 1109.8 145.6 1110.8 145.6 1110.5 145.7 1109.3 145.8 1107.9 145.9 1106.0 145.9 1105.3 146.0 1105.3 146.1 1103.6 146.2 1103.3 146.2 1102.2 146.3 1100.2 146.4 1098.5 146.4 1099.1 146.5 1097.2 146.6 1096.7 146.7 1094.5 146.7 1093.5 146.8 1093.3 146.9 1092.9 147.0 1090.3 147.0 1091.2 147.1 1090.4 147.2 1088.8 147.3 1088.0 147.3 1085.6 147.4 1084.2 147.5 1083.8 147.9 1084.1 148.2 1085.9 148.6 1087.8 149.0 1087.4 149.4 1090.0 149.8 1089.8 150.1 1090.0 150.5 1092.3 150.9 1092.6 151.3 1093.3 151.4 1094.8 151.6 1097.2 151.7 1097.5 151.9 1097.3 152.0 1100.1 152.2 1099.0 152.3 1100.7 152.4 1101.6 152.6 1104.3 152.7 1102.6 152.9 1105.4 153.0 1106.1 153.2 1106.1 153.5 1106.4 153.8 1105.9 154.1 1104.8 154.4 1101.8 154.6 1102.8 154.9 1100.5 155.2 1100.9 155.5 1099.1 155.8 1096.7 156.1 1097.5 156.4 1096.0 156.7 1094.6 157.0 1094.1 157.1 1092.6 157.2 1090.4 157.2 1091.8 157.3 1089.0 157.4 1088.0 157.5 1086.3 157.6 1087.1 157.7 1086.6 157.8 1084.3 157.9 1084.3 157.9 1081.9 158.0 1081.0 158.1 1079.7 158.2 1078.7 158.3 1078.4 158.4 1076.7 158.5 1074.9 158.5 1075.6 158.6 1073.5 158.7 1072.7 158.8 1071.1 158.9 1069.7 159.1 1072.4 159.3 1072.8 159.5 1075.2 159.8 1073.7 160.0 1077.0 160.2 1075.7 160.4 1077.2 160.6 1077.8 160.9 1080.2 161.1 1080.8 161.3 1081.7 161.5 1084.6 161.7 1084.5 162.0 1084.4 162.2 1083.2 162.4 1080.6 162.6 1080.4 162.8 1078.1 163.0 1077.5 163.2 1077.4 163.4 1076.0 163.6 1073.6 163.9 1072.5 164.2 1073.3 164.5 1072.0 164.7 1070.8 165.0 1068.5 165.3 1069.0 165.5 1067.3 165.6 1067.2 165.7 1068.2 165.8 1070.5 165.8 1072.6 165.9 1072.5 166.0 1072.7 166.1 1074.9 166.1 1074.5 166.2 1076.7 166.3 1077.1 166.4 1077.1 166.4 1079.5 166.5 1080.5 166.6 1082.6 166.6 1083.1 166.7 1083.0 166.8 1084.9 166.9 1084.9 166.9 1087.0 167.0 1087.9 167.1 1089.0 167.2 1088.7 167.2 1091.3 167.3 1091.8 167.4 1093.4 167.5 1092.5 168.2 1095.4 168.9 1096.9 169.6 1096.9 170.3 1096.6 170.6 1099.8 170.8 1099.9 171.1 1100.2 171.4 1102.3 171.7 1104.0 171.9 1103.0 172.2 1105.3 172.3 1106.5 172.4 1108.4 172.5 1106.9 172.6 1109.2 172.7 1110.8 172.8 1111.6 172.8 1113.2 172.9 1113.6 173.0 1114.5 173.1 1115.4 173.2 1115.2 173.3 1118.1 173.4 1118.2 173.5 1117.8 173.6 1121.0 173.7 1121.6 173.7 1122.6 173.8 1121.9 173.9 1124.7 174.0 1124.7 174.1 1127.0 174.2 1126.2 174.2 1127.7 174.3 1128.0 174.4 1128.8 174.4 1130.7 174.5 1132.8 174.6 1133.0 174.7 1133.7 174.7 1136.5 174.8 1136.9 174.9 1138.6 174.9 1137.8 175.0 1138.5 175.1 1141.7 175.1 1140.2 175.2 1143.2 175.3 1144.7 175.3 1145.1 175.4 1145.7 175.5 1146.1 175.5 1146.9 175.6 1147.3 175.7 1149.2 175.7 1150.6 175.8 1150.9 175.9 1153.9 175.9 1155.0 176.0 1154.1 176.1 1156.0 176.2 1157.8 176.2 1158.0 176.3 1158.3 176.4 1160.8 176.5 1160.9 176.6 1162.2 176.6 1163.6 176.7 1163.3 176.8 1165.5 176.9 1165.3 177.0 1167.4 177.0 1167.4 177.1 1169.9 177.2 1169.7 177.3 1172.4 177.4 1171.2 177.4 1173.8 177.5 1175.2 177.6 1176.3 177.7 1176.3 177.8 1177.5 177.8 1177.8 177.9 1180.4 178.1 1181.1 178.2 1181.4 178.4 1182.4 178.6 1184.5 178.7 1184.5 178.9 1184.2 179.1 1185.2 179.2 1188.1 179.4 1188.4 179.6 1189.5 179.7 1190.1 179.9 1190.0 180.1 1193.1 180.2 1192.9 180.4 1194.2 180.6 1195.1 180.7 1195.2 180.9 1198.5 181.1 1199.5 181.2 1197.9 181.4 1199.0 181.6 1200.9 181.7 1203.6 182.0 1203.1 182.4 1205.3 182.7 1204.6 183.0 1206.0 183.3 1207.9 183.6 1208.4 183.9 1208.3 184.3 1209.7 184.6 1211.1 184.9 1211.4 185.2 1211.8 185.5 1212.9 186.5 1214.4 187.4 1215.2 188.4 1216.0 189.3 1216.9" stroke="#e81414" stroke-width="1.8" fill="none" stroke-linejoin="round"/>
<path d="M32.9 1216.5 33.7 1215.8 34.5 1215.1 35.3 1214.5 36.1 1214.5 36.9 1212.3 37.7 1211.6 38.5 1211.2 39.3 1212.5 40.1 1211.9 40.9 1209.8 41.4 1208.1 41.8 1207.9 42.3 1208.2 42.7 1206.5 43.2 1206.5 43.6 1205.5 44.1 1204.4 44.5 1203.7 45.0 1201.8 45.4 1199.9 45.9 1200.8 46.3 1200.5 46.7 1198.6 47.2 1196.6 47.6 1197.6 48.1 1196.7 48.5 1195.8 49.0 1194.1 49.4 1193.9 49.8 1191.0 50.2 1191.0 50.6 1191.2 51.0 1190.3 51.5 1188.8 51.9 1187.2 52.3 1186.4 52.7 1184.8 53.1 1183.4 53.5 1184.3 53.9 1182.5 54.4 1180.9 54.8 1179.8 55.2 1178.5 55.6 1177.5 56.0 1177.9 56.4 1175.9 56.8 1175.1 57.2 1175.6 57.6 1172.5 58.0 1174.0 58.4 1171.5 58.8 1171.7 59.2 1170.8 59.6 1169.4 60.0 1166.7 60.4 1167.4 60.9 1165.9 61.4 1164.6 61.9 1164.2 62.3 1163.7 62.8 1161.9 63.3 1161.0 63.8 1159.6 64.2 1158.5 64.7 1158.8 65.2 1158.8 65.7 1155.4 66.1 1156.0 66.6 1154.9 67.1 1154.4 67.6 1152.2 67.9 1151.1 68.2 1150.2 68.5 1150.8 68.8 1149.9 69.2 1148.9 69.5 1146.4 69.8 1145.7 70.1 1144.5 70.4 1144.7 70.7 1142.5 71.1 1143.0 71.4 1142.1 72.3 1141.9 73.3 1141.4 74.2 1142.1 75.2 1143.4 75.6 1142.9 75.9 1140.5 76.3 1140.8 76.7 1140.6 77.1 1139.1 77.5 1138.6 77.8 1137.9 78.2 1135.0 78.6 1133.8 79.0 1134.8 79.6 1134.4 80.2 1134.5 80.9 1136.9 81.5 1137.5 82.2 1137.6 82.8 1140.6 83.4 1138.4 84.1 1138.9 84.7 1136.0 85.3 1134.4 86.0 1135.8 86.6 1133.1 87.2 1133.9 87.9 1131.8 88.5 1131.4 89.1 1128.8 89.8 1128.3 90.4 1128.5 90.7 1128.3 91.0 1127.0 91.3 1126.3 91.7 1125.0 92.0 1124.6 92.3 1121.6 92.6 1120.3 92.9 1119.7 93.2 1119.7 93.6 1118.1 93.9 1116.2 94.2 1115.5 94.5 1114.9 94.7 1114.0 95.0 1112.8 95.3 1112.4 95.6 1111.6 95.8 1111.0 96.1 1108.6 96.3 1109.2 96.4 1106.6 96.6 1105.7 96.8 1104.6 97.0 1104.5 97.1 1103.4 97.3 1101.5 97.5 1100.2 97.7 1098.5 97.8 1097.9 98.0 1096.4 99.0 1097.6 99.9 1097.6 100.9 1099.4 101.8 1100.2 102.1 1098.5 102.4 1097.5 102.8 1096.2 103.1 1096.9 103.4 1096.1 103.7 1094.2 104.2 1093.8 104.7 1091.5 105.1 1091.2 105.6 1089.6 106.1 1090.3 106.6 1088.4 106.8 1088.1 107.0 1086.3 107.2 1083.8 107.4 1083.4 107.7 1083.2 107.9 1083.1 108.1 1081.3 108.3 1079.4 108.5 1079.3 108.8 1078.2 109.0 1078.1 109.2 1076.1 109.4 1073.4 109.5 1075.0 109.7 1071.6 109.8 1071.1 109.9 1071.8 110.0 1069.9 110.1 1068.8 110.3 1067.1 110.4 1065.9 110.6 1066.6 110.8 1068.9 111.0 1068.8 111.2 1069.2 111.4 1070.4 111.6 1071.3 111.8 1074.4 112.0 1073.7 112.2 1074.6 112.4 1076.8 112.6 1076.8 112.8 1079.3 113.0 1079.9 113.2 1080.7 113.4 1079.3 113.6 1078.0 113.9 1077.1 114.1 1076.8 114.3 1073.9 114.5 1073.3 114.7 1073.6 114.9 1072.6 115.1 1071.1 116.1 1071.2 117.0 1072.1 117.3 1074.0 117.6 1074.3 117.8 1076.8 118.1 1077.9 118.4 1078.9 118.7 1079.7 118.9 1081.5 119.4 1081.5 119.9 1081.7 120.4 1082.6 120.8 1083.1 121.3 1085.5 121.8 1086.9 122.3 1087.4 122.7 1087.0 123.1 1089.6 123.5 1090.6 123.9 1090.5 124.3 1092.0 124.6 1091.6 125.0 1094.0 125.4 1093.4 125.8 1095.2 126.2 1097.5 126.5 1097.9 127.0 1098.2 127.5 1100.6 128.0 1100.8 128.4 1102.6 128.9 1102.3 129.4 1103.7 129.9 1104.6 130.4 1103.9 130.6 1105.2 130.9 1106.2 131.2 1107.4 131.5 1110.6 131.8 1110.8 132.1 1111.9 132.4 1113.5 132.7 1112.5 133.0 1115.1 133.3 1115.5 133.6 1116.1 133.9 1118.2 134.2 1119.3 134.5 1119.7 134.9 1120.9 135.3 1122.3 135.7 1121.9 136.1 1124.2 136.4 1124.1 136.8 1126.3 137.2 1126.7 137.6 1127.4 138.0 1129.3 138.4 1129.0 138.9 1129.1 139.4 1130.9 139.9 1131.5 140.3 1134.1 140.8 1132.8 141.3 1135.0 141.8 1135.8 142.4 1135.5 143.0 1138.1 143.7 1138.7 144.3 1139.2 144.9 1141.6 145.6 1140.2 146.0 1142.6 146.3 1142.6 146.7 1144.2 147.1 1144.8 147.5 1146.6 147.9 1148.1 148.2 1146.8 148.6 1148.9 149.0 1150.5 149.4 1150.2 149.6 1151.5 149.9 1154.3 150.2 1153.0 150.5 1155.4 150.7 1156.8 151.0 1157.8 151.3 1157.2 151.6 1160.7 151.9 1159.0 152.2 1160.0 152.5 1162.4 152.9 1162.0 153.2 1163.7 153.9 1164.2 154.7 1162.8 155.5 1162.1 156.2 1162.3 157.0 1159.2 157.2 1162.7 157.5 1162.8 157.7 1163.9 158.0 1163.1 158.3 1166.5 158.5 1166.1 158.8 1167.2 159.0 1168.8 159.3 1169.2 159.5 1171.7 159.8 1172.7 160.0 1172.2 160.3 1172.8 160.5 1174.3 160.8 1177.0 161.1 1176.0 161.4 1177.5 161.7 1177.6 162.1 1179.3 162.4 1181.6 162.7 1181.0 163.0 1180.9 163.3 1183.5 163.6 1184.9 164.0 1184.7 164.3 1184.9 164.6 1186.6 165.0 1188.7 165.4 1188.8 165.7 1188.5 166.1 1191.3 166.5 1191.1 166.9 1192.8 167.3 1193.4 167.6 1193.7 168.0 1195.3 168.4 1195.8 168.8 1197.6 169.2 1197.4 169.5 1200.7 169.9 1201.2 170.3 1201.9 170.7 1201.5 171.1 1204.4 171.4 1205.4 171.8 1204.0 172.2 1205.3 172.7 1205.8 173.2 1207.2 173.8 1209.4 174.3 1210.8 174.8 1210.4 175.3 1211.0 175.8 1212.7 176.4 1213.9 176.9 1213.8 177.4 1214.7 177.9 1215.5 178.9 1215.9 179.8 1216.2 180.8 1216.5 181.7 1216.9" stroke="#18e818" stroke-width="1.8" fill="none" stroke-linejoin="round"/>
<path d="M32.9 1216.5 33.7 1215.8 34.5 1215.2 35.2 1214.5 36.0 1213.8 36.7 1212.9 37.5 1212.4 38.3 1211.7 39.0 1210.1 39.8 1211.8 40.5 1209.9 41.3 1209.8 42.1 1208.4 42.8 1208.7 43.2 1206.2 43.5 1207.0 43.9 1206.3 44.2 1203.1 44.6 1203.0 44.9 1200.9 45.3 1202.0 45.6 1200.4 45.9 1198.0 46.3 1199.5 46.6 1198.6 47.0 1195.9 47.3 1196.2 47.7 1193.4 48.0 1194.1 48.4 1192.2 48.7 1190.4 49.1 1190.2 49.4 1189.9 49.7 1187.6 50.1 1189.0 50.4 1186.8 50.6 1186.0 50.8 1186.3 51.0 1185.2 51.1 1183.7 51.3 1182.7 51.5 1182.0 51.7 1180.5 51.9 1179.4 52.0 1179.1 52.2 1176.1 52.4 1177.5 52.6 1174.5 52.7 1173.4 52.9 1173.5 53.1 1172.3 53.3 1171.3 53.4 1171.3 53.6 1167.8 53.8 1167.3 54.0 1166.4 54.1 1166.4 54.3 1164.9 54.5 1164.7 54.7 1163.1 54.8 1161.0 55.0 1162.1 55.2 1160.4 55.4 1159.0 55.5 1157.7 55.7 1158.4 55.9 1156.7 56.0 1154.2 56.2 1154.0 56.4 1154.7 56.5 1151.6 56.7 1150.2 56.9 1149.1 57.0 1148.1 57.2 1147.0 57.4 1147.2 57.5 1147.4 57.7 1146.5 57.9 1145.4 58.1 1142.9 58.3 1142.7 58.6 1139.9 58.9 1140.9 59.2 1138.5 59.5 1138.5 59.8 1136.5 60.1 1136.0 60.4 1134.9 60.7 1134.3 61.0 1132.5 61.3 1131.1 61.6 1131.1 61.9 1130.7 62.1 1128.6 62.3 1129.2 62.5 1126.7 62.7 1125.6 62.9 1124.6 63.1 1125.2 63.3 1122.3 63.5 1122.2 63.7 1121.0 63.9 1121.2 64.1 1117.6 64.3 1119.2 64.5 1116.5 64.7 1116.7 64.9 1114.1 65.1 1114.5 65.3 1112.4 65.5 1111.0 65.7 1110.0 66.4 1109.2 67.2 1110.5 67.9 1108.5 68.7 1107.3 69.5 1108.0 69.8 1106.2 70.1 1105.7 70.4 1103.6 70.7 1102.4 71.1 1101.3 71.4 1100.9 71.7 1100.2 72.0 1099.9 72.3 1098.2 72.6 1097.2 73.0 1095.8 73.3 1095.4 73.6 1096.8 73.9 1096.5 74.2 1099.2 74.5 1100.6 74.9 1100.6 75.2 1100.8 75.5 1103.6 75.8 1102.2 76.1 1103.4 76.4 1105.9 76.8 1107.0 77.1 1106.7 77.5 1105.0 77.8 1105.6 78.2 1103.8 78.6 1104.3 79.0 1101.1 79.4 1101.5 79.7 1099.5 80.1 1100.7 80.5 1099.8 80.9 1097.8 82.2 1098.1 83.4 1098.6 84.7 1098.7 85.6 1097.0 86.6 1098.0 87.5 1099.8 88.5 1098.8 88.7 1098.2 88.9 1098.7 89.1 1096.2 89.3 1095.5 89.6 1093.4 89.8 1092.1 90.0 1093.2 90.2 1091.8 90.4 1088.9 90.7 1090.2 91.0 1089.2 91.3 1086.6 91.7 1087.2 92.0 1084.2 92.3 1083.5 92.6 1084.4 92.9 1082.4 93.2 1081.1 93.6 1079.9 93.9 1078.7 94.2 1077.6 94.4 1077.3 94.6 1076.4 94.8 1074.2 95.0 1075.0 95.3 1072.1 95.5 1071.2 95.7 1072.2 95.9 1069.7 96.1 1068.0 97.1 1068.2 98.0 1067.2 99.0 1067.5 99.9 1070.4 100.9 1068.8 101.8 1071.6 102.1 1071.9 102.4 1072.3 102.6 1075.3 102.9 1075.3 103.2 1075.1 103.4 1077.1 103.7 1078.9 104.0 1077.2 104.3 1075.8 104.5 1074.8 104.8 1073.6 105.1 1073.0 105.3 1073.4 105.6 1072.1 105.9 1072.1 106.2 1074.2 106.4 1073.2 106.7 1075.6 107.0 1077.2 107.2 1076.8 107.5 1078.7 107.8 1079.5 108.2 1079.3 108.5 1082.7 108.8 1082.0 109.1 1083.5 109.4 1082.9 109.7 1085.3 110.1 1086.0 110.4 1088.2 110.7 1086.8 111.0 1090.1 111.3 1089.1 111.5 1092.0 111.7 1092.8 112.0 1093.4 112.2 1093.8 112.4 1095.1 112.6 1096.8 112.8 1097.0 113.0 1097.2 113.2 1100.0 113.5 1101.1 113.8 1101.0 114.0 1101.9 114.3 1104.9 114.6 1104.5 114.9 1104.8 115.1 1108.1 115.4 1107.3 115.8 1108.7 116.1 1110.1 116.4 1110.8 116.7 1111.0 117.0 1112.1 117.3 1113.7 117.7 1113.6 118.0 1116.8 118.3 1115.9 118.6 1116.6 118.9 1117.6 119.3 1118.6 119.7 1121.6 120.1 1121.2 120.5 1123.0 120.8 1124.2 121.2 1123.1 121.6 1125.5 122.0 1127.0 122.4 1126.3 122.7 1129.2 123.1 1129.1 123.5 1130.0 123.9 1132.2 124.3 1130.9 124.6 1134.0 125.0 1133.0 125.4 1134.8 125.8 1134.4 126.2 1136.2 126.5 1136.8 126.8 1139.4 127.1 1141.1 127.4 1139.8 127.6 1140.6 127.9 1143.4 128.2 1145.4 128.4 1146.4 128.6 1147.2 128.8 1147.8 129.0 1148.5 129.1 1147.9 129.3 1151.5 129.5 1151.6 129.7 1152.3 129.8 1152.1 130.0 1153.6 130.2 1155.1 130.4 1157.8 130.7 1157.9 131.0 1159.0 131.3 1159.1 131.6 1161.0 131.9 1160.5 132.3 1161.6 132.6 1163.3 132.9 1163.2 133.2 1166.2 133.5 1165.4 133.8 1167.0 134.2 1169.2 134.6 1168.5 135.1 1170.1 135.6 1171.3 136.1 1171.6 136.5 1172.0 137.0 1173.7 137.5 1175.5 138.0 1175.3 138.4 1177.0 138.9 1176.8 139.4 1178.1 139.9 1180.6 140.3 1179.1 140.8 1182.4 141.3 1181.0 141.8 1184.1 142.2 1183.8 142.7 1185.6 143.2 1185.3 143.7 1186.1 144.1 1186.8 144.6 1187.5 145.1 1189.5 145.6 1189.5 146.5 1190.7 147.5 1192.8 148.4 1192.8 149.4 1192.5 150.1 1192.1 150.9 1193.0 151.7 1196.4 152.4 1195.6 153.2 1196.8 153.8 1198.0 154.4 1198.4 155.1 1199.6 155.7 1199.8 156.4 1200.4 157.0 1201.1 157.6 1203.1 158.3 1204.2 158.9 1203.3 159.5 1203.6 160.2 1206.4 160.8 1205.4 161.6 1207.4 162.3 1206.8 163.1 1208.6 163.8 1208.5 164.6 1208.5 165.4 1209.2 166.1 1210.8 166.9 1212.0 167.6 1212.7 168.4 1213.5 169.4 1214.0 170.3 1214.4 171.3 1214.8 172.2 1215.2 173.2 1215.6 174.1 1216.0 175.1 1216.5 176.0 1216.9" stroke="#0a14e0" stroke-width="1.8" fill="none" stroke-linejoin="round"/>
<path d="M32.9 1216.5 33.8 1215.8 34.7 1215.1 35.5 1214.4 36.4 1213.9 37.3 1213.7 38.2 1211.8 39.0 1211.8 39.5 1212.0 40.1 1211.1 40.6 1208.1 41.1 1207.4 41.6 1206.1 42.1 1206.4 42.7 1204.3 43.2 1204.7 43.7 1204.4 44.2 1202.5 44.7 1202.7 45.1 1201.5 45.4 1199.0 45.8 1199.5 46.2 1197.7 46.5 1197.2 46.9 1195.9 47.2 1196.1 47.6 1194.4 47.9 1192.7 48.3 1192.8 48.7 1192.5 49.0 1190.2 49.4 1189.1 49.7 1188.6 50.1 1189.2 50.4 1188.3 50.6 1186.5 50.9 1186.1 51.1 1185.0 51.3 1182.7 51.5 1180.9 51.7 1181.5 51.9 1180.2 52.1 1178.7 52.3 1177.3 52.5 1176.8 52.7 1176.0 52.9 1174.4 53.1 1173.5 53.3 1173.0 53.5 1173.1 53.8 1171.3 54.0 1169.5 54.2 1168.5 54.4 1168.0 54.6 1166.3 54.8 1165.3 55.0 1165.2 55.2 1163.0 55.3 1163.1 55.4 1161.8 55.6 1161.8 55.7 1160.9 55.8 1159.7 55.9 1158.7 56.1 1156.9 56.2 1156.7 56.3 1154.8 56.4 1154.4 56.6 1152.7 56.7 1152.1 56.8 1150.0 56.9 1149.5 57.1 1150.6 57.2 1147.5 57.3 1147.8 57.4 1146.7 57.6 1145.9 57.7 1144.2 57.8 1143.6 57.9 1141.1 58.1 1140.1 58.2 1139.5 58.4 1138.3 58.5 1137.2 58.7 1136.3 58.8 1136.5 59.0 1134.4 59.1 1135.6 59.3 1133.8 59.4 1132.4 59.6 1131.9 59.7 1129.6 59.9 1130.5 60.0 1129.3 60.2 1127.9 60.3 1126.2 60.5 1126.3 60.6 1125.0 60.8 1123.7 60.9 1123.5 61.0 1121.7 61.2 1119.9 61.3 1119.4 61.4 1117.4 61.5 1116.4 61.7 1116.8 61.8 1116.0 61.9 1115.5 62.0 1114.1 62.2 1112.3 62.3 1110.0 62.4 1110.1 62.6 1110.3 62.7 1108.9 62.8 1107.0 62.9 1106.0 63.1 1104.3 63.2 1103.2 63.3 1101.9 63.4 1103.2 63.6 1101.5 63.7 1099.1 63.8 1098.9 63.9 1096.9 64.0 1096.3 64.2 1096.8 64.3 1095.6 64.4 1094.1 64.5 1092.5 64.7 1092.6 64.8 1092.5 64.9 1090.0 65.0 1088.0 65.2 1087.0 65.3 1086.1 65.4 1087.5 65.5 1085.4 65.7 1085.2 65.9 1082.3 66.1 1081.5 66.3 1081.6 66.5 1081.1 66.7 1078.5 66.9 1076.7 67.1 1077.9 67.4 1075.2 67.6 1075.4 67.9 1072.7 68.2 1073.1 68.5 1072.4 68.9 1071.0 69.2 1068.9 69.5 1068.8 69.8 1066.1 70.2 1067.6 70.5 1068.8 70.8 1071.0 71.1 1070.0 71.4 1072.9 71.7 1073.7 72.0 1075.1 72.3 1074.4 73.3 1073.3 74.2 1072.7 75.2 1073.7 75.4 1075.2 75.7 1075.6 76.0 1076.0 76.3 1076.6 76.5 1079.2 76.8 1080.4 77.1 1079.3 77.4 1078.7 77.7 1079.5 78.0 1078.6 78.3 1076.1 78.7 1075.1 79.0 1074.5 79.1 1075.9 79.3 1075.7 79.4 1078.8 79.6 1078.9 79.7 1080.6 79.9 1080.1 80.0 1083.2 80.2 1083.6 80.3 1083.5 80.4 1086.2 80.6 1086.6 80.7 1088.0 80.9 1086.8 81.2 1087.9 81.4 1090.9 81.7 1090.8 82.0 1092.4 82.2 1092.5 82.5 1095.9 82.8 1095.7 83.5 1095.6 84.2 1092.6 84.9 1092.7 85.6 1090.6 86.0 1093.9 86.4 1093.6 86.7 1093.5 87.1 1094.5 87.4 1096.7 87.8 1096.4 88.1 1097.6 88.5 1099.3 88.8 1100.4 89.2 1101.6 89.6 1102.7 89.9 1102.9 90.3 1104.6 90.6 1104.2 91.0 1105.5 91.3 1107.9 91.6 1105.1 91.9 1104.2 92.1 1103.2 92.4 1102.9 92.6 1100.5 92.9 1099.5 93.2 1099.7 93.4 1097.8 93.7 1098.2 93.9 1097.5 94.2 1095.9 94.5 1097.2 94.8 1097.3 95.2 1097.2 95.5 1099.3 95.8 1100.1 96.1 1101.6 96.5 1101.3 96.8 1102.5 97.2 1105.1 97.5 1104.5 97.9 1105.9 98.2 1108.3 98.6 1107.4 99.0 1108.0 99.2 1110.6 99.4 1111.2 99.6 1112.4 99.8 1111.8 100.1 1113.9 100.3 1113.7 100.5 1115.4 100.7 1117.8 100.9 1117.0 101.2 1118.7 101.4 1121.6 101.6 1122.6 101.8 1122.2 102.8 1123.6 103.7 1123.9 104.7 1124.1 105.0 1126.2 105.4 1125.2 105.7 1128.0 106.1 1126.7 106.4 1130.0 106.8 1130.4 107.2 1130.7 107.5 1132.3 107.7 1132.8 107.9 1134.7 108.2 1133.9 108.4 1136.1 108.6 1138.1 108.8 1139.4 109.0 1138.4 109.2 1139.6 109.4 1142.5 109.8 1141.8 110.2 1142.0 110.6 1144.8 110.9 1144.9 111.3 1146.7 111.7 1147.0 112.1 1148.0 112.5 1148.7 112.8 1149.3 113.2 1152.0 113.5 1152.3 113.7 1153.7 113.9 1155.0 114.1 1154.2 114.3 1157.0 114.6 1157.9 114.8 1157.9 115.0 1159.1 115.2 1158.8 115.5 1161.6 115.7 1161.0 115.9 1163.0 116.1 1162.9 116.4 1163.7 116.6 1166.3 116.8 1166.9 117.0 1168.4 117.3 1169.7 117.7 1171.2 118.0 1169.6 118.3 1172.1 118.6 1172.9 118.9 1174.1 119.3 1174.7 119.6 1175.7 119.9 1177.6 120.2 1177.3 120.5 1178.5 120.8 1179.9 121.3 1179.2 121.8 1181.1 122.3 1181.1 122.7 1182.2 123.2 1182.7 123.7 1184.3 124.2 1185.2 124.6 1187.0 125.1 1188.1 125.6 1189.8 126.1 1189.8 126.5 1191.9 127.0 1191.4 127.5 1193.4 128.0 1193.8 128.4 1194.9 129.1 1194.9 129.7 1197.7 130.4 1198.2 131.0 1197.4 131.6 1199.5 132.3 1201.7 133.2 1199.7 134.2 1201.0 135.1 1202.9 136.1 1201.6 137.0 1204.2 138.0 1204.3 138.9 1205.2 139.9 1205.2 140.8 1206.8 141.8 1205.6 142.7 1206.7 143.7 1205.7 144.6 1207.6 145.6 1207.7 146.5 1209.6 147.5 1209.9 148.4 1208.0 149.4 1208.1 150.3 1208.6 151.3 1209.2 152.2 1211.0 153.2 1210.9 154.2 1211.2 155.3 1211.3 156.4 1210.3 157.4 1211.7 158.5 1213.8 159.5 1213.6 160.6 1213.2 161.6 1212.5 162.7 1214.8 163.8 1213.6 164.8 1214.0 165.9 1214.3 166.9 1214.5 168.0 1214.7 169.0 1214.9 170.1 1215.1 171.2 1215.3 172.2 1215.5 173.3 1215.8 174.5 1216.1 175.6 1216.3 176.8 1216.6 177.9 1216.9" stroke="#000" stroke-width="1.8" fill="none" stroke-linejoin="round"/>
<path d="M33 1058 H191 V1217" stroke="#888" stroke-width="1.3" fill="none"/>
<path d="M33 1058 V1217 H191" stroke="#111" stroke-width="1.5" fill="none"/>
<path d="M29.2 1065.2 H33 M29.2 1095.6 H33 M29.2 1125.9 H33 M29.2 1156.3 H33 M29.2 1186.6 H33 M29.2 1217.0 H33 M31 1075.2 H33 M31 1085.2 H33 M31 1105.6 H33 M31 1115.6 H33 M31 1135.9 H33 M31 1146.0 H33 M31 1166.3 H33 M31 1176.3 H33 M31 1196.7 H33 M31 1206.7 H33 M34.0 1217 V1220.5 M45.6 1217 V1220.5 M67.8 1217 V1220.5 M105.7 1217 V1220.5 M142.0 1217 V1220.5 M176.8 1217 V1220.5 M37.5 1217 V1219 M39.6 1217 V1219 M41.0 1217 V1219 M42.1 1217 V1219 M43.1 1217 V1219 M43.8 1217 V1219 M44.5 1217 V1219 M45.1 1217 V1219 M52.3 1217 V1219 M56.2 1217 V1219 M59.0 1217 V1219 M61.1 1217 V1219 M62.9 1217 V1219 M64.3 1217 V1219 M65.6 1217 V1219 M66.7 1217 V1219 M79.2 1217 V1219 M85.9 1217 V1219 M90.6 1217 V1219 M94.3 1217 V1219 M97.3 1217 V1219 M99.8 1217 V1219 M102.0 1217 V1219 M103.9 1217 V1219 M116.6 1217 V1219 M123.0 1217 V1219 M127.6 1217 V1219 M131.1 1217 V1219 M134.0 1217 V1219 M136.4 1217 V1219 M138.5 1217 V1219 M140.4 1217 V1219 M152.5 1217 V1219 M158.6 1217 V1219 M162.9 1217 V1219 M166.3 1217 V1219 M169.1 1217 V1219 M171.4 1217 V1219 M173.4 1217 V1219 M175.2 1217 V1219 " stroke="#111" stroke-width="0.9" fill="none"/>
<path d="M202.4 1217.0 203.1 1216.2 203.8 1215.4 204.6 1214.6 205.3 1213.8 206.1 1212.0 206.8 1212.6 207.5 1212.2 208.3 1210.5 209.0 1209.7 209.5 1207.9 209.9 1206.7 210.4 1206.4 210.8 1206.0 211.3 1204.3 211.7 1204.0 212.2 1203.5 212.6 1202.8 213.1 1202.4 213.5 1200.9 214.0 1199.1 214.4 1198.5 214.8 1198.0 215.3 1197.4 215.7 1196.2 216.2 1195.2 216.6 1195.7 216.9 1194.1 217.2 1193.8 217.5 1190.7 217.7 1191.1 218.0 1189.6 218.3 1188.1 218.5 1186.4 218.8 1187.7 219.1 1184.2 219.4 1185.5 219.6 1183.3 219.9 1183.6 220.2 1180.3 220.4 1179.4 220.7 1179.4 221.0 1179.0 221.3 1178.1 221.5 1176.1 221.8 1176.0 222.1 1174.4 222.3 1172.7 222.6 1171.6 222.8 1170.9 223.0 1171.7 223.2 1169.0 223.5 1168.8 223.7 1166.6 223.9 1168.0 224.1 1166.7 224.4 1163.7 224.6 1162.8 224.8 1163.7 225.0 1161.0 225.3 1159.5 225.5 1159.8 225.7 1157.6 225.9 1156.4 226.1 1156.9 226.3 1156.9 226.5 1153.7 226.6 1154.6 226.8 1153.0 226.9 1152.6 227.1 1150.1 227.2 1149.2 227.4 1148.8 227.5 1146.9 227.7 1146.1 227.8 1144.6 228.0 1145.6 228.1 1143.6 228.3 1141.7 228.4 1142.9 228.6 1139.9 228.7 1138.4 228.9 1138.7 229.0 1138.2 229.2 1136.9 229.3 1136.2 229.5 1134.6 229.6 1134.7 229.8 1133.1 230.0 1131.0 230.1 1131.9 230.3 1128.6 230.4 1128.4 230.6 1128.1 230.7 1128.1 230.9 1125.4 231.0 1124.0 231.2 1124.3 231.3 1123.7 231.5 1121.3 231.6 1120.8 231.8 1120.4 231.9 1119.0 232.1 1118.9 232.2 1115.9 232.4 1116.7 232.5 1113.6 232.7 1113.3 232.8 1113.8 232.9 1111.9 233.1 1112.0 233.2 1110.1 233.3 1109.5 233.4 1107.0 233.6 1106.7 233.7 1105.6 233.8 1104.1 233.9 1103.5 234.1 1103.1 234.2 1102.8 234.3 1100.7 234.5 1098.5 234.6 1098.3 234.7 1097.0 234.9 1095.9 235.0 1095.4 235.1 1094.0 235.3 1094.3 235.4 1092.3 235.6 1092.5 235.7 1089.8 235.9 1090.7 236.0 1087.3 236.2 1087.7 236.3 1085.2 236.5 1084.5 236.6 1085.1 236.8 1083.4 236.9 1081.8 237.1 1079.9 237.2 1081.2 237.3 1079.6 237.5 1076.8 237.6 1076.7 237.8 1076.1 237.9 1073.7 238.1 1072.8 238.2 1073.4 238.4 1073.0 238.5 1070.5 239.5 1068.7 240.4 1069.0 240.9 1070.7 241.4 1071.7 241.8 1072.7 242.3 1073.6 242.8 1074.4 243.3 1073.5 243.7 1074.3 244.2 1074.1 244.7 1071.9 245.2 1070.3 245.7 1071.0 246.1 1069.8 246.3 1070.2 246.5 1069.7 246.6 1071.9 246.8 1072.9 247.0 1074.9 247.2 1076.5 247.3 1076.3 247.5 1077.2 247.7 1078.6 247.9 1079.6 248.0 1080.9 248.7 1080.6 249.5 1082.1 250.2 1084.2 250.9 1084.4 251.1 1085.0 251.3 1085.4 251.5 1086.5 251.7 1087.3 251.9 1090.7 252.2 1090.8 252.4 1092.3 252.6 1093.2 252.8 1094.0 253.7 1092.0 254.7 1092.3 255.6 1091.3 256.1 1091.4 256.6 1093.8 257.1 1095.9 257.5 1097.0 258.0 1095.6 258.5 1098.4 259.4 1096.7 260.4 1097.5 261.3 1098.0 262.3 1098.9 262.6 1099.2 262.8 1100.8 263.1 1101.5 263.4 1104.4 263.7 1105.9 263.9 1106.1 264.2 1105.9 264.5 1105.2 264.7 1103.8 265.0 1105.2 265.3 1102.7 265.6 1100.7 265.8 1100.7 266.1 1098.8 266.8 1100.8 267.5 1101.3 268.2 1102.6 269.0 1104.1 269.3 1104.2 269.6 1104.2 269.9 1106.0 270.2 1107.3 270.5 1107.2 270.9 1110.0 271.3 1108.5 271.8 1106.0 272.3 1106.9 272.8 1105.9 273.2 1104.5 273.7 1103.3 274.1 1104.2 274.4 1104.0 274.8 1104.9 275.1 1107.9 275.5 1107.8 275.9 1109.2 276.2 1110.3 276.6 1111.9 276.7 1112.4 276.9 1112.8 277.1 1114.1 277.3 1114.3 277.4 1117.1 277.6 1117.4 277.8 1116.9 278.0 1119.9 278.1 1121.6 278.3 1122.5 278.5 1122.8 279.2 1123.6 279.9 1125.6 280.6 1126.0 281.3 1125.7 282.1 1127.9 282.8 1128.9 283.6 1128.2 284.4 1128.8 285.1 1130.0 285.8 1129.9 286.4 1132.7 287.0 1131.9 287.7 1134.4 288.3 1134.3 288.9 1135.0 289.2 1137.6 289.5 1139.0 289.7 1138.3 290.0 1141.0 290.2 1139.9 290.5 1141.6 290.8 1142.5 291.0 1144.2 291.3 1144.5 291.5 1145.3 291.8 1147.4 292.1 1148.0 292.4 1149.7 292.7 1150.3 293.1 1151.0 293.4 1152.3 293.7 1154.3 294.0 1155.1 294.3 1155.0 294.6 1156.5 295.3 1156.2 295.9 1159.5 296.5 1160.7 297.2 1161.1 297.8 1162.4 298.4 1161.3 298.8 1162.8 299.1 1163.1 299.4 1163.9 299.7 1165.7 300.0 1167.1 300.4 1168.8 300.7 1169.9 301.0 1169.1 301.3 1171.9 301.6 1172.9 301.9 1173.0 302.3 1174.5 302.4 1176.0 302.6 1175.8 302.8 1175.7 302.9 1177.0 303.1 1179.1 303.3 1180.4 303.5 1180.6 303.6 1181.4 303.8 1183.8 304.0 1184.6 304.2 1186.1 304.9 1186.2 305.7 1187.1 306.4 1187.3 307.2 1187.8 308.0 1189.2 308.7 1189.9 309.4 1189.5 310.1 1190.6 310.8 1190.6 311.5 1192.9 312.2 1192.2 313.0 1193.9 313.7 1196.0 314.6 1196.4 315.6 1196.5 316.5 1197.4 317.5 1197.7 318.4 1199.1 319.4 1197.5 320.3 1199.3 321.3 1199.1 322.2 1199.5 323.2 1201.6 324.1 1201.7 325.1 1200.7 326.0 1201.9 327.0 1202.7 327.9 1202.9 328.9 1202.8 329.8 1202.4 330.8 1204.7 331.7 1205.2 332.7 1204.7 333.6 1204.3 334.6 1204.8 335.4 1207.2 336.3 1207.9 337.1 1209.0 338.0 1208.2 338.8 1209.5 339.7 1210.3 340.5 1211.1 341.4 1212.4 342.2 1211.3 343.1 1212.6 343.9 1213.9 344.7 1214.5 345.6 1214.0 346.4 1214.6 347.3 1215.1 348.1 1215.7 349.0 1216.3 349.8 1216.9 L349.8 1217 L202.4 1217 Z" fill="#b4b4b4" stroke="none"/>
<path d="M202.4 1217.0 202.8 1216.1 203.2 1215.2 203.6 1214.3 204.0 1212.5 204.4 1211.7 204.9 1211.1 205.3 1209.9 205.7 1208.9 206.1 1209.8 206.5 1208.1 206.9 1207.6 207.4 1206.1 207.8 1203.7 208.2 1203.9 208.6 1202.3 209.0 1201.6 209.3 1202.0 209.6 1200.0 209.9 1199.5 210.2 1197.5 210.5 1195.8 210.8 1195.4 211.1 1194.1 211.4 1195.4 211.7 1194.4 212.0 1192.2 212.3 1192.2 212.6 1189.6 212.9 1190.2 213.2 1187.5 213.5 1187.3 213.8 1185.7 214.1 1184.6 214.4 1184.5 214.7 1182.5 215.0 1182.7 215.2 1182.6 215.5 1181.3 215.7 1178.2 216.0 1176.9 216.2 1177.3 216.5 1177.3 216.7 1175.8 217.0 1175.3 217.2 1173.7 217.5 1172.0 217.7 1170.8 218.0 1170.9 218.2 1170.0 218.5 1169.2 218.7 1166.4 219.0 1165.8 219.2 1164.0 219.4 1163.5 219.7 1163.1 219.9 1163.2 220.2 1162.6 220.4 1161.2 220.6 1159.7 220.7 1158.6 220.9 1156.5 221.1 1157.0 221.2 1154.9 221.4 1154.9 221.5 1153.5 221.7 1152.4 221.8 1152.0 222.0 1149.4 222.1 1149.4 222.3 1147.4 222.4 1147.2 222.6 1146.5 222.7 1146.4 222.9 1143.8 223.0 1144.0 223.2 1143.5 223.3 1140.7 223.5 1139.4 223.6 1140.1 223.8 1137.6 223.9 1136.6 224.1 1136.0 224.2 1136.0 224.3 1134.6 224.4 1133.0 224.5 1131.3 224.6 1132.3 224.7 1130.1 224.8 1128.8 224.9 1128.8 225.0 1127.5 225.1 1125.5 225.2 1124.8 225.2 1125.8 225.3 1124.5 225.4 1121.6 225.5 1121.0 225.6 1120.0 225.7 1119.7 225.8 1119.7 225.9 1117.8 226.0 1115.5 226.1 1116.9 226.1 1113.6 226.5 1113.6 226.9 1113.3 227.3 1112.2 227.7 1110.3 228.1 1110.1 228.4 1109.3 228.8 1106.8 229.2 1108.1 229.6 1105.8 230.0 1105.0 230.1 1104.1 230.2 1104.0 230.3 1101.8 230.4 1102.3 230.5 1100.1 230.7 1099.7 230.8 1098.7 230.9 1095.8 231.0 1096.1 231.1 1093.9 231.3 1093.4 231.4 1092.8 231.5 1091.2 231.6 1092.1 231.7 1089.2 231.9 1088.2 232.0 1087.8 232.1 1085.9 232.2 1086.9 232.3 1085.9 232.5 1083.8 232.6 1083.4 232.7 1081.2 232.8 1080.2 232.9 1079.0 233.1 1079.5 233.2 1078.2 233.4 1075.0 233.5 1074.4 233.6 1074.3 233.8 1073.4 233.9 1072.2 234.0 1070.9 234.2 1069.0 234.3 1068.4 234.4 1069.4 234.6 1067.6 234.7 1065.8 234.8 1066.6 234.9 1067.0 235.0 1068.3 235.1 1071.3 235.2 1071.0 235.3 1072.5 235.4 1072.5 235.5 1075.1 235.6 1074.3 235.7 1075.7 235.8 1076.0 235.9 1077.1 236.0 1078.6 236.1 1080.7 236.2 1082.2 236.3 1081.6 236.4 1082.7 236.5 1083.6 236.6 1085.7 236.7 1087.9 236.8 1087.6 236.9 1087.2 237.0 1090.2 237.1 1089.9 237.2 1090.3 237.3 1093.4 237.4 1092.5 237.5 1093.6 237.6 1096.9 237.7 1095.6 237.9 1093.2 238.1 1092.4 238.3 1090.9 238.5 1090.9 238.7 1089.4 238.8 1087.6 239.0 1087.0 239.2 1087.6 239.4 1084.8 239.6 1083.8 239.7 1082.6 239.9 1083.3 240.1 1082.6 240.3 1080.8 240.5 1078.6 240.6 1078.0 240.8 1077.1 241.0 1076.0 241.2 1075.3 241.4 1074.2 241.5 1076.2 241.7 1075.6 241.8 1076.7 242.0 1079.5 242.1 1078.8 242.3 1080.8 242.4 1081.8 242.6 1082.7 242.7 1084.9 242.9 1084.1 243.0 1084.3 243.2 1085.5 243.3 1088.8 243.5 1088.6 243.7 1089.0 243.8 1090.3 244.0 1090.8 244.1 1093.0 244.3 1092.5 244.4 1094.8 244.6 1096.2 244.7 1095.9 244.9 1098.8 245.0 1098.0 245.2 1100.8 245.5 1100.0 245.8 1101.3 246.1 1103.1 246.4 1103.8 246.8 1103.0 247.1 1104.6 247.4 1105.9 247.7 1106.7 248.0 1108.0 248.3 1107.9 248.7 1110.6 249.0 1110.1 249.3 1110.0 249.6 1109.6 249.9 1107.1 250.2 1107.5 250.6 1106.8 250.9 1104.2 251.2 1104.5 251.5 1103.4 251.8 1103.6 252.2 1102.3 252.5 1100.1 252.8 1100.0 253.3 1100.2 253.7 1100.6 254.2 1101.6 254.7 1102.4 255.2 1104.1 255.6 1105.2 256.1 1104.8 256.6 1105.7 256.8 1105.6 257.1 1104.8 257.4 1103.6 257.6 1101.8 257.9 1100.7 258.1 1100.7 258.4 1099.2 258.6 1098.5 258.9 1098.8 259.1 1095.6 259.4 1096.5 259.6 1095.6 259.9 1092.7 260.1 1093.0 260.4 1090.9 260.5 1090.0 260.6 1089.1 260.7 1089.0 260.8 1086.4 261.0 1086.6 261.1 1085.3 261.2 1085.4 261.3 1084.3 261.4 1083.6 261.5 1083.0 261.6 1080.8 261.7 1078.4 261.9 1079.9 262.0 1076.6 262.1 1077.9 262.2 1076.6 262.3 1073.9 262.9 1075.3 263.6 1076.8 264.2 1077.4 264.8 1079.3 265.5 1078.2 266.1 1080.6 266.7 1078.4 267.4 1078.3 268.0 1078.3 268.6 1077.6 269.3 1074.7 269.9 1075.3 270.4 1072.6 270.9 1073.8 271.3 1071.5 271.8 1070.1 272.3 1070.3 272.8 1067.7 273.2 1069.0 273.7 1068.3 274.2 1067.5 274.7 1064.9 274.9 1065.5 275.1 1068.5 275.3 1069.5 275.5 1070.5 275.8 1071.5 276.0 1071.8 276.2 1071.0 276.4 1074.1 276.6 1075.7 276.9 1074.6 277.1 1075.8 277.3 1076.9 277.5 1079.3 278.0 1079.8 278.5 1079.2 278.9 1081.5 279.4 1081.9 279.7 1082.0 280.0 1080.5 280.2 1078.6 280.5 1077.1 280.8 1075.7 281.1 1076.4 281.3 1075.1 281.4 1075.2 281.5 1077.7 281.6 1076.6 281.7 1079.7 281.8 1078.9 281.9 1081.3 282.0 1081.1 282.1 1081.7 282.2 1083.2 282.3 1085.5 282.4 1086.3 282.5 1087.4 282.6 1087.1 282.7 1089.6 282.8 1088.6 282.9 1089.9 283.0 1093.0 283.1 1092.9 283.2 1094.5 283.4 1095.1 283.6 1095.1 283.9 1096.4 284.1 1098.6 284.3 1099.0 284.5 1100.8 284.7 1102.2 284.9 1102.1 285.1 1104.2 285.6 1104.4 286.1 1106.5 286.6 1106.1 287.0 1108.4 287.5 1108.2 288.0 1109.8 288.5 1110.9 288.9 1111.9 289.4 1111.5 289.9 1111.7 290.4 1112.4 290.8 1115.9 291.2 1114.8 291.5 1117.6 291.8 1117.5 292.1 1118.3 292.4 1120.7 292.7 1120.5 293.1 1120.1 293.4 1123.1 293.7 1122.1 294.0 1124.3 294.3 1126.0 294.6 1126.0 294.9 1128.2 295.1 1127.0 295.3 1128.6 295.5 1131.2 295.8 1132.1 296.0 1132.2 296.2 1132.6 296.4 1133.1 296.7 1136.1 296.9 1135.4 297.1 1137.8 297.3 1137.9 297.6 1139.5 297.8 1139.3 298.0 1141.4 298.2 1143.2 298.4 1143.0 299.7 1143.3 301.0 1142.4 302.3 1144.4 302.6 1144.9 302.9 1144.2 303.2 1147.4 303.5 1148.2 303.8 1148.3 304.2 1150.1 304.3 1151.0 304.4 1151.7 304.5 1153.0 304.7 1151.7 304.8 1153.2 304.9 1155.6 305.0 1156.9 305.2 1156.1 305.3 1158.0 305.4 1158.6 305.6 1161.2 305.7 1160.9 305.8 1162.8 305.9 1163.6 306.1 1163.6 307.3 1165.5 308.6 1165.1 309.9 1163.5 310.3 1164.8 310.8 1165.1 311.3 1168.2 311.8 1167.1 312.2 1170.3 312.7 1169.4 313.2 1171.2 313.7 1171.3 314.4 1173.1 315.2 1173.9 316.0 1175.2 316.7 1174.8 317.5 1175.0 318.4 1176.6 319.4 1175.2 320.3 1177.3 321.3 1176.2 322.2 1179.0 323.2 1179.5 324.1 1179.6 325.1 1179.6 325.8 1178.8 326.6 1180.0 327.4 1182.8 328.1 1181.1 328.9 1182.6 330.0 1181.9 331.2 1183.3 332.3 1183.6 333.5 1182.1 334.6 1182.0 334.8 1183.6 334.9 1185.5 335.1 1186.0 335.3 1186.6 335.5 1187.1 335.6 1190.2 335.8 1191.7 336.0 1191.0 336.2 1193.8 336.3 1192.7 336.5 1194.5 336.9 1195.7 337.3 1197.8 337.6 1196.8 338.0 1199.4 338.4 1198.7 338.8 1199.5 339.2 1200.1 339.5 1201.5 339.9 1201.9 340.3 1205.2 340.9 1203.6 341.6 1206.8 342.2 1206.9 342.8 1206.4 343.5 1208.0 344.1 1209.3 344.7 1210.5 345.4 1210.6 346.0 1210.8 346.9 1211.5 347.7 1212.9 348.5 1213.7 349.4 1214.1 350.2 1214.7 351.1 1215.3 351.9 1215.9 352.8 1216.5 353.6 1217.0 354.8 1217.0 355.9 1217.0 357.0 1217.0 358.2 1217.0 359.3 1217.0" stroke="#e81414" stroke-width="1.8" fill="none" stroke-linejoin="round"/>
<path d="M202.4 1217.0 203.0 1216.2 203.6 1215.4 204.2 1214.6 204.8 1214.9 205.4 1211.9 206.0 1211.5 206.6 1211.2 207.2 1211.1 207.8 1209.2 208.4 1208.6 209.0 1209.3 209.5 1205.7 210.0 1205.0 210.5 1204.5 211.1 1204.8 211.6 1202.7 212.1 1202.2 212.6 1202.1 213.1 1200.8 213.6 1199.5 214.1 1200.2 214.6 1198.0 215.1 1196.0 215.6 1197.2 216.1 1196.6 216.6 1193.8 216.9 1193.7 217.1 1191.4 217.4 1191.1 217.6 1192.0 217.9 1189.4 218.1 1188.3 218.4 1186.9 218.6 1185.7 218.9 1184.5 219.1 1183.3 219.4 1184.5 219.6 1183.0 219.9 1180.3 220.1 1179.6 220.4 1181.0 220.6 1179.5 220.9 1176.8 221.1 1178.1 221.4 1176.0 221.6 1174.5 221.8 1172.7 222.1 1171.5 222.3 1171.2 222.5 1169.8 222.7 1169.6 222.8 1168.9 223.0 1167.5 223.2 1166.2 223.3 1166.9 223.5 1164.9 223.7 1165.1 223.8 1162.3 224.0 1161.3 224.2 1161.5 224.3 1158.8 224.5 1160.2 224.7 1157.2 224.8 1157.9 225.0 1155.7 225.2 1155.7 225.3 1153.3 225.5 1153.5 225.7 1151.3 225.8 1151.3 226.0 1149.4 226.1 1147.6 226.2 1149.1 226.3 1145.7 226.4 1144.5 226.5 1146.0 226.6 1144.7 226.7 1141.5 226.8 1141.0 226.8 1140.7 226.9 1138.4 227.0 1138.3 227.1 1138.8 227.2 1137.1 227.3 1135.7 227.4 1133.4 227.4 1133.5 227.5 1133.5 227.6 1132.4 227.7 1130.7 227.8 1129.7 227.9 1128.8 228.0 1125.8 228.1 1124.8 228.3 1125.6 228.5 1124.2 228.7 1124.0 228.9 1121.4 229.1 1121.2 229.4 1119.8 229.6 1119.6 229.8 1116.7 230.0 1116.7 230.2 1116.7 230.5 1113.4 230.7 1113.4 230.9 1112.3 231.0 1111.6 231.1 1111.2 231.2 1109.7 231.2 1109.4 231.3 1107.8 231.4 1106.1 231.5 1106.7 231.6 1104.5 231.7 1102.8 231.8 1102.1 231.8 1102.8 231.9 1101.9 232.0 1099.9 232.1 1097.8 232.2 1097.4 232.3 1097.6 232.3 1094.8 232.4 1093.8 232.5 1093.0 232.6 1092.2 232.7 1090.5 232.8 1089.7 232.9 1088.3 232.9 1088.4 233.0 1086.5 233.1 1085.6 233.2 1084.8 233.3 1084.2 233.4 1083.0 233.4 1082.5 233.5 1080.1 233.6 1079.0 233.7 1078.8 233.8 1078.1 233.9 1078.6 233.9 1074.9 234.0 1076.2 234.1 1073.3 234.2 1073.3 234.3 1073.0 234.4 1071.9 234.5 1069.4 234.5 1070.0 234.6 1066.9 234.7 1066.8 234.8 1069.4 235.0 1069.8 235.1 1069.9 235.3 1070.3 235.4 1071.9 235.5 1072.9 235.7 1075.4 235.8 1074.3 235.9 1077.0 236.1 1078.0 236.2 1077.5 236.3 1080.0 236.5 1081.4 236.6 1081.0 236.7 1081.6 236.9 1083.0 237.0 1084.2 237.2 1085.3 237.3 1086.1 237.4 1088.0 237.6 1087.6 237.8 1088.4 238.0 1086.1 238.2 1083.9 238.5 1083.2 238.7 1083.2 238.9 1082.9 239.1 1080.2 239.4 1081.3 239.6 1077.9 239.8 1079.3 240.0 1076.1 240.3 1076.2 240.5 1075.6 240.7 1073.1 240.9 1072.7 241.1 1070.8 241.4 1071.9 241.8 1071.9 242.3 1073.3 242.8 1073.8 243.3 1075.9 243.7 1075.9 244.2 1076.5 244.7 1078.3 245.2 1079.0 245.4 1079.5 245.6 1079.4 245.8 1082.9 246.1 1081.4 246.3 1083.4 246.5 1085.4 246.7 1084.8 247.0 1086.1 247.2 1086.6 247.4 1087.6 247.6 1090.0 247.9 1090.0 248.1 1090.5 248.3 1093.8 248.5 1093.0 248.8 1094.6 249.0 1096.0 249.9 1096.5 250.9 1096.3 251.8 1097.3 252.8 1098.5 253.2 1096.7 253.5 1095.1 253.9 1094.0 254.3 1093.3 254.7 1092.7 255.1 1092.9 255.4 1091.1 255.8 1090.6 256.2 1089.3 256.6 1087.6 257.2 1090.3 257.9 1088.8 258.5 1090.6 259.1 1091.3 259.8 1092.1 260.4 1092.5 260.8 1092.6 261.2 1093.2 261.5 1091.5 261.9 1089.0 262.3 1090.0 262.7 1088.9 263.1 1088.2 263.4 1085.4 263.8 1086.1 264.2 1082.9 264.4 1082.7 264.6 1082.0 264.8 1080.7 265.0 1080.2 265.3 1079.4 265.5 1077.3 265.7 1075.7 265.9 1074.5 266.1 1074.5 266.6 1076.9 267.1 1077.0 267.5 1077.3 268.0 1079.4 268.5 1080.8 269.0 1081.8 269.4 1080.4 269.9 1081.5 270.7 1080.7 271.4 1082.1 272.2 1081.1 273.0 1079.3 273.7 1078.9 274.1 1079.4 274.5 1081.3 274.9 1081.8 275.2 1081.9 275.6 1082.3 276.0 1084.4 276.4 1083.9 276.8 1086.3 277.1 1086.6 277.5 1088.2 278.8 1087.4 280.1 1088.0 281.3 1089.1 281.6 1088.0 281.9 1089.0 282.2 1090.2 282.5 1091.2 282.8 1094.3 283.1 1093.4 283.4 1095.8 283.7 1097.1 284.0 1097.3 284.3 1099.1 284.5 1098.5 284.8 1099.4 285.1 1101.1 285.8 1101.4 286.4 1103.8 287.0 1104.1 287.7 1105.7 288.3 1106.3 288.9 1107.2 289.7 1107.3 290.5 1109.8 291.2 1108.0 292.0 1110.5 292.7 1111.8 292.8 1112.7 292.9 1111.9 293.0 1115.0 293.1 1115.9 293.2 1117.1 293.3 1117.4 293.3 1119.2 293.4 1120.0 293.5 1121.5 293.6 1121.5 293.7 1123.1 294.0 1122.5 294.4 1125.3 294.8 1124.9 295.1 1126.3 295.5 1125.7 295.8 1126.9 296.2 1128.9 296.5 1130.3 296.9 1131.7 297.2 1132.7 297.5 1132.9 297.8 1134.3 298.1 1133.4 298.4 1135.8 298.8 1136.6 299.1 1138.2 299.4 1138.5 299.7 1138.3 300.0 1140.9 300.4 1142.1 300.6 1142.7 300.9 1144.5 301.1 1145.0 301.4 1145.1 301.6 1146.3 301.9 1146.6 302.1 1148.7 302.4 1148.2 302.6 1150.5 302.9 1152.6 303.1 1152.7 303.4 1153.4 303.6 1153.8 303.9 1154.3 304.2 1155.8 304.5 1158.4 304.9 1158.4 305.3 1158.2 305.7 1160.4 306.1 1161.9 306.4 1162.1 306.8 1163.3 307.2 1163.0 307.6 1164.1 308.0 1166.3 308.6 1166.6 309.2 1167.8 309.9 1170.2 310.5 1168.8 311.1 1169.5 311.8 1171.1 312.1 1173.3 312.5 1172.8 312.9 1174.1 313.3 1175.6 313.7 1176.2 314.0 1177.9 314.4 1178.9 314.8 1179.1 315.2 1180.1 315.6 1182.6 316.5 1181.7 317.5 1183.0 318.4 1184.1 319.4 1182.1 320.0 1183.0 320.6 1184.2 321.3 1185.0 321.9 1187.6 322.5 1187.2 323.2 1187.7 323.8 1189.4 324.4 1191.6 325.1 1191.3 325.7 1192.7 326.4 1193.0 327.0 1196.0 328.1 1195.1 329.2 1194.6 330.2 1194.5 331.3 1194.7 332.4 1195.3 333.5 1197.3 334.6 1195.4 335.2 1198.4 335.9 1199.4 336.5 1198.3 337.1 1198.6 337.8 1200.0 338.4 1200.3 339.0 1202.8 339.7 1203.4 340.3 1203.7 340.9 1206.3 341.6 1207.1 342.2 1207.0 342.8 1208.0 343.5 1209.7 344.1 1209.4 344.7 1210.8 345.4 1211.1 346.0 1211.4 346.8 1213.4 347.6 1213.7 348.5 1214.0 349.3 1214.8 350.1 1215.5 350.9 1216.3 351.7 1217.0" stroke="#18e818" stroke-width="1.8" fill="none" stroke-linejoin="round"/>
<path d="M202.4 1217.0 203.2 1216.4 204.0 1215.7 204.9 1215.0 205.7 1214.4 206.5 1212.3 207.4 1211.9 208.2 1211.6 209.0 1210.9 209.5 1210.1 210.0 1208.8 210.5 1210.3 211.1 1207.9 211.6 1207.3 212.1 1207.1 212.6 1204.2 213.1 1203.5 213.6 1204.4 214.1 1202.7 214.6 1201.1 215.1 1201.8 215.6 1199.7 216.1 1198.2 216.6 1197.3 216.9 1197.4 217.2 1195.4 217.5 1194.3 217.8 1194.7 218.1 1193.6 218.4 1191.5 218.7 1190.5 219.0 1190.0 219.3 1188.1 219.6 1187.4 219.9 1187.6 220.2 1185.7 220.5 1185.1 220.8 1185.1 221.1 1184.2 221.4 1181.1 221.7 1182.0 222.0 1181.7 222.3 1178.3 222.6 1177.3 222.8 1178.3 223.0 1176.8 223.3 1174.3 223.5 1175.5 223.7 1172.9 223.9 1173.3 224.2 1172.8 224.4 1169.2 224.6 1170.5 224.9 1169.2 225.1 1167.5 225.3 1166.8 225.5 1166.1 225.8 1165.3 226.0 1162.7 226.2 1163.1 226.5 1160.2 226.7 1161.2 226.9 1160.4 227.1 1158.7 227.4 1158.3 227.6 1155.5 227.8 1156.0 228.1 1153.5 228.2 1154.3 228.3 1154.0 228.5 1152.1 228.6 1149.2 228.7 1150.6 228.9 1149.1 229.0 1146.6 229.1 1145.6 229.3 1144.3 229.4 1145.2 229.5 1144.0 229.7 1141.3 229.8 1141.8 230.0 1140.4 230.1 1140.2 230.2 1137.6 230.4 1136.5 230.5 1135.4 230.6 1135.7 230.8 1135.2 230.9 1132.4 231.0 1132.5 231.2 1131.3 231.3 1130.3 231.4 1128.4 231.6 1127.8 231.7 1127.5 231.9 1124.9 232.0 1125.4 232.1 1123.0 232.2 1121.8 232.3 1121.2 232.5 1121.3 232.6 1120.0 232.7 1117.7 232.8 1119.2 232.9 1115.8 233.0 1115.4 233.2 1115.1 233.3 1114.5 233.4 1114.1 233.5 1113.3 233.6 1109.9 233.8 1110.8 233.9 1108.2 234.0 1108.9 234.1 1105.6 234.2 1106.2 234.4 1106.1 234.5 1103.1 234.6 1104.2 234.7 1103.2 234.8 1100.6 234.9 1098.9 235.1 1099.6 235.2 1097.9 235.3 1095.7 235.4 1096.6 235.5 1096.0 235.7 1094.0 235.9 1092.7 236.1 1091.3 236.3 1091.3 236.5 1091.0 236.7 1088.6 236.9 1087.6 237.1 1088.0 237.3 1087.1 237.5 1084.5 237.7 1082.5 237.9 1084.0 238.1 1082.3 238.3 1081.0 238.5 1080.6 238.7 1077.9 238.9 1078.8 239.1 1076.9 239.3 1076.1 239.5 1073.9 240.0 1072.9 240.6 1071.8 241.1 1073.0 241.6 1071.7 242.2 1070.6 242.7 1070.3 243.3 1067.0 243.8 1070.0 244.4 1069.7 244.9 1070.8 245.4 1070.9 246.0 1072.4 246.5 1074.7 247.1 1074.9 247.2 1077.1 247.4 1076.2 247.5 1077.7 247.7 1079.6 247.8 1078.8 248.0 1082.0 248.1 1082.2 248.2 1082.6 248.4 1085.0 248.5 1086.2 248.7 1087.1 248.8 1087.7 249.0 1088.0 249.4 1089.1 249.7 1091.1 250.1 1091.9 250.5 1091.7 250.9 1092.8 251.3 1094.8 251.6 1095.0 252.0 1096.9 252.4 1095.4 252.8 1098.4 253.5 1098.9 254.3 1099.1 255.1 1100.3 255.8 1099.9 256.6 1100.0 256.7 1101.6 256.9 1102.9 257.0 1103.6 257.2 1104.8 257.3 1107.0 257.5 1106.8 257.6 1108.0 257.8 1110.9 257.9 1109.6 258.1 1112.3 258.2 1111.6 258.3 1113.3 258.5 1115.5 258.8 1113.1 259.1 1113.3 259.4 1111.8 259.8 1111.3 260.1 1110.6 260.4 1107.9 260.7 1106.9 261.0 1107.9 261.3 1106.4 261.7 1104.6 262.0 1103.6 262.3 1104.3 262.8 1102.5 263.2 1100.4 263.7 1100.0 264.2 1099.7 264.7 1098.6 265.2 1096.5 265.6 1096.2 266.1 1094.6 267.1 1097.3 268.0 1096.4 269.0 1097.9 269.9 1098.2 270.7 1096.2 271.4 1096.9 272.2 1095.3 273.0 1094.2 273.7 1094.7 274.7 1094.2 275.6 1093.3 276.6 1092.2 277.5 1092.1 278.2 1090.4 278.9 1090.8 279.7 1089.6 280.4 1087.3 280.5 1087.7 280.7 1090.3 280.9 1091.9 281.0 1091.2 281.2 1094.1 281.4 1094.6 281.5 1096.2 281.7 1095.2 281.9 1098.2 282.1 1096.9 282.2 1098.0 282.4 1099.4 282.6 1101.6 282.7 1102.2 282.9 1102.4 283.1 1103.5 283.2 1105.4 283.6 1105.8 283.9 1106.1 284.3 1109.0 284.7 1109.9 285.0 1109.7 285.4 1112.0 285.7 1112.4 286.1 1111.5 286.6 1114.6 287.0 1115.0 287.5 1116.0 288.0 1116.5 288.5 1117.9 288.9 1119.9 289.3 1118.6 289.6 1119.1 289.9 1121.8 290.2 1121.0 290.5 1123.2 290.8 1123.6 291.2 1124.2 291.5 1125.3 291.8 1126.1 292.1 1128.3 292.4 1128.4 292.7 1130.0 293.0 1131.7 293.2 1131.6 293.5 1134.3 293.8 1134.5 294.0 1136.2 294.3 1136.3 294.5 1136.4 294.8 1137.6 295.0 1139.5 295.3 1140.6 295.5 1141.1 295.8 1143.3 296.0 1142.8 296.3 1145.0 296.5 1145.9 296.9 1146.9 297.2 1145.8 297.5 1149.3 297.8 1149.5 298.1 1149.5 298.4 1152.0 298.8 1152.0 299.1 1154.0 299.4 1155.0 299.7 1154.3 300.0 1155.1 300.4 1157.9 300.8 1158.7 301.3 1159.4 301.8 1158.6 302.3 1160.7 302.7 1162.2 303.2 1163.5 303.7 1162.9 304.2 1165.0 304.6 1164.0 305.1 1165.0 305.6 1167.6 306.1 1167.2 306.5 1169.1 307.0 1170.5 307.5 1170.0 308.0 1172.5 308.4 1171.8 308.9 1172.8 309.4 1175.7 309.9 1174.2 310.3 1177.6 310.8 1177.7 311.3 1179.2 311.8 1178.6 312.5 1179.2 313.3 1180.1 314.0 1181.7 314.8 1182.4 315.6 1184.2 316.3 1183.7 317.1 1184.2 317.9 1185.6 318.6 1187.1 319.4 1187.0 319.9 1188.4 320.3 1190.2 320.8 1189.2 321.3 1191.3 321.8 1191.9 322.2 1192.5 322.7 1194.0 323.2 1193.9 324.1 1195.6 325.1 1196.8 326.0 1197.2 327.0 1195.9 327.9 1196.8 328.9 1198.8 329.8 1198.7 330.8 1197.5 331.7 1199.4 332.7 1199.8 333.6 1199.6 334.6 1200.1 335.3 1202.2 336.0 1201.8 336.7 1201.8 337.5 1203.0 338.2 1203.6 338.9 1205.8 339.6 1204.0 340.3 1206.8 340.9 1207.5 341.6 1208.9 342.2 1207.8 342.8 1210.6 343.5 1210.4 344.1 1209.9 344.7 1212.2 345.4 1213.5 346.0 1213.6 347.0 1214.2 347.9 1214.8 348.9 1215.3 349.8 1215.9 350.8 1216.5 351.7 1217.0" stroke="#0a14e0" stroke-width="1.8" fill="none" stroke-linejoin="round"/>
<path d="M202.4 1217.0 203.1 1216.2 203.8 1215.4 204.6 1214.6 205.3 1213.8 206.1 1212.0 206.8 1212.6 207.5 1212.2 208.3 1210.5 209.0 1209.7 209.5 1207.9 209.9 1206.7 210.4 1206.4 210.8 1206.0 211.3 1204.3 211.7 1204.0 212.2 1203.5 212.6 1202.8 213.1 1202.4 213.5 1200.9 214.0 1199.1 214.4 1198.5 214.8 1198.0 215.3 1197.4 215.7 1196.2 216.2 1195.2 216.6 1195.7 216.9 1194.1 217.2 1193.8 217.5 1190.7 217.7 1191.1 218.0 1189.6 218.3 1188.1 218.5 1186.4 218.8 1187.7 219.1 1184.2 219.4 1185.5 219.6 1183.3 219.9 1183.6 220.2 1180.3 220.4 1179.4 220.7 1179.4 221.0 1179.0 221.3 1178.1 221.5 1176.1 221.8 1176.0 222.1 1174.4 222.3 1172.7 222.6 1171.6 222.8 1170.9 223.0 1171.7 223.2 1169.0 223.5 1168.8 223.7 1166.6 223.9 1168.0 224.1 1166.7 224.4 1163.7 224.6 1162.8 224.8 1163.7 225.0 1161.0 225.3 1159.5 225.5 1159.8 225.7 1157.6 225.9 1156.4 226.1 1156.9 226.3 1156.9 226.5 1153.7 226.6 1154.6 226.8 1153.0 226.9 1152.6 227.1 1150.1 227.2 1149.2 227.4 1148.8 227.5 1146.9 227.7 1146.1 227.8 1144.6 228.0 1145.6 228.1 1143.6 228.3 1141.7 228.4 1142.9 228.6 1139.9 228.7 1138.4 228.9 1138.7 229.0 1138.2 229.2 1136.9 229.3 1136.2 229.5 1134.6 229.6 1134.7 229.8 1133.1 230.0 1131.0 230.1 1131.9 230.3 1128.6 230.4 1128.4 230.6 1128.1 230.7 1128.1 230.9 1125.4 231.0 1124.0 231.2 1124.3 231.3 1123.7 231.5 1121.3 231.6 1120.8 231.8 1120.4 231.9 1119.0 232.1 1118.9 232.2 1115.9 232.4 1116.7 232.5 1113.6 232.7 1113.3 232.8 1113.8 232.9 1111.9 233.1 1112.0 233.2 1110.1 233.3 1109.5 233.4 1107.0 233.6 1106.7 233.7 1105.6 233.8 1104.1 233.9 1103.5 234.1 1103.1 234.2 1102.8 234.3 1100.7 234.5 1098.5 234.6 1098.3 234.7 1097.0 234.9 1095.9 235.0 1095.4 235.1 1094.0 235.3 1094.3 235.4 1092.3 235.6 1092.5 235.7 1089.8 235.9 1090.7 236.0 1087.3 236.2 1087.7 236.3 1085.2 236.5 1084.5 236.6 1085.1 236.8 1083.4 236.9 1081.8 237.1 1079.9 237.2 1081.2 237.3 1079.6 237.5 1076.8 237.6 1076.7 237.8 1076.1 237.9 1073.7 238.1 1072.8 238.2 1073.4 238.4 1073.0 238.5 1070.5 239.5 1068.7 240.4 1069.0 240.9 1070.7 241.4 1071.7 241.8 1072.7 242.3 1073.6 242.8 1074.4 243.3 1073.5 243.7 1074.3 244.2 1074.1 244.7 1071.9 245.2 1070.3 245.7 1071.0 246.1 1069.8 246.3 1070.2 246.5 1069.7 246.6 1071.9 246.8 1072.9 247.0 1074.9 247.2 1076.5 247.3 1076.3 247.5 1077.2 247.7 1078.6 247.9 1079.6 248.0 1080.9 248.7 1080.6 249.5 1082.1 250.2 1084.2 250.9 1084.4 251.1 1085.0 251.3 1085.4 251.5 1086.5 251.7 1087.3 251.9 1090.7 252.2 1090.8 252.4 1092.3 252.6 1093.2 252.8 1094.0 253.7 1092.0 254.7 1092.3 255.6 1091.3 256.1 1091.4 256.6 1093.8 257.1 1095.9 257.5 1097.0 258.0 1095.6 258.5 1098.4 259.4 1096.7 260.4 1097.5 261.3 1098.0 262.3 1098.9 262.6 1099.2 262.8 1100.8 263.1 1101.5 263.4 1104.4 263.7 1105.9 263.9 1106.1 264.2 1105.9 264.5 1105.2 264.7 1103.8 265.0 1105.2 265.3 1102.7 265.6 1100.7 265.8 1100.7 266.1 1098.8 266.8 1100.8 267.5 1101.3 268.2 1102.6 269.0 1104.1 269.3 1104.2 269.6 1104.2 269.9 1106.0 270.2 1107.3 270.5 1107.2 270.9 1110.0 271.3 1108.5 271.8 1106.0 272.3 1106.9 272.8 1105.9 273.2 1104.5 273.7 1103.3 274.1 1104.2 274.4 1104.0 274.8 1104.9 275.1 1107.9 275.5 1107.8 275.9 1109.2 276.2 1110.3 276.6 1111.9 276.7 1112.4 276.9 1112.8 277.1 1114.1 277.3 1114.3 277.4 1117.1 277.6 1117.4 277.8 1116.9 278.0 1119.9 278.1 1121.6 278.3 1122.5 278.5 1122.8 279.2 1123.6 279.9 1125.6 280.6 1126.0 281.3 1125.7 282.1 1127.9 282.8 1128.9 283.6 1128.2 284.4 1128.8 285.1 1130.0 285.8 1129.9 286.4 1132.7 287.0 1131.9 287.7 1134.4 288.3 1134.3 288.9 1135.0 289.2 1137.6 289.5 1139.0 289.7 1138.3 290.0 1141.0 290.2 1139.9 290.5 1141.6 290.8 1142.5 291.0 1144.2 291.3 1144.5 291.5 1145.3 291.8 1147.4 292.1 1148.0 292.4 1149.7 292.7 1150.3 293.1 1151.0 293.4 1152.3 293.7 1154.3 294.0 1155.1 294.3 1155.0 294.6 1156.5 295.3 1156.2 295.9 1159.5 296.5 1160.7 297.2 1161.1 297.8 1162.4 298.4 1161.3 298.8 1162.8 299.1 1163.1 299.4 1163.9 299.7 1165.7 300.0 1167.1 300.4 1168.8 300.7 1169.9 301.0 1169.1 301.3 1171.9 301.6 1172.9 301.9 1173.0 302.3 1174.5 302.4 1176.0 302.6 1175.8 302.8 1175.7 302.9 1177.0 303.1 1179.1 303.3 1180.4 303.5 1180.6 303.6 1181.4 303.8 1183.8 304.0 1184.6 304.2 1186.1 304.9 1186.2 305.7 1187.1 306.4 1187.3 307.2 1187.8 308.0 1189.2 308.7 1189.9 309.4 1189.5 310.1 1190.6 310.8 1190.6 311.5 1192.9 312.2 1192.2 313.0 1193.9 313.7 1196.0 314.6 1196.4 315.6 1196.5 316.5 1197.4 317.5 1197.7 318.4 1199.1 319.4 1197.5 320.3 1199.3 321.3 1199.1 322.2 1199.5 323.2 1201.6 324.1 1201.7 325.1 1200.7 326.0 1201.9 327.0 1202.7 327.9 1202.9 328.9 1202.8 329.8 1202.4 330.8 1204.7 331.7 1205.2 332.7 1204.7 333.6 1204.3 334.6 1204.8 335.4 1207.2 336.3 1207.9 337.1 1209.0 338.0 1208.2 338.8 1209.5 339.7 1210.3 340.5 1211.1 341.4 1212.4 342.2 1211.3 343.1 1212.6 343.9 1213.9 344.7 1214.5 345.6 1214.0 346.4 1214.6 347.3 1215.1 348.1 1215.7 349.0 1216.3 349.8 1216.9" stroke="#000" stroke-width="1.8" fill="none" stroke-linejoin="round"/>
<path d="M202.4 1058.6 H360.3 V1217" stroke="#888" stroke-width="1.3" fill="none"/>
<path d="M202.4 1058.6 V1217 H360.3" stroke="#111" stroke-width="1.5" fill="none"/>
<path d="M198.6 1065.8 H202.4 M198.6 1096.0 H202.4 M198.6 1126.3 H202.4 M198.6 1156.5 H202.4 M198.6 1186.8 H202.4 M198.6 1217.0 H202.4 M200.4 1075.8 H202.4 M200.4 1085.8 H202.4 M200.4 1106.0 H202.4 M200.4 1116.0 H202.4 M200.4 1136.3 H202.4 M200.4 1146.2 H202.4 M200.4 1166.5 H202.4 M200.4 1176.5 H202.4 M200.4 1196.7 H202.4 M200.4 1206.7 H202.4 M203.4 1217 V1220.5 M215.0 1217 V1220.5 M237.1 1217 V1220.5 M275.0 1217 V1220.5 M311.4 1217 V1220.5 M346.1 1217 V1220.5 M206.9 1217 V1219 M208.9 1217 V1219 M210.4 1217 V1219 M211.5 1217 V1219 M212.5 1217 V1219 M213.2 1217 V1219 M213.9 1217 V1219 M214.5 1217 V1219 M221.7 1217 V1219 M225.6 1217 V1219 M228.3 1217 V1219 M230.5 1217 V1219 M232.2 1217 V1219 M233.7 1217 V1219 M235.0 1217 V1219 M236.1 1217 V1219 M248.5 1217 V1219 M255.2 1217 V1219 M260.0 1217 V1219 M263.6 1217 V1219 M266.6 1217 V1219 M269.2 1217 V1219 M271.4 1217 V1219 M273.3 1217 V1219 M286.0 1217 V1219 M292.4 1217 V1219 M296.9 1217 V1219 M300.4 1217 V1219 M303.3 1217 V1219 M305.7 1217 V1219 M307.8 1217 V1219 M309.7 1217 V1219 M321.8 1217 V1219 M327.9 1217 V1219 M332.3 1217 V1219 M335.6 1217 V1219 M338.4 1217 V1219 M340.7 1217 V1219 M342.7 1217 V1219 M344.5 1217 V1219 " stroke="#111" stroke-width="0.9" fill="none"/>
<text x="459.3" y="1015.7" font-size="23.8" text-anchor="middle">FasL-LZ</text>
<text x="459" y="1043.3" font-size="23" text-anchor="middle">(ng ml<tspan dy="-10" font-size="16.5">−1</tspan><tspan dy="10">)</tspan></text>
<path d="M377.8 1066.9 H534.7" stroke="#000" stroke-width="2.2"/>
<rect x="423.4" y="1086.4" width="28.8" height="13.2" fill="none" stroke="#999" stroke-width="1.6"/>
<text x="467.5" y="1099.4" font-size="23">=</text>
<text x="494.5" y="1099.4" font-size="23">0</text>
<rect x="423.4" y="1115.7" width="28.8" height="13.2" fill="none" stroke="#2244cc" stroke-width="1.6"/>
<text x="467.5" y="1128.7" font-size="23">=</text>
<text x="514.5" y="1128.7" font-size="23" text-anchor="end">10</text>
<rect x="423.4" y="1145.0" width="28.8" height="13.2" fill="none" stroke="#44cc44" stroke-width="1.6"/>
<text x="467.5" y="1158.0" font-size="23">=</text>
<text x="514.5" y="1158.0" font-size="23" text-anchor="end">20</text>
<rect x="423.4" y="1174.3" width="28.8" height="13.2" fill="none" stroke="#dd2222" stroke-width="1.6"/>
<text x="467.5" y="1187.3000000000002" font-size="23">=</text>
<text x="514.5" y="1187.3000000000002" font-size="23" text-anchor="end">40</text>
<text x="47" y="1259.4" font-size="23">pS6</text>
<path d="M111.3 1249.9 H272" stroke="#000" stroke-width="5"/>
<path d="M270.6 1242 L287.4 1250 L270.6 1258.5 Z" fill="#000"/>
<text x="568.5" y="985.4" font-size="39" font-weight="bold">e</text>
<text x="689.8" y="984.5" font-size="23" text-anchor="middle">HD,</text>
<text x="690.1" y="1012.8" font-size="23" text-anchor="middle"><tspan font-style="italic">n</tspan> = 3</text>
<text x="827.2" y="984.7" font-size="23.5">ALPS-FAS,</text>
<text x="886.5" y="1013" font-size="23" text-anchor="middle"><tspan font-style="italic">n</tspan> = 3</text>
<path d="M656.1 1036.7 V1246 H727 M651.7 1036.7 H656.1 M651.7 1106.6 H656.1 M651.7 1176 H656.1 M651.7 1246 H656.1 M673.8 1246 V1250.5 M709 1246 V1250.5 " stroke="#000" stroke-width="2" fill="none"/>
<path d="M850.7 1034.8 V1246.8 H922.4 M846.3000000000001 1034.8 H850.7 M846.3000000000001 1105.6 H850.7 M846.3000000000001 1176.4 H850.7 M846.3000000000001 1246.8 H850.7 M868.7 1246.8 V1251.3 M904.5 1246.8 V1251.3 " stroke="#000" stroke-width="2" fill="none"/>
<text x="635" y="1043.2" font-size="23" text-anchor="end">75</text>
<text x="635" y="1113.2" font-size="23" text-anchor="end">50</text>
<text x="635" y="1184" font-size="23" text-anchor="end">25</text>
<text x="635" y="1253.6" font-size="23" text-anchor="end">0</text>
<text x="829.5" y="1041.5" font-size="23" text-anchor="end">75</text>
<text x="829.5" y="1112.4" font-size="23" text-anchor="end">50</text>
<text x="829.5" y="1183.2" font-size="23" text-anchor="end">25</text>
<text x="829.5" y="1254" font-size="23" text-anchor="end">0</text>
<text x="589.5" y="1141.2" font-size="23.3" text-anchor="middle" transform="rotate(-90 589.5 1141.2)">pS6 (fold increase)</text>
<text x="784.2" y="1141.3" font-size="23.3" text-anchor="middle" transform="rotate(-90 784.2 1141.3)">pS6 (fold increase)</text>
<path d="M673.8 1243.5 L709 1070.4 M673.8 1243.5 L709 1181.3 M673.8 1243.5 L709 1225.1" stroke="#000" stroke-width="2" fill="none"/>
<circle cx="673.8" cy="1243.5" r="6" fill="#000"/>
<circle cx="709" cy="1070.4" r="6" fill="#000"/>
<circle cx="709" cy="1181.3" r="6" fill="#000"/>
<circle cx="709" cy="1225.1" r="6" fill="#000"/>
<path d="M868.7 1244.5 L904.5 1236.9 M868.7 1244.5 L904.5 1244.1" stroke="#000" stroke-width="1.6" fill="none"/>
<circle cx="868.7" cy="1244.5" r="5.6" fill="#e81010" stroke="#200" stroke-width="1.5"/>
<circle cx="904.5" cy="1236.9" r="5.6" fill="#e81010" stroke="#200" stroke-width="1.5"/>
<circle cx="904.5" cy="1244.1" r="5.6" fill="#e81010" stroke="#200" stroke-width="1.5"/>
<text x="561" y="1286" font-size="23">lz-FasL:</text>
<text x="661" y="1286" font-size="23">(−) (+)</text>
<text x="751" y="1286" font-size="23">lz-FasL:</text>
<text x="857" y="1286" font-size="23">(−) (+)</text>
</svg></body></html>
